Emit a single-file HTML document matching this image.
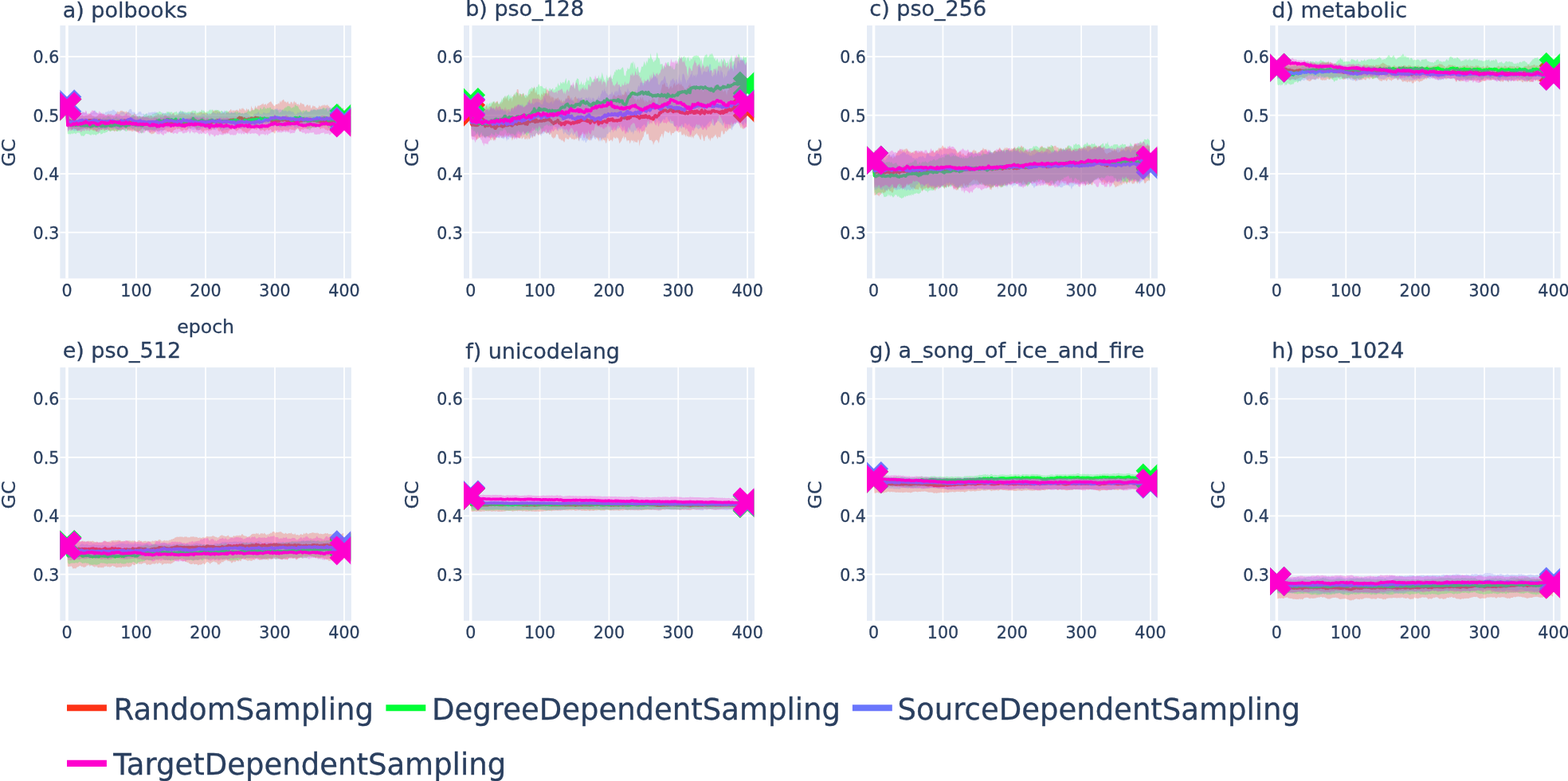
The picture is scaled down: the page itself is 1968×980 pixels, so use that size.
<!DOCTYPE html><html><head><meta charset="utf-8"><title>GC per epoch</title><style>html,body{margin:0;padding:0;background:#fff;overflow:hidden;width:1968px;height:980px}svg{display:block}text{font-family:"DejaVu Sans","Liberation Sans",sans-serif;fill:#2a3f5f;stroke:#2a3f5f;stroke-width:0.3px}</style></head><body>
<svg width="1968" height="980" viewBox="0 0 1968 980">
<rect width="1968" height="980" fill="#fff"/>
<defs>
<clipPath id="c00"><rect x="75.40" y="31.90" width="364.80" height="317.50"/></clipPath>
<clipPath id="c01"><rect x="582.00" y="31.90" width="364.30" height="317.50"/></clipPath>
<clipPath id="c02"><rect x="1088.00" y="31.90" width="364.30" height="317.50"/></clipPath>
<clipPath id="c03"><rect x="1594.00" y="31.90" width="363.90" height="317.50"/></clipPath>
<clipPath id="c10"><rect x="75.40" y="461.10" width="364.80" height="317.80"/></clipPath>
<clipPath id="c11"><rect x="582.00" y="461.10" width="364.30" height="317.80"/></clipPath>
<clipPath id="c12"><rect x="1088.00" y="461.10" width="364.30" height="317.80"/></clipPath>
<clipPath id="c13"><rect x="1594.00" y="461.10" width="363.90" height="317.80"/></clipPath>
</defs>
<rect x="75.40" y="31.90" width="365.50" height="317.50" fill="#E5ECF6"/>
<path d="M171.00 31.90V349.40M258.00 31.90V349.40M345.00 31.90V349.40M432.00 31.90V349.40M75.40 291.60H440.90M75.40 218.10H440.90M75.40 144.60H440.90M75.40 71.10H440.90" stroke="#fff" stroke-width="1.72" fill="none"/>
<path d="M84.00 31.90V349.40" stroke="#fff" stroke-width="3.44" fill="none"/>
<rect x="582.00" y="31.90" width="365.00" height="317.50" fill="#E5ECF6"/>
<path d="M677.55 31.90V349.40M764.40 31.90V349.40M851.25 31.90V349.40M938.10 31.90V349.40M582.00 291.60H947.00M582.00 218.10H947.00M582.00 144.60H947.00M582.00 71.10H947.00" stroke="#fff" stroke-width="1.72" fill="none"/>
<path d="M590.70 31.90V349.40" stroke="#fff" stroke-width="3.44" fill="none"/>
<rect x="1088.00" y="31.90" width="365.00" height="317.50" fill="#E5ECF6"/>
<path d="M1183.45 31.90V349.40M1270.30 31.90V349.40M1357.15 31.90V349.40M1444.00 31.90V349.40M1088.00 291.60H1453.00M1088.00 218.10H1453.00M1088.00 144.60H1453.00M1088.00 71.10H1453.00" stroke="#fff" stroke-width="1.72" fill="none"/>
<path d="M1096.60 31.90V349.40" stroke="#fff" stroke-width="3.44" fill="none"/>
<rect x="1594.00" y="31.90" width="364.60" height="317.50" fill="#E5ECF6"/>
<path d="M1689.30 31.90V349.40M1776.20 31.90V349.40M1863.10 31.90V349.40M1950.00 31.90V349.40M1594.00 291.60H1958.60M1594.00 218.10H1958.60M1594.00 144.60H1958.60M1594.00 71.10H1958.60" stroke="#fff" stroke-width="1.72" fill="none"/>
<path d="M1602.40 31.90V349.40" stroke="#fff" stroke-width="3.44" fill="none"/>
<rect x="75.40" y="461.10" width="365.50" height="317.80" fill="#E5ECF6"/>
<path d="M171.00 461.10V778.90M258.00 461.10V778.90M345.00 461.10V778.90M432.00 461.10V778.90M75.40 720.70H440.90M75.40 647.30H440.90M75.40 573.90H440.90M75.40 500.50H440.90" stroke="#fff" stroke-width="1.72" fill="none"/>
<path d="M84.00 461.10V778.90" stroke="#fff" stroke-width="3.44" fill="none"/>
<rect x="582.00" y="461.10" width="365.00" height="317.80" fill="#E5ECF6"/>
<path d="M677.55 461.10V778.90M764.40 461.10V778.90M851.25 461.10V778.90M938.10 461.10V778.90M582.00 720.70H947.00M582.00 647.30H947.00M582.00 573.90H947.00M582.00 500.50H947.00" stroke="#fff" stroke-width="1.72" fill="none"/>
<path d="M590.70 461.10V778.90" stroke="#fff" stroke-width="3.44" fill="none"/>
<rect x="1088.00" y="461.10" width="365.00" height="317.80" fill="#E5ECF6"/>
<path d="M1183.45 461.10V778.90M1270.30 461.10V778.90M1357.15 461.10V778.90M1444.00 461.10V778.90M1088.00 720.70H1453.00M1088.00 647.30H1453.00M1088.00 573.90H1453.00M1088.00 500.50H1453.00" stroke="#fff" stroke-width="1.72" fill="none"/>
<path d="M1096.60 461.10V778.90" stroke="#fff" stroke-width="3.44" fill="none"/>
<rect x="1594.00" y="461.10" width="364.60" height="317.80" fill="#E5ECF6"/>
<path d="M1689.30 461.10V778.90M1776.20 461.10V778.90M1863.10 461.10V778.90M1950.00 461.10V778.90M1594.00 720.70H1958.60M1594.00 647.30H1958.60M1594.00 573.90H1958.60M1594.00 500.50H1958.60" stroke="#fff" stroke-width="1.72" fill="none"/>
<path d="M1602.40 461.10V778.90" stroke="#fff" stroke-width="3.44" fill="none"/>
<g clip-path="url(#c00)">
<g transform="translate(84.00 0) scale(0.8700 1)">
<path d="M0 133.6l1 10.6 1-.8 1 .7 1-.2 1 .7 1 .7 1 .2 1-1.2 1-.6 1-.1 1 0 1 1.1 1 .6 1-1.1 1-.4 1 2 1 .8 1-1.5 1 .3 1 .1 1-.9 1-.7 1 1.6 1-.2 1 .7 1-1.3 1 .3 1-.4 1 .3 1-.7 1-.2 1-2.1 1 .7 1 .5 1 .5 1 .9 1 1.1 1 .1 1-.1 1 1.3 1-.7 1 .5 1-1 1-.2 1-1.4 1 .1 1-1.5 1 .5 1 .1 1-1.2 1 1.5 1-.2 1 .5 1-1 1 2.3 1-1 1 .6 1-1.3 1-.6 1-.3 1 .8 1-.1 1 .4 1-1.1 1 1.7 1 .5 1 1.2 1-1.1 1 1.4 1-2.5 1-1.3 1-.9 1-2.2 1 .9 1 .7 1-1.1 1-.4 1-1.1 1 .9 1-.8 1 1.8 1-.7 1 .7 1 .7 1-1 1-.6 1 1.7 1-.2 1-.1 1 .8 1 1.3 1-1.2 1 2.2 1 .7 1-.9 1 .3 1-1.8 1 .8 1 .3 1 2 1 .5 1 0 1 .3 1-.6 1 .8 1-.5 1 .6 1 .2 1 0 1-1 1 .9 1 .5 1 .2 1-1.8 1 1.5 1-1.2 1-.4 1-.4 1 1.7 1-.7 1-1.5 1 .5 1 1.4 1 .9 1-.1 1-1.3 1-.4 1-1.2 1 .8 1-.5 1-1.4 1 .3 1 .1 1 1.2 1-1.8 1 1.2 1-.9 1-.7 1 1.8 1 .8 1-1.7 1 .5 1 0 1 0 1 2 1-2.7 1 1.7 1-.3 1-3.5 1 4 1-1.9 1 .5 1-1.6 1-1.1 1 3.2 1 .5 1-.2 1-1.6 1 1.3 1-1.1 1 1.1 1-.9 1-1 1 .5 1 1 1-3 1 3.2 1-2 1 .6 1 .4 1 .9 1-.6 1 .6 1-.3 1-.3 1 .1 1 .8 1-.9 1-2.4 1-.1 1 .1 1 1.9 1-.9 1 .2 1-1.7 1 3.2 1-.2 1-1.7 1 1.3 1-1.3 1-.2 1 0 1-1.2 1 .5 1 .3 1 1.4 1-.8 1-1 1 .8 1 .4 1-.8 1 1.2 1 .2 1 1.6 1 .5 1-2 1 .5 1-.6 1-.6 1-2 1-2.5 1 2 1 .1 1-1.1 1 .6 1 .1 1-1.3 1 2.4 1-.6 1 .5 1-.3 1 3.5 1-1.5 1 .7 1-.5 1 .1 1-1 1 2.8 1-1.7 1-1.3 1-.3 1 .7 1-1.3 1-.8 1-.5 1-1.5 1 .1 1 2.7 1-1.5 1-.3 1 .7 1-.4 1 .6 1-1.3 1 .5 1-.8 1 1.7 1-.2 1-3.1 1 .7 1 1.7 1-2.9 1 1.6 1-1.9 1 1.9 1 .2 1 1.6 1 .4 1-3.6 1 2.3 1-.4 1-1.1 1 3.6 1 .1 1-1.4 1-6.1 1 3.2 1 .3 1 2.4 1-1 1-2.4 1-2.8 1 2.9 1 .3 1-2.2 1-1.4 1 1.6 1-1.3 1-.1 1-.4 1-1.3 1 .6 1-2 1 2.8 1-.7 1-.4 1-.5 1 2.5 1-2.5 1-.5 1-.2 1-1.5 1 .2 1-1.1 1 1 1 1.8 1 .8 1 1.6 1 .4 1 .5 1-2.1 1 0 1-.1 1-.2 1-1.5 1 1.6 1-2.6 1-2 1 2.6 1-2.7 1-.1 1-1.4 1 .5 1 2.9 1-.9 1 .5 1 1.9 1-1.9 1-.5 1 2.9 1 .2 1 .2 1-3.1 1 .5 1 .8 1 2.4 1-3.1 1-1.5 1 2.9 1-1.6 1 1.6 1 1.7 1 0 1-1.1 1 2.5 1-1.3 1-2.5 1 .3 1 1.9 1-.9 1 .8 1-.1 1 2.7 1 1.1 1-2 1-.5 1-1.1 1 1.2 1 1.3 1-1.6 1 0 1 4.1 1-.4 1-1.5 1-1.9 1 1.3 1-.1 1-.1 1 2.2 1-.7 1 1.7 1-1.1 1-.9 1-2.5 1 1.6 1 .4 1-1.6 1 .9 1-1.5 1-.1 1 1.4 1-2.3 1 2.1 1-.3 1-.9 1-.2 1 1.5 1 .1 1 2.1 1-.2 1 2.4 1 1.6 1-4.2 1 .6 1-.2 1-.8 1-2.1 1 1.3 1-2.6 1 3.3 1 .6 1 2.2 1-1.9 1-1 1-.4 1 1.1 1 2.9 1-2.3 1-.2 0 28.8 -1-.3 -1 1.5 -1 .5 -1-.2 -1 1.7 -1-.5 -1 .7 -1 1 -1-2.8 -1 0 -1-.6 -1-1.4 -1 1 -1 .8 -1-.3 -1-1 -1 1.9 -1-.2 -1-3.3 -1 1.8 -1-1.4 -1 .7 -1 .6 -1-1 -1-.6 -1 .6 -1-1.8 -1 .2 -1-1.8 -1 1.5 -1-.2 -1-.5 -1 1.6 -1-.3 -1-2.6 -1-1.1 -1-.2 -1 1.3 -1-1.2 -1 .8 -1-.8 -1 1.6 -1 .5 -1-1.4 -1 1.3 -1 .2 -1 1.2 -1-1.5 -1 .3 -1 .5 -1 .5 -1-.3 -1 .9 -1-.1 -1-.5 -1 .8 -1-1.2 -1 2.7 -1-1.9 -1 1.2 -1-.9 -1 2.2 -1 1.6 -1-3.7 -1-.4 -1-.6 -1 1.6 -1-1.5 -1 1.5 -1 1.3 -1-.7 -1 .2 -1-1.1 -1 .6 -1 .1 -1-1.8 -1 1.2 -1-.4 -1 1.7 -1 1.1 -1-1.4 -1-.2 -1 1 -1-1.1 -1 .1 -1-.5 -1 1.4 -1 .3 -1-.6 -1-.2 -1-.5 -1 .4 -1 1.3 -1-.8 -1-1.3 -1 1.1 -1 .2 -1 1.3 -1 2.7 -1-1.3 -1-.6 -1-.8 -1 .6 -1-1.9 -1-2.2 -1 .5 -1 1.2 -1 .2 -1-.2 -1-2 -1 1.6 -1-.2 -1 2 -1-.6 -1-.1 -1-1.7 -1 .2 -1 1.2 -1-.8 -1 1.6 -1-3 -1-.2 -1-2.4 -1 1.5 -1 2 -1 .4 -1-1.6 -1 1.2 -1-.7 -1-.4 -1-.9 -1 1.2 -1-.1 -1 1.4 -1 .4 -1 1.6 -1-.9 -1 2.7 -1-.8 -1 1 -1-1.3 -1-.1 -1-1 -1 .9 -1-1.7 -1 .9 -1-2.5 -1-.6 -1 .2 -1-.8 -1 1 -1 1.4 -1-.1 -1 1 -1-.3 -1-.9 -1-.8 -1-.8 -1-.9 -1 0 -1 2.3 -1-.2 -1-.6 -1 .9 -1 .7 -1 1.2 -1 2.2 -1-1.2 -1 .4 -1-.1 -1 1.3 -1-1.2 -1 1 -1-.1 -1 .1 -1-2.9 -1 .9 -1-2.1 -1 2.1 -1-1.1 -1-.4 -1-2.8 -1 .6 -1-.7 -1-1.2 -1 2.2 -1 .4 -1-.3 -1-.2 -1 1 -1 .5 -1 .6 -1-1.5 -1 2.2 -1-1 -1-.9 -1 .5 -1-.1 -1 2 -1-2.3 -1 .9 -1 1.6 -1 .9 -1-3 -1 1.9 -1-3 -1 .5 -1 .4 -1-.2 -1-.1 -1-.5 -1 1.3 -1-.9 -1-3.1 -1 .9 -1-1.3 -1 0 -1 .6 -1-.5 -1 1.4 -1 .6 -1 0 -1-1.6 -1 2.2 -1 1 -1 0 -1 1 -1-.5 -1-.9 -1-.3 -1 .7 -1 1.4 -1-.9 -1 1 -1-1.4 -1-1.2 -1-.3 -1-.2 -1 .6 -1 .4 -1-1.9 -1 2 -1 .6 -1-.1 -1 .6 -1 1.3 -1 1.4 -1 .5 -1 .2 -1-2.3 -1 .4 -1 .4 -1-.3 -1-.3 -1-.1 -1-2.1 -1 1.4 -1-1 -1 .2 -1 1 -1-1.1 -1 .2 -1-.1 -1-.5 -1 1.5 -1-.4 -1 .4 -1 .4 -1 .2 -1-1.4 -1 1.1 -1 1.7 -1 .9 -1 .2 -1 .9 -1-.8 -1 1.2 -1-1.1 -1-.5 -1 .1 -1-3.9 -1 .2 -1-.7 -1 .9 -1 .8 -1-1 -1-2.2 -1 1.6 -1-2.5 -1 .2 -1 1 -1 1.4 -1 .6 -1 .4 -1-.4 -1 2.9 -1-.8 -1-.1 -1 .3 -1-3.1 -1 1.1 -1-.5 -1 1.1 -1 .3 -1 .6 -1-1.2 -1-.1 -1 .3 -1-.1 -1-1.1 -1 1.7 -1-3.2 -1 .3 -1-.8 -1 1 -1-1.9 -1 .4 -1 2 -1-1.3 -1 2.1 -1-1.7 -1 1.5 -1 .6 -1-.9 -1 .3 -1 .8 -1 .7 -1-.2 -1-.9 -1 2 -1-1.2 -1-.5 -1-.9 -1 1.3 -1-.8 -1 .9 -1 0 -1-1.1 -1-1 -1-1.4 -1 1.7 -1 .4 -1-1.5 -1 2.7 -1-.6 -1 0 -1-1.5 -1 1.3 -1-.4 -1 .1 -1-1.1 -1 .2 -1 .5 -1-.5 -1 1.9 -1 1.4 -1-.6 -1-1.2 -1 .7 -1-.1 -1-.3 -1 0 -1-1.6 -1 .8 -1-.5 -1-.3 -1-1.3 -1 .1 -1 .3 -1 .6 -1-.2 -1-.1 -1-.7 -1-.4 -1 .3 -1 1.5 -1-1.4 -1 .9 -1 .8 -1-1.2 -1 2 -1-.8 -1 1.7 -1-1.1 -1 .3 -1-1.3 -1-.8 -1 .8 -1-1.9 -1 1.6 -1-.2 -1 1.2 -1-1 -1-1.4 -1-.9 -1 .9 -1 .8 -1-2.3 -1-25.7z" fill="rgba(253,50,22,0.25)"/>
<path d="M0 133.6l1 18.2 1-.2 1-.2 1-.1 1 .5 1 .4 1 .7 1-.2 1-.7 1-.7 1 1.3 1-.4 1 1.4 1 0 1 .1 1 .9 1-.5 1-.1 1 0 1-.5 1-.7 1-.2 1 .8 1 .6 1-.3 1-.7 1 .2 1 0 1-.3 1-.3 1-1 1-.8 1 .7 1-.7 1 .5 1-.1 1 .7 1 .5 1-.4 1 1.5 1-.6 1 .5 1-.1 1-.7 1-1 1-.2 1-.1 1 .2 1 .6 1-.2 1 .5 1 .5 1 1.2 1-1 1 1.1 1-2 1 .8 1-.7 1 .4 1-.4 1 .1 1 .1 1 1.5 1-.5 1 .2 1-.3 1 .8 1-.4 1 1.1 1-1.3 1-.2 1-.9 1 .1 1 .2 1-.3 1 .5 1-.8 1-.6 1 .8 1-.6 1 1.2 1-1.1 1-.7 1 .9 1-.9 1-.2 1 .2 1 .8 1 .6 1 .5 1 .9 1-.6 1 .8 1 .7 1-.7 1-.5 1-.8 1 .8 1 0 1 1.3 1 0 1-.6 1 .5 1-.8 1 .4 1-.9 1 .7 1-.2 1-.8 1-.3 1 .4 1-.4 1 .8 1-.2 1 1 1-.5 1-.1 1-1 1 2.3 1-.5 1-.3 1 .6 1 .3 1 .2 1-.5 1-.5 1 .1 1 .1 1 .1 1-.7 1-.6 1 0 1-.1 1 .7 1-.5 1 .2 1 0 1-.5 1 .6 1 .2 1-1.1 1 .1 1 .2 1 .1 1 1.1 1-1.1 1 .1 1 0 1-.6 1 1.8 1-1 1 .1 1-.8 1-.7 1 .8 1 1.1 1-.5 1-.2 1 .7 1 .1 1 .3 1-.2 1-.1 1 0 1 1.1 1-1.3 1 1.5 1-1.4 1 0 1-.7 1 .8 1 .3 1-.3 1 .1 1-.5 1-.8 1 1.3 1-.6 1-.5 1-.2 1 .1 1 1 1-1.8 1 1.3 1-1.8 1 2.2 1 .3 1-.7 1 .1 1 .7 1-1.2 1 .6 1 0 1 1.1 1-.3 1 .9 1-1.8 1 .4 1 .1 1-.2 1-.2 1 .5 1-.2 1 .7 1 .3 1-1.5 1 .3 1 .1 1-.8 1-.4 1-.5 1-.2 1-.4 1 .4 1 1 1-.3 1-2 1 1.7 1 .1 1 .3 1-.8 1 1.5 1-1 1 1 1-.7 1-.5 1-.4 1 1 1-.2 1-.2 1-.9 1 .6 1-1.1 1-.1 1-.5 1-.2 1-.3 1 .8 1-.6 1-.4 1 .3 1 .1 1 .2 1 .4 1 .3 1-1.6 1-1.2 1 .3 1-1.5 1 .3 1 .4 1-.2 1 2.5 1-.8 1 1.2 1-1.8 1 .7 1 .7 1-.3 1 .2 1-.1 1-1 1 .6 1-.4 1-.7 1-.5 1 .3 1 0 1 1.1 1-.8 1 0 1-1.4 1 1 1-.4 1-.1 1 .2 1 1.2 1-.1 1 .8 1-.4 1-.1 1-.9 1 .4 1 .4 1 .2 1 .4 1 0 1 0 1-.6 1-.2 1 .6 1 .6 1-.3 1 .1 1 1 1 1.9 1-.4 1 .8 1-.6 1 .3 1-.6 1-1.2 1 .8 1-.5 1-.1 1 .4 1-.5 1-1.1 1 .1 1 0 1 .5 1-.2 1-1.1 1 .3 1 0 1 .7 1 .8 1-.4 1 .4 1 .7 1-1.1 1 1.4 1-1.1 1-.7 1 .1 1 .7 1 .2 1 0 1 .7 1-.6 1-1.8 1 1.4 1 .2 1-.3 1-.1 1 .8 1-1.1 1 .9 1-.1 1-.4 1-.4 1-1.4 1 1.4 1-.8 1 .4 1 .1 1-1 1 .7 1-.5 1 0 1 .1 1 .8 1 .4 1-1 1-.5 1 1.5 1-.1 1 0 1 .5 1 .3 1 .3 1-.5 1 .2 1 .7 1 .3 1 0 1-1.1 1 .7 1 0 1-1.1 1 1.2 1-.7 1 .8 1-.2 1 .3 1-.3 1 .4 1-.5 1 .9 1-.7 1 1.2 1 .1 1-1.3 1 .8 1-.7 1 .3 1 .3 1-.3 1-.6 1-.1 1 1 1 .9 1-1.5 1 1.4 1-.8 1 .3 1 .1 1-1.1 1 .2 1 0" fill="none" stroke="#FD3216" stroke-width="3.6" vector-effect="non-scaling-stroke" stroke-linejoin="round"/>
</g>
<path d="M84.0 124.4 93.2 115.2 102.4 124.4 93.2 133.6 102.4 142.8 93.2 152.0 84.0 142.8 74.8 152.0 65.6 142.8 74.8 133.6 65.6 124.4 74.8 115.2Z M432.0 143.5 441.2 134.3 450.4 143.5 441.2 152.7 450.4 161.9 441.2 171.1 432.0 161.9 422.8 171.1 413.6 161.9 422.8 152.7 413.6 143.5 422.8 134.3Z" fill="#FD3216"/>
<g transform="translate(84.00 0) scale(0.8700 1)">
<path d="M0 133.6l1 13.6 1 1.3 1-1.2 1-.1 1 2.8 1-.4 1 .1 1-.5 1-.6 1-1.4 1-.1 1 .5 1 2.7 1 .2 1 0 1 .8 1-1 1-1.2 1 .3 1 .2 1-.8 1-.2 1 1.1 1-1.6 1-.7 1 1 1-1 1 2.2 1-.3 1-.3 1 .4 1-.7 1 .8 1 2.1 1-1.7 1-2.3 1 1.4 1-1.8 1 .2 1 .1 1-.3 1 .4 1-.9 1 1.4 1-1 1 1.7 1-.5 1-1.2 1 1.8 1 .8 1-1.8 1-.2 1-.2 1-.5 1 1.4 1-1 1 .1 1-.3 1-1.8 1 .6 1-.2 1 1.8 1-.1 1 1.1 1 .3 1 .9 1-2.9 1 1.5 1-.3 1-.9 1-.5 1-.5 1 1.6 1 1.1 1-2.3 1 2.6 1-.9 1 .9 1-1.3 1-.4 1 1.8 1-1.3 1 1.5 1-.1 1 1.4 1-1.3 1-2.1 1 .6 1 .1 1 .3 1-1.7 1-.3 1-.8 1-1.6 1 .3 1-.2 1 .5 1 1 1 1.2 1 2.1 1-3.4 1 .6 1 1.1 1-2.1 1-.1 1 1.9 1 .3 1-.4 1 .5 1-.8 1-3.3 1 1 1-1 1 .4 1-1.8 1 2.4 1 1.2 1-1.8 1 .5 1 .2 1-.1 1 .8 1-1.7 1-.5 1 .2 1-.6 1-.3 1-.1 1 .1 1-1.4 1 0 1 .9 1-2.3 1 .6 1 .4 1 .6 1 .4 1 1.8 1-.3 1-.8 1 .4 1-.2 1 .3 1-2.8 1 1.1 1-.8 1 .4 1 .3 1-.3 1 .5 1-.8 1 .8 1 1.8 1-.7 1-1.3 1-.3 1 .4 1-1.2 1 1.4 1 1.7 1-1.2 1-.9 1-.1 1-2.4 1 1.9 1-1.2 1 1.5 1-.4 1 1.7 1-2 1 1.7 1-.7 1 1.4 1-1.5 1-.5 1 .2 1 .6 1-.7 1 .6 1-1.7 1 .2 1-1.3 1 2.1 1-1.6 1 .9 1-.3 1 2.5 1 0 1-.9 1 .6 1-2 1 1 1 .1 1-2.6 1 .1 1 1.7 1-1.3 1 .8 1 1 1 .9 1 .4 1-2.2 1 1.3 1-.6 1-1.3 1-1.2 1 1.4 1-1.6 1 1.6 1-1.6 1 2.6 1 .2 1-2.1 1 .8 1-1 1 .7 1-.3 1 .3 1-.2 1 .8 1 1.9 1-1.5 1-.5 1 .1 1 1.7 1 .9 1-.7 1-.8 1-.9 1-.4 1 .3 1 .4 1 1.1 1 .5 1 1.6 1-.2 1-1.5 1 1 1-.3 1 .5 1-.5 1 0 1-2.3 1 2 1-1.7 1-.2 1 1.8 1 .3 1-.3 1-.3 1 1.4 1 .8 1-1.3 1 .1 1 1 1-1 1-1.3 1 1.4 1-.7 1-1.3 1-.2 1-3 1 2.2 1 .5 1 .7 1-1.3 1-.7 1-.3 1 .8 1-.4 1-.5 1-2.2 1 .8 1 .3 1 .7 1-1 1 2.7 1-1.4 1-2.6 1 .7 1 1.8 1-.6 1-.7 1-2.6 1 .5 1 3 1-1.6 1 1.3 1-1.3 1-.9 1 1.8 1-1.2 1-.9 1 .3 1 2.6 1-.4 1-.4 1 1.8 1-1.2 1 1 1-1.1 1 .8 1-.1 1 .8 1-.1 1 4.3 1-2.7 1 1.1 1-.5 1-2.3 1-.9 1 .2 1-.4 1-2.1 1 .8 1-2.3 1 1.6 1-2.6 1 .9 1-.7 1 .7 1 .1 1 1.7 1 1 1-1.9 1 .9 1-1.6 1 1.3 1-3.9 1 .6 1 1.3 1 .1 1 .2 1 1.3 1 2.5 1 .3 1 .5 1 1.4 1 1.8 1-2.6 1 .6 1-1.1 1 2.1 1-1.6 1-.5 1 0 1 1.9 1 .1 1 .1 1 0 1-.2 1-2.5 1 1.9 1-.7 1-.3 1-1.4 1 .9 1-.2 1 .5 1 .9 1-2.2 1 1.5 1-1.1 1 .4 1 .5 1-1.4 1-.1 1 .8 1-1.9 1-.7 1 .6 1 .1 1 1.1 1-.9 1 .9 1 3.9 1-1.2 1-1.2 1-2.2 1 2 1 .9 1-1.1 1 0 1 .2 1-2.3 1 .1 1 1.2 1-1.8 1-1.4 1-1.4 1-2.5 1 .6 1 1.7 1 1.9 1-.4 1 2.9 1-.8 1-.3 1 .6 0 22.3 -1-.1 -1-.4 -1 1.8 -1-1.5 -1-.8 -1-.3 -1-2.2 -1 .7 -1 .2 -1-1 -1 1.7 -1 .1 -1 .1 -1 1.3 -1 .7 -1-1.5 -1-.1 -1 2.2 -1-.4 -1 1.1 -1 .5 -1 .9 -1-3 -1-.3 -1-.8 -1 .6 -1 .5 -1-.5 -1-.8 -1 1.3 -1 .5 -1-.6 -1-1.5 -1 2 -1 1.3 -1-.8 -1 1.9 -1-2.6 -1 2.6 -1-1 -1-.2 -1 1.1 -1-.8 -1 .3 -1 .1 -1-.5 -1 1.1 -1 2.5 -1-.4 -1-1.1 -1 .1 -1 .3 -1-2.1 -1-1.3 -1-.3 -1 .5 -1-1.8 -1 1.8 -1-1.8 -1-.4 -1-1.3 -1-.5 -1-2.2 -1 4.1 -1-.4 -1 .7 -1-1.6 -1-.2 -1-2 -1 .9 -1 1.8 -1-.9 -1 1.4 -1-.8 -1 2.2 -1-1.4 -1-1.6 -1 .6 -1-.7 -1 0 -1 .2 -1 1.5 -1-1 -1 .9 -1 0 -1 .1 -1-.3 -1 .6 -1 1.2 -1 0 -1 .3 -1 .3 -1 .1 -1-1.5 -1 .5 -1 .2 -1 0 -1-1.1 -1-.8 -1 .7 -1-.4 -1-2.6 -1 1.4 -1 .4 -1 .2 -1-.5 -1 1 -1-1.3 -1-.7 -1-.6 -1 .6 -1 .2 -1-.1 -1-1.7 -1 1.1 -1 .6 -1 .8 -1 .3 -1-1.3 -1-.1 -1 3.6 -1-1.4 -1 .4 -1 .2 -1-.8 -1 .6 -1 .2 -1 .7 -1 .4 -1-.7 -1-1.2 -1 1.8 -1-2.3 -1 .2 -1-.6 -1 .6 -1-.3 -1 1.1 -1-.3 -1 1.4 -1-.9 -1 0 -1 2 -1-.8 -1 1.4 -1-.2 -1-.4 -1 1.6 -1-1.4 -1 .8 -1 .2 -1-1.1 -1-2.4 -1-.5 -1 .3 -1-1.7 -1 1.6 -1-.5 -1 .5 -1 .2 -1 1.1 -1-.6 -1 1.1 -1-.7 -1 .4 -1 1.1 -1 .4 -1-.4 -1 2 -1-1.3 -1 1.4 -1-.7 -1 .2 -1-.9 -1 .4 -1 .7 -1 1 -1 .7 -1-3.3 -1-.2 -1-.6 -1 .5 -1 1.7 -1-1.6 -1-.9 -1 .3 -1 2.2 -1 0 -1-2.1 -1-.1 -1 .5 -1 0 -1-.7 -1 .4 -1 1.3 -1 .1 -1-1.4 -1 2.3 -1 .1 -1-1.4 -1 .3 -1-1.1 -1 .9 -1-1.4 -1-.2 -1 1.4 -1 .5 -1-.1 -1 0 -1 .3 -1 1.3 -1-.1 -1-2.5 -1 .8 -1-1.4 -1-.6 -1-1.7 -1 1.1 -1 .5 -1 .2 -1 .7 -1 .1 -1-.4 -1-.3 -1-.2 -1 .3 -1 .7 -1-.6 -1 1.5 -1 .7 -1-.4 -1-.2 -1 .7 -1 .1 -1-3.2 -1 2.4 -1-.3 -1 .8 -1 .4 -1-1.4 -1-1.1 -1-1 -1 .4 -1-1 -1 1.3 -1 .4 -1-1.1 -1 0 -1 .1 -1-1 -1 .7 -1-.5 -1 .6 -1 2.2 -1-1.4 -1 .2 -1 .7 -1-.9 -1-1.1 -1 .4 -1 1.5 -1 .4 -1-.1 -1 .9 -1-1.3 -1 .5 -1 3.1 -1-1.3 -1-.6 -1 2.8 -1-1.4 -1 1.5 -1-.9 -1 .1 -1 .5 -1-.3 -1 1.2 -1-1 -1-.5 -1 .2 -1 .3 -1 1 -1-.3 -1-1.2 -1 1.8 -1-.5 -1 0 -1-.1 -1 2.4 -1 1.6 -1-.8 -1 .7 -1-1.8 -1-1.2 -1 .3 -1 .6 -1-1.1 -1-.3 -1 .9 -1-.3 -1 0 -1-1.6 -1-.9 -1 .4 -1-.7 -1-.3 -1-.9 -1 1.9 -1 1.1 -1-1.5 -1 .4 -1 1.3 -1 1.1 -1 .3 -1-1.5 -1 .1 -1-1.3 -1 .7 -1-.7 -1 1 -1 .6 -1 .3 -1 .9 -1-2.3 -1 2 -1 .1 -1 .2 -1-1.7 -1-.4 -1 .6 -1 .6 -1-.9 -1 .9 -1-1.1 -1 1.4 -1 .6 -1-.4 -1-.6 -1-.9 -1 1.4 -1 1 -1 .3 -1-.3 -1 1.5 -1-.9 -1 0 -1 .5 -1 1.2 -1 0 -1 .9 -1-2.6 -1 .7 -1 .1 -1 1.1 -1 0 -1 .1 -1 1.8 -1-1.2 -1 .1 -1-.9 -1 1.5 -1-1.2 -1-.2 -1 1.8 -1-.6 -1-.3 -1-.8 -1-.2 -1 0 -1-.1 -1-.4 -1 .3 -1 1.2 -1 1.2 -1 .4 -1 0 -1-.8 -1 1 -1-1.3 -1-1.9 -1-1.3 -1 0 -1 .3 -1-.4 -1 .6 -1 1.4 -1-.6 -1-.9 -1 .7 -1-.3 -1 1.3 -1-1.4 -1 .6 -1 1.3 -1-1.4 -1 1 -1-.9 -1 .8 -1-35z" fill="rgba(0,254,53,0.25)"/>
<path d="M0 133.6l1 23.1 1 .1 1-1.3 1-.2 1 1.7 1-.3 1 .2 1 .4 1-.8 1 .4 1-.7 1 .9 1 .3 1-.7 1-.6 1 .8 1-1 1 .1 1 .9 1 .9 1-.2 1 .1 1 .1 1-.3 1 0 1 .4 1-1.4 1 1.2 1 0 1 .2 1-.1 1-.2 1 .4 1 .9 1-.5 1-1.2 1 1.2 1-.7 1-.5 1 .3 1-.3 1 .9 1-.8 1 .7 1-1 1 0 1 .2 1-.8 1 2 1-.4 1 .5 1-1.1 1 .4 1 .4 1 .4 1-.9 1 .5 1-.5 1-.5 1-.4 1 .2 1 1 1-.4 1 .7 1-.5 1 .2 1-1.1 1-.2 1 .7 1-.7 1-.1 1 .2 1 .5 1-.3 1-.9 1 2 1-.3 1 .3 1-1.3 1-.3 1 .5 1-.9 1 1 1 .7 1 .7 1-.6 1-1.2 1 0 1-.3 1 .6 1-1 1-1 1 .1 1-.5 1 1.2 1-.9 1 1.1 1 .7 1 .3 1-.1 1-.4 1 0 1 .4 1-.4 1-.1 1 .1 1 1 1-.1 1 .2 1-1 1-2 1 1.2 1-.2 1-.3 1-1.3 1 1.9 1 .1 1 0 1 .1 1-.9 1 .1 1 .6 1-1.2 1-.1 1-.5 1 .2 1-.7 1-.5 1 .5 1-2.2 1 .4 1 .6 1-1.9 1 .5 1 .7 1 .6 1-.2 1 .6 1-.9 1-1 1 .8 1 .7 1-1.1 1-1.2 1 1.3 1-1.6 1 .4 1 .1 1 .3 1 .6 1-1.1 1 .7 1 .8 1 0 1-1 1 .2 1-1.4 1 1.3 1 .7 1 .9 1-.4 1-.2 1-.1 1-1.3 1 1.7 1 0 1-.2 1 .6 1 .7 1-.4 1-.5 1 0 1 .4 1-.1 1-.8 1 .6 1-.1 1-.6 1-.5 1-.4 1 0 1-2.1 1 1.3 1 .7 1 .5 1 .4 1 1.4 1 .1 1-.6 1 .3 1-.9 1 .2 1 .1 1-1.3 1-.4 1 2 1-.6 1 .5 1 .3 1 .5 1-.1 1-.8 1 .7 1-.7 1-.6 1-.3 1 0 1-.3 1-.3 1 0 1 1.6 1 .6 1-.8 1-.5 1 .6 1 .4 1-.9 1 .2 1-.4 1 .3 1 1.9 1-.2 1-1.3 1-.3 1 .6 1-.1 1-.3 1 0 1-.2 1 .8 1-.5 1 .1 1-.1 1-.3 1 .7 1 .6 1-1.6 1 1.3 1-1.2 1 .3 1-.5 1 .2 1-1.3 1 1.5 1-.5 1-.5 1 1.4 1 1.4 1-1.1 1-.2 1 .7 1-.2 1-.1 1-.3 1-.6 1-.6 1-.7 1 1.2 1 .8 1-.9 1-.4 1-.6 1 0 1-.4 1 .8 1-.4 1 .3 1-1.1 1 .2 1 1 1-1.1 1 .1 1-.2 1-.7 1 .7 1-.2 1 .1 1 .4 1-2 1 1.1 1 .7 1-.1 1-.4 1-.4 1-.8 1 1.5 1-.7 1 .1 1 .3 1-.2 1 0 1 .2 1-.2 1-.2 1 .5 1-.2 1-1.7 1 2.1 1-.6 1-.3 1 .1 1 .1 1-.6 1 .5 1-.9 1 .9 1 .4 1 0 1 .5 1-.2 1-1.1 1 .7 1 0 1-.4 1 0 1-.3 1 .4 1-.4 1 .1 1 .4 1 0 1 0 1 1.3 1 1 1-1 1 .4 1-1.2 1-.2 1-1.7 1 0 1 .8 1-.6 1 1 1 .1 1 .8 1-2.6 1 1.4 1 .5 1 .2 1-.3 1 2 1-1.7 1 1.9 1-1.6 1 .1 1 .8 1 1.6 1 0 1-.5 1 .2 1 .1 1-.9 1-.5 1-.6 1 .5 1-.8 1 1.2 1-.3 1 .3 1 .8 1-1.8 1 1.3 1-1 1 .4 1-.6 1-.8 1 .2 1 .6 1-.7 1-.6 1-.5 1 .4 1 .1 1-.5 1 .7 1 .9 1 1.5 1-.7 1-.8 1 .5 1 .5 1-1.2 1-.4 1 1 1-.9 1-1 1 .2 1-.9 1 .1 1 .5 1-.7 1-.4 1 1.3 1 .7 1-.2 1 1.2 1-.9 1 .4 1-1.1 1 0" fill="none" stroke="#00FE35" stroke-width="3.6" vector-effect="non-scaling-stroke" stroke-linejoin="round"/>
</g>
<path d="M84.0 124.4 93.2 115.2 102.4 124.4 93.2 133.6 102.4 142.8 93.2 152.0 84.0 142.8 74.8 152.0 65.6 142.8 74.8 133.6 65.6 124.4 74.8 115.2Z M432.0 139.1 441.2 129.9 450.4 139.1 441.2 148.3 450.4 157.5 441.2 166.7 432.0 157.5 422.8 166.7 413.6 157.5 422.8 148.3 413.6 139.1 422.8 129.9Z" fill="#00FE35"/>
<g transform="translate(84.00 0) scale(0.8700 1)">
<path d="M0 130.6l1 13.1 1-.7 1-1.5 1 .8 1-1.9 1 1.4 1-.6 1 .3 1 1.8 1-1.2 1 1.3 1 1.1 1-2.8 1 1 1-.2 1 0 1 .5 1 .7 1 .5 1 .1 1-.9 1-4.3 1 1.6 1-.3 1 1.8 1-.5 1-.3 1-1.6 1 3 1 .4 1 1.2 1-.1 1-.8 1-1.1 1-1.4 1 .4 1 .1 1-1.6 1-.6 1-.8 1 .2 1 .8 1 2.4 1 .4 1 .2 1 .5 1-1.3 1 1.4 1-1.5 1 3 1-2.2 1-2 1 2 1 .7 1-1.8 1-1.1 1 .7 1-1.4 1 1.6 1-3.1 1 2.4 1-1.2 1 0 1-.5 1 .7 1-2.2 1 .8 1-.5 1 1.6 1 .9 1-.2 1 .9 1 1.7 1 1.1 1-.6 1-.3 1-.5 1-2.1 1 .9 1-.9 1 .5 1 .1 1 .4 1 2.6 1-.8 1-1.1 1-.4 1-1.3 1-1.1 1-1.5 1-.6 1 .4 1-.1 1 2.9 1 1.2 1-.9 1 .7 1-.4 1 2.3 1 .3 1-.7 1 .3 1-1.5 1-1.3 1 .4 1-.6 1 .7 1 2.6 1 .2 1-1 1 .6 1 .9 1-.3 1-1.1 1 .6 1-.7 1 .8 1-2.8 1 1.4 1-.6 1 .3 1-.3 1-.9 1 1.1 1-.7 1 .3 1-1.1 1 1.2 1-.7 1 1.7 1 .6 1-.3 1 1.1 1 0 1 0 1 1 1-.7 1-2.9 1 .9 1 .4 1 .6 1-1.8 1 1.5 1 .4 1-.9 1-.7 1 .2 1 1.3 1 .2 1 .3 1 1 1-1.4 1 .7 1 .2 1 .4 1 .4 1-.3 1 0 1 .2 1-.9 1-1.6 1-1.6 1-.8 1 .4 1 1.5 1-.9 1-.6 1-.5 1 1.8 1 .8 1-.3 1 .5 1-1 1 .6 1 0 1 .4 1-.1 1-.7 1 .5 1 .3 1-.7 1-.5 1 1.5 1-.6 1 2.5 1-1.1 1 1.7 1-.2 1 0 1-.5 1 .1 1 .9 1-1.1 1-.6 1-.1 1-.8 1 .6 1-.2 1 .2 1 1.1 1 .4 1-2.9 1 .4 1 .6 1-1.4 1 1.6 1 1 1-.4 1-2.3 1 .1 1-.8 1 .9 1 .4 1-.2 1 1 1 .1 1-1.8 1 .2 1 1.8 1-2 1 1 1-.6 1 .5 1-2.2 1 .3 1 .3 1-1.8 1 .5 1 2.1 1-1.1 1 1.8 1-.3 1 .2 1 .6 1-.8 1-.4 1-1.2 1 .9 1 .2 1 .8 1-1.1 1 .1 1 .6 1 .7 1 1.6 1-.8 1-1.4 1 .2 1-.7 1 2 1-.3 1-1.2 1 1.1 1-1 1 1.8 1-1.3 1-.2 1 .1 1-1.3 1 2 1 .5 1-.7 1 2.5 1-.7 1 1.2 1 .2 1-.6 1 1.3 1-1.7 1-2.3 1 .8 1-.5 1-.6 1 .8 1-1.5 1-1 1 0 1 3.5 1-.4 1-.8 1 .3 1 .8 1-2.9 1 .3 1 .5 1-.6 1 1.7 1-.5 1-.7 1 .7 1-1.4 1 1.3 1-2.4 1-2.9 1 .8 1-.4 1 .9 1-.4 1 1.5 1-3.9 1 1.4 1-.1 1-.9 1 .7 1 1.7 1-.4 1-1.4 1 1.4 1-.9 1 1.7 1-1 1 1.3 1 .5 1-.5 1-.4 1 .4 1 .4 1 1.1 1-.7 1-1 1-.3 1 1.3 1-.9 1 1.9 1-.2 1-.6 1 1.2 1 1.2 1 1.2 1 .5 1-1.4 1 .5 1-2.4 1 .6 1 .5 1-2.2 1 .7 1-.1 1 .7 1 2.1 1-1.5 1-.8 1-1.1 1 .2 1-1 1-.1 1 2.5 1-.3 1-.7 1 .9 1-1.6 1-1.9 1 .1 1-.9 1 1.1 1-.5 1 .3 1-.7 1 1.4 1-.4 1-1.2 1 .6 1-.3 1-.7 1 .1 1 0 1 .8 1-.1 1-1.6 1 .4 1 1.3 1 .6 1-.7 1-1 1-1.9 1 0 1 2.4 1-2 1 1.1 1-1 1 .7 1-.7 1-.8 1 2.4 1 .8 1 0 1 .1 1-.1 1 1.7 1-1.7 1-.6 1 3.1 1 1 1-.6 1-.2 1-.2 1-.7 1 1.1 1-.9 0 16.9 -1 1 -1 .5 -1-.7 -1 2.2 -1-.1 -1-.5 -1-.8 -1 .5 -1-1 -1 .5 -1 .5 -1-.3 -1-1.6 -1 1.5 -1 1.1 -1-2.3 -1-1.5 -1 1.7 -1-1 -1 .6 -1-.7 -1 1 -1-1.6 -1-.4 -1 .3 -1 .7 -1 1.4 -1-.4 -1-.6 -1-.3 -1 .1 -1 .6 -1-.5 -1-2.1 -1-.7 -1 1 -1 .6 -1 .4 -1 1.3 -1-.1 -1 .2 -1 0 -1-.6 -1-.3 -1-.5 -1 .7 -1-.9 -1-.3 -1 1.6 -1 .5 -1-.7 -1 1.1 -1-.8 -1-1.1 -1 0 -1 .4 -1 .7 -1 2.6 -1-.5 -1 .4 -1-1.6 -1 .2 -1 .2 -1 2.3 -1-.4 -1 .9 -1-.5 -1-1.1 -1 .7 -1 2.2 -1-2.5 -1-2.2 -1 .2 -1 1.2 -1 .3 -1 .2 -1-.6 -1 .1 -1 .4 -1 .8 -1 0 -1-.3 -1-.1 -1-1.2 -1 .4 -1 1.1 -1-1.4 -1 .2 -1 1.1 -1 .5 -1 .1 -1-1 -1-1.2 -1 .1 -1-.8 -1 1 -1 .4 -1-.9 -1-.5 -1 2 -1 .2 -1-.4 -1-1.1 -1 .2 -1-.7 -1 2 -1 .6 -1-1.1 -1 1.4 -1-1.1 -1 .4 -1-.1 -1-1.1 -1 2.4 -1 .3 -1-.5 -1 2 -1-.7 -1-2.1 -1 3.3 -1-.2 -1-2.9 -1 .7 -1 .3 -1-.5 -1 .3 -1-.7 -1 1.2 -1-2.1 -1 .3 -1-.1 -1-.2 -1 .7 -1 1.6 -1 0 -1 .5 -1-1.4 -1-.3 -1 1 -1-1.3 -1 0 -1 1.5 -1-.3 -1-.5 -1 1.3 -1-1.3 -1 .1 -1 .8 -1 .1 -1-.9 -1-.4 -1-.9 -1 .2 -1 .6 -1 1.3 -1 .9 -1-.2 -1-1.9 -1 0 -1 .7 -1 0 -1 0 -1 1.3 -1-1 -1 .2 -1 1.1 -1-.3 -1 .4 -1 .1 -1 .8 -1-1.7 -1 .7 -1 1 -1-.2 -1 1.3 -1-.3 -1-3.2 -1 1.3 -1-1.9 -1-.1 -1-.5 -1-.1 -1 .5 -1 3.4 -1-1.6 -1 .5 -1-.2 -1-1.7 -1-.1 -1 1.2 -1 .1 -1 .4 -1-.5 -1 .7 -1-.3 -1-.8 -1-.9 -1 1.5 -1 .9 -1-2.9 -1 .1 -1-1.1 -1 2 -1-.1 -1-.4 -1 1.3 -1 1.2 -1-.2 -1 .9 -1-.1 -1 .2 -1-1.4 -1-1.4 -1 .9 -1 .1 -1 .8 -1-.6 -1 .6 -1-1.1 -1 .6 -1-1.6 -1 .7 -1-1.6 -1 1.7 -1-.1 -1-2.5 -1-1 -1 1.1 -1-.8 -1 .5 -1-2.5 -1 2 -1 .1 -1 2.5 -1-.6 -1-1.8 -1 .5 -1-.5 -1-.4 -1 1.2 -1 .4 -1-1.2 -1 .1 -1-.6 -1 .1 -1 .9 -1 .3 -1 0 -1-.1 -1 .4 -1 .7 -1-.3 -1 .2 -1-.2 -1 .3 -1-.2 -1 .4 -1 2 -1 .3 -1 .8 -1 .7 -1 1 -1 .5 -1-1.8 -1 .4 -1 1.3 -1-.2 -1-1.2 -1-.9 -1-.3 -1 .5 -1 .6 -1 .3 -1-.5 -1-.2 -1-.7 -1-1.5 -1 .3 -1 .9 -1 1.4 -1-1.8 -1 2 -1-2.1 -1 1.2 -1-.7 -1 .9 -1-1.8 -1 .1 -1-.5 -1-.2 -1 1 -1-.9 -1-.5 -1-.9 -1-.6 -1 1.1 -1 .5 -1-.9 -1-.2 -1 0 -1-.2 -1 1.4 -1-1.4 -1 1.4 -1-.9 -1-.4 -1-.5 -1-1 -1 1.2 -1 .3 -1-1.3 -1 1.3 -1-.5 -1-.1 -1 .6 -1-.2 -1 .8 -1-1.2 -1 2 -1-.7 -1-.9 -1 2.6 -1 .2 -1-.6 -1 1.3 -1-1.9 -1 .8 -1-1.2 -1 .5 -1-.2 -1-1.8 -1 1.4 -1-1.7 -1 1 -1-.6 -1 .5 -1-2.9 -1 2.2 -1-.3 -1 2.1 -1-.4 -1 1.9 -1 .4 -1-2.3 -1 .9 -1 .4 -1-1.1 -1 .5 -1 1.6 -1-1.8 -1-.2 -1 1.7 -1-.6 -1-.2 -1-1.3 -1-.6 -1-1.4 -1 1.3 -1 .6 -1 0 -1-.7 -1 .6 -1-.3 -1-.9 -1 1.7 -1-.9 -1 0 -1 1.2 -1-.8 -1 1.2 -1-2.5 -1 2 -1-.7 -1 1.9 -1-1.5 -1 1.9 -1-.6 -1-.1 -1 .8 -1-.8 -1 1.9 -1-1.6 -1 1.1 -1 1.1 -1-.3 -1-.5 -1 0 -1 1.5 -1-1.2 -1-.1 -1-1.2 -1 .4 -1-1.9 -1 .2 -1 1 -1-.4 -1 2.1 -1-1.5 -1-32.1z" fill="rgba(106,118,252,0.25)"/>
<path d="M0 130.6l1 22.9 1 1.2 1-1.3 1-.4 1-.5 1 0 1 .6 1-.3 1 .5 1-1 1 1.2 1-.1 1-1.1 1 .4 1 .9 1-1.3 1-.6 1 .8 1-1.6 1 .3 1 .2 1-.9 1 1.1 1-.2 1 1.1 1-1 1 .8 1-1.7 1 1.3 1 .1 1 .6 1 .1 1-.1 1 .1 1-.8 1 0 1 0 1-.8 1-.6 1 1.3 1-.5 1-.5 1 1.2 1-.2 1 1.5 1 .5 1-.4 1-.6 1-1.3 1 1.7 1-1.5 1 .2 1 1 1-.4 1-.7 1 .8 1 .4 1-.6 1-.1 1-.7 1 .6 1-.7 1 .9 1-.3 1 .8 1-1.5 1 .6 1 .1 1 .4 1 .2 1 .1 1 .3 1-.2 1 1.2 1-1.3 1 .4 1 0 1-2.1 1 .8 1 .2 1-.6 1 1 1-.3 1 .2 1-.9 1-.4 1 .5 1-1.2 1-.7 1 0 1-.5 1-.1 1 .3 1 1.2 1 .5 1 .2 1 .6 1-.1 1 .9 1 0 1-.5 1 .9 1-.3 1-1.1 1 .5 1-1.1 1 1 1 .8 1 .1 1-.6 1 .1 1 .3 1 1.4 1-.7 1 .4 1-.8 1 1 1-1.5 1 1.7 1-1 1-.6 1 .4 1 .2 1-.7 1 .6 1 .6 1-1.2 1 .5 1-.5 1 .2 1 1 1 0 1 .5 1-.5 1 0 1 .6 1-.4 1-1.1 1 .1 1-.4 1-.4 1-1 1 .4 1-.7 1 .5 1 .2 1 .4 1-.1 1-.4 1-.5 1 .5 1 .1 1 .1 1 .8 1 0 1 0 1 .8 1 .5 1 0 1-1.9 1-.1 1 .3 1 .2 1 .2 1 1 1-1.4 1-1 1-1.4 1 1.2 1 .3 1-.1 1 .4 1-.6 1 .8 1 .5 1-.6 1 .7 1-1 1 1.2 1 .1 1-.2 1 .6 1 1.1 1-1.1 1 .6 1-.8 1 .4 1 1.1 1 .1 1-.5 1 .1 1-.7 1-.3 1-.5 1 1 1-.3 1-.4 1 .4 1 0 1 1.6 1-.3 1-1.6 1 .4 1-.4 1-.2 1 .4 1-.6 1-.4 1-.4 1 .3 1-.8 1 1 1 .4 1 .1 1 .8 1-1.4 1-.3 1-.1 1 .2 1-1.2 1 1.4 1-.1 1 1.2 1 .4 1-.6 1-.1 1-.4 1-.4 1 1.1 1-.8 1 .7 1-.7 1 .3 1 .2 1 .4 1 .3 1-.8 1 1.1 1 .1 1-1 1 .1 1 1.3 1 1 1-.9 1-.3 1-.1 1-1 1 .2 1-.2 1 .4 1-.7 1-.3 1-.2 1 .4 1 .5 1 0 1 .4 1-.3 1-.8 1 .9 1-.2 1 .1 1 1.2 1-.6 1 .6 1-.1 1-.8 1 0 1-.3 1 0 1 1.5 1-1.4 1-.7 1 .6 1-.7 1-.4 1-1.2 1 2.8 1-.7 1-.4 1 .3 1-.3 1-.9 1-.3 1 0 1-1.5 1 .8 1 0 1-.4 1 .9 1-.7 1-.8 1 .2 1-2.2 1 .1 1-.2 1 .4 1 .1 1 0 1-1.3 1 .8 1-.3 1 .1 1-.3 1 1 1-.5 1 .2 1 1.3 1-.7 1 0 1-.6 1-.3 1 1 1-.9 1 .2 1 .6 1 .1 1 .8 1-.3 1-.6 1 .6 1 1.1 1-1.7 1 1.1 1 .3 1-1.2 1 .1 1 .2 1 1.4 1 .1 1-.5 1 .3 1-.3 1 .1 1 .6 1-1.4 1-.2 1-.6 1 1.5 1 .2 1 .4 1-.9 1 0 1-.1 1 0 1-.6 1 1.3 1-.8 1 .1 1 .7 1-.1 1-.5 1 .6 1-.7 1 0 1-.1 1 0 1-.7 1 .1 1 .3 1-1.5 1 1.2 1-.4 1-.7 1 .3 1 1.4 1-.4 1 .7 1-.8 1 .2 1 .3 1 .6 1-.7 1-.5 1-.9 1 .8 1 .5 1-.6 1 .4 1-.8 1 .3 1-.8 1 .5 1 .9 1-.8 1-.7 1 .5 1 0 1-.4 1 .2 1 .1 1 .8 1 0 1 .1 1-.1 1-.3 1-.1 1 .8 1 2.7 1 0" fill="none" stroke="#6A76FC" stroke-width="3.6" vector-effect="non-scaling-stroke" stroke-linejoin="round"/>
</g>
<path d="M84.0 121.4 93.2 112.2 102.4 121.4 93.2 130.6 102.4 139.8 93.2 149.0 84.0 139.8 74.8 149.0 65.6 139.8 74.8 130.6 65.6 121.4 74.8 112.2Z M432.0 142.8 441.2 133.5 450.4 142.8 441.2 151.9 450.4 161.1 441.2 170.3 432.0 161.1 422.8 170.3 413.6 161.1 422.8 151.9 413.6 142.8 422.8 133.5Z" fill="#6A76FC"/>
<g transform="translate(84.00 0) scale(0.8700 1)">
<path d="M0 133.6l1 9.1 1 0 1 .3 1-1.4 1 .8 1-1 1-.6 1 .1 1-.9 1-1.4 1 3.2 1 1.4 1-1.1 1-1.5 1 1.5 1 0 1-1.3 1-.8 1 .3 1 2.3 1-1 1-.7 1 .7 1-1.3 1 .7 1-.1 1-2.5 1 .6 1 3.9 1-.4 1-.2 1 .9 1 0 1-2.7 1 0 1-2.1 1 .3 1-.2 1 .7 1-.4 1 2.4 1-.3 1 0 1 .6 1 1.3 1-2 1-1.8 1 2.4 1-.7 1 1.6 1 .9 1-.9 1 1.1 1-.4 1 1.9 1-1.1 1 1.2 1-.7 1 .4 1-.9 1 1.1 1-.8 1-.5 1 2.1 1-1.8 1 .7 1-.5 1 0 1 .1 1-1.6 1 .5 1 .2 1 .3 1 .2 1-.3 1 0 1 .8 1 1.5 1-1.1 1 1.2 1-.9 1 .4 1-1.1 1 .4 1-2.8 1 .9 1 .7 1 2.2 1-1.8 1 .9 1 1.9 1-.3 1 .2 1 1 1-1.5 1-.9 1 1.5 1-.4 1-.7 1-.4 1 2.4 1-1 1 1.5 1 1.2 1-2.1 1 .3 1 .8 1-.9 1-1.2 1 0 1 1.6 1-1.1 1-.3 1 1.4 1-1.4 1 1.2 1-.3 1 .9 1 .3 1 .5 1-.1 1-.4 1-.9 1 2.4 1-2.7 1-.5 1 .6 1 .5 1-1.2 1 2.4 1-1.9 1 2 1 .2 1-.7 1-2.5 1 1.3 1 .4 1-.7 1 1 1-2.2 1-.9 1 .1 1 .6 1 .1 1 .1 1 .9 1-.3 1 .1 1 .4 1 2.3 1-1.5 1 1.2 1 .2 1 1.1 1-1.2 1-.5 1 .4 1 0 1-.2 1-.3 1-.2 1-.2 1 1.3 1 .8 1 0 1-.9 1 1.1 1-.5 1-.2 1 .5 1-.8 1 .1 1-1.6 1 .7 1-.7 1 .2 1 .4 1-1 1-.3 1-1.2 1 .3 1 1.2 1 .4 1-.9 1-1.2 1 1.5 1 0 1-.1 1-.4 1 2.1 1-1.2 1-.5 1 0 1 .6 1-.9 1 .1 1-.5 1 .6 1 1.6 1 .6 1-.6 1-1.5 1 .8 1 .6 1 .2 1 2.4 1-3 1-1.4 1 1.5 1 1.1 1-.2 1 1.7 1-.6 1 0 1-2 1-.3 1 1.6 1-1.3 1 .3 1-1.6 1 1.6 1-2 1 2 1-.2 1-.1 1-1 1 1.4 1-.8 1 .8 1-1.6 1 .2 1 .6 1 .5 1 .6 1 .6 1 1.9 1 .4 1-.4 1 .3 1-1.6 1 1.2 1 .2 1-.7 1 .3 1-1.2 1 0 1 .6 1 .1 1 .7 1-2.3 1 1.4 1-.2 1-.2 1 .9 1 .1 1 1.8 1-1.9 1-.4 1-1 1 1.1 1 .9 1-1.8 1-1.1 1 2.1 1 .4 1 .6 1 .2 1-.2 1-.2 1-.3 1-1.1 1 .8 1-.3 1-.1 1 .7 1-.4 1 1.5 1-.7 1-.1 1-1 1 1 1-.3 1 .6 1-.1 1-2.1 1 .6 1-.7 1-.9 1 1.3 1-1.2 1-1.2 1 1.8 1-.4 1-2.3 1-1.5 1 1.6 1-.7 1 .3 1-2.5 1-.8 1 1.6 1 .8 1 1.3 1 .4 1 .1 1-1.1 1 .2 1 .1 1-.7 1 .6 1-1.6 1 .5 1 .9 1-.6 1-1 1-.1 1 0 1 .4 1 1.4 1 .2 1 .5 1 1.5 1-1.4 1 1.5 1-.9 1-.3 1 .6 1 .2 1-.4 1-.6 1-.2 1-.7 1-1.5 1 3 1 .1 1 .1 1-1.6 1 1 1-.7 1 1.1 1-.2 1-1.3 1 .1 1 1.8 1-1.2 1-.1 1 .4 1-.1 1-.2 1-1 1 1 1-.6 1 1.7 1 .4 1 1.1 1-.8 1-.3 1-.3 1 .5 1-1.9 1 0 1 .9 1 1 1-.2 1-.3 1-2.3 1-.8 1 .1 1-.5 1 .6 1-.5 1 .2 1 .5 1 .4 1 0 1 .4 1-.6 1 .1 1 .1 1 .3 1-.9 1-.7 1 1 1-.6 1-.4 1 1.6 1-.5 1 .9 1-.3 1 .4 1-1.9 1 .7 1 1 1 .2 1-.2 1 0 1-.5 1-.4 1-.4 0 20.4 -1-1.6 -1 3.2 -1 .8 -1 .5 -1-1.2 -1-.8 -1-1.1 -1 0 -1 .1 -1-1.4 -1 .7 -1 1.2 -1-1 -1-2.5 -1 1.8 -1 1.4 -1 2 -1 0 -1 1.1 -1 .5 -1-.6 -1-2 -1 1.1 -1 0 -1-.4 -1 .6 -1 .6 -1-2.1 -1-.3 -1 .8 -1-.3 -1 .1 -1 .6 -1 .5 -1 .9 -1-.8 -1 .6 -1-.3 -1 .4 -1 .3 -1-.8 -1 .5 -1-2.7 -1 .2 -1 .2 -1 .3 -1-.3 -1 .1 -1-.2 -1 1.3 -1-.2 -1-1.1 -1 1.4 -1-.3 -1 1 -1-1.5 -1-.9 -1 .6 -1 0 -1-.6 -1-.8 -1-.3 -1-.1 -1-.9 -1-.9 -1-3.4 -1 1.8 -1 .9 -1 1.4 -1 2.1 -1 1.1 -1 0 -1-.8 -1 1.4 -1-.6 -1-.1 -1 1.3 -1-2.8 -1 .4 -1 .6 -1-1.4 -1 .4 -1 0 -1 1 -1-1.6 -1 .3 -1 .7 -1-.2 -1 .6 -1 .5 -1-1.4 -1 1.4 -1-1 -1 .2 -1 .7 -1-1.1 -1-2 -1 0 -1-.2 -1 1.1 -1 .9 -1-.4 -1 1.3 -1 .1 -1 0 -1 1.7 -1-.4 -1 .2 -1 1.4 -1 .7 -1-2.3 -1 1.3 -1 1.1 -1-1.6 -1 .2 -1 0 -1-.8 -1 1.3 -1-1.3 -1 1.5 -1 1.5 -1-.1 -1-1.5 -1-.9 -1-.2 -1-.7 -1-.4 -1 .5 -1-.1 -1 .1 -1-.1 -1-.4 -1 .7 -1 .2 -1 .4 -1-1.8 -1 .6 -1 1.4 -1 .1 -1-1.5 -1-.1 -1 0 -1 1.4 -1-.1 -1-.5 -1-1.3 -1 2.4 -1-.6 -1-2 -1 1.4 -1 .3 -1-1.3 -1-.8 -1 2.1 -1 .9 -1 .8 -1-.4 -1 .2 -1-.1 -1 0 -1-.9 -1 .9 -1 .1 -1-.4 -1-1.7 -1 0 -1 .2 -1 .9 -1-1.5 -1 1.8 -1-.5 -1 0 -1 .6 -1 .9 -1-.7 -1 .3 -1-.7 -1-.3 -1-.2 -1 1.5 -1 .1 -1 .1 -1-1 -1 .6 -1 1.2 -1 1.1 -1-1.1 -1-2 -1 .8 -1-.6 -1-1.3 -1 1.5 -1 2.3 -1-1.8 -1-1.4 -1-2 -1 .4 -1 1.1 -1 .9 -1-.6 -1-1.1 -1 .7 -1-1.8 -1 2.1 -1 0 -1-.4 -1-.5 -1 1.7 -1-.8 -1-1.1 -1-.4 -1-.6 -1 .7 -1-.9 -1 2.7 -1-2.3 -1 .3 -1-.4 -1-2.1 -1 1.5 -1 1.8 -1 .6 -1-2.6 -1-.9 -1 1.2 -1 .9 -1 .8 -1-1.4 -1 1.7 -1-.6 -1 .9 -1-.4 -1-1.5 -1-.5 -1 .3 -1-.1 -1-.3 -1 .6 -1 1.6 -1 .6 -1-.3 -1-1.2 -1 .4 -1-.2 -1 1.5 -1-.5 -1-1.5 -1-.2 -1 .6 -1-.4 -1-.7 -1-.5 -1 2.3 -1-2.2 -1 1.4 -1 1.3 -1 .3 -1-1.4 -1 2.7 -1 .5 -1-1 -1-.4 -1-.6 -1-1.3 -1 1.3 -1 .9 -1-.4 -1-.7 -1 1.1 -1-2.3 -1-.5 -1-.2 -1-1.4 -1 .2 -1 2.5 -1-2.8 -1 1.1 -1 .4 -1 .7 -1-.7 -1-.1 -1-.2 -1-.4 -1-1.9 -1 .6 -1 1.6 -1 .5 -1 1.5 -1-1.3 -1-.6 -1 2.3 -1-1.5 -1 .9 -1-.8 -1 1.6 -1-1.4 -1-1.2 -1-.3 -1 0 -1-1.5 -1 1.8 -1-1.5 -1-1.5 -1 .3 -1 1 -1-.6 -1-.4 -1 .4 -1-1.9 -1 .4 -1 2.1 -1-.8 -1-1.5 -1 .2 -1 3.4 -1-2.1 -1 .9 -1-1.6 -1 .4 -1 .2 -1 1.6 -1-2 -1-.4 -1 .4 -1 1.4 -1-1 -1-.9 -1-.5 -1-.6 -1-.2 -1 0 -1 1.4 -1 .8 -1-2.4 -1 2.1 -1-2.4 -1 1.6 -1 2.1 -1 0 -1-.3 -1-1.4 -1 1.1 -1-.9 -1 1.8 -1-2.3 -1-.9 -1 1.1 -1-1.1 -1 2.1 -1-.9 -1 2.5 -1-.1 -1 1.2 -1 1.1 -1-1.8 -1-.3 -1 .8 -1-2.5 -1-.6 -1 .5 -1-.1 -1-.5 -1-.5 -1 .2 -1 .3 -1 2.7 -1-1.1 -1-.3 -1-.3 -1 .8 -1 .1 -1-2.3 -1 1.8 -1 1.3 -1-1.6 -1 .5 -1 .3 -1 1.6 -1-.4 -1-1 -1-.6 -1 .1 -1 .5 -1-.2 -1-2.5 -1 0 -1 0 -1 1.1 -1-2 -1 1 -1 .4 -1 1.4 -1 .9 -1-.8 -1-1.2 -1 1.2 -1 .5 -1 2.3 -1-32.9z" fill="rgba(254,0,206,0.25)"/>
<path d="M0 133.6l1 23.8 1-.6 1-.6 1 .2 1 .5 1 .3 1-.2 1-1.2 1-.6 1-.1 1 1.4 1-1.3 1 .1 1-.9 1 1.7 1 .3 1-.5 1-.7 1-.5 1 1 1-.1 1-.5 1-.1 1-1.3 1 .9 1-1.1 1-1.3 1 1.7 1 .3 1-.2 1 .3 1 1.1 1 1.2 1-2.4 1 .6 1-1 1 .3 1 .2 1-.2 1 .2 1 .4 1 1.1 1-.4 1 .9 1 .3 1-1 1-.6 1 .4 1-1.8 1 .2 1-.5 1 .7 1-.1 1-.3 1 1.7 1-1.2 1 .8 1-.5 1 .5 1 .1 1-1 1-.9 1-1 1 1.2 1-.4 1 1.1 1-1.1 1-.2 1 0 1 .2 1 .6 1 .2 1 0 1 .6 1-.9 1-.6 1 .9 1 1.8 1 0 1-.8 1-.6 1 1.5 1-.3 1 .1 1-2.4 1 1.4 1-.1 1 1.1 1-1.3 1-.1 1 1.3 1-.3 1 .1 1 .8 1-1.2 1-.2 1 1.5 1-.1 1-1.1 1 0 1 1.7 1-.5 1 .7 1 .1 1-1.3 1 0 1 .4 1 .5 1-.7 1-.4 1 1.3 1-.7 1 .1 1 .2 1-.8 1 .6 1 .2 1 .7 1 .6 1 .2 1 .1 1-.5 1-1.3 1 1.6 1-1.3 1-.3 1 1.2 1 .3 1-.8 1 2.1 1-1.2 1 .8 1 .3 1-1 1-1 1 .6 1 .3 1-.5 1 1 1-.8 1-1.3 1 .7 1-.3 1 .2 1-.7 1 .8 1-1.1 1 .7 1 .3 1 1.5 1-1.3 1 0 1 .4 1 .4 1-1.4 1 0 1-.2 1 .9 1-.1 1 .4 1-.8 1-.6 1 1.1 1 .4 1 .2 1-.4 1 1 1-.7 1 .8 1 .2 1-1.6 1 .4 1-.2 1-.2 1-.6 1-.7 1 1.1 1-.2 1-.3 1-.8 1 .9 1 .5 1-.5 1 .5 1-1.6 1 1.4 1-.4 1-.3 1-.4 1 .6 1 .2 1-.6 1 .3 1 1.2 1-.9 1 .3 1 .5 1-.2 1 1.2 1 .3 1-.5 1-.9 1 .8 1 .3 1 .5 1 1.5 1-2 1-1.4 1 .7 1 .8 1-.4 1 .7 1 .2 1-1 1-.7 1-.6 1 2 1-.6 1 0 1-1.1 1 1.2 1-1.5 1 2.1 1-.7 1 .5 1 .7 1-.8 1-.4 1 .4 1-1.3 1 .7 1 .4 1 .1 1 .3 1 .6 1 .8 1-.1 1-1.1 1 .8 1-.1 1 .8 1-.4 1-.6 1 .4 1-1.5 1-.3 1-.2 1 1.2 1-.4 1-1.2 1 .8 1-.4 1-.6 1 .6 1 .3 1 .4 1-.6 1-.2 1-.2 1 1.3 1 .6 1-1.5 1-.8 1 1.6 1 .7 1-.1 1 .3 1 0 1-.1 1 .3 1-.7 1-.1 1-.5 1 0 1 .4 1 .4 1 0 1 .5 1-.4 1-1 1 1 1-1.5 1 .5 1 .1 1-.2 1 .7 1-.1 1-.6 1 .8 1-.2 1-1.4 1-.1 1 0 1-.9 1-.9 1 1 1-.5 1 .2 1-1.7 1 .2 1 .3 1 .9 1 .7 1 .1 1-.4 1-.4 1 .2 1-.1 1 0 1 .4 1 .3 1-.1 1-.4 1-.7 1 1.3 1-1.3 1 .5 1-.9 1 .9 1-1 1 .5 1 .6 1-.8 1 .1 1-.2 1 .4 1 .2 1 0 1-.1 1-.3 1-1 1 .8 1-1.4 1 2.4 1 .4 1 .1 1 .1 1 .7 1-.6 1 .9 1 .4 1-.7 1 .1 1 .5 1-.3 1-.9 1-.4 1 .4 1 .2 1-.9 1-.5 1 .3 1 .5 1 0 1 .8 1-.8 1 .2 1 .4 1 1.1 1-1.1 1 .4 1 0 1 .1 1 .3 1-.6 1-.4 1-1 1 0 1-.5 1 .5 1-.2 1 .2 1-.5 1-.6 1 .5 1 .9 1-.2 1 .3 1 0 1 .4 1-.8 1 .2 1-.4 1 .2 1-1 1 1.8 1 .2 1-.2 1 .5 1 .2 1-1.1 1 0 1 .3 1 .6 1 .4 1 0 1-1.2 1-1.4 1-.5 1 0" fill="none" stroke="#FE00CE" stroke-width="3.6" vector-effect="non-scaling-stroke" stroke-linejoin="round"/>
</g>
<path d="M84.0 124.4 93.2 115.2 102.4 124.4 93.2 133.6 102.4 142.8 93.2 152.0 84.0 142.8 74.8 152.0 65.6 142.8 74.8 133.6 65.6 124.4 74.8 115.2Z M432.0 145.0 441.2 135.8 450.4 145.0 441.2 154.2 450.4 163.4 441.2 172.6 432.0 163.4 422.8 172.6 413.6 163.4 422.8 154.2 413.6 145.0 422.8 135.8Z" fill="#FE00CE"/>
</g>
<g clip-path="url(#c01)">
<g transform="translate(590.70 0) scale(0.8685 1)">
<path d="M0 140.9l1 1.6 1 3.2 1-1.6 1 .4 1-1.5 1-2 1-.8 1 1.5 1-1.1 1-2.2 1-1.2 1-1.1 1-1 1-1.3 1 .1 1-3.3 1 3.8 1-1.8 1 1.5 1 1.4 1 3.8 1-7.3 1 .4 1 1.7 1 2.3 1-1.9 1-.6 1-.7 1 .4 1-1.4 1-2.3 1-.4 1-2.2 1 .5 1 3.2 1-3.2 1-.1 1-.8 1-.5 1 4.2 1 .3 1-.6 1-2 1 3 1-4.8 1 2.7 1-3.6 1-4.2 1 4.2 1-5.9 1 4.9 1-1.7 1-3.3 1 5.8 1 1.9 1-3.8 1 1.1 1-1.9 1 .3 1 5.2 1-6.9 1-2.7 1 1.7 1-4.3 1 6.4 1-4 1-6.5 1 0 1 .6 1 8.7 1-4.3 1 1.2 1 .5 1-.7 1 .7 1-1.3 1-.1 1 4.6 1 .6 1 1.4 1-4.9 1 3.8 1-2.5 1-1.7 1-.6 1-.4 1-4.2 1 1.7 1-.2 1-2.9 1-.9 1-3 1 8.7 1-.5 1-3.2 1 5.5 1 .3 1-.4 1-.5 1 2.2 1 2.8 1-5.9 1 1.4 1 .9 1-5.5 1 3.6 1-.4 1 .6 1-7.4 1 3.6 1-2.4 1 1.8 1 1.3 1 7.1 1-2.4 1 4.9 1-3.9 1 2.6 1-1.3 1 1.5 1 4.1 1-4.3 1 1.8 1-1.3 1 .7 1-1.9 1 .9 1 4.2 1-2.8 1 2.9 1-2.8 1 2.5 1 1.7 1-2.3 1-.3 1 1.5 1-2.7 1-2.3 1 2.3 1-4.9 1-.1 1-.4 1 1.5 1 2.4 1 1.7 1 .7 1 .8 1-2.7 1 4.3 1-6.3 1 .2 1-1.6 1 3.3 1-.1 1 .1 1 1 1 2.8 1-4.4 1 4.1 1-.6 1 2.1 1 .1 1 .1 1 3.3 1 .6 1-.9 1 .2 1-.4 1 1.3 1 1.8 1-1 1 2 1-1.1 1-3.1 1 .7 1-1.8 1-3.3 1 .2 1 2.1 1-2.4 1 1.3 1-.4 1 3.3 1-1.4 1 3 1-1.8 1 .3 1 .7 1 .7 1 2.3 1-1.7 1 .9 1-1.3 1-.4 1 0 1-1.8 1 2.5 1-5.6 1-2.7 1 2.7 1-1.2 1-3.2 1 .8 1 2.2 1-4.4 1-1.5 1-1.7 1 .7 1 2 1-.6 1 1.3 1-1.8 1-1.4 1 0 1 1.7 1-2 1 1.9 1-.2 1-1.6 1-.3 1 .8 1-.2 1-5.4 1 2.7 1-1 1 4.1 1 0 1 .2 1 1 1 3 1-.8 1-5.8 1 3 1 1 1-.4 1 2.8 1 1.2 1-1.4 1 5.2 1-3.5 1-.1 1-2 1 2.3 1 .3 1-3.6 1 .2 1 3.1 1-2.6 1-.5 1 4.7 1-1.7 1 4.7 1-5.1 1 2.3 1 .6 1 1.2 1-2.7 1-1.6 1 1.8 1 1.4 1-2.5 1 .7 1-5.4 1 4.2 1-.4 1 .3 1 3.2 1 2.6 1 1 1-.9 1-6.4 1-3.1 1-2.5 1 1.3 1-6.5 1-2.7 1-4.5 1 .2 1-.6 1-2.6 1 2.9 1 2.9 1-.1 1 .3 1-.2 1 3 1-.6 1-1.7 1-1.4 1-.5 1 3.4 1-1.2 1-3.6 1-1 1-1.7 1 4.9 1-1.7 1-1.1 1 .6 1-.8 1-1.6 1 2.4 1 .6 1-2.5 1 2.4 1 1.3 1-.2 1 2.2 1 1.2 1 1.7 1-.3 1-2 1-.5 1 .1 1-4 1 2 1-4.9 1 4.3 1 .2 1 4.6 1-.7 1-.9 1 3.4 1-7.2 1 5 1-1.3 1-3.4 1 3.7 1 .9 1-4.2 1 3.4 1 2.2 1-1.2 1-.6 1 .3 1 4.1 1-5 1 1.9 1-3 1 2.6 1-1 1 .2 1-2.8 1 3.5 1 .9 1-1.3 1 3.1 1-5.3 1 1 1 .9 1-1.2 1-3.8 1 1.6 1 1.2 1 .7 1 1.6 1 .2 1-.1 1-2.5 1 .3 1 1.8 1-2.5 1 3 1-.4 1 4 1-.7 1-1.8 1 .5 1 1.6 1 4.5 1-4.4 1-2.2 1-.1 1-6.5 1-3.7 1 5.2 1-1.7 1 .7 1-.2 1-6.8 1-1.5 1 3.9 1 3 1 2.1 1-3.4 1-4.4 1 5 1-2.5 1 2.5 1-2.3 1 .7 1 2 1-2.5 1-1.3 1 .3 1 4.6 1 1.2 1 .3 1-.7 0 52.9 -1-1.2 -1 1.2 -1-.1 -1 1.3 -1 1.3 -1-1.9 -1 .9 -1-2.9 -1 2.7 -1-5.2 -1-5 -1 3.8 -1-3.1 -1 3.1 -1-2.7 -1 2.6 -1-1.6 -1 .7 -1 2 -1 4.2 -1-2.9 -1 2.4 -1 2.5 -1-1.1 -1 .6 -1 .1 -1 2.4 -1-1 -1 2.7 -1-.9 -1-1 -1 3.9 -1 .6 -1 .4 -1-4 -1-1.2 -1 3.1 -1 6.4 -1-1.6 -1 1.2 -1-1.8 -1 3.9 -1-2.5 -1-.8 -1-3.1 -1 1.8 -1 1.2 -1 .2 -1 2.5 -1-1.4 -1 .4 -1 1.8 -1 2.7 -1-5 -1 2.5 -1-2.8 -1-3 -1 1 -1 2.1 -1-1.2 -1 6 -1 0 -1-3.5 -1-3.4 -1-2.5 -1 7.3 -1 .6 -1-2.1 -1-2.1 -1-1.5 -1-.4 -1-2.9 -1 2.7 -1-1.5 -1 2.1 -1 .6 -1 3.8 -1-3.7 -1 2.9 -1-3.6 -1 2.6 -1-.4 -1-1.2 -1 1.5 -1-1.9 -1 1.1 -1-3.4 -1 3.7 -1-2.1 -1-.5 -1-2 -1 2.8 -1-1.2 -1 .8 -1-5.4 -1 1.8 -1-.9 -1 .6 -1 1 -1-2.3 -1 .3 -1-1.7 -1 2.1 -1-.6 -1 1.8 -1 .7 -1-.1 -1-.2 -1 3.8 -1-2.4 -1-4.8 -1 3.1 -1-.3 -1 .7 -1-1.6 -1 .2 -1-.8 -1-1 -1 1.7 -1 3.9 -1 4.4 -1-6 -1 .3 -1 3.3 -1 .3 -1 3.1 -1 5.2 -1-2 -1-1.6 -1-.6 -1-.4 -1 1 -1 1.5 -1 1.7 -1 2.4 -1-4.6 -1-.1 -1-2 -1 .8 -1-.1 -1-1.1 -1-6.1 -1-1.5 -1 1.9 -1-.6 -1-5.2 -1 2.6 -1-.5 -1 6.2 -1 .5 -1 2.5 -1 1.3 -1 0 -1 2.2 -1 5.6 -1-7.4 -1-1.5 -1 4.1 -1-.4 -1-.2 -1 .3 -1-2.3 -1 3.6 -1-4.6 -1 2 -1-.7 -1-1.4 -1 3.3 -1 2 -1-4.6 -1 .3 -1-.5 -1 2 -1-2.9 -1-2.8 -1-.2 -1 3.6 -1-5.2 -1 2.8 -1 .8 -1 2.6 -1 1.4 -1 1.1 -1 1.3 -1-4.4 -1-2.7 -1 .6 -1-2.3 -1 2.3 -1 0 -1-.5 -1-1.8 -1 2.9 -1 3.5 -1-1.5 -1-1.2 -1 1 -1 .7 -1 .7 -1-2.5 -1-2.2 -1 3.8 -1 3.5 -1-1.2 -1-3.3 -1 .6 -1-.6 -1-1.7 -1 3.9 -1-2.6 -1-2 -1-.9 -1 .9 -1 4.5 -1-2.4 -1-1.6 -1-.8 -1-.8 -1-.7 -1 2.1 -1-3.9 -1 .2 -1 1.5 -1 3.5 -1-2 -1 3.4 -1 .4 -1-2.2 -1 1.5 -1-2.4 -1 .1 -1 1 -1-5.2 -1-2.1 -1 1.4 -1-1.5 -1-2.1 -1 1.4 -1 3.1 -1 3.8 -1-2.1 -1 3.7 -1 2.6 -1-4.2 -1-.6 -1 2.4 -1-2 -1 2.3 -1-1.2 -1 1.6 -1-1.8 -1 .3 -1 .3 -1-1.9 -1-.4 -1-.7 -1 2.8 -1 .7 -1-1.2 -1 1 -1-2.5 -1 .5 -1 4.4 -1 1.6 -1-2.5 -1 .6 -1-2.4 -1 2.2 -1-2.6 -1 .5 -1-.5 -1-1.6 -1-4.3 -1 .4 -1-.8 -1 2.9 -1 2.3 -1-1.3 -1 2.6 -1-1.8 -1-.1 -1-1 -1-4.9 -1 2.5 -1-.2 -1-1.4 -1-1.3 -1 .5 -1 1.5 -1-1.4 -1-.7 -1-.3 -1-1.2 -1 .3 -1 .8 -1 2 -1-.1 -1 1.3 -1-1.2 -1 1.6 -1 .3 -1-.7 -1-1.6 -1-.9 -1 2.9 -1 2.3 -1-.6 -1-3.2 -1 4.9 -1 .8 -1-3.4 -1-1 -1 4.8 -1 .4 -1 .4 -1-3.2 -1 4.4 -1-2.5 -1 .3 -1 1.5 -1-.5 -1-3.5 -1 1.5 -1 .8 -1 1.4 -1-4 -1 2.8 -1-.3 -1-.2 -1-.8 -1 .1 -1 .2 -1-1 -1 1.1 -1-1.6 -1 2 -1-1.2 -1 2.7 -1 1.6 -1-3.6 -1-3.6 -1 1.1 -1-2.1 -1 3.7 -1 .1 -1-2.5 -1 .7 -1-.3 -1-2.8 -1 2.7 -1 1 -1 2.2 -1-.2 -1-2.3 -1-.8 -1 1.2 -1-1.2 -1-.9 -1 1.2 -1 .3 -1 1.9 -1 .8 -1 2.7 -1-.6 -1 0 -1 1.6 -1-1.5 -1-3.3 -1 4.1 -1-.1 -1-2.4 -1-1.3 -1-.6 -1 1.9 -1-2.3 -1-.3 -1 .8 -1 1.5 -1-2.1 -1 1.6 -1-3.3 -1 4.7 -1-3.3 -1 1.7 -1-.5 -1 .7 -1 .6 -1 .6 -1 .2 -1 1.7 -1-.8 -1-3.9 -1 1.9 -1-1.7 -1 .2 -1 .2 -1-.7 -1-1.1 -1-29z" fill="rgba(253,50,22,0.25)"/>
<path d="M0 140.9l1 14.1 1 2 1-1.5 1 1.1 1 .4 1 .1 1-.3 1 .6 1-.2 1-.1 1-1.1 1-.5 1-.1 1-.1 1-.2 1-1.5 1 2.5 1-2 1 1.6 1 .3 1 2.7 1-1.9 1-2.3 1 1.1 1 2.3 1-1.7 1-.2 1-.2 1 1.9 1 1.1 1-1.9 1 2.1 1-.2 1-.4 1 2.6 1 .2 1-2 1-.2 1-1.9 1 .9 1-.7 1-.2 1 .7 1 .4 1-.1 1 1 1-1.2 1 .5 1-.4 1-2.1 1 .7 1 .9 1-2 1 1.9 1-.5 1-1.5 1-.3 1-.2 1 2.7 1 .3 1-1 1-1.2 1 0 1-2.5 1 1.7 1-.4 1 1.7 1-1.8 1-.3 1 1.2 1 0 1-.3 1-1.4 1 1.3 1-.4 1-1.5 1 1 1 .9 1 .7 1-1.7 1-.1 1 2.3 1-3.5 1-.1 1-.1 1 .4 1-1 1 .1 1 .2 1 0 1-2.3 1 1.8 1 1.7 1-.3 1-2.8 1 2.6 1 0 1-.6 1-.5 1-.2 1 .5 1-.4 1 .4 1-.4 1-.8 1 0 1 .9 1-.7 1-1.8 1 1.4 1-1.6 1 .2 1-.7 1 2.4 1 0 1 .4 1 1.7 1 .7 1 .2 1 1.3 1-1.3 1-1 1 1 1-1.5 1-.3 1-1.4 1 2.1 1 1.9 1-1 1 .2 1 2.7 1-1.1 1-.5 1-.6 1 .8 1 1.2 1-3.2 1-.4 1 1 1-.5 1-.2 1 .9 1 0 1 .3 1 1.2 1-1.3 1 .2 1-1 1 1.5 1-.7 1-.1 1-1.9 1 .9 1 .8 1-2.3 1 1.4 1 .2 1-3.1 1 1.7 1-1.3 1 .6 1-.9 1 .3 1 .6 1-.2 1-.2 1 1 1-1.6 1 2.2 1-.9 1-.2 1 2.1 1 1.3 1-3.1 1 .5 1-.6 1-.1 1-.2 1 2.6 1-1.4 1-.8 1-.7 1 1.7 1 .2 1 3.1 1-2.9 1 .5 1 .5 1-.4 1 .8 1-1.8 1 .3 1-.8 1-.1 1 .3 1 1.1 1 .3 1-3.6 1-.6 1 1.5 1 .3 1-1.3 1-.4 1 1 1-1.4 1 2.5 1-.7 1 .8 1-.4 1 .1 1-.5 1 1 1-.7 1-.7 1 .7 1-1 1 .7 1-2.8 1-.1 1-2.3 1 .9 1 1.6 1-2 1 .9 1 .5 1 1.5 1-1.8 1-.2 1 1.6 1-1.6 1 .3 1-1.9 1-.7 1 .3 1 .3 1-.1 1 .2 1-.3 1 .1 1 1.1 1-.6 1 .7 1 1.1 1 1 1-.7 1-2.4 1 1.3 1 .5 1-1.7 1 1.6 1-1.9 1 1.8 1-2.3 1 1.2 1 1.1 1 .5 1-1.4 1-.4 1 2 1 .6 1 .1 1 .3 1-1.2 1 2.1 1-1.5 1-2.8 1-.7 1 1.4 1 .7 1-1.3 1-.6 1-.3 1-3 1 .4 1-.5 1-3.8 1 1.1 1 1 1-1.1 1-.4 1 .1 1-.2 1 1 1 .7 1 .1 1-.7 1-.1 1-1.5 1-.1 1-.4 1 2 1 .7 1 .5 1-1.9 1-.4 1 1.5 1-.6 1 .3 1 .4 1-.7 1-.3 1 2.2 1 .4 1-.5 1 .9 1-1.4 1 1.4 1 .2 1 .3 1 .5 1-1.3 1-.9 1 1.3 1 .8 1-1.8 1 .2 1-1.9 1 2.2 1-2.1 1 1.2 1-.6 1 2.1 1 .3 1-2.7 1 2.4 1-1.3 1-1.5 1 .7 1 1.4 1-.6 1-.1 1 2.3 1-2.9 1-1.9 1 2.5 1 .9 1-.3 1 1.5 1-3.7 1 1.1 1 .4 1-.1 1 1 1-1 1 0 1 0 1 1.4 1-1.2 1-1.7 1 .7 1-1 1 .5 1 1.2 1-.5 1 .1 1 .2 1 .2 1 0 1 1.1 1-.7 1 1.7 1-2.2 1-.1 1-.7 1 2.8 1-1.6 1 .5 1-3 1 1 1 1.4 1-3.1 1 1.3 1-.1 1-1.7 1 1.1 1 .6 1-1.4 1 .2 1 .2 1-3.8 1 .6 1-.5 1 2.2 1-.9 1-.2 1-2.1 1 1.8 1-1.2 1 1.8 1 1.1 1-2.6 1 1.7 1-.5 1-1.4 1 2.2 1-.1 1 .6 1 .1 1-.5 1 0" fill="none" stroke="#FD3216" stroke-width="3.6" vector-effect="non-scaling-stroke" stroke-linejoin="round"/>
</g>
<path d="M590.7 131.7 599.9 122.5 609.1 131.7 599.9 140.9 609.1 150.1 599.9 159.3 590.7 150.1 581.5 159.3 572.3 150.1 581.5 140.9 572.3 131.7 581.5 122.5Z M938.1 126.6 947.3 117.4 956.5 126.6 947.3 135.8 956.5 145.0 947.3 154.2 938.1 145.0 928.9 154.2 919.7 145.0 928.9 135.8 919.7 126.6 928.9 117.4Z" fill="#FD3216"/>
<g transform="translate(590.70 0) scale(0.8685 1)">
<path d="M0 128.4l1-4.5 1 3.3 1-3.2 1 1.5 1 2.5 1 1.7 1 3.7 1 1.1 1-3.6 1-.9 1 .4 1 4.5 1-.2 1-.8 1-2.7 1 .6 1 5.2 1-1 1-1.5 1-1.2 1 0 1 .4 1-2.9 1-1.9 1 4.3 1-3.2 1-.1 1-1.3 1 2.2 1-3.3 1 2.3 1-2.6 1 1.1 1-1.9 1 2.5 1 .9 1-1.3 1 .3 1-1.2 1 1.9 1 1.9 1-2.5 1-1.3 1 .2 1-4.5 1 2.7 1-3.5 1 .4 1-2.2 1-.6 1 2.9 1-2.3 1-.4 1-.8 1-1.2 1 1.9 1 2.9 1-4.9 1 5.5 1-2.8 1 0 1 .7 1-4.7 1 2.8 1-2.6 1-2.4 1 1.6 1 .5 1 .2 1 3.7 1-3.7 1 .5 1 1.9 1 2.9 1-4.7 1-1.4 1 4.2 1-.4 1-1.1 1-.6 1 2.3 1-.3 1-4.1 1-3.1 1-1 1-1 1 1 1-3.4 1 2.2 1-1 1 1.3 1-1.9 1 .9 1 2.8 1-4.5 1 1 1-.7 1-2.8 1-.6 1 3.4 1-1 1 .7 1-.9 1 1.6 1 1.2 1 .7 1-.2 1 .7 1-3.2 1 8.3 1 .3 1 1.3 1-5 1-2.9 1 .4 1 1.7 1-.1 1-1.5 1-.5 1 3.9 1-2.3 1 .6 1-3.5 1-.4 1 2.2 1-6.8 1 2.2 1 1.3 1 0 1-5.1 1 1.6 1 1.5 1-2.5 1-.4 1 2.6 1-2.4 1-2.9 1-2.3 1 8.2 1-2.5 1-2.7 1-.2 1 1 1 4.7 1 1.5 1-1 1 2.7 1-2.4 1-1.5 1 5.8 1-4.5 1-5.4 1-1.2 1-2.2 1 1 1 .1 1 7.1 1 .3 1-1.7 1-3.3 1 4.7 1 .6 1-3.2 1 3.4 1 .3 1-4.5 1-.1 1-5.9 1 4.9 1-1.1 1 1.7 1-6.5 1 .7 1 .6 1 2.3 1 3.1 1-2.1 1-2.2 1 1.8 1-1.2 1 4.4 1-5.7 1 .9 1-.5 1-4 1 5 1-2.6 1 3.5 1-4.6 1-4.8 1 4.2 1 3 1 3.4 1-1.7 1 6.2 1-7.8 1-4.2 1 4.6 1 .4 1-2.2 1 1.2 1-4.5 1 4 1 1.8 1 .5 1-4.6 1-1 1-4.4 1 1.9 1-4.5 1 1.4 1 .5 1-2.2 1 .4 1 1 1-.9 1 .9 1-2.5 1 .2 1-1.7 1 3.7 1 7.2 1-.2 1 1.4 1-6.4 1-.7 1-4.1 1 2.4 1-.4 1-1.1 1-4.1 1-3.5 1 2 1-1.3 1-2.1 1 10.7 1-10 1 7.6 1 2.1 1-1 1-2.2 1 .1 1 5.9 1 1.6 1-.6 1-3.3 1-3.9 1-.1 1 .6 1-3.8 1-3.6 1 3.2 1 2.5 1-6.9 1 4.1 1-3.1 1-4.4 1 1.5 1 .5 1-7.5 1 4.2 1 3.6 1-.4 1 3.7 1 .1 1-2.2 1 .4 1-2.5 1-7.6 1 .9 1 5.7 1 .8 1 .2 1 7.4 1-.3 1-.4 1 0 1 5.4 1-3.9 1 .9 1 1.4 1 .9 1-4.3 1-1.4 1-1.5 1 .3 1 4.1 1 1.6 1-1.1 1-.1 1 4.2 1-5.5 1 6.1 1-.8 1 1.1 1-6.5 1-2.1 1 1.3 1-1 1-5.6 1-.6 1-4 1 4.2 1 .3 1-2.8 1 2.4 1-1.6 1-.5 1-1.2 1 3.7 1-2.5 1 6.1 1-6.2 1 2.4 1-3.5 1 6.2 1 .8 1-4.2 1 1.5 1 .4 1-3.3 1-.6 1-.8 1 .1 1 0 1-.5 1 .3 1 .5 1-.5 1 1.4 1 1.5 1 1.6 1 3.3 1-5.1 1 12.6 1-6.6 1-5.7 1-2 1-1.8 1 .6 1-2.2 1 2.4 1 2.7 1-2 1-.5 1-2.9 1 2.4 1-1.7 1-1 1 2.6 1 .9 1 4.3 1-2.9 1 4.8 1-.4 1-2.6 1 .3 1 4.6 1 0 1-2.7 1 6.2 1-8.1 1 .6 1 4.1 1-2.4 1-3.6 1 2.2 1 1.3 1 3.3 1-.5 1 .5 1-3.7 1 8.9 1-9.5 1-.9 1-1.3 1-4 1 6.7 1 2.7 1-1.4 1 0 1-7 1 3.2 1-.3 1 .1 1-1.6 1-3.9 1 1.2 1 1.9 1 6.7 1-2.8 1 .5 1 0 1-3.9 1-.5 1 2.7 1-1.7 1 1.2 1-2.4 0 62.3 -1-1.8 -1 3.5 -1-.7 -1-2.1 -1 1.4 -1-5.3 -1 .3 -1-1.3 -1 3.4 -1 .8 -1-3.2 -1 0 -1-1 -1 .7 -1-1.1 -1 .6 -1-.3 -1-3 -1 1.2 -1 2.7 -1 3.7 -1-.7 -1 .3 -1-1.2 -1-1.2 -1 2.5 -1-4.3 -1 3.1 -1-.7 -1-.3 -1-.7 -1 1.1 -1 2.6 -1-5.2 -1 3.9 -1-3 -1 5.5 -1-.5 -1-1 -1-.6 -1-3.6 -1-.6 -1-.1 -1 2.1 -1 4 -1-1.4 -1 1.4 -1 4.6 -1-2.4 -1-2.2 -1-1.8 -1 1.1 -1-2.7 -1 4.4 -1-3.7 -1 .3 -1 2.4 -1 .2 -1-.1 -1-.6 -1-.8 -1 2.6 -1 2.4 -1 0 -1-.7 -1-2.4 -1 .5 -1 3.8 -1 .2 -1 .1 -1-3.6 -1 .8 -1-1.7 -1 2.2 -1-.5 -1-.1 -1 1.1 -1-3.8 -1 1.2 -1 .4 -1-.6 -1 6.3 -1-.6 -1-6.4 -1 5.7 -1-1.6 -1 3.8 -1-2.9 -1-2 -1 .2 -1 .6 -1 .1 -1-2.6 -1 .1 -1-1.3 -1 2 -1 1.6 -1 3.9 -1-.5 -1 3.1 -1-3.7 -1-.6 -1 2.9 -1-3.3 -1 1 -1-2 -1-.9 -1 3.6 -1 1.5 -1-1.4 -1-.4 -1-.8 -1-1.8 -1 .8 -1 4.2 -1-1 -1-4.6 -1 3.1 -1-3.8 -1 4.6 -1-1.9 -1-.6 -1-1.4 -1 1.3 -1-.6 -1-2.6 -1 1.1 -1-2.8 -1-.7 -1 2.8 -1 2.7 -1-.3 -1-1.4 -1-.8 -1 .3 -1 1 -1 .8 -1 1.7 -1-2 -1 1.3 -1 .7 -1-2.1 -1 1.2 -1 2.4 -1 .1 -1-4 -1 .2 -1 1.8 -1 1.1 -1-.1 -1-2.4 -1-1.1 -1 2.8 -1 2.5 -1-.2 -1-.3 -1 1.4 -1-2.1 -1-.6 -1-2.3 -1 2.6 -1-5.3 -1-.6 -1-2.5 -1 1 -1 3.8 -1-3.6 -1 5.1 -1 2.7 -1-.9 -1-.1 -1 2.2 -1 1.1 -1 4 -1 3 -1 1.1 -1 .8 -1-1 -1-1.1 -1-2.5 -1 .3 -1-1.5 -1 1.4 -1-1.1 -1-1.3 -1 .2 -1 2.1 -1 1.6 -1-3.8 -1 2.8 -1-1.5 -1-3.8 -1 .6 -1 2.9 -1 .6 -1 .1 -1-.6 -1 1.4 -1 .3 -1-.5 -1-.2 -1-.8 -1 3.3 -1 3 -1-.9 -1-2.2 -1 .8 -1-.9 -1 1.2 -1 .9 -1-1.2 -1-.5 -1 .6 -1 2.3 -1-.1 -1-5.9 -1 4.4 -1 0 -1 2.5 -1-3.4 -1 0 -1-.6 -1 1.9 -1 2.9 -1 0 -1-3.3 -1 3 -1-1.2 -1-2.2 -1-1.8 -1 .5 -1 2.8 -1 .3 -1-4.9 -1 .5 -1-3.3 -1-.8 -1 .3 -1 1.8 -1 2.1 -1-.5 -1-1.1 -1-.1 -1 .8 -1-.9 -1 1.5 -1 .4 -1 2 -1-2.7 -1 .3 -1 .7 -1-1 -1-.9 -1-.5 -1 3.7 -1-1.4 -1 1.8 -1-2.8 -1-1 -1-.4 -1 3.6 -1 2.5 -1-1 -1-1 -1 1.4 -1 .2 -1 .7 -1 .4 -1-.2 -1 2.8 -1 2.8 -1-2.8 -1-.8 -1 1.1 -1-1.1 -1-.5 -1 .4 -1 2.4 -1 1.5 -1-.2 -1-.5 -1 .6 -1 0 -1 1.2 -1-2.8 -1 2.3 -1-.8 -1-1.3 -1-.4 -1 1.1 -1 .4 -1 .7 -1-.4 -1 4 -1-1.3 -1 1.2 -1-.2 -1-.4 -1 3.1 -1-2 -1 2 -1 2.4 -1-3.2 -1-.3 -1 1.4 -1-2.6 -1-1.5 -1 1.9 -1-2.3 -1 .2 -1 3.5 -1 0 -1 1.8 -1-.3 -1 3 -1-2 -1 3.6 -1 .7 -1-1.9 -1-1.2 -1 0 -1-2.7 -1-.1 -1 .7 -1 2.4 -1-2.6 -1 2 -1-2.2 -1 .7 -1-2.6 -1 3.5 -1-2.4 -1 4.2 -1 .1 -1 1.9 -1-1.1 -1-1.2 -1 .1 -1-.9 -1 1.1 -1-1 -1 1.3 -1-1.5 -1-1.5 -1 1.7 -1 .4 -1-2.6 -1-1.4 -1-1.6 -1 .5 -1-1.9 -1 2.4 -1 1.7 -1-1.3 -1 1.8 -1-2.1 -1 1.9 -1 3.4 -1 .5 -1-1.2 -1 .8 -1-1.9 -1-1.3 -1 4.1 -1 .6 -1-1.8 -1 .9 -1-1.8 -1-1 -1 3.1 -1-.4 -1 1.5 -1-.5 -1 1 -1-.4 -1 .7 -1-.5 -1 2 -1-1.8 -1-.1 -1-2.2 -1 1.8 -1-4.8 -1 1 -1 2.3 -1 1.5 -1 .3 -1-4 -1-2.3 -1 3.6 -1-.1 -1-2.3 -1-1.6 -1 .1 -1 .3 -1-4.6 -1 3.3 -1-1.9 -1-33.1z" fill="rgba(0,254,53,0.25)"/>
<path d="M0 128.4l1 20 1 2.4 1-.7 1 1.3 1 1.6 1 1.1 1 .4 1-.2 1 .1 1-1.7 1 1 1 1.8 1-.6 1-1.9 1-.2 1 1.1 1 2.4 1-2.2 1 .7 1-1.1 1 .4 1-.2 1 1.2 1-.6 1 1.2 1-2.7 1 .5 1-.8 1-.2 1-1.3 1 .4 1-.1 1 .1 1-.7 1-.6 1-.8 1-.1 1 1.9 1-.5 1-1 1 2 1-1.1 1-.6 1 1.2 1-1.8 1 .2 1-1.4 1-.5 1-2.1 1-.2 1 2.2 1 .9 1-.3 1 .1 1-1 1-.7 1 1.9 1-1.3 1 1.6 1-2.1 1 2 1-.7 1 1.3 1 .3 1-1.3 1-1.3 1-1 1 2.3 1-2.4 1 2.3 1-1.8 1 .3 1-1.1 1 1 1-2 1 0 1 0 1 .1 1-.3 1 1.6 1 1.5 1 .1 1-2.9 1 1.9 1-2.7 1 .1 1-.5 1-1.3 1-1.3 1-1.2 1 .4 1-3.9 1 2.4 1 1.4 1-.9 1 .5 1 1.5 1-3.7 1-1.8 1 2.4 1-1.3 1 1.2 1-.3 1-.4 1 1.1 1-1.5 1 1 1-.7 1 1.1 1-.4 1 .8 1 1.2 1-.9 1-.5 1 2.4 1 .4 1-.8 1-2.2 1 1.4 1 1.1 1-1.8 1 .3 1-.3 1 .4 1 .6 1-1.3 1-.1 1 2.1 1-2.3 1-2.4 1-1 1 .1 1-1 1 .6 1-.5 1 .5 1-2.4 1-.9 1-.4 1-.5 1 1.9 1 .6 1 .4 1 2.3 1-1.6 1-1.6 1 1.3 1-.4 1-.5 1 1.2 1-.6 1-2.4 1-.1 1 .4 1-.6 1 .3 1-.7 1 1.7 1-1.9 1-2.5 1-.4 1 .8 1-1.3 1 2.2 1 .3 1 .7 1-.2 1-2.1 1 1.9 1 0 1 2.2 1 .3 1-1 1 1.8 1 0 1-2.3 1-1.2 1-.3 1 .9 1 1.1 1-.9 1-1.3 1-1.8 1 1.7 1-.4 1 .3 1 .4 1 .4 1-.2 1-.7 1 .1 1 .1 1-2.4 1 1.1 1 .4 1-1.2 1-2.5 1 1.9 1 0 1 .4 1 2 1-1 1-1.2 1 .9 1-.8 1-.4 1-.3 1 .4 1 0 1 0 1 .9 1-.5 1-1.6 1 .3 1 2.6 1-.6 1-1 1 .1 1-.1 1 3.6 1 0 1 1.2 1 0 1 .3 1-1.5 1-2.3 1-2.9 1-2 1-1.6 1 .6 1-2.5 1-1.4 1 .3 1-1.5 1 .5 1 .7 1-.5 1 1.1 1-.2 1 .1 1 .7 1-.7 1-1 1 .7 1-.1 1-2 1 .1 1-.7 1 .7 1 2.1 1-1.2 1-.1 1-1 1 2.1 1 .2 1 .1 1-2.4 1 1.7 1 1.6 1-.6 1 .3 1 1 1 1.1 1-.7 1-.6 1 .8 1-.8 1 1.2 1-.4 1-1.5 1 0 1 1.3 1-.2 1 .9 1-.7 1-1.7 1 1.6 1 .7 1-.3 1-1.3 1 .7 1-.3 1 2.7 1-.4 1-3.7 1 .7 1 1.8 1 .3 1-.3 1-.2 1 .6 1-1.6 1 .6 1 .6 1-.5 1-.5 1-.4 1-1.1 1 1.6 1-3.5 1 1.6 1-1.6 1-.7 1 .7 1-.4 1-1 1 .7 1-.1 1-.4 1-.7 1 2.2 1 .5 1-2 1-.9 1-1.5 1 3.4 1 .3 1-5.8 1 .7 1-1.1 1-.6 1 .6 1-.9 1 .9 1 .8 1-1.9 1 .8 1 .4 1-.3 1 .5 1 .4 1-1.6 1 .1 1 .3 1 0 1 1.6 1-.9 1-.3 1-1 1 1.4 1 .2 1 .3 1 .4 1 0 1 1.3 1-1.1 1 2 1-2.4 1 1.8 1 .5 1 1.2 1-1.9 1-1.3 1 .3 1-2.9 1-.8 1 .1 1 2.6 1-.6 1 .9 1 .9 1-1.5 1-.5 1 0 1-1.4 1 1.5 1-1.1 1 .5 1 .1 1-.1 1-.3 1-2.2 1 2.1 1-1.5 1 .5 1 .2 1-1.5 1-.2 1 0 1-1.1 1-.7 1 .6 1-.9 1 .4 1 .9 1 .3 1-.3 1-2 1 .9 1-.3 1-.5 1 1.1 1-.2 1 3.1 1-1.6 1 2.4 1-.7 1 .2 1-.3 1 0" fill="none" stroke="#00FE35" stroke-width="3.6" vector-effect="non-scaling-stroke" stroke-linejoin="round"/>
</g>
<path d="M590.7 119.2 599.9 110.0 609.1 119.2 599.9 128.4 609.1 137.6 599.9 146.8 590.7 137.6 581.5 146.8 572.3 137.6 581.5 128.4 572.3 119.2 581.5 110.0Z M938.1 98.6 947.3 89.4 956.5 98.6 947.3 107.8 956.5 117.0 947.3 126.2 938.1 117.0 928.9 126.2 919.7 117.0 928.9 107.8 919.7 98.6 928.9 89.4Z" fill="#00FE35"/>
<g transform="translate(590.70 0) scale(0.8685 1)">
<path d="M0 133.6l1 6.4 1-1.7 1 .5 1 1.2 1 .3 1 .5 1-2.4 1 3.3 1-2.9 1-.2 1 1 1-.4 1 1.5 1-4.1 1 1.5 1-.4 1 .7 1 2.8 1-.4 1-.5 1 .6 1-3.4 1 .7 1 0 1-1.2 1 .5 1 .3 1-.1 1-3.4 1 .4 1 .6 1 2.3 1-2.4 1 .8 1 .8 1 2 1 1 1-4 1 3 1-1.3 1 2 1-1.8 1-1.2 1 1.4 1-1.2 1 0 1 2.9 1 0 1-.5 1 .7 1-1.2 1 5.3 1-.9 1-1.2 1-2.3 1 .3 1 1.4 1-4.8 1 1.1 1-1.8 1 4 1-1.9 1-3.9 1 .8 1 2.4 1-2.6 1-.3 1-3.1 1 .5 1 .3 1-.4 1 .6 1-1.4 1 2.9 1-3.3 1 1.9 1 3.3 1-3.1 1 2.1 1-2.8 1 .3 1-4.3 1 .2 1 1 1 .3 1 1.4 1-1.1 1-.1 1-1 1 2 1 .5 1-.7 1-2.3 1 1.7 1-2.2 1 .1 1 1.7 1-1.6 1 1.5 1-1 1 1.9 1 1.6 1-.8 1 .5 1-3.7 1-.8 1-5.1 1 2.2 1 3.7 1 .7 1 .8 1-.6 1 1.6 1-.3 1-2 1 1.2 1-2.6 1 2.2 1 3.1 1-6.4 1 3.3 1-2.6 1-.3 1-1.1 1 1.3 1 .9 1-1.3 1-1.2 1 1.6 1 2.9 1 0 1 .6 1 .3 1-.6 1 .6 1-1 1-4.3 1-.3 1 1.1 1-2.2 1-.3 1 1.1 1 1.7 1 .1 1-2.6 1-.9 1 3.3 1 .6 1 .4 1 2.9 1 1.4 1-2.6 1 .5 1-.8 1-4.7 1-.5 1 .4 1 1.5 1-1.4 1-.9 1 .1 1 3.5 1 3.9 1-5 1 1.5 1-3 1-1.2 1 .9 1 1.7 1-2.2 1-1.4 1 6.1 1-5.3 1 2.7 1 1.7 1-3.5 1-.2 1 .7 1 2.3 1 2.3 1-3.1 1 .4 1-1.8 1-.1 1-3.8 1 4 1-1.1 1-4.5 1-.3 1-3.9 1-.4 1 3.4 1-6 1 4.1 1-1.3 1 4.4 1-.9 1 1.8 1 1.8 1-1.5 1-.7 1-.6 1 1 1-4 1 1.4 1 3.2 1-.8 1-2.7 1-2 1 3.2 1-3.3 1 .6 1 2.7 1-5.3 1-4.5 1 5.5 1 .8 1 3.9 1 1.2 1 2.7 1-1.5 1-2.7 1 3.3 1-5.1 1-1.1 1 1.9 1-6.1 1 2.7 1 3.6 1-2.2 1 1.6 1 3.9 1-2 1-3.2 1 3.1 1-1 1 1.4 1-5.3 1 4 1-.8 1-3.2 1-3.9 1-2 1 2.8 1-4.9 1-1.5 1 .9 1-.5 1 1 1-.6 1-.2 1 2.1 1-3.7 1-.3 1 .6 1-4.5 1 2.8 1 2 1-.2 1-1.7 1-1.5 1 .2 1-1.8 1-.8 1-3.7 1 .3 1 2.9 1-.4 1 3.1 1-2.3 1 9.3 1-.3 1 1.2 1-2.9 1-1.9 1-1.1 1 0 1-.8 1-1.9 1-3.1 1 .5 1 3.5 1 4.7 1 0 1 2.9 1 3.8 1-4.1 1-1.4 1-5.1 1 1.6 1-2.5 1 .2 1-1.6 1 3.5 1-1 1 4.1 1-5.4 1 .7 1 4.4 1-.3 1-11.4 1 6.6 1 4.4 1-4 1 5.4 1-11 1-1.6 1 .8 1 1.9 1 4.4 1 1.3 1 4.3 1-4.9 1 .7 1-2.5 1-.9 1-1.5 1-3.4 1 1.9 1-6.5 1 9.6 1-3.9 1 1.5 1 .6 1-2.8 1 5 1-4.8 1 .8 1-9.4 1-.9 1-2.6 1 6.2 1 1.9 1 5.2 1-1.3 1-2.7 1-.4 1-1.2 1 2.1 1-1.3 1 .9 1 .3 1-2.8 1-1.1 1-5.8 1-.6 1 1 1 14.1 1-.5 1 2.2 1-3.2 1 .4 1-3 1-5.7 1 10.4 1-3.5 1-5 1 1.7 1-1 1 7.6 1-7 1-1.5 1 3.8 1-1.4 1 6.6 1 2.4 1-6.6 1 5.1 1-2.3 1 .3 1-4.5 1-2 1-.4 1-3.1 1 2.9 1-6.2 1 4.8 1-2 1-2.6 1 .4 1-3.6 1 1.9 1 4.5 1 .9 1-5.3 1-4.3 1-.4 1 2.4 1 1.5 1-8.9 1 .5 1 1.9 1 3.6 1-4.5 1 2.2 1 .4 1 4.8 1 2.1 1-6.5 0 76.9 -1 3.7 -1-2.2 -1-1.3 -1 4.5 -1-1.3 -1 .2 -1-.1 -1-2.2 -1-.7 -1 2.1 -1-.2 -1-1 -1-.4 -1-.3 -1 1.2 -1 1.5 -1-.4 -1 2.1 -1 .8 -1 1 -1 3.2 -1 .7 -1-6.4 -1-.2 -1-1.4 -1 1.1 -1-.9 -1 .3 -1-.8 -1 .8 -1-.6 -1-3.7 -1 2.5 -1 4.5 -1-2 -1 .1 -1-2.6 -1 .4 -1-.7 -1-1.9 -1 .3 -1-.8 -1 1.6 -1 .8 -1-.2 -1 2.4 -1 2.2 -1-.7 -1-.7 -1-1.6 -1-2 -1-2.1 -1 1.7 -1-.4 -1 1.7 -1 .9 -1 1 -1 1.1 -1 .5 -1 2 -1-.8 -1 1.1 -1-1.2 -1-2.8 -1 3.8 -1-1.2 -1 2.7 -1-1.1 -1 1.9 -1 .1 -1-1.3 -1-.7 -1-1.4 -1 2.7 -1-1.4 -1 1.3 -1-3.8 -1 3.4 -1-1.4 -1-1.2 -1-.2 -1-.5 -1-3.3 -1 1.9 -1 0 -1 1.9 -1-2.2 -1-1.1 -1-.3 -1-.1 -1 5.3 -1-.7 -1-.5 -1 3 -1-.6 -1-1.8 -1-.9 -1 1.5 -1 .2 -1-1.7 -1-1.3 -1 .6 -1 2.1 -1-1.8 -1 .6 -1-2.2 -1-1.9 -1 .9 -1-.7 -1 .5 -1-1.6 -1-1.1 -1-2 -1-1 -1-3.4 -1 .9 -1-.2 -1 4 -1-.7 -1-.7 -1 .3 -1 2.1 -1 1.3 -1 2.3 -1-.7 -1-3.8 -1 1.9 -1-2.6 -1 0 -1-.6 -1 .7 -1 2.6 -1 .7 -1-5.5 -1 2.1 -1 3 -1-2.3 -1-1.9 -1 1.1 -1 .8 -1 4.1 -1 .6 -1 1.6 -1 1.1 -1 1.7 -1 0 -1-2.6 -1-1.3 -1 .6 -1 1.5 -1-.2 -1 2.1 -1 1.4 -1-.5 -1 1 -1-2.7 -1 .7 -1 .4 -1 .7 -1 3.2 -1-.1 -1-1 -1 2.5 -1 3.3 -1-3.6 -1-.1 -1 1.3 -1-2.6 -1-1.7 -1 2.3 -1 2.6 -1-1.6 -1-.1 -1-1.2 -1 .2 -1-2.7 -1-4 -1 2.2 -1 3.1 -1-3.9 -1 .1 -1-4.1 -1 2.5 -1 2.7 -1 .8 -1 .7 -1-1.5 -1 3.4 -1 1.2 -1-4.9 -1-1.4 -1 4 -1-3.6 -1 4.1 -1-.3 -1 .4 -1 3.6 -1-1.5 -1 .7 -1 1.5 -1 .7 -1-.7 -1 4.4 -1 1.6 -1-1.9 -1 1.6 -1 .3 -1-1 -1 1.2 -1 1.8 -1 .4 -1 1.9 -1-2.3 -1-2.4 -1-.4 -1-.5 -1 .1 -1 2.4 -1 .3 -1-1.1 -1-3.6 -1 3.2 -1-.3 -1 3.2 -1-.6 -1-.8 -1-1.9 -1-2.9 -1 3.5 -1 2.3 -1 .6 -1 2.3 -1 0 -1-2.9 -1-.3 -1 2.4 -1-2.9 -1 1.7 -1-3.9 -1 .3 -1 1.1 -1 3.3 -1-4.2 -1-1.7 -1-1.4 -1 2.9 -1-2.3 -1-3.2 -1-.3 -1 3 -1-1 -1-1.5 -1-2.6 -1 2.3 -1 .7 -1 1.3 -1 .9 -1-1.5 -1-.7 -1 .4 -1-1.8 -1-.8 -1-1 -1 3.4 -1-1 -1-3.9 -1-2.1 -1-.2 -1 1.6 -1-.2 -1-1.9 -1 3.3 -1 .6 -1-2.7 -1-2.3 -1-.4 -1 .2 -1-.8 -1-2.9 -1 5.1 -1 2 -1-1.5 -1 1.5 -1 3 -1 3.4 -1-2 -1-1.1 -1 .8 -1-.9 -1 .7 -1-2.1 -1 1.8 -1 1.4 -1-1.2 -1 2.3 -1-2.5 -1 4.6 -1-1.8 -1-2.7 -1 2.3 -1-.7 -1 .4 -1-2.1 -1 .9 -1 .7 -1 2.2 -1 .7 -1-.1 -1 .8 -1-1.1 -1 1.2 -1 1 -1-.2 -1-3.1 -1-2.6 -1-.1 -1 .5 -1-.9 -1-.9 -1 2.4 -1 1.1 -1-.2 -1 1.4 -1-3.1 -1 3.2 -1 .5 -1-2.8 -1 1.3 -1-1.9 -1 .3 -1-.2 -1 3.8 -1 1.3 -1-.2 -1-1.3 -1-1.1 -1-.1 -1 3.2 -1 .1 -1-.9 -1-.5 -1 .6 -1-.8 -1 3.8 -1-1 -1 .8 -1 2.2 -1-6.8 -1 1.5 -1 .7 -1 2 -1-1.4 -1 .8 -1-1.6 -1 .7 -1-3.4 -1 2.6 -1 1.2 -1-1.4 -1 .3 -1 .4 -1-.3 -1 0 -1-.6 -1-2.8 -1 4.1 -1 .4 -1-3 -1 .5 -1-1.6 -1 2.9 -1 .4 -1-1 -1-1.5 -1-.7 -1 3.2 -1 .7 -1-.3 -1-1.7 -1 .9 -1-2.1 -1 .4 -1-.8 -1-2.4 -1 1.2 -1 3 -1 .9 -1-3.9 -1-.6 -1-1.9 -1 3.8 -1-1.3 -1 1.5 -1 0 -1 1.6 -1-1.5 -1 .4 -1 .8 -1-38.2z" fill="rgba(106,118,252,0.25)"/>
<path d="M0 133.6l1 20.4 1-.9 1-.2 1 .5 1 .1 1 .4 1-.8 1 1.5 1-1.8 1 .5 1-.5 1 .7 1-.6 1-3.7 1 1.5 1 1.1 1 1.6 1 .2 1 .3 1-.5 1 1.5 1-1.7 1-1 1 .3 1 .5 1 .3 1 1.2 1-.6 1-1.5 1 .8 1 .8 1 2.2 1-1.5 1-1 1 1.9 1-1.5 1 .9 1-2.5 1 2.2 1-.7 1 2.2 1-1.9 1-.9 1 .8 1-.8 1 1.1 1 .8 1-1.1 1-.3 1-.1 1-.6 1 3.2 1-.6 1-.6 1 .4 1-1.4 1 .9 1-1.7 1 1.6 1-.6 1 1.3 1-2.4 1-1.5 1 .9 1-.2 1 .4 1-2.1 1-1.6 1 .9 1 .7 1 .1 1-1.2 1 .9 1 1.7 1-2.9 1 .9 1 1 1-.8 1 .1 1-1.1 1-1.1 1-1.2 1 .6 1-1.3 1 3.1 1 .6 1-.6 1-.8 1-1.7 1 1.3 1-.7 1 0 1-1 1-1.2 1 .2 1-1.2 1 1.4 1-.7 1-.4 1-.2 1 1.4 1 2.4 1-1.5 1 0 1-2.3 1 .6 1-1.6 1 1.7 1 1.8 1-.1 1 .2 1-.8 1-.9 1 .6 1-1.7 1-.4 1 .3 1 .6 1 .7 1-3.3 1 1.6 1-1.1 1 1.6 1 0 1-1.1 1 1.1 1-1.2 1-1.4 1 1.4 1 2.2 1-.5 1 1.1 1 1 1 2.1 1-.5 1-.3 1-1.6 1 .9 1-.3 1-1.3 1-1.9 1 1.5 1 1.5 1 0 1-1.3 1-.5 1 3.3 1-.4 1 .3 1 .6 1 .8 1-1.5 1 .5 1-1.4 1-1 1 .3 1 1.5 1-1.3 1-.6 1-.2 1 1.2 1-.6 1 2.1 1 .8 1-1 1-.6 1-1.5 1-.7 1 .1 1-.3 1-2.2 1 2.6 1 .4 1 1.6 1 .1 1-.9 1 1.3 1-.3 1 2.5 1-.7 1-.1 1-1.3 1-.1 1-.2 1-.7 1 .1 1 2.2 1 .3 1-1.7 1-1.5 1-.7 1 .6 1-2.1 1-.7 1 1 1 1.2 1-2 1 .8 1-2.3 1 .7 1 .8 1-.3 1 .4 1-2 1 1.6 1-.1 1 .3 1-1.8 1 .3 1 1.5 1-.4 1-.9 1 2.1 1-2.8 1-.4 1 1.4 1-2.3 1 2.9 1 .6 1 .8 1-.6 1-2.2 1 1.4 1 .3 1-3 1-1.1 1-.5 1 3.1 1 .1 1-1.6 1-.2 1 2.4 1-1.5 1 1.4 1-.1 1-.7 1-1.3 1-.5 1 2.6 1-1.7 1-.9 1-.5 1 .2 1 2.1 1-.6 1-1.4 1-.6 1-1.8 1-.3 1 .4 1-1.7 1 2.6 1-.3 1 1 1-1.4 1-2.1 1 1.2 1 .4 1 .9 1-1 1-2 1-1.3 1 .6 1-.3 1 .7 1-1.3 1-.4 1-2.2 1 .6 1 .4 1 2.4 1 1.3 1 .3 1 .8 1-.1 1-2.3 1 .7 1-2.4 1-.5 1 .1 1-.5 1 0 1-.9 1-.2 1 3.3 1-1.1 1 .6 1 .2 1-.5 1 0 1 .5 1 .6 1 .6 1-.5 1-.1 1 1.7 1-.3 1-1.6 1 1 1 .4 1-1.2 1 .7 1 1 1-1 1 2 1-.7 1 .6 1 .3 1 .9 1-2.5 1-.3 1-.4 1 .2 1 .3 1-1 1 .1 1 .8 1-1.5 1 .9 1-.4 1 .5 1-2.6 1 1.7 1 .1 1-1.7 1 .6 1-.1 1-1.1 1 .3 1 .2 1-1.7 1 1.3 1 .8 1 0 1-.9 1-.2 1 1.9 1 .8 1-2.7 1 .8 1 1.5 1-2.1 1-.3 1 1.2 1-.5 1 .3 1-1.8 1 1.8 1 .9 1-1.4 1 .7 1 .7 1-.7 1-1.6 1 .7 1 .8 1-1.4 1 1.9 1 .2 1-.3 1-.8 1 1.1 1 1 1-1.4 1 1.2 1-1.9 1-1.6 1 2.9 1 .7 1 0 1-2.2 1-.7 1 1.7 1-.8 1-.2 1-1.2 1 2.1 1-1.9 1-1 1 .3 1-.6 1-.4 1 1.5 1-.7 1-.6 1-1.6 1 .9 1-.7 1-1.9 1-2.4 1 1.1 1 .9 1-.8 1 1.2 1 0 1-.5 1 2.2 1 .7 1 .8 1 0" fill="none" stroke="#6A76FC" stroke-width="3.6" vector-effect="non-scaling-stroke" stroke-linejoin="round"/>
</g>
<path d="M590.7 124.4 599.9 115.2 609.1 124.4 599.9 133.6 609.1 142.8 599.9 152.0 590.7 142.8 581.5 152.0 572.3 142.8 581.5 133.6 572.3 124.4 581.5 115.2Z M938.1 120.7 947.3 111.5 956.5 120.7 947.3 129.9 956.5 139.1 947.3 148.3 938.1 139.1 928.9 148.3 919.7 139.1 928.9 129.9 919.7 120.7 928.9 111.5Z" fill="#6A76FC"/>
<g transform="translate(590.70 0) scale(0.8685 1)">
<path d="M0 135l1 1.2 1 2.2 1 1.1 1-.3 1-3 1 2.9 1 2.7 1-1.9 1 .4 1-2.4 1 2.7 1-1.4 1-.5 1-.8 1 1.3 1-1.7 1 2.7 1-1.3 1-1.7 1-.4 1-.7 1 1.3 1 .1 1-.2 1 .1 1 2.8 1-2.4 1-.4 1-4 1 1.1 1 2.6 1-1.4 1-.9 1 3.3 1-1.1 1-1.9 1-1.4 1-1 1 3.3 1-1.2 1-1.6 1 .4 1 .2 1 2.5 1 2 1-2 1 .8 1 1 1-1.3 1-3.1 1 5.7 1-3.5 1 2.7 1-1 1-.6 1-.1 1 3.8 1-2.5 1-3.4 1 .7 1-.2 1 1.2 1-2.1 1-1.9 1 1.6 1-2.3 1 1.5 1-1.8 1-.3 1-.7 1 3 1-1.3 1-.3 1 2.6 1-2.1 1 2.8 1-1.2 1 .3 1-1.9 1 .2 1-1.9 1 2 1-3.5 1-2.4 1-2.4 1 2 1 4.1 1 .5 1-6.6 1-.8 1 .2 1 .8 1-1.3 1 .2 1 1.3 1-1.1 1-.9 1 2.3 1-1.1 1 1.1 1 .9 1 0 1-2.4 1 1.8 1-5.6 1 1.3 1-1.4 1-3.7 1 1.9 1-1.1 1 3.9 1-1.8 1-5 1 .1 1 .9 1-1.8 1-1 1 3.3 1-.6 1 1.9 1-.9 1 .6 1-.9 1-1.2 1 3.8 1-4.9 1 .8 1-.3 1-1.4 1 .7 1-1.5 1-.2 1 2.4 1 2.3 1 1.8 1-3.8 1 4.8 1-4.1 1-1.6 1-1.6 1 2.6 1 1.4 1-4.7 1-1.8 1-2.3 1-.7 1 1 1-4.4 1 2.8 1 5.6 1 .5 1-6.8 1-1.6 1 1.9 1 2.2 1 7.6 1-2.8 1 3.4 1-5 1 2.8 1-3.6 1 1.9 1-3.6 1 5 1-1.1 1-2.6 1 4.4 1-2.3 1 2.6 1-7.3 1-1.1 1 1.5 1 1.9 1-3.2 1-3.8 1 1.5 1-.4 1 .3 1-3.4 1-5.6 1 3.1 1 2.3 1-1.7 1 .6 1 5 1-2.8 1 2.3 1-2.8 1-1.9 1 8.7 1-4 1-1.7 1 1.3 1 0 1 1.5 1 6.1 1-6.8 1-3.3 1 1.3 1-4.6 1-.4 1 2.9 1-4.9 1 7.7 1 .7 1 4.8 1-1.5 1 2.6 1-2.6 1-.7 1-1.5 1-2.8 1 6.1 1-1.2 1-.3 1 2.8 1 .1 1 .4 1-4.7 1 2.9 1 0 1-1.1 1-4.5 1 5.5 1-1.3 1-2.3 1 1.8 1 .2 1-1.6 1-3 1-8.5 1 2.5 1-1 1-3.2 1 5.4 1-2.5 1 1.2 1-6.3 1 2.5 1 3.2 1-.4 1-6.2 1 8.5 1-1.5 1 4.2 1-3 1 6.4 1-2.1 1 8 1-2.4 1-7.1 1 3.6 1-1.3 1 .9 1-2.1 1 .3 1-.7 1 5.3 1-11.4 1 5.7 1-6.6 1 6.3 1-2.5 1-6.7 1 3.8 1 3.3 1-1.7 1-3.4 1 2 1-2.9 1 4.5 1-1.5 1-1.9 1-.3 1-4 1-.3 1-7.4 1 7.2 1-1 1-2.6 1-3.8 1-1.2 1 .6 1 4 1-3.1 1 3.1 1 .2 1-.3 1-5 1-4.2 1 4.9 1-1.1 1 1.7 1-2.6 1 3.5 1-3.4 1-1.1 1 3.4 1-2.7 1 5.4 1-5 1-2.8 1-2.4 1 2.9 1-3.8 1 7.9 1-2 1 2.5 1-4.5 1 6.4 1 2.1 1 1.2 1 7.6 1 4.2 1-8.7 1-4.9 1 4.3 1-1.1 1 3.8 1-.6 1-5.9 1-1.7 1-3 1-3.5 1 4.9 1-1.2 1 5.2 1-1 1-1.8 1 .5 1-3.8 1 8.7 1-3.6 1 4.1 1-7.5 1 3.3 1 .2 1 4.1 1-2.1 1-1.7 1 1.3 1-2.9 1 2.9 1-1.6 1 9.1 1-4 1 1.3 1-1.2 1 .7 1 4 1-5.7 1-.2 1 0 1 1.9 1-4.5 1 9.5 1-8.4 1-2.7 1-.1 1 1.5 1-1.3 1 1.4 1 1.8 1-6.6 1-4.2 1 6.6 1 2 1-6 1 7.2 1-.2 1-2.8 1 2 1-6.8 1 14.1 1-11.9 1-1.6 1-1.9 1 10.5 1 .2 1 3.8 1-13.1 1-3.2 1-1.8 1-3.4 1 3.2 1-1.3 1 2.5 1-2.6 1 5.7 1-1.3 1 .7 1 .9 1-.9 1 .1 1 3.1 1 1.4 1 2.1 1-3.7 1 0 0 81.7 -1-1.8 -1 2.4 -1 .4 -1 .5 -1-2.5 -1-.8 -1-1.2 -1-3.6 -1 1.6 -1 3.6 -1-3.4 -1-.5 -1-2.5 -1-.1 -1 2.2 -1 .1 -1 1.5 -1-1.9 -1 2.3 -1-1.6 -1 1.3 -1-3.6 -1 2.7 -1 2.3 -1 3.5 -1-6.8 -1 6.8 -1 1.4 -1-4.5 -1 3.1 -1 0 -1-1.1 -1-5.7 -1 .7 -1-3.2 -1-1.8 -1-2.4 -1-.8 -1-2.4 -1 0 -1 5.9 -1-1.8 -1 4.7 -1 0 -1 2.1 -1 2.5 -1-1.2 -1-5.2 -1-2.8 -1 1.7 -1 5.2 -1-.8 -1 3.5 -1 .2 -1 2.2 -1-3.2 -1 3.7 -1 2.7 -1-1.3 -1-1.5 -1-1 -1 2.3 -1 .8 -1 0 -1-2.4 -1-.3 -1-3.3 -1 1.3 -1-3.1 -1 1.7 -1 .4 -1-2.1 -1 1.1 -1 1.5 -1 1.9 -1 3.3 -1 1.5 -1-1.7 -1 .4 -1 4.2 -1 1.9 -1 .9 -1-5 -1-.2 -1-.7 -1-2.7 -1-.9 -1 2.8 -1-2.3 -1-2.1 -1 .6 -1 .8 -1-4.3 -1-.2 -1 2.2 -1 .2 -1-.9 -1 4.8 -1 1.2 -1 .4 -1 .9 -1-5.4 -1-.8 -1-.3 -1-.6 -1-5.5 -1-.9 -1 1 -1-.5 -1-3.5 -1 3.4 -1 2.6 -1-2.8 -1 1.3 -1 .8 -1 2 -1-1.9 -1 .6 -1-.6 -1 1 -1-1.4 -1-2.7 -1 3.2 -1-1 -1 2.3 -1-.6 -1 3.8 -1 .2 -1-5.9 -1 2.3 -1 2.7 -1-1.1 -1-1.5 -1-2.2 -1-1.5 -1-.5 -1 5.4 -1-2.2 -1-.5 -1 3.2 -1-3 -1-2.6 -1 .8 -1 1.7 -1 6.6 -1-2.4 -1 4 -1 2.6 -1-.9 -1 1.1 -1 .2 -1 .4 -1-2.4 -1-.6 -1 5.8 -1-3.9 -1-1.6 -1 4.2 -1-6.3 -1 .6 -1-3 -1-3.4 -1 .3 -1-1.2 -1 1.1 -1 1.2 -1 .3 -1 1.5 -1 5.1 -1-3.3 -1-.1 -1 2.9 -1 5.3 -1-2.6 -1 3.2 -1-.8 -1-4.1 -1-.3 -1 2.3 -1-.8 -1-1.5 -1-1.6 -1-1.5 -1-.5 -1-2 -1-.1 -1 1.3 -1 2.3 -1 2 -1-.4 -1 2.3 -1-3.3 -1 5 -1-3.5 -1-.2 -1-5.7 -1 3.3 -1-4.2 -1 3.5 -1-3.7 -1-1.4 -1 5 -1-1.4 -1 2.7 -1-2 -1 3.1 -1-.6 -1-.3 -1-1.7 -1-.5 -1 1.6 -1-2.3 -1 .1 -1 .9 -1-1.7 -1 1.3 -1-1.5 -1-2.1 -1 1.4 -1 3.2 -1 3.5 -1 .7 -1-1.5 -1 1.4 -1 3.9 -1 1 -1-2.1 -1-.2 -1-3.5 -1 5.3 -1 .3 -1-3.2 -1 4 -1 2.9 -1 1.2 -1-1.1 -1-4.7 -1 0 -1 1.8 -1 .2 -1-.7 -1 4.1 -1-1.6 -1-3.9 -1-3.5 -1-.7 -1 2.3 -1-.8 -1 2.9 -1-3.1 -1-2.2 -1-1.4 -1-.6 -1-1.2 -1 3.2 -1-1.1 -1 4.4 -1-1.1 -1-1.6 -1-.9 -1-1.2 -1 3.1 -1-2.5 -1 1.5 -1-3.4 -1 2.7 -1-3.8 -1 .9 -1 1 -1-2.5 -1 3.9 -1-3.1 -1 2.7 -1 2.9 -1-1.8 -1-1 -1 .6 -1 1.2 -1 1.4 -1 0 -1-1.8 -1 1.9 -1 2.7 -1-3.4 -1-1.9 -1 3.1 -1 .5 -1 .3 -1-2.6 -1-2 -1 2.3 -1 1.2 -1-2 -1 2.9 -1-2.5 -1 4.2 -1-5.1 -1-2.8 -1-.1 -1-2.3 -1 2.4 -1 1.4 -1 1.3 -1-3.3 -1 1.3 -1 2.9 -1-1 -1 1.3 -1 .3 -1-.4 -1 4.3 -1-2.3 -1 1.4 -1-.5 -1-1.3 -1-.9 -1 .5 -1 .7 -1 1.3 -1 .8 -1 .2 -1-1.2 -1-.9 -1-1.4 -1 4.1 -1 1.1 -1 1.3 -1 2 -1 .8 -1-.9 -1-.8 -1 3.2 -1-1.1 -1-1.1 -1 1.2 -1 1 -1-3.1 -1-3.2 -1 5.2 -1-4.8 -1 2.2 -1 2.4 -1-3.8 -1 .1 -1-.1 -1 1.3 -1 3.1 -1-2 -1-1.8 -1 1.2 -1 .7 -1-2.2 -1-1.3 -1 4 -1-.7 -1-3.2 -1 4.2 -1-1.2 -1 .3 -1-1.9 -1 1.6 -1-1 -1 .5 -1 5.6 -1-1.9 -1-3.8 -1-.5 -1 1.5 -1 .7 -1-1.2 -1 4 -1 1.1 -1 .3 -1 3.8 -1-.9 -1-.3 -1 .5 -1-1.2 -1 .4 -1 3.8 -1-4.5 -1 .5 -1-3.7 -1-.5 -1-1.8 -1-1.6 -1-.3 -1-1.6 -1 3.4 -1 1.4 -1 .8 -1 3.5 -1-2.4 -1-2 -1-.1 -1 1.2 -1-.9 -1-2.2 -1-37.9z" fill="rgba(254,0,206,0.25)"/>
<path d="M0 135l1 16.7 1 .9 1 .3 1-1.4 1-1.6 1 2.2 1 1.5 1-1 1 1.2 1-.3 1-.4 1-.6 1 .4 1 .7 1 .2 1-1.3 1 2.8 1-1.8 1 .1 1-.9 1-1.1 1 .4 1 1 1-.2 1 1.1 1 .5 1-.6 1 .1 1-2 1 1.1 1 .1 1-1 1-.8 1 1.6 1 .6 1-1.1 1-1 1-.7 1 1.1 1 .7 1-.5 1 .8 1-2.6 1 1.2 1-.2 1-.8 1 0 1 2.4 1-2.2 1-1.2 1 1.3 1-.5 1 1.6 1-.6 1-.5 1 .8 1 1.3 1-1.6 1-2.1 1 2.4 1-3.5 1 1.1 1-1.1 1 .2 1-.1 1 1.1 1-1.4 1-.7 1 1.3 1-1.7 1 2.1 1-1.2 1-1.3 1 .6 1-1.2 1 .3 1-2 1 2.8 1 .7 1 .3 1 .2 1-.2 1-1.3 1-1.5 1 .4 1 .2 1 2.1 1-.2 1-2.9 1-.2 1-.1 1 .1 1-.6 1 .7 1-1 1-.7 1-.7 1 .4 1 .1 1 .8 1 1.3 1-.6 1 .8 1-1.1 1-2.3 1 1.7 1 .4 1-.5 1-.2 1-.1 1 2.5 1-.5 1 .3 1-1.2 1-1.2 1 1.7 1 .1 1-1.2 1-.6 1 2.5 1-1.4 1 .3 1-1 1-.4 1 2 1-2.9 1-.3 1 1 1-.7 1-.3 1 .1 1-1.9 1 2.5 1-1.4 1 2.3 1-.8 1 .9 1-2.9 1 .8 1-.3 1-.7 1 1.2 1-3.3 1 .6 1-2.4 1 2.2 1 .8 1-1 1 1 1-.2 1-.1 1 .6 1-1.1 1-.6 1-.5 1 2.9 1 .1 1-2.7 1 .5 1 1.7 1-.7 1 .9 1 .6 1 .7 1-.3 1-2 1-1.7 1 1.9 1 .5 1-1.9 1 .5 1 .7 1 .4 1-.4 1-2.8 1-.9 1 .1 1 .6 1-1.1 1-.5 1-1.2 1 2.4 1-1.1 1-.2 1-1.5 1-.3 1 .6 1 1 1-.3 1 .2 1-2.4 1 1.1 1 .5 1-.6 1-.4 1 .7 1 .1 1-4.3 1 1.3 1 1 1-.9 1 .3 1-2.4 1 4.7 1 1 1 .5 1-1.3 1 2.3 1-1.3 1 1.1 1-.8 1-.1 1 1.2 1-.1 1 .4 1 .7 1-1.1 1-.5 1 2 1-.7 1 .9 1-1.6 1 1.2 1-.1 1-1.9 1 .6 1-.2 1 0 1 .6 1 .3 1-2 1 .2 1-.2 1-1.2 1 .2 1 0 1 .9 1-1.8 1 1.7 1 .8 1 .7 1-.1 1 .5 1 1.2 1 .8 1-1.1 1 .6 1 1.2 1 .2 1-.8 1-.6 1-1.6 1 .7 1 .4 1-2.2 1-.2 1 .7 1-.8 1-1.4 1 .4 1-.6 1 2 1-1.4 1-2.7 1 .5 1 1.8 1 3.1 1-.7 1-2.2 1 .3 1 1.8 1-1.1 1-.1 1 .3 1-.4 1-.2 1-1.8 1 1.2 1-1.1 1-1.3 1 .5 1-.5 1 .7 1 0 1-2.4 1 .2 1 .7 1-2.2 1-2.6 1 .6 1 0 1 .4 1 .1 1 1.2 1-.4 1 .6 1 .2 1 1.8 1-.6 1 .8 1-.3 1-.3 1 0 1-.4 1 1.9 1 .8 1 .4 1-1.2 1 1.1 1 2 1-.6 1 1.2 1 2.1 1-.1 1-2.1 1 1.5 1 1.5 1-1.4 1 .4 1-1.8 1-3.3 1 1.3 1 .3 1-1.5 1 .6 1-.6 1-.1 1-1.4 1-.2 1 1.6 1 .6 1-.8 1-.1 1 1.7 1 .6 1-1.4 1 1.3 1-.4 1 .2 1 .1 1 1.4 1-1.2 1-1.4 1 .6 1-.3 1 .7 1-2.5 1-.1 1-.9 1-.8 1-.2 1 2.8 1-1.6 1-1.2 1-1 1-1.2 1 0 1 1.3 1 .4 1-.6 1 .2 1-.1 1 1.6 1 .3 1 1.9 1-1.5 1 2.4 1 .5 1 .4 1-1.3 1-.1 1 1.5 1-3.6 1 .6 1-.1 1-1.9 1 .2 1 1.5 1-1.2 1 1.4 1-1 1 1.5 1-1.4 1 0 1-2.4 1-1.4 1 2.1 1-.5 1 2.3 1-2.2 1 0 1 1.5 1-1.8 1-1.5 1-.1 1 1 1-.1 1-.4 1 5.4 1 0" fill="none" stroke="#FE00CE" stroke-width="3.6" vector-effect="non-scaling-stroke" stroke-linejoin="round"/>
</g>
<path d="M590.7 125.8 599.9 116.6 609.1 125.8 599.9 135.0 609.1 144.2 599.9 153.4 590.7 144.2 581.5 153.4 572.3 144.2 581.5 135.0 572.3 125.8 581.5 116.6Z M938.1 121.4 947.3 112.2 956.5 121.4 947.3 130.6 956.5 139.8 947.3 149.0 938.1 139.8 928.9 149.0 919.7 139.8 928.9 130.6 919.7 121.4 928.9 112.2Z" fill="#FE00CE"/>
</g>
<g clip-path="url(#c02)">
<g transform="translate(1096.60 0) scale(0.8685 1)">
<path d="M0 201.2l1-8.1 1-3.7 1 1.2 1-1.5 1 .1 1 1.2 1 1.7 1 2.4 1 .2 1-2.6 1-.7 1 .8 1 2 1-1.4 1 .4 1 3.4 1-2.2 1 1.3 1-1.2 1 .6 1-.6 1-.9 1 1.1 1 2.6 1-.2 1-1.3 1 1.9 1 1.8 1-3.2 1 .2 1 1.2 1-3.5 1-2.2 1 0 1-1.7 1-2 1 1.9 1-4.2 1 3.6 1 .8 1-3.1 1 1.2 1-.4 1-1.1 1 .9 1-1.1 1-.3 1 .1 1 .9 1 1.6 1 1.3 1-.7 1 1.1 1-.2 1 1.8 1-2 1 1.6 1-2.7 1 .6 1-.3 1-.6 1 1 1 1.8 1-.2 1 .5 1-1.6 1 .1 1 .8 1-2.1 1 2.2 1-.4 1 1.8 1-1.8 1 1.7 1-.1 1 .1 1-1.2 1-.2 1 .5 1 .2 1-.9 1 1.3 1-2.1 1-1.2 1 .8 1-2.6 1 4.1 1-.9 1 1.4 1-4 1 1 1-.7 1-.9 1-2.5 1 1.8 1-1.4 1 .7 1-1.1 1-2.2 1-.2 1 2.1 1-.1 1 1.4 1-1.8 1 3.7 1-2.1 1 1.1 1 .3 1-1.5 1 .2 1 .3 1 .4 1 .4 1 .6 1-.8 1 1 1-.6 1-.6 1 2.8 1-.3 1 2.4 1 .2 1-.2 1-.3 1-1 1 .2 1 4.3 1-1.1 1-1.5 1 1.2 1 1.5 1 .4 1-.6 1 1.4 1-2.8 1-1.1 1-1.3 1 .1 1 2.4 1-2.1 1 .9 1-.8 1-2.8 1 .7 1-1.9 1 2.4 1-.8 1 .5 1 2.5 1 .5 1-1.8 1 .4 1-.3 1 1.1 1-3 1-.2 1-.6 1-2.6 1 1.1 1 1.4 1-1.1 1 1 1-1.3 1 3.8 1 .9 1-.7 1 .3 1 1 1-.3 1 1.2 1 1.1 1-1.3 1-2 1-.7 1-1.1 1 2 1-.9 1 .7 1-3 1 1.5 1-3 1-.9 1 1 1 1.7 1 .2 1 2.5 1-1.2 1-3 1 .8 1-2.5 1 2.4 1-2 1 .3 1 1.7 1-1.2 1 2.2 1 1.5 1-1.8 1-1.8 1 1.3 1-1.2 1 2 1-2.7 1-1.4 1 2.4 1 1.3 1-1.9 1-.8 1 1.5 1-.1 1 .1 1-1.4 1-2.4 1 .5 1 1.5 1-.2 1 3.4 1 1.7 1 0 1-1.9 1 2 1-1.2 1 2.8 1-.5 1-.7 1 .9 1 1.2 1-3 1-.2 1 1.5 1-2.5 1-2.2 1 1.2 1 .5 1 .9 1-1.3 1 1.6 1-.4 1 .2 1-2.9 1-1.7 1 0 1-.9 1 1 1 1.6 1 .8 1-1.2 1 1.7 1-1.2 1 1 1 .7 1-4.6 1 2.7 1-1.8 1 .7 1 1.3 1-.5 1-2.5 1 .9 1 1 1-1.6 1 .4 1-.6 1 1.8 1 1.2 1-.9 1 .7 1 2 1-.5 1-1.6 1 1.3 1-.3 1 1.1 1-.2 1 .7 1-.4 1-1.9 1-.5 1 1.7 1-3.6 1-.3 1 2.7 1 .9 1 .2 1-.7 1 3.4 1 0 1-2.6 1 1.3 1-2.4 1 1.4 1-.4 1-.2 1 .2 1 0 1 .7 1-2.4 1 1.4 1 .3 1 .6 1-2.8 1 3 1-2.7 1 .1 1-1.6 1 1.6 1 1.5 1-.7 1-2.1 1-1 1 .4 1-.5 1 .6 1 4.3 1-1.5 1 1.2 1-3.4 1 1.1 1-1.3 1 .5 1-1 1 .3 1 2.4 1-1.8 1-1.4 1 2 1-.3 1-2.9 1 4.4 1 .4 1-1.1 1 .7 1 2.3 1 3.2 1 1.1 1 .2 1 1.6 1-1.9 1-.3 1-.2 1-.6 1-.1 1 .6 1-2.5 1-.3 1 1.7 1-2.6 1-1.7 1 2.5 1-.2 1 .1 1 2.3 1 .5 1 0 1-1.2 1 1.1 1-4.1 1 .2 1 .6 1-.2 1-1.3 1 3.2 1-2.9 1-2.6 1 .4 1-1.2 1 1.6 1-.8 1 .4 1-.1 1 .9 1-.4 1 2.4 1-2 1 .3 1-2 1-4.2 1 1 1-.3 1 2.6 1 .7 1-.9 1 .2 1-.4 1-.4 1 .1 1-.7 1 1.7 1-.2 1-.1 1 .6 1-.5 1 1.2 1-.7 1-.3 1-.8 1 1 1 .8 1-1.2 0 42.5 -1 2 -1-1.7 -1 1.6 -1-.6 -1 1.7 -1 1 -1 1.2 -1-1.4 -1-3.5 -1-1.4 -1 2 -1-1.7 -1-1.1 -1-1 -1 4.3 -1 2 -1-.4 -1 2.7 -1-2.2 -1-1.4 -1 .2 -1 2.1 -1 .8 -1-.4 -1 .9 -1-1 -1-2.9 -1 .7 -1 2 -1-1.2 -1-.1 -1 .2 -1 2.7 -1-.9 -1-1.9 -1-.3 -1 2.6 -1-1.2 -1-.4 -1 2.3 -1 .7 -1-2 -1 3.7 -1-3.3 -1 2.2 -1 .9 -1-.9 -1 1.5 -1 0 -1 1.1 -1-3.9 -1 .8 -1-5.4 -1 2.9 -1 .5 -1-1.8 -1 .6 -1 .4 -1-2.3 -1 1.2 -1 .5 -1 1.8 -1-1.6 -1-.4 -1 2.6 -1-1.1 -1-3.2 -1 1.4 -1 1.1 -1-2.4 -1-1 -1-.1 -1-.7 -1-2.8 -1 .7 -1 1 -1-1.2 -1 1.8 -1-.9 -1 2.4 -1 .3 -1 2.9 -1 2.3 -1 .5 -1-1.2 -1-2.3 -1 .9 -1 2.1 -1 .3 -1-1.2 -1-.5 -1 1.3 -1 1 -1-2.3 -1 .4 -1-2.9 -1 1.6 -1-.4 -1 0 -1 2.5 -1-1.7 -1 .9 -1-.9 -1-.9 -1-.6 -1 1.5 -1-.5 -1-.7 -1-1.5 -1 1.8 -1 .3 -1 1.2 -1-1.9 -1-.2 -1-.1 -1 1 -1-.7 -1 2 -1-.6 -1-.1 -1-3.3 -1 .8 -1-.5 -1 .5 -1-.2 -1 .1 -1-.7 -1-.7 -1 .5 -1 2.3 -1 1 -1-2.8 -1-.9 -1 1.4 -1 0 -1-.6 -1 .7 -1 1.3 -1 2.5 -1-1.7 -1-.8 -1 2.3 -1 1.6 -1 .8 -1-2 -1 3.4 -1-5.6 -1 2.6 -1 .2 -1-2.6 -1 .2 -1-2.5 -1-.1 -1 2.5 -1-.7 -1-3.1 -1-.4 -1 0 -1 2.7 -1-.7 -1 .9 -1-1.9 -1-1 -1 .2 -1 1.4 -1 1.8 -1-.6 -1-.6 -1-.6 -1-.4 -1 2.9 -1-.5 -1 .1 -1 1.5 -1 .5 -1 1.6 -1-.9 -1-1.1 -1 1.9 -1-3.2 -1-.5 -1-.7 -1-2.4 -1 2.8 -1 1 -1 1.6 -1-2.3 -1 .7 -1 0 -1-1.3 -1 1.4 -1 1 -1-1.4 -1 .5 -1-1.2 -1 1.2 -1-.2 -1-1.3 -1 1.7 -1 .9 -1-.5 -1-.2 -1 1.2 -1-1.9 -1 2.5 -1-.8 -1-1.8 -1 2.8 -1-.9 -1-.5 -1 .6 -1 .9 -1 2.3 -1 0 -1-1.7 -1 2.5 -1-1.6 -1-2.1 -1 1.9 -1 .1 -1 .9 -1-1.5 -1 1.9 -1-3.3 -1 1 -1 2.8 -1-1 -1 .8 -1 3.2 -1-1.5 -1 .7 -1-3.6 -1-.7 -1 .3 -1 1.4 -1-2.7 -1 .2 -1 .9 -1 0 -1-2.4 -1 1 -1-1.8 -1-1.4 -1-.1 -1 2.4 -1-.2 -1-2.2 -1-.5 -1-2.7 -1 1.8 -1-3 -1 3.9 -1-2.9 -1-.4 -1 .3 -1 .8 -1 .8 -1 .9 -1 .4 -1 1.3 -1-.4 -1 2.7 -1 1.2 -1-1.4 -1-.8 -1 2.5 -1-.8 -1-2.2 -1-.7 -1 2.7 -1 2.5 -1-1.8 -1-.3 -1 1.1 -1 1.5 -1-.4 -1 3.6 -1-.8 -1 .8 -1-.1 -1-.9 -1-2.1 -1 1.4 -1-1.8 -1-2.6 -1-.3 -1-1.1 -1 1.6 -1-.9 -1 2.8 -1 .4 -1-3.1 -1 .2 -1 2.5 -1 0 -1 .7 -1 1.6 -1-2.3 -1-1.5 -1-.8 -1 .4 -1 .8 -1 2.6 -1-1.3 -1-.9 -1 .8 -1-.1 -1 .2 -1-.4 -1 5.6 -1-1.6 -1-1 -1 .5 -1-1.6 -1 .8 -1-1.1 -1-1.1 -1 .5 -1 .8 -1 .2 -1 .7 -1-1.8 -1 0 -1 1.2 -1-.2 -1 .3 -1-.3 -1 2.9 -1 1.4 -1-3.6 -1-.5 -1-1 -1-1.8 -1 4.1 -1-.2 -1-.1 -1 0 -1-.4 -1 .8 -1-1.7 -1 .3 -1-1.8 -1 .3 -1 2.2 -1-3 -1 1.2 -1-3.1 -1-.6 -1 1.5 -1-2.5 -1-.8 -1 1.9 -1 1.9 -1 1.6 -1 .3 -1-.7 -1 .1 -1 1.6 -1-1.5 -1 1.3 -1-2.8 -1 1.8 -1-3.3 -1 .6 -1 1.9 -1 2.2 -1-1.1 -1 .1 -1-1.1 -1 2.3 -1 4.6 -1-.5 -1 .9 -1-2.5 -1 .3 -1 .1 -1-2.6 -1-.5 -1 3.5 -1-2.6 -1 1 -1 2.7 -1-.5 -1 1.5 -1-.4 -1-.6 -1-.9 -1 2.5 -1 1.5 -1-.6 -1 2.5 -1-.9 -1-.6 -1-.3 -1-2.4 -1 3 -1-.8 -1 1 -1-44.3z" fill="rgba(253,50,22,0.25)"/>
<path d="M0 201.2l1 16.2 1-1 1-.4 1 .1 1-.6 1 .2 1 .4 1-.2 1 .5 1-.3 1-.4 1 0 1 1 1-.5 1 .8 1-.3 1-.1 1-.7 1-.1 1 .2 1-.4 1 .8 1-.2 1 1.4 1-1 1 .5 1 .1 1 0 1-1 1-1.1 1 .5 1 0 1 .7 1-.7 1-.6 1-.1 1 1.9 1-1.4 1-.4 1 .1 1-.8 1 .3 1 .6 1-.5 1 .4 1-.1 1-.3 1 .3 1-.7 1 1.3 1-1.6 1 .6 1 .4 1-.4 1 .9 1-.1 1-1.2 1 .3 1 .6 1 .6 1-1.4 1 .2 1 0 1 .5 1-.5 1-.8 1 .7 1-.1 1 .4 1 .7 1-.8 1 1.1 1-.7 1 .4 1-.7 1-.7 1-1.3 1 .4 1-.3 1 .1 1-.8 1 .4 1-.3 1-.3 1 .4 1 .1 1 1.4 1-.1 1 .5 1-2.1 1-.3 1 .3 1 .1 1-.8 1 2.1 1-.3 1-.3 1 .2 1-.8 1-.4 1 .9 1-.7 1 .7 1 .3 1 .1 1-.6 1 .6 1 .5 1-.3 1-.4 1 .6 1-1.7 1 1.3 1-.3 1-.2 1 .7 1-.9 1 1.2 1 .5 1-.6 1 .1 1-.1 1-1.1 1 .3 1-.5 1 .4 1 .8 1 .1 1-.7 1-.4 1 .2 1 .3 1 .1 1-.2 1-.4 1 .1 1-.1 1 .3 1-.6 1 .1 1 .1 1-.6 1 .3 1-.9 1-.1 1 .4 1 .3 1-1.3 1 1 1-.7 1 .1 1 .8 1-.1 1 .8 1-.2 1-1.5 1 .2 1-.1 1 .6 1 .6 1-.3 1-.2 1 .3 1 1.1 1-.5 1-.5 1-.4 1 .3 1-1.3 1 1.2 1 1 1-.8 1-.1 1-.2 1-.1 1 .5 1-1.6 1-.3 1 1.5 1-.3 1-.5 1 .2 1-.3 1 .3 1-.1 1 1.2 1-.4 1-1.2 1-.8 1 .4 1 1 1-1.5 1 0 1 .9 1-.8 1 1.3 1-.4 1-.8 1-.1 1 .3 1 0 1 1.5 1-.4 1-1.2 1 1.1 1 .5 1 0 1-.6 1-.1 1 .2 1-.9 1-.6 1-.3 1 .1 1-.6 1-.3 1 1.8 1-.1 1 .4 1-.1 1-.8 1 .4 1 .6 1-.6 1-.5 1 .3 1-.4 1 0 1-1.2 1 .6 1-.8 1-.6 1 2 1-1.3 1 .1 1-.3 1-1.2 1-.3 1 .2 1 .3 1-.5 1-1 1-.2 1 1.6 1 1 1-.5 1 .1 1 .6 1 .5 1 1.1 1-.2 1-1.3 1 1.3 1-.6 1 .2 1-.5 1-.1 1-1 1 .4 1 .3 1-.6 1-.1 1-1.3 1 1.8 1-.4 1-.8 1 .2 1 .4 1-.2 1-1.2 1 1.4 1 0 1-.3 1 0 1-.6 1 .2 1 .1 1-1.5 1 1.7 1 .3 1-1.2 1-.2 1-.6 1 .6 1-.2 1 .6 1 .4 1-1 1-.3 1-.4 1 1.2 1-.1 1 0 1 .2 1 .4 1-.4 1-.8 1 .3 1 .8 1-.9 1-.4 1 .5 1-.4 1 .4 1-1.4 1 1.4 1 .1 1-.2 1-.1 1 .5 1 .6 1-1 1 .6 1-.6 1 .7 1 .3 1-1.2 1-.6 1 .1 1-.9 1 .4 1-1.8 1 .8 1-.5 1 .4 1 1.4 1 .1 1-.6 1 2 1 .2 1-.6 1-.6 1 .8 1 1.2 1-.1 1 .4 1 .7 1-1 1-2.1 1 .5 1 .1 1-.3 1-.3 1-.6 1-.6 1 .4 1 1.4 1 .2 1 .9 1-.5 1 0 1-.2 1 .3 1 .3 1-1.1 1 .3 1-.7 1-.3 1 0 1-.2 1-.4 1 1.6 1-2.1 1 .6 1 .3 1 .5 1-.2 1-.2 1-.4 1 .7 1 .1 1-.7 1 .4 1-.7 1 .3 1-1.1 1-.2 1 .5 1 .5 1 .9 1 .1 1-.6 1 .2 1 .1 1-.4 1 .1 1-1.2 1 .6 1 .1 1-.8 1 .4 1 0 1 .4 1-1.3 1 .1 1-.2 1-.1 1 .2 1 .6 1 0" fill="none" stroke="#FD3216" stroke-width="3.6" vector-effect="non-scaling-stroke" stroke-linejoin="round"/>
</g>
<path d="M1096.6 192.0 1105.8 182.8 1115.0 192.0 1105.8 201.2 1115.0 210.4 1105.8 219.6 1096.6 210.4 1087.4 219.6 1078.2 210.4 1087.4 201.2 1078.2 192.0 1087.4 182.8Z M1444.0 194.2 1453.2 185.0 1462.4 194.2 1453.2 203.4 1462.4 212.6 1453.2 221.8 1444.0 212.6 1434.8 221.8 1425.6 212.6 1434.8 203.4 1425.6 194.2 1434.8 185.0Z" fill="#FD3216"/>
<g transform="translate(1096.60 0) scale(0.8685 1)">
<path d="M0 201.2l1 5.9 1-1.4 1 1.7 1-1.2 1 .2 1-.6 1-1.5 1 .6 1 .7 1 .6 1-1.8 1 1.2 1-.3 1-2.5 1 .9 1 .3 1 .4 1-.4 1-.7 1 .2 1-.1 1-.3 1-.4 1 2.1 1-1.6 1 .1 1 1.7 1 .9 1-.3 1-.3 1-.7 1-.5 1 .1 1 2.5 1 .3 1 1.7 1 .6 1-.4 1-.4 1 .6 1-.1 1-1.5 1-.5 1 1.3 1-.5 1 1.6 1-1.9 1-1.9 1-.4 1 .3 1-1.5 1 1.8 1-2.1 1 .4 1 .6 1-2 1 1.1 1-1.7 1-.9 1-1.2 1 1.6 1-.4 1 4.8 1 .3 1-.9 1-2.7 1 1.3 1 2.7 1-3.1 1 .2 1-1.3 1 1.1 1 .2 1-1.3 1-.6 1 1.8 1-.2 1 1.8 1-2.1 1-.2 1-.6 1-1.7 1 1.3 1-.3 1-.7 1-.7 1-1.1 1 1.4 1 .3 1 1.2 1-2 1 .4 1-.7 1-1 1-.7 1 .6 1-1.2 1 1.2 1-1.5 1-.1 1 .2 1 .9 1-2.9 1-.7 1 .9 1-1.7 1-.3 1-.3 1 .5 1 1.9 1 .9 1 1 1-2.4 1 1.4 1-2.8 1 2 1 .3 1-.7 1 0 1 1 1 .2 1 .2 1 .6 1 .3 1 .9 1-.2 1-.3 1 .2 1 1.2 1-3.5 1 3.2 1-.5 1-.7 1 1 1-.9 1 .7 1-1 1-1.2 1-.4 1 .6 1-1.8 1-.9 1 3.3 1 .9 1-1 1-1.2 1-.1 1 1 1-1 1-1.1 1 .4 1 1.4 1-1.4 1 1 1-1.3 1-1.2 1-.7 1-3.5 1 3.4 1-.2 1 .2 1 .4 1 .6 1-.9 1 1.4 1-1.1 1-2.4 1-1.4 1-.4 1 1.9 1-.1 1 1.9 1-2.5 1 0 1-1.1 1-.3 1 .8 1 .8 1 1.1 1-3.5 1 .9 1 .9 1 .8 1-3 1 1.9 1-1.5 1 .2 1 .5 1 1.4 1 .3 1-2.4 1-.6 1 .4 1 .3 1-.2 1 1.6 1-1 1 .6 1-.5 1 .9 1-2.5 1-1.2 1 .1 1-.4 1 1.4 1-1.3 1 .4 1-1.1 1-2 1 1.6 1-.8 1 1.8 1-2 1 3 1-1.2 1-1.2 1 .4 1 2.5 1-1.3 1 1 1 2.4 1 1.8 1-1.5 1-1 1-2.3 1-.2 1 .2 1 0 1 0 1-1.8 1-1.1 1 .3 1 .9 1-1.7 1 .5 1 .5 1 .2 1 1.7 1-.7 1 2.2 1-2.1 1-.1 1-1 1 .4 1 1.1 1-.7 1 .5 1 1.8 1-2.2 1 2.5 1-4.1 1 2.3 1-1.7 1 .4 1 .4 1-3 1 .3 1 .9 1 .2 1 3.5 1 1.8 1 .7 1 2.1 1-2.1 1 1.3 1-.6 1-2.3 1-2.4 1 2.8 1-2.6 1 1.5 1 .4 1 .6 1-1.9 1 2.1 1 .3 1-1.5 1-1.8 1 1 1-1.5 1-2.2 1 .2 1-.1 1 .8 1 .7 1-.5 1 2.5 1 .4 1-5.6 1 1.2 1-.7 1-1.2 1 .4 1 1.8 1-.8 1-.3 1 .2 1 .9 1 2.1 1 .1 1 .8 1 .5 1-3.5 1-.5 1-1.1 1 .2 1 .6 1-2.9 1 .7 1 1.8 1 1.6 1-1.5 1 1.2 1-.9 1-1.3 1 .4 1 .6 1-.1 1-1.7 1 2 1 1.8 1-1.1 1 2.2 1 .9 1-.8 1-1.2 1-.4 1-.2 1-1.2 1-.3 1-1.4 1 .4 1 3.8 1-.8 1-3.2 1 .6 1 .2 1-3.4 1 4.8 1-.5 1 2.9 1-.4 1-1 1-.5 1 1.8 1-3.1 1 .7 1-1.2 1 .5 1 .1 1-.1 1-.4 1 1.1 1 1.8 1-.5 1-1 1-.7 1 .5 1-1.7 1 .2 1 1.4 1-1 1 .2 1 .1 1 3.3 1-1.1 1 1.3 1-.3 1-.9 1-1.1 1-3.7 1 2.2 1 .6 1 1.9 1 .3 1 .2 1-2.7 1 .8 1 .3 1-1.8 1 1 1-1.7 1 .1 1-1 1-1.3 1-.1 1 .5 1 2.5 1-2.9 1-.3 1-2.9 1 .6 1 0 1 .2 1 .5 1-2.2 1 1.4 1 .7 1 1.1 0 46.6 -1 3.4 -1-2.6 -1-.4 -1-1.8 -1 .8 -1 1.3 -1-.4 -1-.6 -1 .6 -1 .4 -1 .4 -1-.4 -1 .8 -1-1.1 -1 3.6 -1-.9 -1 1.8 -1-.3 -1-2.3 -1-.7 -1 .2 -1 .5 -1 .7 -1-.1 -1 .1 -1 1 -1-1.3 -1-1.7 -1 2.4 -1-.5 -1-.3 -1 3.2 -1-.2 -1-.4 -1-1 -1-.4 -1 1 -1 .3 -1-.5 -1-1.8 -1 1.5 -1-3.7 -1 1.9 -1-.3 -1-1.6 -1 2.5 -1 1.1 -1-1.5 -1-1.9 -1-1 -1 .9 -1-.5 -1-2.8 -1 .1 -1 .7 -1-1.6 -1 1 -1 .6 -1-.7 -1 0 -1-1.6 -1 2.9 -1-2 -1 1.9 -1 1.3 -1 0 -1 .7 -1-1.1 -1-.1 -1-.6 -1 1.4 -1 .5 -1-.1 -1-1.4 -1 .1 -1 1 -1 1.6 -1-.2 -1 1.3 -1-.7 -1 .1 -1 1.1 -1 2.2 -1-.6 -1 .9 -1 1.8 -1 0 -1-1.5 -1-1.7 -1-.4 -1-.9 -1 1.8 -1-2.3 -1 2.2 -1 .2 -1-.5 -1-.9 -1 1.2 -1 .7 -1-1.4 -1 1.2 -1-3.2 -1-.4 -1 1.2 -1-1.1 -1-1.2 -1-.5 -1-.7 -1 1.5 -1 2.5 -1 .4 -1-.6 -1-3.9 -1-.1 -1 1.9 -1-.9 -1-2.5 -1-1 -1 .8 -1 1.1 -1-.9 -1 1.5 -1 .2 -1-.7 -1 2.8 -1-.1 -1-.7 -1 2.2 -1-.2 -1 2.2 -1-3 -1 .8 -1-1 -1 1.6 -1 .8 -1 1.7 -1 .8 -1 2.1 -1-2.5 -1-1.9 -1-1.6 -1 .4 -1-.3 -1 .9 -1 1.2 -1 1.2 -1-.1 -1-1.3 -1 1.1 -1-.5 -1-.5 -1-1.9 -1-.5 -1 .3 -1-1.6 -1 1.7 -1-.3 -1-1.4 -1 1.9 -1-1.5 -1-.7 -1 2.5 -1 2.7 -1-1.9 -1 .5 -1-.7 -1 1 -1 .2 -1-.7 -1-.5 -1 .7 -1 1.5 -1 .4 -1 1.7 -1-.9 -1 2.9 -1 .7 -1-2.1 -1 .7 -1-2.4 -1 .9 -1-.2 -1-.8 -1 2.4 -1-1.2 -1-3.3 -1 1.1 -1-.9 -1 1.6 -1-1.6 -1-2.5 -1 2.2 -1-1 -1 1.3 -1 1.2 -1 .4 -1-1.6 -1-1.9 -1 2.3 -1-1.6 -1 .2 -1 3.3 -1-1.6 -1 .4 -1 0 -1 2.1 -1 .5 -1-.8 -1 1.9 -1-.3 -1-.2 -1 1.9 -1-.8 -1 1.2 -1 .4 -1-2.1 -1 .4 -1-1.3 -1-.7 -1 .9 -1-1.4 -1-1.5 -1 2.2 -1 .2 -1 .1 -1 2.6 -1-1.1 -1 .5 -1 1.5 -1 0 -1-1.3 -1-1.2 -1-1 -1 1.2 -1-2.1 -1 1.4 -1 .6 -1-1 -1-.7 -1-1 -1-1.3 -1 2.8 -1-1.3 -1 .8 -1-.8 -1-1.6 -1 2.4 -1-.4 -1 1.4 -1-2.4 -1 .2 -1 .1 -1-.2 -1 1 -1-.3 -1 1.1 -1-1.3 -1 2.2 -1 .9 -1-1.6 -1 1.9 -1 1.5 -1-1.3 -1 .6 -1-1.3 -1 1.9 -1-3.5 -1 .5 -1 3.2 -1-.9 -1 .2 -1 .9 -1-1.3 -1 .5 -1-.3 -1 .5 -1 1.6 -1 .1 -1-2.4 -1 .2 -1-.6 -1 0 -1-1.3 -1-.9 -1 .2 -1 0 -1 1.8 -1-.2 -1-.5 -1-.7 -1 1.7 -1-.4 -1 .3 -1 1.3 -1-.5 -1-1.8 -1 3.8 -1-2.7 -1 .4 -1-.6 -1 .8 -1-2.5 -1 3.1 -1-1 -1-.8 -1-.6 -1 3.1 -1-.2 -1 1.8 -1-2.4 -1 .1 -1 2.7 -1 .6 -1 .1 -1-1 -1 1.4 -1-1.9 -1 1.7 -1-.6 -1 .9 -1 2.2 -1-3.1 -1 1 -1-.7 -1-.4 -1-.8 -1 .2 -1 .3 -1 .8 -1-.9 -1 3.4 -1 .2 -1 .8 -1 1 -1-1.2 -1 .3 -1-1.1 -1 1.1 -1-.4 -1 1.2 -1-1 -1 2.5 -1-.7 -1-1.5 -1 3.3 -1-2.5 -1 2.3 -1-1.5 -1 .6 -1 1 -1-.7 -1 .3 -1 2 -1-2.3 -1 1.8 -1 .4 -1 1.1 -1-.6 -1 1.2 -1-1.5 -1 0 -1-.3 -1-2.4 -1 2 -1-.7 -1-2.3 -1 .5 -1-.6 -1 1.9 -1 .9 -1 1 -1-1.6 -1 0 -1-2.1 -1 3.1 -1-3.5 -1 2.7 -1-3.4 -1 2.4 -1 1 -1-.1 -1 .8 -1-.2 -1 .4 -1-2.4 -1-2.1 -1-.5 -1 .3 -1-.8 -1-.3 -1 .1 -1-.3 -1 1.1 -1 .3 -1 1.9 -1-.2 -1-3.7 -1 2.7 -1-42.3z" fill="rgba(0,254,53,0.25)"/>
<path d="M0 201.2l1 19.5 1-.9 1 1.8 1-.8 1-.1 1-.3 1-.8 1-.1 1 0 1 .7 1 .3 1 .8 1-1.2 1-.4 1 1.5 1-.2 1 .4 1-.3 1-.1 1-.4 1 0 1 .3 1-.3 1 .9 1-2.2 1 .1 1 .5 1 .6 1-.1 1 0 1 0 1-.9 1 .4 1 1.6 1 .3 1-.2 1 .6 1-1.1 1-.1 1 .1 1-.1 1-.5 1-.4 1 .2 1-.3 1 1.2 1-.9 1-1.5 1-.2 1 .3 1-1 1 .6 1-1 1 .5 1 .4 1-1.2 1 .9 1-.7 1 .8 1-.4 1 .6 1-1.3 1 2.2 1 .4 1 .8 1-2.5 1 .2 1 1.3 1-2.6 1 1.5 1-.6 1-.9 1 .7 1 .1 1-.9 1 .9 1-.9 1 1.1 1-1.5 1-.5 1-.5 1-.5 1 1 1-.4 1 .3 1 .9 1-.6 1-1 1 .3 1 1 1-.9 1 .8 1-1.3 1-.3 1-.2 1 .1 1-.2 1 .7 1-.1 1 .9 1-.6 1 1.6 1-1.2 1-.1 1-.1 1-.7 1 .7 1 0 1-.6 1 .5 1 0 1-.5 1-.8 1 0 1-.9 1 .5 1-.4 1 .7 1 .6 1-.7 1-.1 1 .6 1 .4 1 .7 1-.9 1-.4 1 .7 1-.7 1-.5 1-.7 1 .1 1-.6 1 .6 1-.9 1 .4 1-1.1 1 .5 1-.2 1 .1 1 1.2 1-1.2 1-1.1 1 2.1 1-.7 1-.2 1-.8 1-.3 1 .2 1 .2 1 0 1-.2 1 1.4 1-1.4 1 .7 1 .2 1-.4 1-.7 1-.7 1 .8 1 .6 1 .4 1 .8 1-.1 1 1.1 1-.7 1-1.5 1 .4 1-1.1 1 0 1 .6 1 .5 1 .4 1-.9 1-1.1 1-.4 1 .6 1 .2 1 .6 1 .2 1-1.2 1 .7 1-.1 1 .4 1-.4 1-.7 1-1.5 1 .8 1 0 1 .6 1-.3 1-.8 1 1 1 .1 1-1.4 1-.3 1 .9 1 .5 1-1.1 1-.9 1 1 1-1.1 1 0 1 .9 1-1.2 1 1.4 1-1.5 1 .8 1-1.3 1 1.5 1 .1 1-.8 1-.1 1-.2 1 1 1 .5 1-.4 1 .2 1 .1 1-.4 1 1.5 1-.6 1 .2 1 .5 1-1.2 1 .2 1-.2 1 0 1-.8 1 .5 1 .6 1-.7 1-.1 1-.1 1-.5 1-.3 1-.1 1 .2 1-.1 1-1 1 1.5 1-1.1 1 .6 1-.3 1-.6 1 .1 1-.1 1 .4 1 .5 1 0 1 .2 1-1 1 1.1 1-.2 1-.2 1-.7 1-1.4 1-.1 1 0 1 .6 1 .7 1 1.2 1-.7 1 1 1-.8 1 .2 1-.5 1-.1 1-2.2 1 2.2 1-1.4 1 .3 1 .1 1 .1 1-.3 1-.1 1 .5 1-1.1 1-.7 1 .6 1-.2 1-.2 1-.8 1 .5 1 .5 1-.1 1 .2 1 1.5 1 .3 1-1.1 1 .9 1-1.6 1-1 1 2 1 0 1 .1 1-.9 1 .5 1 .6 1-.5 1 1.1 1-.1 1-.3 1-.5 1-.8 1 .1 1-.9 1 1 1-1.3 1 .9 1 .7 1 .2 1-.3 1 .4 1-.6 1-.3 1-.1 1 .7 1-.7 1-1 1 1.2 1-1 1 .3 1-.4 1 .8 1-.8 1 .4 1-.7 1-.4 1-.4 1 0 1-.1 1 1.3 1 .1 1 .1 1 .1 1-.7 1-.3 1-.8 1 1.1 1 .5 1 .6 1-1.5 1 .7 1 1.1 1-.3 1-.5 1 .1 1-.1 1 .3 1-.3 1 .5 1 .5 1-.5 1 0 1-.3 1 .1 1-1.1 1 1.3 1-.9 1-.3 1 .8 1-.9 1-.6 1 0 1 .8 1-.4 1 .6 1-1.1 1-.9 1-.2 1-.1 1 1.3 1 .9 1-.7 1 .2 1 .5 1 0 1-1.3 1 .9 1 .1 1 .8 1-.6 1-.4 1-.7 1-.3 1 1.2 1 .6 1-.5 1-.2 1-.8 1-.4 1-.2 1 0 1-.1 1-.5 1-.2 1 1 1 .4 1 .4 1 0" fill="none" stroke="#00FE35" stroke-width="3.6" vector-effect="non-scaling-stroke" stroke-linejoin="round"/>
</g>
<path d="M1096.6 192.0 1105.8 182.8 1115.0 192.0 1105.8 201.2 1115.0 210.4 1105.8 219.6 1096.6 210.4 1087.4 219.6 1078.2 210.4 1087.4 201.2 1078.2 192.0 1087.4 182.8Z M1444.0 193.5 1453.2 184.3 1462.4 193.5 1453.2 202.7 1462.4 211.9 1453.2 221.1 1444.0 211.9 1434.8 221.1 1425.6 211.9 1434.8 202.7 1425.6 193.5 1434.8 184.3Z" fill="#00FE35"/>
<g transform="translate(1096.60 0) scale(0.8685 1)">
<path d="M0 201.2l1-5.1 1-.6 1 1.4 1-2.6 1-.5 1-.1 1 1.2 1 1.5 1 1.5 1-1.8 1 1.5 1 1.4 1-.7 1 .2 1 2.1 1 1 1-.8 1-1.1 1-1.6 1 .7 1-3.3 1-1 1-1.5 1 2.2 1-.6 1 1.2 1-2.3 1 0 1-.8 1 2.4 1 .8 1-.9 1 .7 1-.9 1-.2 1 .6 1-.2 1-1.6 1-.1 1-.1 1-1.7 1 0 1 0 1-.2 1 .6 1-.1 1 2.8 1-1.2 1-.1 1 1 1-.1 1 .9 1 1 1-1.4 1 1.2 1 2.1 1 .5 1-.6 1 .3 1 2.2 1-2.7 1 .8 1 .7 1-1.3 1-1.3 1 .2 1 0 1-1.1 1 2.1 1-2.4 1 .7 1 .1 1 1.7 1 .3 1 .3 1-3.6 1-2.4 1 1.2 1-1.4 1 1.7 1 1.9 1-.7 1 .2 1 1.2 1-.6 1 .8 1-.3 1-.4 1-.7 1-2.4 1-.1 1-.9 1 .8 1 .4 1-.1 1 3.5 1-1.5 1-1.7 1 .8 1 .5 1-2.2 1 .9 1-.5 1 .7 1-1.4 1 1.6 1 1.2 1-.3 1-.2 1-3.9 1 3.5 1-2.9 1 .4 1 .1 1 .6 1 1.4 1-2.3 1 2.3 1 1 1 2.4 1-2.7 1 3.2 1-1.4 1-2.6 1 .7 1-.3 1 1.6 1 1.2 1-1.4 1 2.3 1-.5 1-2.1 1 1 1-.4 1 .2 1-3.3 1-1.5 1 2.5 1-.3 1-2.7 1-1 1 2.9 1-.2 1 1 1 .9 1-2.8 1-1.4 1 3 1 .2 1-1.4 1-.5 1 1.5 1 .2 1-.3 1 .5 1 2.5 1-.8 1-.2 1-1.6 1 .8 1-.1 1-.6 1-.1 1-1.8 1 .3 1-3.5 1 2.1 1 .8 1-.6 1 1.2 1-.2 1 .1 1 .3 1 1.5 1-.6 1-1.9 1 .3 1-.4 1-.6 1 .2 1-1.1 1 2 1-2 1-.4 1 0 1 2 1-.1 1-2.5 1-.8 1 1.6 1-.6 1 .2 1-.9 1 .3 1 1.2 1 1.5 1 .1 1-1.1 1 .9 1 .2 1 0 1-2.5 1 1.3 1-1 1 1.8 1-1.3 1-.4 1 1.5 1-.7 1 2.1 1 .9 1-.8 1 1.5 1-3.3 1 .5 1 1.6 1-.6 1 .2 1 .8 1 0 1-.5 1 3.2 1-3.2 1 2 1 1.6 1 0 1-.2 1 .3 1 .1 1-3.2 1 2.3 1-.3 1-1.5 1 0 1-1.2 1 .2 1-.9 1-.5 1 .7 1 .2 1-.5 1 1.7 1-.8 1-.1 1 1 1-1.4 1-.8 1 0 1 .8 1-.6 1-.8 1 4.4 1-2.8 1 1 1 .6 1-1.4 1-1.6 1-1.8 1 .9 1 1.5 1-2 1-.9 1 .8 1 2.4 1 .2 1 .8 1-1.4 1-1.6 1 .1 1 1.3 1-2.6 1 1 1-.7 1-2.3 1 .3 1 1.7 1-.3 1 0 1 0 1 .1 1 2.2 1-.7 1 .1 1-.4 1 .7 1 1.9 1-1.8 1 1.1 1-3 1 1.1 1-.7 1-1.9 1 1.2 1 2.1 1-2 1-.6 1 1.7 1-.1 1-.1 1 .4 1 0 1-2.3 1 .5 1 1.6 1-2 1 2.9 1-1.8 1 .5 1 2.1 1 0 1-1.2 1-1 1-.3 1-.2 1-.4 1-.4 1 .5 1-.2 1-1.3 1 1.9 1 .5 1-2.8 1 .7 1-1 1 .8 1-2 1 .4 1 1.1 1 .2 1 .6 1 .4 1 1.7 1-.3 1-.9 1 0 1 .1 1-1 1 .3 1-.5 1-.1 1-.3 1 2.4 1 .2 1-.4 1 .4 1 1.6 1-1.6 1 1 1 .5 1 .1 1-3.2 1 1.7 1-.6 1-.5 1 1.4 1 1.9 1-1.2 1 .4 1-.9 1 .1 1-2.1 1 1.6 1 .7 1 1.1 1-.9 1-.8 1-.8 1-.5 1 0 1 2.9 1 1 1-.5 1-1.8 1-.9 1 .3 1 .3 1-.6 1 .1 1 .7 1 1.6 1-1 1-.4 1-1.1 1-1.9 1 1.6 1-1 1-.5 1 1.6 1-1.2 1 .7 1 .9 1-.3 1-1 1-.7 1-.1 1 1.3 1-.6 1 0 1 .6 0 36.3 -1-.4 -1-.5 -1 .3 -1-1.5 -1 1.5 -1-.8 -1-.5 -1 2.3 -1-.2 -1 3.2 -1 .5 -1 .7 -1 .5 -1 1 -1 1.6 -1-1.7 -1-2.1 -1 1.5 -1-1 -1-1.6 -1-2.3 -1 2.1 -1-1.5 -1-.4 -1-.1 -1 2.6 -1-.5 -1 .9 -1-.5 -1-3.2 -1-1 -1 2.1 -1-1.6 -1 1.1 -1 2.9 -1 .9 -1-1 -1-2.2 -1-.5 -1 3.7 -1 1.1 -1 1 -1 .1 -1-3.4 -1 2.6 -1-1.5 -1 1.1 -1-2 -1 1.7 -1-1.3 -1-.6 -1 .7 -1 2.9 -1-2 -1 0 -1 .9 -1 .6 -1-2.8 -1-1.2 -1 1.7 -1 1.4 -1 0 -1-1.3 -1-.4 -1-.9 -1-1.4 -1 .9 -1 .2 -1 .7 -1 1.2 -1-1.7 -1-1.4 -1-.9 -1 1.3 -1 .6 -1-1.3 -1 1.4 -1-.1 -1-.6 -1 .7 -1 1.3 -1 .4 -1 1.2 -1 .7 -1 .7 -1 .9 -1 .1 -1-.9 -1-.6 -1 1.4 -1 .3 -1 .9 -1-1.3 -1-.6 -1-.6 -1 1.2 -1 0 -1-1.8 -1 1.4 -1-.5 -1 .6 -1 1.2 -1-.4 -1-.5 -1 .7 -1 0 -1-1.8 -1 3.5 -1-2.4 -1 2.6 -1 .1 -1 1 -1 3.1 -1-1.7 -1-4 -1 2.7 -1-1.7 -1-.4 -1-1.4 -1 0 -1 .8 -1 .3 -1 .8 -1-.5 -1 .7 -1 1.1 -1 1.1 -1-.6 -1 .3 -1-.8 -1-1.3 -1 1.7 -1-2.1 -1-.7 -1-.8 -1-1.3 -1 .7 -1-.5 -1 3 -1-3 -1 .7 -1 .9 -1-.7 -1-1.3 -1-.7 -1-1 -1 1.2 -1 1 -1-2.3 -1 .7 -1 1 -1 .4 -1 .5 -1 .9 -1-2 -1 .3 -1-.2 -1 1.2 -1-.4 -1 .9 -1-2 -1-.3 -1 4.1 -1-.4 -1 1.4 -1-.1 -1 2.5 -1-1.4 -1-2.6 -1 .5 -1-1.2 -1-3.1 -1 1.4 -1 1.7 -1 .2 -1-2.2 -1 2.2 -1-1.2 -1-.2 -1-.5 -1 2.4 -1-.2 -1 .8 -1-1.6 -1 2.3 -1 1.2 -1-1.3 -1 .8 -1-1.9 -1-2.3 -1 .8 -1 .1 -1-1 -1 2.8 -1-1.1 -1 1.1 -1-.8 -1 1.8 -1 2 -1-3.6 -1-.3 -1-1.7 -1 2 -1-2.8 -1 1.8 -1 3.4 -1-.5 -1-2.9 -1-1 -1-1.7 -1 3.9 -1 0 -1 .5 -1-3.5 -1 2 -1 1.3 -1-1.2 -1-.6 -1 1.5 -1 .9 -1 .9 -1-.6 -1-2.3 -1 1.1 -1 1 -1-3.5 -1 3.5 -1-1.7 -1 .5 -1-1.7 -1 .4 -1 0 -1-.1 -1 2.4 -1-2.9 -1 1.1 -1 1.6 -1-1.6 -1-.3 -1 .9 -1 .2 -1-3.6 -1 3.2 -1-2 -1 .8 -1 .6 -1 1.8 -1-2.3 -1 .8 -1 1.1 -1 .2 -1-.2 -1-1.2 -1 1 -1-.5 -1 1.3 -1 .2 -1-1.9 -1 .3 -1 .5 -1-.4 -1 .3 -1 .6 -1 2.7 -1 0 -1-.7 -1 1.8 -1 0 -1-.7 -1-.4 -1-3.8 -1-.9 -1 .8 -1 2.3 -1-1.2 -1 1.7 -1 .9 -1-1.6 -1 1.2 -1-2.9 -1 2.2 -1-1.4 -1-2.8 -1 1.5 -1-1.8 -1-1 -1 2.4 -1 1.9 -1-5.3 -1 1.1 -1 1 -1 .6 -1-1.2 -1-.8 -1 4.5 -1-2.6 -1 .5 -1 1.5 -1 1 -1 .2 -1-.9 -1 2 -1 1.3 -1-3.9 -1 .2 -1 .7 -1-1 -1 .9 -1 3.5 -1-2.5 -1-.5 -1-.6 -1 .6 -1-1 -1 .5 -1 0 -1 .8 -1-1.7 -1 .5 -1-3.1 -1 .8 -1 .5 -1 .2 -1 .2 -1 .8 -1 1.4 -1 .4 -1 .3 -1 1.8 -1-.3 -1-1.9 -1-3.5 -1-.3 -1-1.6 -1 2.7 -1 .8 -1-.3 -1 1.2 -1 3 -1 1.5 -1-1.3 -1 4.1 -1-2.2 -1-1.4 -1 2 -1 .2 -1 .3 -1-.6 -1-.7 -1 0 -1 1.3 -1 .6 -1-2.8 -1 2 -1-1.2 -1-.7 -1-.3 -1 2.4 -1-3.3 -1 1.1 -1 1 -1 0 -1-.5 -1 .5 -1 .7 -1 0 -1 .1 -1-.8 -1-.2 -1-1.1 -1-1.6 -1-.9 -1 1.6 -1 .3 -1 1.4 -1 .9 -1-.7 -1-1.7 -1 3.1 -1 .2 -1 .8 -1-2 -1 2.9 -1-3.4 -1-1.8 -1 2.2 -1 .7 -1-.4 -1-.7 -1 .3 -1-1.6 -1-1 -1 2.6 -1-2.8 -1 4.1 -1-1.5 -1 .1 -1 2 -1-38.3z" fill="rgba(106,118,252,0.25)"/>
<path d="M0 201.2l1 13.5 1-1.7 1 1.1 1 .2 1-1.3 1 1 1-.8 1 .5 1 1.1 1-.5 1-.5 1 .5 1-1 1-1 1 .6 1 1.5 1-1.9 1 .9 1-.6 1 0 1-1 1 .5 1-.7 1 1 1 1.2 1 .1 1-1.7 1 .6 1-.6 1 .7 1 .4 1-.5 1 .3 1-.9 1 .2 1 .6 1 .3 1-.4 1 .5 1-1 1 .3 1-.6 1-.1 1 .8 1 .1 1 .1 1 1.3 1-.8 1-.3 1 1.5 1-1.2 1 1.2 1 .3 1-1.8 1-.3 1 .6 1 .7 1-.9 1 .8 1-.2 1-.4 1 0 1-.4 1 .9 1-.8 1-.2 1 .2 1-.4 1 1.5 1-.6 1-.1 1-1 1 .4 1 .5 1-.8 1-.7 1 .1 1 0 1-.9 1 1.5 1 0 1-.4 1-.2 1 .1 1 0 1 .6 1-.7 1-.4 1 1 1-.2 1-.7 1-.3 1 1.5 1-.7 1-.2 1 1.1 1 0 1-1.1 1 0 1 0 1-1.2 1-.2 1-.3 1 .9 1-1.2 1 0 1 1.2 1 .5 1 .2 1-1.2 1 2 1-1.6 1 .1 1-.2 1 .5 1-.1 1-.5 1 .5 1 .1 1 .7 1-.5 1 1.6 1-1.1 1-.9 1 .4 1-.9 1 .9 1-.5 1-.2 1 1.2 1 .2 1 0 1-.2 1 .6 1-.3 1-2.1 1-.7 1 .6 1 .5 1-.2 1 1.1 1 .9 1-1 1 .8 1 .3 1-1 1-.3 1 .4 1 .3 1-1 1-.5 1 .3 1-.1 1 .4 1-.4 1 1.3 1-1.2 1 .7 1-.9 1 .1 1 .9 1 0 1-.5 1-.1 1 .5 1-2.4 1 1.2 1-.1 1-.2 1 1.2 1-.6 1-.2 1-.5 1 1.2 1-1 1 .6 1 .1 1-.1 1-1.1 1 .1 1-.5 1-.1 1-.2 1-.3 1 .6 1 .8 1-.9 1 .7 1-1.1 1 .6 1 .4 1 .8 1-1 1-.8 1 0 1 .8 1-1 1 .7 1 .2 1 .8 1-.1 1-.8 1-.2 1-.6 1 .9 1 0 1-.9 1 .9 1-.8 1 .9 1 .7 1-1.3 1 .8 1-.5 1-.1 1 .9 1-1.1 1-.5 1-.3 1 0 1 0 1 1 1-1.5 1 2.6 1 .1 1-.7 1-.5 1 1 1-.3 1-1.6 1 .2 1 .8 1-.3 1 .1 1 0 1-.1 1-1.2 1-.6 1 .4 1 .4 1-.5 1 .4 1 .5 1 .6 1-.3 1-.4 1 .6 1-.6 1-.3 1 0 1-.4 1 1.3 1-.5 1-.3 1 1.3 1-.3 1-.1 1-1.6 1-.3 1 1.3 1-1.6 1-.6 1 1.3 1 .8 1-.7 1 1.2 1 .3 1-.7 1-.2 1 .2 1-1.1 1 .9 1-.2 1-1.1 1 .1 1-.2 1 .6 1 .4 1-.6 1-.2 1 .6 1 .7 1-.3 1-1.2 1 .7 1 1 1-1.2 1-.6 1-.6 1 1.2 1 .6 1-1.5 1 .9 1 .6 1-.1 1-.1 1 1.1 1-.9 1 .3 1-.7 1 .8 1-1 1-.1 1 .7 1-.4 1 .3 1-.1 1-.6 1 .7 1 .1 1-.9 1-.8 1 .6 1 .8 1-.5 1-.9 1 .3 1 .5 1-1.9 1 .7 1-.1 1-1 1 .3 1-.5 1-.1 1 .7 1 .1 1 .2 1 .7 1-.1 1 0 1 .1 1-.1 1 0 1 .5 1-.4 1 .1 1-.2 1 .1 1-1 1 1.2 1 1.1 1-.1 1-.6 1 .4 1 .4 1-.6 1 0 1 1.2 1 .1 1-2.3 1 .8 1-.3 1 .3 1-.5 1 .9 1 .2 1 .7 1-.9 1-.5 1-.9 1 .9 1-.1 1 .4 1-.4 1-.7 1 .1 1-.6 1-.1 1 2.3 1-.8 1-.5 1-.3 1-.2 1-.7 1-.6 1 1.1 1 0 1 .6 1 .9 1-.5 1-.9 1 .8 1 0 1 .9 1-.6 1-.4 1 0 1-1 1 .6 1 0 1-1 1 .9 1-.7 1 .2 1-.3 1 .7 1-.3 1 1.6 1 0" fill="none" stroke="#6A76FC" stroke-width="3.6" vector-effect="non-scaling-stroke" stroke-linejoin="round"/>
</g>
<path d="M1096.6 192.0 1105.8 182.8 1115.0 192.0 1105.8 201.2 1115.0 210.4 1105.8 219.6 1096.6 210.4 1087.4 219.6 1078.2 210.4 1087.4 201.2 1078.2 192.0 1087.4 182.8Z M1444.0 197.9 1453.2 188.7 1462.4 197.9 1453.2 207.1 1462.4 216.3 1453.2 225.5 1444.0 216.3 1434.8 225.5 1425.6 216.3 1434.8 207.1 1425.6 197.9 1434.8 188.7Z" fill="#6A76FC"/>
<g transform="translate(1096.60 0) scale(0.8685 1)">
<path d="M0 201.2l1-12.9 1 .3 1-.5 1 1.3 1-.4 1 1.3 1-.1 1-3.1 1 .7 1 1.5 1 .7 1 .5 1-1.9 1-.2 1 .1 1 3.2 1 1.1 1-2.3 1-.6 1 1.9 1 .2 1-1.5 1 .4 1-.7 1-1 1 0 1-.6 1 1.7 1 .8 1 .7 1-1.1 1 .4 1 1.5 1-1.5 1-2.4 1 1.1 1-1.7 1-.6 1-.4 1 .3 1-1.1 1 4.1 1-.4 1-.8 1 1 1 1.6 1-2.1 1-1.4 1 1 1 .5 1 1 1 1.8 1 .2 1-.9 1 .2 1-1.2 1 0 1 2.3 1-.7 1-3.6 1 .4 1-.7 1 1.5 1-1.4 1 1.3 1-1.1 1 1.4 1-1.9 1 1.1 1-.2 1 0 1 2 1-.7 1-2.5 1 .6 1-.6 1 1.5 1 2.6 1 .5 1-.2 1-2.2 1-2.6 1-1.7 1 2.5 1 .7 1-.1 1 2.3 1 .4 1-2.1 1 0 1-.7 1-.3 1 2.1 1-1.4 1-1.9 1-1.2 1 1.5 1-.7 1 1.9 1-3.7 1 1 1-.3 1 .7 1-1 1 1.1 1 .2 1-3.5 1 .9 1-1 1-.9 1 1.8 1 .8 1-1.3 1 .1 1 .2 1 1 1 .6 1 2.4 1 .2 1 3.5 1 1.3 1-1.7 1-1.2 1-1.1 1 .4 1-2.3 1 1.8 1-2.2 1-.5 1 1 1 1.8 1-1 1 2.1 1-1.6 1 .3 1-1.9 1 1.6 1 2.2 1-.3 1 .7 1 .1 1-.1 1-.7 1 2.2 1-.1 1-.2 1 0 1-.3 1 .4 1 .8 1 .4 1-2.2 1-.6 1-2.2 1 .8 1-.2 1-1.5 1 1.2 1 1.2 1-.4 1-2.5 1 1.6 1-.5 1 1.3 1-.3 1-2.2 1 2.1 1-1.8 1 3.3 1 .7 1-.5 1 .5 1-.2 1-1.5 1-.5 1-1 1 .2 1-2.3 1 2.4 1-.5 1-.9 1-.8 1 .9 1 .6 1 .8 1-.3 1 .8 1 .4 1-1.1 1 4.2 1-3.1 1-2.1 1 2.2 1-3 1-.6 1 0 1-.6 1 2.8 1-.2 1 .3 1-1.7 1-.5 1-1.2 1 1.8 1 1.2 1 1.7 1-1.7 1-.5 1-1.8 1 4 1 .9 1-2.9 1 .6 1 1.3 1-.4 1 2.1 1-1 1-.9 1-2.2 1 1 1-.7 1-.1 1 .2 1 .2 1-.9 1 .4 1 1.7 1 .7 1-1 1 .3 1-1.2 1-.4 1 1.2 1-.4 1 .7 1 1.3 1-1.8 1 2.3 1 .3 1-.6 1-.5 1-.4 1-.9 1 .8 1 .8 1 .6 1-1.4 1 .2 1-1 1-2.1 1 .7 1-.4 1 1.1 1 .1 1 1.2 1 .1 1 2.4 1 .1 1-1.3 1 .7 1-2.4 1 .2 1 .6 1-1.5 1 1.1 1 .6 1-.1 1-.5 1-2.8 1 1 1-.5 1 1 1 2.9 1-2.5 1 .2 1 .1 1 1.5 1-1.5 1-.6 1-.9 1 .2 1-1.1 1 .5 1-3 1 5.8 1-1.1 1 .7 1-1.2 1 .2 1 1 1 .8 1 .3 1-.9 1 0 1 .1 1-3.3 1 0 1 0 1 0 1 .5 1-.6 1 1.1 1-2.1 1-.9 1 2.7 1-.5 1-3 1-.5 1 1.3 1-.9 1 1.9 1-1.3 1 0 1 1.1 1-1.5 1 2.9 1-.4 1-1.6 1 .3 1-.5 1 .4 1 .6 1 .2 1-1.7 1 1.1 1-1.4 1-.2 1 1.1 1 1.2 1 .3 1-.8 1-.3 1-1.3 1 2.2 1 .6 1 .4 1 .2 1 .7 1-1.4 1-.1 1 .8 1-.9 1 .3 1 .3 1-.6 1 .3 1 2.5 1-2.4 1 1.1 1-.3 1-1 1-2.1 1 1.6 1 .4 1-.8 1 1.2 1-.5 1-1.9 1 .6 1 1.2 1 .8 1-1.4 1 .2 1-1.2 1 .3 1-.9 1 .6 1-1.9 1 1.7 1-.9 1-.2 1 .7 1-.6 1 .4 1 .4 1-1.5 1-1.6 1 1 1-1.3 1-.5 1-.4 1-.1 1 .5 1 .2 1-.8 1-.4 1 1.8 1-1.7 1-1.2 1 .1 1 .1 1 2 1 2.1 1 .6 1-2.1 1-.5 1 2.3 1-.2 1 .9 0 39.7 -1-2.3 -1 1.8 -1-.6 -1-2.1 -1 2.7 -1-.7 -1 5.5 -1-1.1 -1-.1 -1-1.5 -1 .7 -1 0 -1 1.9 -1 .3 -1 1.7 -1-2.2 -1-.1 -1-.1 -1-.1 -1 .2 -1 .1 -1 1 -1 .3 -1-.5 -1-3.2 -1 .3 -1 .8 -1 1.4 -1 .8 -1 1.2 -1-3.6 -1-.4 -1-.6 -1-3 -1 1.2 -1 .4 -1 1.4 -1 .1 -1-2.7 -1 1.3 -1 3.3 -1-.3 -1 1.4 -1-.3 -1 .4 -1 1.4 -1-1.5 -1 1 -1-4.7 -1 2.5 -1 1.1 -1 3.8 -1-3.2 -1 2.7 -1 2.5 -1 .6 -1 .5 -1 1.5 -1-4.4 -1-.4 -1 .5 -1 3.3 -1-.2 -1-.5 -1 1.4 -1-2.8 -1 .1 -1-.9 -1 .4 -1-.6 -1-2.1 -1-.6 -1 .8 -1 4.6 -1 .2 -1 .5 -1-1 -1-1.1 -1-2.6 -1 .7 -1-1.4 -1-1.6 -1 .9 -1-.5 -1 3.3 -1-1.7 -1 .9 -1 1 -1-4.8 -1 3.6 -1-4 -1 3.5 -1 3.5 -1-.7 -1-2.9 -1 3.8 -1-2.3 -1-.6 -1 .9 -1 .9 -1 2.5 -1-1.4 -1 .4 -1-2.5 -1-1.4 -1 1.7 -1-1.8 -1 1.3 -1-2 -1 1.3 -1-2.4 -1 .8 -1-.6 -1 2.1 -1-1.1 -1 .3 -1 2.8 -1-1.1 -1 .6 -1 .7 -1-2 -1-1.9 -1 2.1 -1-1.2 -1-.3 -1-.5 -1-1.1 -1 4 -1-3.7 -1 3.6 -1 1.4 -1-1.1 -1 1.9 -1 1.2 -1-2.3 -1 1.3 -1 1.4 -1-1.6 -1-1.5 -1 .2 -1-.1 -1 .8 -1-1.3 -1 1.5 -1-1.2 -1 .3 -1-.9 -1-1.4 -1-.7 -1 1.4 -1 1.6 -1-2.5 -1 1.6 -1 .8 -1-.2 -1-1 -1 1.8 -1-.7 -1 1 -1-3.1 -1 3.2 -1-2 -1 2.4 -1-.8 -1-3.1 -1-.6 -1 .8 -1-.6 -1 1 -1-.3 -1 0 -1-1 -1-.9 -1-.2 -1-.4 -1-.3 -1 2.8 -1 1.4 -1 .9 -1 1.8 -1-.8 -1 .4 -1 2 -1-1.5 -1-1.1 -1 .9 -1-1.4 -1-1 -1 2.8 -1-2.3 -1-2.6 -1 .9 -1 0 -1-1 -1-.6 -1 .5 -1 1.1 -1-.8 -1 1.1 -1 .3 -1 1.1 -1 .1 -1-1.4 -1-1.2 -1 2.2 -1 .7 -1-.7 -1 1.1 -1 .2 -1-2.1 -1 1.9 -1-1 -1-.2 -1 2.2 -1-.3 -1-2.2 -1 .5 -1 1.1 -1 .1 -1 3.9 -1-5.2 -1 2.5 -1 0 -1-1.4 -1-1.6 -1 1.7 -1 .2 -1-.2 -1 2.5 -1-1.9 -1 .5 -1 1.1 -1-1 -1 .7 -1 .6 -1 .3 -1 .5 -1-1.3 -1 1 -1 1.1 -1-.9 -1 1.2 -1 1.4 -1-1.3 -1-.8 -1-1.3 -1-.6 -1 2 -1-1.8 -1-.9 -1 1.1 -1 .6 -1 .3 -1 1.3 -1 .2 -1 3.1 -1 .7 -1-2.3 -1 .6 -1 1.8 -1 .8 -1-1.9 -1-.3 -1-.9 -1-.7 -1 .3 -1-.1 -1 3.5 -1-2.5 -1-3.1 -1 3.2 -1-1.1 -1-3.5 -1-.5 -1-3.1 -1 3.8 -1-.8 -1 2.1 -1-1.4 -1 .1 -1 .7 -1 .2 -1 1.6 -1-1.9 -1-2.2 -1-.9 -1-.2 -1-2.4 -1 1.3 -1 1.2 -1 1.3 -1-1.9 -1-1.5 -1 4.3 -1-1.5 -1 .5 -1 0 -1-2.3 -1 .2 -1 1.1 -1 .3 -1 1.4 -1-.4 -1 1.9 -1-.2 -1 1 -1-3.4 -1 .8 -1 1.5 -1-1.3 -1 1.5 -1-.6 -1-2.3 -1 1.2 -1-.6 -1 1.9 -1-3.2 -1 1.3 -1 .9 -1 0 -1 .6 -1-1.6 -1-3.4 -1 1.6 -1 2.2 -1-1.7 -1-.8 -1-.3 -1-.9 -1-.5 -1 1.9 -1-1.1 -1-2.8 -1 .2 -1-.7 -1-1.1 -1 .6 -1-1.2 -1 1.9 -1-.1 -1-.5 -1-.9 -1 2.4 -1 1.3 -1 .2 -1-.6 -1 1.4 -1-1 -1 1.5 -1 1.4 -1-2.3 -1 2.7 -1 2.6 -1-3.8 -1 3 -1 1.9 -1-.6 -1-.7 -1-4.4 -1 1.1 -1-2.4 -1 .5 -1 .3 -1 .2 -1 1.9 -1 2.6 -1 .4 -1-2 -1 1.5 -1 .3 -1-3.5 -1-1.8 -1 1.1 -1 1 -1 1.1 -1 .9 -1-.1 -1-.7 -1-.8 -1-.9 -1 .2 -1-.2 -1 0 -1 1.5 -1 0 -1-.2 -1 1 -1 .7 -1 .9 -1-1.9 -1-2.2 -1 .5 -1 .4 -1 1.4 -1 .9 -1-4.1 -1 4.3 -1-.3 -1-34z" fill="rgba(254,0,206,0.25)"/>
<path d="M0 201.2l1 10.9 1-.6 1-.4 1 .9 1-1 1 .2 1 1.1 1-1.7 1 1 1 .3 1 .7 1-.2 1-.5 1 .7 1-.4 1 .3 1-.3 1 0 1-.3 1 .4 1-.5 1 .5 1 .2 1 0 1-.5 1 0 1-.2 1-.3 1 1.2 1 .8 1-1 1 .5 1-.1 1-1.1 1-.9 1 1 1-1.7 1 1 1-.2 1 1.2 1-.4 1 1.4 1-.5 1-1.3 1-.7 1 .5 1-1.3 1-1.5 1 .3 1 .7 1 1.5 1 .6 1-.3 1-1.2 1 0 1-.7 1 .6 1 .5 1-.1 1 .1 1-.1 1 0 1 0 1-.3 1 .1 1 0 1-.2 1-.1 1-.3 1 .9 1-.3 1 .9 1-.9 1-.1 1 .4 1-.5 1 .8 1 .6 1-.5 1-.3 1-.4 1-.6 1 .7 1-.1 1 .6 1-.3 1 .4 1 .5 1-.2 1 .7 1-1.7 1-.5 1 1.8 1-.7 1 .6 1-1 1-.6 1-.2 1 1.3 1-1.1 1 .3 1 .3 1-.4 1-.6 1 .2 1-.3 1 0 1 .3 1-.3 1-.1 1 .2 1 .3 1 .3 1 0 1 .7 1 .2 1-.7 1 1.3 1-1.1 1 1.2 1-.7 1 .5 1-1 1 0 1 1 1 0 1-.1 1 .3 1-1.1 1 .4 1 .5 1-.8 1-.6 1 .5 1 .5 1-.1 1 .1 1 1.4 1 .5 1-1.5 1 .3 1 .3 1 .5 1-.2 1-.1 1 .7 1-.8 1-.6 1 0 1 .1 1 .2 1-.7 1-1 1 .4 1 .5 1 .3 1-1.2 1 .3 1 1 1-.8 1-.2 1 .6 1-.6 1-.1 1-.9 1-1.1 1 2.4 1-.8 1 .3 1 .4 1-.6 1 1 1-.9 1-.5 1 .3 1 .4 1-.6 1-.4 1 1.8 1-.9 1-.2 1-.6 1 .2 1 .1 1 .2 1 .4 1-.2 1-.9 1-.3 1 1.4 1-.6 1-1.6 1 1 1-1.1 1 0 1-.3 1 .1 1 .6 1-.4 1-.4 1-.4 1-.3 1-.6 1 1 1 .6 1-.1 1-.4 1-.1 1-.2 1 1.8 1-.2 1-.5 1-.1 1 .1 1-.6 1 1.8 1-2.1 1 .2 1-.6 1-.6 1 .4 1 .4 1-.6 1 0 1-.2 1-.8 1 .6 1-.1 1-.1 1 .2 1 .2 1-1.7 1 .2 1 .7 1 .7 1-.2 1 0 1 .4 1-.4 1-.3 1 .4 1 0 1-1.4 1 1.6 1-.2 1-.7 1 .6 1 1.1 1-1.6 1-.6 1 .7 1-.9 1 .8 1 0 1 .3 1-.1 1 .8 1-.9 1 .4 1-.3 1-.8 1 0 1-.2 1-.1 1 .8 1 .3 1 .2 1 .2 1-.3 1-.6 1-.3 1 0 1 .7 1-.7 1 1.2 1-1.1 1 .5 1-.4 1-.5 1 .5 1-.7 1-.3 1 .3 1-1.2 1 1.1 1-.4 1 0 1 .2 1-.8 1 .7 1 1.4 1-.5 1-.4 1 .1 1 .2 1-.4 1 .1 1-.4 1-1.3 1 .3 1-.2 1 .6 1 .2 1 .3 1-.3 1 .1 1-1.2 1-.7 1 .6 1-1.5 1 1.5 1-.6 1-.4 1 1.4 1-.7 1 .7 1-.7 1-.4 1 .2 1-.6 1 .1 1 1.7 1 .2 1-1.2 1 .3 1-.8 1 0 1 .3 1 .8 1-.7 1 .6 1 .5 1-1.8 1 1.8 1-.3 1 .1 1-.4 1 .7 1-.9 1-.4 1 1.7 1-1 1-.2 1 .1 1-.6 1 .1 1 .5 1-.8 1 .6 1-.1 1-1 1-.3 1 .1 1-.2 1 .1 1 0 1-.2 1-.6 1-1 1 .7 1 .2 1-1.2 1 .7 1-.2 1 .2 1 .5 1 .2 1 .3 1 0 1 .6 1-1.1 1 0 1-.6 1 1.3 1 .8 1-.2 1-2.4 1 1.1 1-.8 1-.2 1-1.1 1 .5 1 .2 1 .3 1-1.2 1 0 1 .1 1-.1 1-.2 1-.5 1 .1 1 .1 1 .7 1-.3 1-.8 1-.1 1 1.7 1-1.1 1 3.9 1 0" fill="none" stroke="#FE00CE" stroke-width="3.6" vector-effect="non-scaling-stroke" stroke-linejoin="round"/>
</g>
<path d="M1096.6 192.0 1105.8 182.8 1115.0 192.0 1105.8 201.2 1115.0 210.4 1105.8 219.6 1096.6 210.4 1087.4 219.6 1078.2 210.4 1087.4 201.2 1078.2 192.0 1087.4 182.8Z M1444.0 192.0 1453.2 182.8 1462.4 192.0 1453.2 201.2 1462.4 210.4 1453.2 219.6 1444.0 210.4 1434.8 219.6 1425.6 210.4 1434.8 201.2 1425.6 192.0 1434.8 182.8Z" fill="#FE00CE"/>
</g>
<g clip-path="url(#c03)">
<g transform="translate(1602.40 0) scale(0.8690 1)">
<path d="M0 85.1l1-8.4 1 0 1-.6 1 1.4 1-.6 1-2.1 1-.1 1 1.6 1-.1 1 .5 1 0 1 1.3 1-1.1 1 1.1 1-.2 1 1.4 1 .9 1-.7 1-.1 1 2 1-1.2 1-1.1 1 .2 1 .1 1 .9 1 .9 1-1.1 1 .3 1-1.3 1 .1 1-.1 1 1.5 1-.2 1-1 1 1.3 1-.7 1 1.6 1-1.1 1 .8 1-1.6 1-.1 1-1.1 1 0 1 1.9 1-1.1 1 1.4 1-.3 1-1 1 .3 1-.3 1 .2 1-.1 1 0 1 .3 1-.7 1 1.1 1 .4 1-.1 1 1.5 1-.7 1-.4 1-.5 1-1.3 1 1.1 1-1.8 1-1 1 1.5 1-1 1 .7 1-.1 1 .8 1-1.9 1 1.1 1-1.2 1 .9 1 2.3 1-3.1 1 1.2 1 .2 1 .4 1 1.3 1-.2 1-.4 1-.4 1 1.4 1 0 1-.4 1 1.7 1-1.1 1 1 1-.6 1 1.2 1 0 1 1.9 1-.4 1 1.2 1 .9 1-1.1 1 .7 1-.2 1 .3 1 .1 1-.4 1-.9 1-.8 1 .2 1-1.6 1-.5 1-.4 1 .7 1-.2 1-.4 1 .8 1 1.8 1-.3 1 .1 1-1 1 1 1-.6 1-.2 1 .8 1 0 1-.6 1-.7 1-.4 1-2.1 1 1 1 .5 1-.1 1-1.3 1 1.1 1-.3 1 1.2 1-.4 1 .1 1 0 1-.3 1 1.1 1-1.3 1 .2 1 1.5 1-.2 1-1.8 1 .1 1 .1 1 .4 1-.3 1 0 1 .3 1-1.3 1-.5 1-.4 1-1.1 1 .4 1 .4 1 .7 1 .1 1 1.4 1-.4 1 1.3 1-.7 1 .5 1-.1 1 .2 1 1.3 1 1.9 1-2.2 1-.5 1-.5 1-.9 1 1.7 1 .1 1 .4 1 1.1 1 .2 1 0 1-1.1 1-.2 1-.8 1-.6 1 1.1 1-.4 1-.6 1-.9 1 1 1-.6 1 1.7 1 0 1-.5 1-.8 1-.7 1 .8 1-.5 1 .7 1 1.1 1-.4 1-.2 1 .5 1-1 1 .6 1-.6 1 .3 1-.4 1-.1 1-.2 1 1.4 1-.3 1 1 1 1 1 .6 1-1 1-.8 1-.3 1 .3 1-.2 1-1.4 1 .2 1-1.2 1 .8 1 1.8 1-.9 1 .2 1 .4 1-.7 1 .6 1-1.3 1 .5 1-.6 1-.5 1 .9 1-1.3 1 .7 1-1.2 1 0 1-1.5 1 1.1 1-.1 1 .3 1-.3 1 1.4 1 .4 1 .7 1 .1 1 2.5 1-2 1-.8 1 1.1 1-2.5 1 0 1 .2 1-.2 1 .4 1 .1 1-.3 1 .2 1 1.6 1-1.5 1 1 1 .3 1 1.6 1-2 1 1.1 1-.1 1 .1 1-1 1 1 1 .1 1-1.1 1 0 1-.5 1-.3 1 .8 1 .5 1-1.3 1-1.2 1 1.8 1 .2 1 1.3 1-.7 1-1.4 1 1.5 1-.7 1 0 1 .5 1 .7 1-.9 1 .5 1-2.1 1 1.5 1-.8 1 .1 1 .7 1 .8 1 .4 1-.3 1 .5 1-.2 1-.9 1-.1 1 1.2 1 .4 1-1 1-.8 1-1.2 1 .7 1 1.2 1 .5 1 .3 1 .7 1 .1 1 0 1-.3 1 .4 1-1.6 1 .4 1 .6 1-.1 1-1.3 1 .4 1-1.5 1 .9 1 0 1 1.8 1-1.9 1 .4 1 0 1 1.2 1-.8 1-1.6 1 .5 1-.2 1 1.4 1 .6 1-1.1 1 1 1-1.8 1-.3 1 .7 1 .6 1-1 1 .5 1 .8 1-1.2 1 1 1 1.1 1-1.9 1-.4 1 1.2 1-1.3 1 1.3 1 0 1 2.3 1-1.1 1 1.4 1-1.1 1-.1 1-1.7 1-.5 1 .2 1-.7 1 1.1 1-.1 1-2.7 1 1 1 1 1-.1 1 0 1-.5 1-.3 1 .3 1-1.3 1 .4 1 0 1 1.9 1-1.4 1 .8 1-.2 1 0 1 1.2 1-2.1 1 1.2 1-.9 1 2.1 1-2.8 1 .1 1 .2 1 1.9 1-.8 1 .4 1-.5 1-.4 1-.6 1-.3 1-.4 1-.7 1-.3 1 .6 1 .3 1-1 0 19.9 -1 2 -1 .1 -1-.1 -1 1.5 -1-.9 -1 1.4 -1-.5 -1 .7 -1-1.9 -1 1.2 -1-1.4 -1 .4 -1-1.3 -1 1.3 -1-.4 -1 1.3 -1-2.2 -1 1.1 -1 1.1 -1-1 -1 .5 -1-.5 -1-1.5 -1 0 -1 1.5 -1-2 -1 0 -1 .4 -1 2.6 -1-.4 -1 .1 -1 .4 -1-.2 -1 .4 -1-2.2 -1 1.2 -1-.2 -1 1.7 -1-2.4 -1 1.4 -1 .1 -1-1.7 -1 2.4 -1-.2 -1-.6 -1-1.5 -1 .2 -1 .1 -1-.7 -1 1.1 -1 .3 -1-.7 -1-2.7 -1 1.5 -1 .8 -1-.4 -1 1.5 -1-1.2 -1-.4 -1 .9 -1-1.8 -1-.5 -1 1.6 -1 2.8 -1-1 -1-.3 -1-1.9 -1-.7 -1 1.5 -1-2 -1 1.8 -1 2 -1-.2 -1-1.7 -1 1.6 -1-.1 -1-1.4 -1-.1 -1-.1 -1-1.2 -1-1 -1 1.4 -1 .1 -1-.1 -1-.4 -1 .5 -1-.7 -1 .8 -1 .4 -1-.4 -1 .5 -1-1.6 -1 .2 -1 .4 -1-.9 -1 1.1 -1 .2 -1 1.8 -1-.4 -1 .3 -1-.9 -1 .8 -1 .7 -1 .5 -1-.1 -1 .3 -1-2.1 -1-1.2 -1 1.6 -1-.8 -1 .9 -1-.6 -1-1.3 -1 1.6 -1-.4 -1-.9 -1 .3 -1 1.1 -1-.6 -1 .2 -1 .3 -1-1.2 -1-.7 -1 .4 -1-.5 -1 1.6 -1-1.3 -1-.9 -1 1.3 -1 1.6 -1-.5 -1 0 -1 1.3 -1-.8 -1 .2 -1 .1 -1-1.5 -1-.5 -1 2.7 -1 .2 -1-2 -1-1.9 -1-.2 -1-1 -1-.1 -1 1.5 -1-.5 -1-.3 -1 .3 -1-.8 -1-.4 -1 2.1 -1-1.6 -1 2.1 -1-.6 -1-1 -1-.2 -1-1.2 -1 2.1 -1-.6 -1 .6 -1 1 -1-1.4 -1 .3 -1-1.5 -1 .7 -1 1 -1-2.4 -1 1.3 -1-1.5 -1 1 -1-.1 -1-.5 -1-.3 -1-1.3 -1-1.1 -1 2.2 -1 .4 -1-1.2 -1-.4 -1 2.1 -1 1.7 -1 .6 -1-1.7 -1 1.3 -1 .3 -1 .1 -1 1.5 -1-.1 -1 .9 -1-.2 -1 .1 -1 1.6 -1-1.6 -1-.2 -1-.9 -1 0 -1 1 -1 1.2 -1-1.6 -1 2.4 -1 .6 -1 .3 -1-1.4 -1-2 -1 1.2 -1 .7 -1-1.4 -1 .3 -1 1.2 -1-.2 -1-1.6 -1 1 -1-.3 -1-1.1 -1 1.5 -1 0 -1-.7 -1-1.8 -1-.7 -1-.4 -1-1 -1 1.9 -1 .9 -1-.8 -1-1.8 -1-.6 -1 1.3 -1-.7 -1 1.3 -1 .3 -1 0 -1 2.1 -1-1.2 -1-.6 -1 .3 -1-1.3 -1-.1 -1 1.2 -1 1.6 -1-.4 -1-2 -1 1.2 -1 0 -1-.4 -1 0 -1 2 -1-.5 -1-.8 -1 .9 -1-2.1 -1 .8 -1-2.3 -1-1.6 -1 .7 -1 .3 -1-.6 -1 1.4 -1-.3 -1 .2 -1 1.1 -1-2.2 -1 .8 -1 .3 -1 1.8 -1-1.9 -1 .4 -1-.5 -1 .1 -1 2.1 -1 .2 -1-.6 -1-1 -1 .6 -1-.3 -1 1.5 -1-.8 -1 .3 -1-.1 -1 .8 -1-1.9 -1-1.1 -1 2.3 -1 .2 -1 2.1 -1-1.8 -1-.9 -1-.7 -1 0 -1-.4 -1-.6 -1-.3 -1 1.6 -1-1.5 -1-1.2 -1 .6 -1 1.2 -1-.7 -1 .4 -1 1.5 -1-.5 -1 .4 -1 .3 -1-1.5 -1-1.4 -1-1.3 -1 1 -1 .2 -1 .7 -1-.6 -1-.5 -1-1.1 -1 1.3 -1 0 -1 .6 -1-1.4 -1 1.8 -1 .9 -1-.4 -1-.9 -1 1.5 -1 .6 -1 .5 -1-.6 -1-.3 -1-.6 -1 1.5 -1 1.1 -1-1 -1 1.2 -1-1.5 -1 1.1 -1-.2 -1-.4 -1 .2 -1-1.1 -1-2.8 -1 2.5 -1 .5 -1-1.4 -1-.2 -1 .9 -1 1.1 -1-.2 -1-.4 -1-.1 -1-.1 -1 0 -1 1.8 -1 .6 -1 .4 -1 .1 -1-.7 -1-.3 -1 .2 -1-2.6 -1-.5 -1-.5 -1 .4 -1 0 -1-.7 -1 0 -1-.9 -1 .8 -1-.9 -1 1 -1 1.1 -1-.4 -1 1.4 -1-1.4 -1 2.1 -1-.1 -1 0 -1-1.2 -1 .1 -1 0 -1-.2 -1 .9 -1 1.5 -1-.7 -1-.2 -1-1.1 -1 .5 -1-.4 -1-.3 -1-.7 -1-.1 -1-.1 -1-.9 -1 1 -1-.2 -1-1.1 -1-.3 -1 .5 -1-.3 -1 .7 -1 .8 -1-.3 -1-12.9z" fill="rgba(253,50,22,0.25)"/>
<path d="M0 85.1l1 2.2 1 .5 1 .5 1-.6 1-.6 1-.8 1-.2 1 1.1 1-.5 1-.1 1 .2 1 0 1-.4 1 .7 1 .8 1 .3 1-.4 1 .5 1-.4 1 1.7 1-1.1 1 .3 1-.2 1 1.1 1-.3 1 .1 1-.5 1 0 1-.6 1 .4 1-.4 1-.3 1 .1 1-.3 1 .7 1 0 1 .8 1-.8 1 .7 1-.7 1 .3 1-.5 1 .4 1 .6 1-.6 1 0 1 .6 1-.6 1-.5 1-.2 1-.4 1 .2 1-.4 1-.1 1 .2 1 .7 1-.6 1-.8 1 1.3 1 .4 1-.7 1 .1 1 .1 1 .7 1 0 1-.5 1 .8 1-.6 1 .2 1 .4 1 .1 1-.6 1-.7 1 .4 1 0 1 1.2 1-1.6 1 .7 1 .3 1 .3 1 .4 1-.1 1-.3 1 .2 1 .1 1 .2 1-.8 1 .4 1-.4 1 .9 1-.7 1 .3 1-.4 1 .7 1-.2 1 1 1 .4 1-.6 1-.4 1-.3 1 1 1 .6 1-.9 1-.1 1 .7 1 .3 1-1.3 1 .8 1-.3 1 .9 1-.2 1 0 1-.4 1 1 1-.3 1-.5 1-1.2 1 .5 1 .6 1-.6 1 1.1 1-.1 1 .5 1-1.2 1 .1 1-.9 1 .5 1 .2 1-.7 1-1.1 1 .6 1-.2 1 .2 1-.4 1 0 1-.2 1-.3 1 .8 1-.9 1 .7 1 .8 1-.4 1 .5 1 .5 1 .2 1-.2 1 .4 1 .4 1 .4 1-1 1 .4 1 0 1-.6 1-.2 1 1 1-.2 1-.2 1 .3 1-.8 1-.3 1-.9 1-.1 1 1.4 1-.1 1 .5 1 .6 1-1.1 1-.1 1 .6 1-.5 1 0 1-.8 1 .8 1 .4 1 .3 1-.5 1-.4 1 .6 1-.1 1-.1 1 .7 1 0 1-.4 1-.2 1 .4 1 .5 1 .5 1 .8 1-.4 1-.2 1-.4 1 1.1 1-.5 1 .3 1 .9 1-.5 1-.5 1 0 1-.6 1-.2 1-.5 1-.2 1-.3 1 0 1 .1 1 1 1-.9 1 .2 1 .7 1-.2 1 0 1-.7 1 .7 1-.8 1-.3 1 .2 1 .5 1-1.5 1 0 1 1.4 1-.3 1 .7 1-.1 1 .1 1-.1 1-.8 1 .8 1-.4 1-.9 1 .8 1-.9 1 1.5 1-.7 1 .7 1-.5 1-.5 1 1 1-.4 1 .1 1 1.1 1-.8 1-.6 1-.3 1 1.1 1-.8 1-.7 1 1.6 1-1.6 1-.1 1 .5 1 .2 1-.1 1 .3 1-1.3 1 .1 1 .9 1-.9 1 .8 1 .4 1 .7 1-1.4 1 .5 1 .2 1 .3 1-.5 1 .9 1-.4 1-.5 1 .2 1-.3 1-.2 1 .2 1 .7 1-1.2 1-.2 1 .7 1 .9 1 .5 1-.3 1-1 1 .9 1 0 1-1.2 1 .8 1 .1 1-.9 1 .3 1-.7 1 .9 1-.3 1-.3 1 .9 1 .3 1-.1 1 .1 1-.3 1 .1 1-.8 1 0 1 0 1 1.5 1-.9 1-.3 1-.4 1 1 1-.3 1-.1 1 .2 1 .4 1 1.5 1-.9 1-.8 1 1 1-.7 1 .7 1 .3 1-.7 1-.5 1 0 1-.8 1 .5 1 .1 1 .4 1-.5 1 .1 1 .1 1 .1 1-.1 1-.3 1 .4 1-.4 1 .2 1 .5 1 .6 1 .4 1-1.4 1-.3 1 .2 1 .8 1-.5 1-.4 1 .4 1-.6 1 .6 1-.4 1-.8 1 .5 1 .7 1 .1 1 0 1 .8 1 .1 1-.4 1 1 1-.7 1-.2 1-1.3 1 .3 1 .8 1-.3 1 .4 1-.1 1-1.1 1-.2 1 1.4 1-.9 1 1.2 1-.3 1-.1 1-.5 1-1 1 .5 1 .3 1 .9 1-1.9 1 .7 1 .3 1 .1 1 .4 1-.1 1 .1 1 .2 1 .3 1-1.5 1 .5 1 0 1 .8 1-.4 1 .8 1-.5 1-.1 1-.3 1 .3 1-1 1 .2 1-.1 1 .4 1-.6 1 .7 1 0" fill="none" stroke="#FD3216" stroke-width="3.6" vector-effect="non-scaling-stroke" stroke-linejoin="round"/>
</g>
<path d="M1602.4 75.9 1611.6 66.7 1620.8 75.9 1611.6 85.1 1620.8 94.3 1611.6 103.5 1602.4 94.3 1593.2 103.5 1584.0 94.3 1593.2 85.1 1584.0 75.9 1593.2 66.7Z M1950.0 82.5 1959.2 73.3 1968.4 82.5 1959.2 91.7 1968.4 100.9 1959.2 110.1 1950.0 100.9 1940.8 110.1 1931.6 100.9 1940.8 91.7 1931.6 82.5 1940.8 73.3Z" fill="#FD3216"/>
<g transform="translate(1602.40 0) scale(0.8690 1)">
<path d="M0 85.1l1-3.6 1 .3 1 1.8 1 1.3 1-.8 1-.3 1 1.6 1-1.4 1-2.1 1 2.3 1-.7 1 .5 1-.8 1-.3 1 .5 1-3.1 1 2.5 1 .6 1 .2 1 .4 1-.8 1 .4 1-.3 1 .1 1-1.1 1-.3 1 .9 1-1 1 1.2 1 .4 1-.1 1-.3 1 .7 1-1 1 1.2 1-2.5 1 0 1 .9 1-1.8 1-1.1 1 1.1 1-3.9 1 .7 1 .5 1-.5 1 1.4 1 .1 1-2.1 1 .7 1-1 1 1.3 1-1.3 1 .7 1 .8 1 .4 1-1.7 1 0 1 .8 1-.1 1 .3 1-.4 1-.1 1-2 1 .1 1 .8 1 1 1-1.2 1 1 1 .8 1-.2 1 .2 1 1.5 1-2.2 1 1.9 1-3.4 1 4.6 1-.4 1 1 1 1 1-.9 1-.6 1 1.2 1-1.1 1-.6 1-.1 1-1.2 1-1.4 1-.1 1-3 1 2.6 1-2.2 1-2 1 2.1 1 .3 1-.4 1 2.9 1 .7 1-1 1 .5 1-.1 1-.3 1 .3 1 .1 1-.4 1 .1 1 1.1 1-2.7 1-1.5 1 0 1 1.1 1-.5 1 .8 1 .4 1 .9 1-.6 1-1.8 1 .3 1 3.2 1-.6 1 0 1 .7 1-3 1 1.1 1 .6 1-.5 1 0 1-2.7 1 2.8 1 .6 1-1.9 1-.2 1 .2 1-1.2 1 .6 1 .4 1-.7 1-.5 1 .6 1 1.2 1-1.7 1 1.3 1 0 1-.8 1 .5 1-1.3 1-.3 1 0 1-1.4 1 .2 1 1.1 1 .3 1 2.6 1-1.6 1 .7 1-.9 1-.1 1 .5 1-1.8 1 .1 1-1.6 1-1.3 1-.9 1 1.1 1 1.3 1 .6 1 .5 1-1.4 1-1.1 1-.8 1 2 1 1.9 1 1.3 1 .2 1-1.1 1-1.1 1-.1 1-.8 1-.1 1 0 1-2.1 1 .8 1-2.5 1 .3 1 3.2 1-1.3 1 1.9 1-1.5 1 2.6 1-1 1 .4 1 .1 1 3.6 1-2.7 1-.4 1 0 1 1.4 1 1.7 1-.4 1-.7 1 .4 1 .6 1-.8 1-.5 1 .1 1 .2 1 .9 1 1.2 1 1 1-3.3 1 .6 1-.6 1 .3 1-.3 1 .1 1-.7 1-.1 1 1.1 1 2 1-.1 1 .2 1 .9 1-.3 1 1 1-.6 1-.3 1 1.4 1-.4 1-1.8 1 1.1 1-2.2 1-.8 1 .3 1-1.1 1 .7 1 2.6 1-1.3 1 1 1-.4 1 1.7 1-1.7 1 .6 1-.3 1 .5 1-1.3 1-1.9 1-.5 1 2.1 1 .2 1-3.3 1-1.5 1-.3 1-.4 1 1.5 1-.2 1 1.2 1 1 1-1.1 1-.4 1 1.6 1-2.2 1-.4 1 1.3 1 .3 1 1.2 1 .1 1 2.5 1-.4 1-.4 1-.5 1 .9 1-2.9 1 1.9 1-1.7 1 .1 1 1.8 1-.5 1-.9 1 .9 1-2.5 1 2.5 1 .6 1-.3 1-.1 1-1.2 1-.5 1-.3 1 1.1 1-.5 1 .4 1-1.1 1 2.5 1-.4 1 .2 1-.2 1 .6 1-.8 1 1.2 1 .7 1-1.4 1 1.3 1-1.8 1 .7 1-1.4 1 1 1-.3 1-.3 1-.8 1 3.2 1-.7 1-1.6 1 .9 1-.1 1-.9 1 .7 1 .7 1-2.4 1 .4 1 1 1 2.8 1 1.3 1-.8 1-.8 1 .5 1-.7 1-.7 1 2 1 .4 1-.1 1-.1 1-1.3 1-1.2 1 .2 1 .2 1 .7 1-.7 1-.5 1 1.1 1-.4 1 .6 1-.4 1 1 1 .8 1 .9 1-.6 1-.2 1 1 1-1.6 1-.3 1 1.7 1-2.1 1-.5 1-.1 1 .3 1 .9 1-2.4 1 .5 1-.4 1-.3 1 1 1 1 1-.1 1 1.6 1 1 1-.7 1 .2 1-1.9 1-.8 1-1 1-1.1 1-1.6 1 .6 1-1.2 1-.8 1 .6 1-.3 1 0 1-1.2 1 3.6 1-.8 1-.2 1-.4 1 .1 1-.2 1-.1 1 1 1-1 1-.3 1 2.8 1 0 1 1 1 .2 1-.9 1 1.2 1 .8 1 .1 1 .3 1 .2 1-1.4 1 .6 0 17.9 -1 0 -1 .4 -1 .4 -1-.8 -1-.5 -1-.4 -1 1.1 -1 .9 -1-.4 -1-.9 -1 1.3 -1-.2 -1-.5 -1 .1 -1-.6 -1 1.2 -1 .1 -1-.8 -1-1.8 -1 .2 -1 .8 -1-.8 -1 .2 -1 .2 -1 .9 -1-.2 -1 .5 -1 .4 -1-.8 -1 2.2 -1 1.5 -1-.6 -1 1.5 -1 .5 -1 .4 -1-.2 -1-2.2 -1 .6 -1-.9 -1-1.1 -1-.6 -1 .3 -1 .5 -1 0 -1 .9 -1-.9 -1-.2 -1-1.4 -1 .6 -1 1.2 -1-.5 -1-.1 -1 .7 -1-3.2 -1 1 -1 1.4 -1-.3 -1-.7 -1 .7 -1 2.5 -1-4 -1 1.4 -1-1.4 -1 .5 -1 .6 -1 .2 -1 .4 -1 .8 -1-.6 -1 .1 -1-.8 -1 .6 -1-.5 -1 .2 -1 0 -1 1.7 -1-.4 -1 1.3 -1-.3 -1 .1 -1-2.7 -1-.2 -1 0 -1-.1 -1 .2 -1 1.1 -1 .3 -1-.3 -1 .7 -1-.1 -1 .3 -1-.8 -1-1 -1 1.5 -1-.9 -1 0 -1-.4 -1-.3 -1 .5 -1 1.2 -1 .7 -1 1.1 -1-.2 -1-1 -1-1.6 -1 .3 -1-.3 -1-.8 -1-.5 -1 1.1 -1 .3 -1-1.3 -1 .3 -1 .9 -1 .2 -1-.1 -1 .2 -1 1.7 -1-1.2 -1-1.3 -1 2 -1-1.1 -1 .5 -1 1.6 -1-2.3 -1 0 -1 .5 -1-1.1 -1 .8 -1-.6 -1-.3 -1-.3 -1 1.6 -1-1.4 -1 0 -1 .5 -1-.8 -1 .3 -1-1.1 -1 0 -1-2 -1 .1 -1 .5 -1-1 -1-.6 -1 0 -1-.6 -1-1.5 -1 2.6 -1-.6 -1 1.9 -1-2.6 -1 1.7 -1 .6 -1 2 -1 .6 -1 .3 -1-1.1 -1-.1 -1 .1 -1 .5 -1 .2 -1-1.3 -1 1.6 -1-1.9 -1-2.7 -1 1.1 -1 2.3 -1-.9 -1 .5 -1-.9 -1 .5 -1 .9 -1 .8 -1-1.2 -1 .4 -1 0 -1 0 -1 .8 -1 .2 -1 .4 -1-1.9 -1-.8 -1-.7 -1 1.7 -1-1.1 -1 .7 -1-1.5 -1 1.6 -1-1 -1 1.2 -1-.4 -1 3 -1-.2 -1-1.2 -1 0 -1-.4 -1 1.4 -1-2.4 -1 2.5 -1-1.3 -1 1.3 -1-1.3 -1 .4 -1-.7 -1-1.4 -1 2.3 -1-.8 -1 1.1 -1-.7 -1-.7 -1-1.6 -1 1.4 -1 .1 -1-.9 -1-.8 -1 .2 -1 1.4 -1-.4 -1 .5 -1 .1 -1-.7 -1 2.2 -1 .2 -1-1.1 -1 1.4 -1-1.6 -1 .3 -1 .8 -1-2.8 -1-.1 -1 1.6 -1-.1 -1 1 -1-1.3 -1 0 -1 .2 -1 .5 -1 .1 -1-1.7 -1 0 -1 0 -1 .8 -1-1.5 -1-1.5 -1 .8 -1 .2 -1-.1 -1 .5 -1-.7 -1 1.5 -1 .9 -1 2.7 -1-.6 -1-.9 -1 .9 -1 .4 -1-.4 -1 .9 -1 .3 -1-.8 -1-1 -1-.6 -1-.2 -1 .4 -1 1.1 -1-.8 -1 0 -1-1.2 -1 1.7 -1-1.2 -1 .1 -1 1.1 -1 .2 -1 .2 -1 .2 -1 .2 -1 .5 -1-1.6 -1 .7 -1 1.3 -1-1.2 -1-.5 -1 .7 -1 1.1 -1-.8 -1 .2 -1-.3 -1-.2 -1-1.7 -1 .3 -1-.5 -1 1.2 -1-.4 -1 .7 -1-.1 -1 .1 -1 .3 -1-1 -1 .4 -1 .9 -1-1.1 -1 1.7 -1-.1 -1-.1 -1 .2 -1 .2 -1 .2 -1-.4 -1-1.6 -1 2.2 -1 1.7 -1-.6 -1-.2 -1 1.3 -1 .9 -1-2 -1-1.1 -1 .1 -1-1.3 -1-.9 -1 .1 -1 1.7 -1-2.1 -1-.3 -1-1.7 -1 2.6 -1-2.3 -1 1.3 -1 0 -1-.3 -1-1 -1 .4 -1 .6 -1-1.5 -1-.8 -1 .1 -1 2 -1 .1 -1-1.7 -1 2 -1-2.4 -1 .8 -1-.1 -1 .6 -1-.5 -1-1.9 -1 1.6 -1-.9 -1 .4 -1-.1 -1 .3 -1-.5 -1 .4 -1 1.7 -1-.3 -1 0 -1 1 -1 1.6 -1-1.6 -1 1.4 -1 1.3 -1 0 -1 1.7 -1 .1 -1 .4 -1-.6 -1 2.2 -1 .4 -1-2.1 -1 .7 -1 .6 -1-.8 -1 1.9 -1 1.7 -1-.9 -1 1.1 -1-.7 -1 1.4 -1-1.5 -1 .2 -1-.4 -1-1.5 -1 1.9 -1 1.4 -1-1.5 -1 2.4 -1-4.7 -1 2.1 -1-.2 -1 2 -1-1 -1 2 -1-2.5 -1 1.4 -1-.5 -1 .4 -1-1.1 -1-20.7z" fill="rgba(0,254,53,0.25)"/>
<path d="M0 85.1l1 6.7 1-.4 1 1 1 .5 1 .5 1-.3 1-.7 1 .1 1-2.1 1 1.6 1-.7 1 1 1-.6 1 .6 1 .3 1-1.8 1 1.7 1 0 1 .8 1 .4 1-.1 1-.2 1-.4 1 1.1 1-1.9 1-.6 1 0 1 .2 1 .3 1 0 1 .3 1-.9 1 .6 1-1 1 .1 1-1.5 1 .3 1 .2 1-.9 1-.2 1 1.2 1-1 1-.8 1 1.2 1-1 1-.6 1-.1 1 .4 1-.1 1-.4 1 .7 1-1.2 1 .5 1 0 1 .2 1 0 1-.6 1 .7 1 .1 1 .7 1 .1 1-.6 1-1 1-.8 1 1.3 1-.4 1-.3 1 .8 1 .5 1-.4 1-.2 1 .3 1-1.2 1 .3 1-.3 1 .8 1-1.4 1 .5 1 1.1 1 .4 1 .1 1-.2 1 .7 1-1.1 1 .4 1-.5 1-.2 1-.7 1-.1 1 .7 1 .1 1-.6 1 .1 1 .7 1-.9 1 1.4 1-.5 1 .6 1 0 1-.5 1 .5 1-.5 1 .1 1-.4 1-.1 1 .8 1-1 1-.7 1 0 1 .7 1 .1 1 .2 1 .4 1 .6 1-.9 1-.1 1-.7 1 1.5 1-1 1-.1 1 .7 1-1.2 1 .3 1 .9 1-.2 1 .2 1-1.5 1 1.1 1-.3 1-.3 1 .5 1-1.3 1 .4 1 0 1-.1 1 .6 1-.1 1 .3 1 .6 1-1.5 1-.3 1 1.1 1 .3 1-.8 1 1.1 1 .1 1-.5 1-1 1-.8 1 .4 1 .3 1 .3 1 0 1-.1 1 .2 1 .7 1-.5 1-.7 1 .5 1 .6 1-.6 1-.9 1 .4 1-.1 1 .4 1 0 1 .1 1-.8 1 0 1 1.3 1-.4 1 .3 1 .2 1-.1 1 .4 1-.8 1-1.4 1 .4 1 1 1-.5 1 0 1-.8 1-.3 1 1.3 1-.1 1 .6 1-1.1 1 .5 1-.2 1 .4 1-.6 1 .3 1-.8 1 .6 1 .1 1 .1 1 .6 1-.7 1 0 1-.8 1 .9 1-.3 1-.1 1 .4 1 .5 1-.2 1-.5 1 .3 1-1 1-.2 1 .9 1 .5 1 0 1 .6 1-.9 1 .2 1-.8 1 1.5 1 0 1-.5 1 .6 1-.5 1 .2 1-.4 1-.2 1-.3 1-.2 1 .2 1 .2 1-.5 1 .6 1-1 1-.3 1 .8 1 .8 1-.4 1 .9 1 .3 1-.3 1-.1 1 .4 1 .9 1 .3 1 0 1-1.6 1 .3 1-.2 1 .7 1-1 1 .1 1-1.2 1-.1 1 .1 1-.4 1-.1 1 1.3 1-.6 1 .2 1 .6 1-.9 1 0 1 1.4 1 .4 1 .1 1-.7 1 .4 1-.4 1-.1 1-.3 1 .9 1-1.5 1 1.1 1-.5 1 0 1 .8 1-.6 1 .2 1 .5 1-.8 1 .6 1 1 1-.6 1-.1 1-.7 1-.2 1-.1 1 .4 1 0 1 .2 1-1 1 1.3 1-.7 1 .1 1 .1 1 .6 1 .9 1-.1 1-.4 1-.5 1 .3 1-.4 1 .7 1-1 1 1.2 1-.7 1-.4 1-.8 1 .2 1 0 1 .4 1 0 1 .4 1-.6 1-.3 1 .9 1-1 1 .6 1 .2 1 1.1 1 .4 1 .5 1-1.3 1 0 1-.9 1-.4 1 .5 1 1 1-.8 1 .9 1-.3 1-.7 1 .3 1 .2 1-.2 1-.9 1 .5 1 .5 1-.2 1 1.6 1-1.1 1-.5 1 .9 1 .4 1-.9 1-.8 1 2 1-1.1 1-.1 1 .1 1-.8 1-.7 1 1.1 1-.2 1 .3 1-.7 1 .2 1 .2 1-.7 1 .4 1 .5 1 1.4 1-.5 1 .6 1 .4 1-.3 1-.8 1 .1 1 .3 1-.4 1-1.7 1 .8 1-.8 1 .3 1 .2 1-.8 1 .6 1 .3 1 .5 1-.4 1 .1 1 .2 1 .8 1-.5 1-.6 1 .2 1-.5 1 .2 1 .2 1-.1 1 .4 1 .2 1-1.5 1 0 1 .6 1-.4 1 .7 1 .2 1-.5 1-3 1 0" fill="none" stroke="#00FE35" stroke-width="3.6" vector-effect="non-scaling-stroke" stroke-linejoin="round"/>
</g>
<path d="M1602.4 75.9 1611.6 66.7 1620.8 75.9 1611.6 85.1 1620.8 94.3 1611.6 103.5 1602.4 94.3 1593.2 103.5 1584.0 94.3 1593.2 85.1 1584.0 75.9 1593.2 66.7Z M1950.0 74.9 1959.2 65.7 1968.4 74.9 1959.2 84.1 1968.4 93.3 1959.2 102.5 1950.0 93.3 1940.8 102.5 1931.6 93.3 1940.8 84.1 1931.6 74.9 1940.8 65.7Z" fill="#00FE35"/>
<g transform="translate(1602.40 0) scale(0.8690 1)">
<path d="M0 85.1l1-1.2 1 .3 1 .6 1 .4 1 1 1 .6 1-.8 1 .3 1-.7 1-.9 1 2.2 1-2 1 .1 1-.1 1 0 1 .7 1 .6 1-1.2 1-.3 1 .1 1 .6 1 1.3 1-.2 1 .9 1 0 1-.2 1-.1 1 .4 1-.8 1 .4 1 1.2 1-1.6 1 .2 1-1.5 1 .9 1-1.2 1-1.6 1 .7 1 .3 1 .5 1 0 1-.3 1 .8 1-1.3 1 .2 1-.6 1-.1 1-.2 1 .4 1 1.3 1-.7 1 .6 1-.6 1 1.2 1-.6 1 1.6 1-1 1-.9 1-.4 1-.1 1-.4 1-.5 1 .1 1-1.2 1 .6 1-.8 1 1 1 .4 1-.6 1-1.1 1 .4 1 .1 1 .1 1 .1 1 1.1 1-.5 1 .5 1-.3 1 .1 1-.2 1 .2 1-.8 1 1.9 1-1 1-.6 1-.6 1-.4 1 .4 1-1 1 .2 1 1.2 1-1 1-.1 1 1 1 .8 1-.7 1 1.7 1 1.8 1-.2 1-.5 1-.3 1 1.5 1-.3 1-.5 1 .6 1-.8 1 .8 1 0 1 .6 1 .3 1 .4 1-.2 1-.4 1-1 1 .7 1 .5 1-1.1 1 .6 1-.6 1 0 1 .3 1-.8 1-1.7 1-.3 1-.1 1-.8 1 0 1 1 1 .2 1-.7 1 .5 1-.6 1 .5 1-1.5 1 .9 1 .5 1-.6 1 0 1 1 1 .4 1-.5 1 .7 1-.1 1 1.3 1-.7 1 .3 1-.8 1 .9 1-1.2 1 1 1 .5 1-.1 1-.8 1 .3 1-1.6 1 1.3 1 .3 1-.2 1 1.2 1-2.3 1-.9 1-.3 1-.2 1 1.5 1 1.1 1 .9 1 .3 1-1.1 1 1.6 1-.8 1 1.2 1-.7 1-.7 1 1 1 .1 1-.5 1-.5 1-.6 1 .2 1-1.1 1 .7 1-.6 1-.3 1 1.5 1-.9 1 1 1-.6 1 .6 1-.5 1 .3 1 .3 1-.9 1 .1 1 .3 1-.5 1-1 1-.8 1 .2 1 .2 1 1.3 1 .6 1-1.1 1 .5 1-1 1 .4 1 1 1 .4 1-1.5 1 .9 1-.2 1 .1 1 1 1-.7 1 .9 1-.8 1 1.6 1-.8 1 .8 1 .2 1-.1 1-1 1 1.4 1-.5 1-1 1-.1 1 .6 1 1.2 1-1.2 1 .9 1 .8 1-1 1 2 1 .3 1 .1 1-.9 1 0 1-.5 1-.4 1 .6 1-.5 1-.5 1 .2 1-1.8 1 .5 1 .3 1-.4 1 .6 1 0 1-.2 1-.5 1 .6 1-.7 1-.2 1 1.6 1-.7 1 0 1-1 1 .4 1 1.1 1 .4 1-1 1 .8 1-.6 1 1.4 1-1.2 1-.7 1 1.2 1 0 1 0 1 1.5 1-.5 1-.1 1-.4 1-.1 1-.6 1 .4 1-.1 1 .3 1 .8 1-.5 1-1.2 1-.9 1 .6 1-.9 1 1.4 1 0 1-.1 1-1.8 1 2.6 1-.1 1-.8 1 .7 1 .2 1 .5 1-.4 1-.5 1 .7 1 .3 1 .2 1-.3 1-1.3 1-.6 1 .6 1 1 1-1 1 .6 1 .2 1 .6 1 0 1-.7 1-.6 1 1 1 .1 1 .2 1 1.1 1 .6 1-.4 1 .4 1-1 1 .3 1 .6 1 .4 1-1.3 1-1.3 1 0 1-1 1 1.2 1-.9 1 1.1 1-.6 1 .7 1 0 1-.9 1 1.3 1-.9 1-.3 1 .1 1-.3 1-.6 1 .8 1-.9 1 .5 1-.5 1 0 1 .6 1 .1 1-.4 1-1.7 1 .8 1 1.3 1-.9 1 .7 1-2.2 1 .9 1 .8 1-.5 1 .3 1 0 1 .4 1-.9 1 .9 1-.3 1 .3 1 .6 1-1 1 1 1-1.6 1 .2 1-.8 1 1.6 1-.5 1 0 1 1.6 1 .2 1-1.5 1 .4 1-.1 1 .4 1 .3 1-1.7 1 .3 1 1.7 1-1 1 .6 1 .4 1-.8 1 1.2 1-.5 1 1.6 1-1.4 1-1.4 1 .4 1 .9 1 .6 1 .4 1-.5 1-.2 1 .5 1-1.4 0 13.3 -1-.1 -1 .2 -1-.1 -1 1.8 -1-.3 -1-.3 -1-.2 -1-1.1 -1 .9 -1 1.7 -1-1.4 -1-.1 -1-.2 -1 1.3 -1-.4 -1-.9 -1-1 -1-.2 -1-1.1 -1 1 -1-1.1 -1 .7 -1-.5 -1 .4 -1 1.4 -1-1 -1-1.2 -1 .9 -1 .7 -1-2.6 -1 1.5 -1-.4 -1 .4 -1-.3 -1 1.8 -1-.5 -1-.1 -1 .2 -1 1.5 -1 .3 -1-.8 -1-.2 -1-.6 -1-.4 -1-.2 -1-.6 -1 1 -1 0 -1 .3 -1-2.2 -1 .1 -1 1.1 -1-.3 -1 1.1 -1-1.3 -1 .5 -1 .2 -1 .6 -1 .7 -1-.3 -1 .5 -1-.6 -1 0 -1 .8 -1 .4 -1-.8 -1 .5 -1-.3 -1-.7 -1 .1 -1-2.1 -1 1.1 -1-1.1 -1 .5 -1 .3 -1 2.2 -1 .2 -1-.5 -1-.8 -1-.6 -1 1.7 -1-.9 -1 .2 -1-1.6 -1-.7 -1 .5 -1-.6 -1-1.4 -1 1 -1 1.4 -1 .3 -1-2.1 -1 .1 -1 1.5 -1-.9 -1-.4 -1 .5 -1-1 -1 1.6 -1-.4 -1 .2 -1 0 -1 1 -1 .3 -1 .5 -1-.5 -1 .3 -1-.9 -1 .9 -1-.6 -1-2.5 -1 1.1 -1 1.6 -1-1.1 -1 .6 -1 .8 -1 .7 -1-1.3 -1 1.5 -1-1.3 -1-.4 -1-.2 -1 1.2 -1-.4 -1 .6 -1 .2 -1-.4 -1-1.2 -1 .9 -1-1.6 -1 .2 -1 .9 -1 .1 -1 .7 -1 1.4 -1-1.1 -1-.3 -1-.9 -1 .2 -1-.9 -1-1 -1 .1 -1 .4 -1 .1 -1 .7 -1-1 -1-.5 -1 1.4 -1-2.1 -1 .9 -1 .2 -1 .2 -1-.7 -1 .8 -1-.8 -1 .2 -1 .9 -1 1.5 -1-1.5 -1 .9 -1-.1 -1 .6 -1 .1 -1-.2 -1 .8 -1-1.1 -1-.6 -1-2 -1 1.8 -1-.6 -1 0 -1-.9 -1 0 -1-.3 -1 .4 -1 .3 -1 .9 -1 .2 -1-.4 -1-.6 -1-.2 -1-1 -1 1.3 -1-1.5 -1 1.2 -1 1.1 -1-.1 -1-.1 -1-.4 -1 .8 -1-.5 -1 1.6 -1-1.2 -1-1 -1 .5 -1 .8 -1 .7 -1 .5 -1 .1 -1-.8 -1 .6 -1 .1 -1 .1 -1 .2 -1-.4 -1-.4 -1 .8 -1-.2 -1-1.7 -1 .4 -1 1.2 -1-1.1 -1 .9 -1-.1 -1 .8 -1-1.3 -1-1.1 -1 2 -1-1.8 -1 .9 -1-1 -1 .8 -1-.3 -1 .1 -1 .3 -1-1.5 -1 .4 -1 .1 -1-.4 -1 .4 -1-1 -1 .5 -1 .2 -1-.8 -1-1 -1-.2 -1 .7 -1-.4 -1-.4 -1 1.3 -1 .6 -1 0 -1 .9 -1-.1 -1 1.1 -1-1.8 -1 .9 -1-.2 -1-.1 -1-.7 -1 1.1 -1-1.4 -1 .8 -1-.6 -1-.9 -1 0 -1-.8 -1-.6 -1-.2 -1 1.4 -1-1 -1-.6 -1 .7 -1-.9 -1 .2 -1 .7 -1 .4 -1-.5 -1-.5 -1 1.8 -1-.9 -1-1 -1 .8 -1 1.2 -1 .3 -1 0 -1 2.2 -1 .4 -1-.6 -1 .1 -1 .7 -1-.2 -1 1.6 -1-.5 -1-2.6 -1 .8 -1 1.2 -1 .3 -1-.4 -1 .4 -1-1.4 -1 .7 -1-.7 -1-1.3 -1 .3 -1 1.5 -1-.3 -1-1.2 -1 .6 -1-.6 -1 0 -1-.4 -1-.7 -1 .4 -1-.6 -1-2 -1 .7 -1 .4 -1 1.2 -1-1.3 -1 .6 -1 .6 -1-.1 -1 .1 -1-.4 -1 .8 -1-.6 -1 .5 -1-1.8 -1 .8 -1-.8 -1 1.1 -1-.1 -1-1 -1 .3 -1-.4 -1 .1 -1 1.3 -1 .3 -1 0 -1 .3 -1 .7 -1-2.2 -1 2.4 -1-1.4 -1 .5 -1-1 -1 0 -1 0 -1 1.8 -1 .4 -1 .2 -1 1.7 -1-1.7 -1 1.2 -1-1.4 -1 .5 -1-.6 -1 .9 -1 .3 -1-1.5 -1-.4 -1 1.2 -1 0 -1 0 -1 .8 -1-.5 -1-.3 -1 1.8 -1-.7 -1 .3 -1-1 -1-.1 -1 2.8 -1-1.7 -1 .5 -1-.3 -1 .7 -1-1.2 -1-.6 -1-.1 -1 1 -1-.3 -1-.2 -1-.2 -1-.6 -1 .8 -1-.9 -1-.5 -1 1.2 -1-.5 -1 0 -1-.3 -1-1.4 -1 .1 -1 .2 -1-.6 -1 1 -1-1.7 -1 2.3 -1 .4 -1-.2 -1 .4 -1 .2 -1-1.3 -1 .1 -1-.2 -1 .3 -1-14.1z" fill="rgba(106,118,252,0.25)"/>
<path d="M0 85.1l1 5.5 1 .1 1-.1 1-.1 1 .4 1 .3 1-.6 1 .1 1-.4 1-.8 1 2.3 1-1.4 1-.2 1 .1 1 0 1 .8 1 .5 1-.3 1-.5 1-.2 1 .1 1 1.4 1-.4 1 .8 1 .1 1-.4 1-.4 1-.2 1-.4 1 .3 1 1.2 1-1.2 1 .3 1-1 1 1.2 1-1.3 1-1.1 1 .8 1 .3 1 .4 1-.9 1 .4 1 .4 1-1.3 1 .2 1 .2 1-.1 1 0 1 .9 1-.9 1-.2 1 .6 1-.7 1 1.3 1-.5 1 1.5 1-1 1-.4 1 .1 1-1 1-.2 1 .3 1 0 1-.2 1 1.1 1-1 1 .9 1-.5 1 0 1-.2 1 .1 1 0 1-.4 1-.3 1 .8 1-.7 1 .2 1-.7 1 .4 1-.4 1 .7 1-.4 1 1 1-.6 1 .5 1-.7 1 .8 1-.8 1-.3 1 .4 1 .4 1-.7 1-.6 1 .7 1 .4 1-.7 1 1.2 1 .4 1 .1 1 .3 1-.4 1 .8 1 .1 1-.2 1 .2 1 .7 1 .4 1-1 1 1 1 .3 1-.1 1-.4 1-.6 1-.4 1 1.4 1 .5 1-1.1 1 .5 1-.5 1-.2 1 .2 1-.2 1-1.2 1 .6 1-.4 1-.4 1-.3 1 .8 1 .1 1-.5 1 1.3 1-.8 1-.1 1-.7 1 .8 1 .5 1-1 1 .7 1 .5 1-.1 1-.5 1 .7 1 .2 1 .3 1-.1 1-.1 1-.3 1 .6 1-.5 1-.4 1 .7 1 0 1-.8 1 .6 1-.5 1 .5 1-.2 1-.1 1 .2 1-1.6 1-.3 1 .3 1-.6 1 1.1 1 .7 1 .9 1 0 1-1 1 1.4 1-.6 1 1 1-.5 1-.5 1 .9 1-.2 1-.7 1-.4 1 .2 1 .5 1-.6 1 .9 1-1.3 1 .7 1 .8 1-.1 1-.2 1-.2 1 .6 1-.2 1-.4 1 1 1-1 1-.1 1-.1 1-.2 1 .4 1-.6 1-.1 1-.7 1 .8 1 1 1-.3 1 .1 1-.8 1-.1 1 .9 1 .5 1-1.8 1 .9 1-.6 1-.3 1 .3 1 0 1 0 1-.7 1 1.9 1 0 1 .1 1-.2 1 .2 1 .1 1 .7 1-1.1 1-.4 1 .3 1 .9 1-.5 1 0 1 .3 1 .2 1-1 1 1.7 1 0 1 .4 1-.5 1-.3 1-.2 1-.3 1 .5 1-1.1 1 .8 1-.6 1-1.2 1 .2 1 .6 1-.8 1 1.2 1-.2 1-.4 1 .2 1 .9 1-1.6 1 .6 1 .7 1-.2 1-.5 1-.5 1-.2 1 1.2 1 .8 1-.7 1 .7 1-.5 1 .9 1-.3 1-.6 1-.1 1-.1 1-.3 1 1.5 1-.7 1 .2 1-.5 1 .1 1-.2 1-.3 1 0 1 0 1 .2 1 0 1-.6 1 .2 1 .2 1-1.1 1 .7 1 .4 1-.2 1-1.5 1 2.1 1-.3 1 0 1 .6 1 .2 1-.1 1-.2 1 .1 1 0 1-.3 1 .5 1-.3 1-1.1 1 .1 1-.5 1 .8 1-.2 1-.4 1 .4 1 1.3 1 .1 1-1.3 1-.3 1 .6 1 .3 1-.7 1 .7 1 .5 1-.2 1 .5 1-.7 1 .6 1 .6 1 .3 1-.3 1-1.8 1 1.2 1-1 1 .4 1-.5 1 1.2 1 0 1 0 1 .3 1-.6 1 .4 1-.4 1 0 1-.9 1 .6 1-.4 1 .3 1-.2 1 .1 1 .2 1-.2 1 .6 1-.3 1-.2 1-1.4 1 .1 1 1.3 1-.9 1 .5 1-1.3 1 .9 1 .1 1 .4 1 .1 1 .2 1 .5 1-.6 1-.1 1-.3 1 .4 1 .6 1-1.4 1 .8 1-.6 1 .1 1-.2 1 1.2 1-.6 1-.8 1 1.2 1 .7 1-.7 1-.4 1 0 1 .3 1 .6 1-1 1 .3 1 1.1 1-.8 1 .8 1 .2 1-1.3 1 1 1-.1 1 1 1-1.5 1-1 1 1.1 1 .1 1 1.1 1 .3 1-1.2 1 0 1-.2 1 1.3 1 0" fill="none" stroke="#6A76FC" stroke-width="3.6" vector-effect="non-scaling-stroke" stroke-linejoin="round"/>
</g>
<path d="M1602.4 75.9 1611.6 66.7 1620.8 75.9 1611.6 85.1 1620.8 94.3 1611.6 103.5 1602.4 94.3 1593.2 103.5 1584.0 94.3 1593.2 85.1 1584.0 75.9 1593.2 66.7Z M1950.0 86.2 1959.2 77.0 1968.4 86.2 1959.2 95.4 1968.4 104.6 1959.2 113.8 1950.0 104.6 1940.8 113.8 1931.6 104.6 1940.8 95.4 1931.6 86.2 1940.8 77.0Z" fill="#6A76FC"/>
<g transform="translate(1602.40 0) scale(0.8690 1)">
<path d="M0 85.1l1-11.6 1 1.7 1-.1 1 .6 1-.3 1-.1 1 .4 1 .3 1-1.6 1 .4 1-.5 1 .9 1 .9 1-1.5 1 .6 1-.7 1 .4 1-1.1 1-.3 1 .9 1-.9 1-.2 1-.7 1 1.5 1 .2 1 .7 1-.6 1 .1 1 .6 1 1.1 1-.4 1-.5 1 .7 1-.5 1 .3 1-.2 1 1 1-.4 1-.6 1-.7 1 2.2 1-.8 1 1.8 1-1.8 1-.1 1 .4 1 1.8 1-1 1-.3 1 .9 1 0 1 .4 1 .2 1-.4 1 .3 1 .5 1 .9 1-.8 1 .1 1 .1 1 .9 1-1.7 1-.1 1 .5 1-.3 1 .4 1-.8 1 1 1 0 1-.5 1 .3 1-.3 1 .4 1-.4 1-.6 1 .7 1-.3 1-.5 1 .8 1 .1 1-.2 1 1.4 1-.4 1 .3 1 .1 1 .1 1 .9 1 .6 1-1.6 1-.4 1-.3 1 1.2 1 .7 1-.8 1 .9 1 .5 1-.2 1-.1 1-.1 1-.2 1 .3 1 .1 1-.9 1-.1 1-.6 1 .9 1-.7 1 .4 1 .1 1-.9 1 .3 1 .4 1 .9 1-.2 1-1.4 1 1.5 1-2 1 1.1 1-.2 1 1.3 1-.3 1 .7 1 .4 1 .3 1-1.6 1 2 1-.3 1 .4 1 .7 1-.8 1 1.3 1-1.2 1 .4 1 .8 1 .3 1-1 1 .3 1 .2 1-1.1 1-.2 1 .7 1-.5 1 .4 1 .9 1-.3 1 .4 1-.4 1 .4 1-1.3 1-.3 1 1 1 1 1-.3 1-.8 1-.5 1-.2 1 1 1 .5 1-.3 1-.8 1 1.5 1-.3 1-.4 1 .6 1-.1 1 .6 1-.4 1 1.1 1-.4 1-.6 1-.3 1 1.5 1-2 1-.5 1-.8 1-.1 1-.3 1 2.2 1-1.1 1-.4 1 .7 1 .3 1-1.9 1 .7 1 .9 1-.4 1-.2 1 1.1 1 .1 1-.8 1 .5 1-.4 1 1.1 1-.6 1 .9 1-.1 1 .6 1-.8 1 .9 1-.8 1 0 1-1.1 1 1 1 0 1 .5 1-1 1 .3 1-.4 1-.4 1-.7 1 .8 1 .2 1 1.2 1-.1 1 1.6 1-1.9 1 1.4 1 .1 1 .4 1-1.5 1-.5 1 1.1 1-.9 1 .5 1-.2 1-.5 1-.4 1 .2 1 1.3 1-.2 1 1.3 1 0 1 .3 1 .1 1 .5 1-.8 1 1.5 1-.6 1 .2 1 .3 1 0 1-.9 1-.2 1 .1 1-.6 1 .5 1-1.4 1 .8 1 1.2 1-.5 1-.3 1-.6 1-.3 1-.8 1 .8 1-.4 1-.1 1-.2 1 .8 1-.2 1-1.8 1 1 1-.2 1 .6 1 .3 1 .5 1 .3 1 .3 1-.3 1 .8 1-.8 1 .5 1-.1 1 .6 1-1 1 1.1 1-1.5 1 0 1-.8 1 .1 1-.6 1 .6 1 .4 1 .5 1-.3 1 .4 1-.8 1 .3 1-.5 1 1.2 1 .1 1 1.2 1 0 1-1.4 1 .3 1-.3 1 .8 1-.3 1 .9 1 0 1-1.4 1 1.5 1-1.3 1-.1 1 .2 1-.6 1 .3 1 .4 1-.1 1 .7 1-.1 1-.2 1 .3 1 .9 1 .6 1-.9 1 .5 1 .6 1-.5 1-1.4 1 .7 1 0 1-.6 1-.9 1 1.6 1-1.6 1 1.7 1 0 1 0 1 .8 1-.7 1-.4 1 .7 1 0 1-.9 1 .9 1 .7 1-1 1 .9 1-.5 1-.5 1 1 1-.1 1-.1 1-.9 1 .3 1 .7 1-.5 1-.4 1-.1 1 .7 1-1.4 1-.1 1 .3 1 .7 1-1 1 1.2 1 .1 1-1.7 1 1.5 1-.1 1 0 1-.4 1 .1 1 1.2 1-.4 1 1.3 1-.3 1 .1 1-.3 1-.1 1-.6 1-.2 1-.4 1-1.3 1-.2 1-1 1 1.9 1-1 1 1.6 1 0 1 .3 1 1.3 1 .1 1 0 1-1.2 1 0 1 .8 1-.2 1 .6 1 1.4 1-.2 1 0 1 .6 1-1 1-.6 1 .9 1-.8 1 .8 0 7.5 -1 1.3 -1 .3 -1 .4 -1 1 -1 .4 -1 .5 -1-2.5 -1 1.1 -1-.2 -1-.1 -1 1.7 -1-1.1 -1 .1 -1 1.6 -1-1.6 -1 1 -1-.4 -1-.1 -1-.2 -1-1.6 -1 .5 -1-1.4 -1 .1 -1-.2 -1 1.7 -1-1.1 -1 .9 -1 1.8 -1 0 -1-.7 -1-.2 -1 .1 -1-1.9 -1 1.2 -1-1.1 -1 .9 -1 1.1 -1-.7 -1-1.4 -1-.6 -1 1.7 -1-.6 -1-1.1 -1 .7 -1-1.2 -1 .4 -1-.1 -1 1 -1-.3 -1-.2 -1 .5 -1 .8 -1 0 -1-.1 -1 .7 -1-.1 -1 .1 -1-1.8 -1 .8 -1 1.2 -1 0 -1-1 -1-1.1 -1-.4 -1 1.1 -1 0 -1-.4 -1-.1 -1 1.8 -1-2.4 -1 1.5 -1 .5 -1-1.6 -1 1.4 -1-1.4 -1 1.1 -1-.4 -1 1.1 -1-1.4 -1 1.9 -1 .2 -1-.4 -1-1.6 -1 .9 -1-.8 -1-.5 -1-.2 -1-.3 -1 1.1 -1-1.3 -1 1.6 -1-.2 -1-.7 -1 1.1 -1-1.7 -1 1.7 -1 .6 -1-1.6 -1 1.2 -1-.6 -1-.2 -1 .1 -1-.2 -1 1 -1 1.3 -1 1.1 -1 .1 -1-.2 -1-.3 -1-.6 -1 1 -1-2 -1-.5 -1 .6 -1 1.3 -1-.2 -1-2.6 -1 .3 -1-1 -1-.6 -1 1.5 -1 1.8 -1 .6 -1-1.3 -1 1.6 -1-.6 -1-.9 -1-.4 -1 .3 -1-.5 -1 .2 -1-.5 -1-.9 -1 .3 -1 .5 -1-1 -1 .4 -1-.7 -1 1.7 -1 0 -1-1 -1-2.2 -1 0 -1-.4 -1-.1 -1 .8 -1-.1 -1 .4 -1 .2 -1-.3 -1-.6 -1-.2 -1 0 -1-1.3 -1 1.8 -1-.7 -1 .4 -1 1.5 -1-.1 -1-.9 -1-.9 -1 1.2 -1-1.5 -1 2.3 -1 .6 -1 .5 -1-.5 -1-.2 -1-.5 -1 .4 -1-.9 -1-1.2 -1 1 -1-.7 -1 .2 -1-1.2 -1-.1 -1-1.3 -1 1.7 -1 .9 -1-1.4 -1 .4 -1-1.5 -1 2.5 -1-1.2 -1 .3 -1-.9 -1-.1 -1-.1 -1 .9 -1 .4 -1 .5 -1 .2 -1 1.1 -1-1.5 -1 .8 -1-.7 -1 .8 -1 .2 -1 1.2 -1-2.1 -1 .7 -1-1 -1-1 -1-.4 -1 0 -1-1.9 -1 1.2 -1 .3 -1 .7 -1 0 -1-.8 -1 1.3 -1 .1 -1 .3 -1-1.1 -1 1.2 -1-.3 -1-.1 -1 .5 -1 .2 -1-1.9 -1-1.1 -1-.7 -1 1.4 -1-.3 -1 2 -1-2.4 -1 .9 -1 .5 -1-.4 -1-.8 -1-.3 -1 0 -1 .3 -1-1.5 -1 3 -1 .2 -1-2.4 -1 1.4 -1 .1 -1 0 -1-1.9 -1-.3 -1 1.1 -1-1.7 -1 1.7 -1-.5 -1-.7 -1 1.2 -1 1 -1 .3 -1-.6 -1-.6 -1 .7 -1-1.6 -1-.2 -1 1 -1-.4 -1 .9 -1 1 -1-.3 -1-.8 -1 .5 -1-1.3 -1-1 -1 .4 -1 .9 -1 0 -1 0 -1-.5 -1 .2 -1 1.1 -1-2.1 -1 .9 -1 .3 -1 .8 -1-.8 -1 .7 -1-1.2 -1 .3 -1-1.1 -1 .1 -1-1.8 -1 2.1 -1-1 -1 1.4 -1 .4 -1-.6 -1-.2 -1-.3 -1-.7 -1 1.9 -1 .1 -1 .4 -1-.3 -1 .3 -1-1.8 -1-.6 -1-.1 -1-.1 -1 .3 -1-.2 -1 .6 -1-1 -1 1.4 -1-.8 -1-.9 -1 .7 -1-.8 -1 1 -1-1.1 -1-.8 -1 .5 -1-1.5 -1 1.2 -1 .5 -1-1.3 -1-1 -1 .7 -1-1 -1 2.2 -1-.6 -1-1.3 -1-.1 -1 .4 -1 .8 -1 .6 -1 .2 -1-.5 -1-.4 -1 .2 -1 .1 -1-.8 -1-.3 -1-1.5 -1 1.3 -1 .6 -1-.9 -1 .6 -1 1.2 -1 0 -1-.2 -1-1 -1 .4 -1 .9 -1 0 -1-.4 -1 .4 -1-.5 -1 .7 -1 2.1 -1-2.7 -1-.9 -1 .6 -1-.3 -1-.9 -1 1.2 -1-1.8 -1 .1 -1-.9 -1 1 -1 .5 -1 1.7 -1-.1 -1-2 -1-.9 -1 .6 -1 .7 -1-1.3 -1 0 -1-.3 -1 .3 -1-.3 -1 1.2 -1-1 -1 1.3 -1-.8 -1 .7 -1-1 -1 .7 -1 .5 -1 .1 -1 .3 -1-1.1 -1 .8 -1-1.7 -1-.7 -1 1.3 -1-1.3 -1 2.7 -1-.5 -1 .3 -1-.2 -1-.3 -1 0 -1-.6 -1-1.7 -1-1.6z" fill="rgba(254,0,206,0.25)"/>
<path d="M0 85.1l1-6.5 1 1.4 1 .2 1 .3 1-.2 1 .1 1 0 1 .1 1-1.6 1 .7 1-.6 1 1 1 .5 1-1.3 1 .8 1-.8 1 .1 1-.4 1 0 1 .9 1-.6 1 .2 1-.8 1 1 1-.2 1 0 1-.5 1 .3 1 .2 1 1.3 1-.8 1-.4 1 .7 1 .4 1-.2 1-.3 1 .2 1-.4 1 .1 1-.6 1 1.6 1-.4 1 1.4 1-.8 1-.1 1 .6 1 1.5 1-1.1 1-.6 1 1.2 1-.2 1 .3 1 .1 1-.1 1-.3 1 .4 1 .9 1-.8 1 .1 1 .1 1 .8 1-1.1 1-.3 1 1 1-.3 1 .6 1-1 1 .2 1 .4 1-.6 1 .3 1-.2 1 .3 1-.3 1-.3 1 .5 1-.5 1-.3 1 .5 1 .2 1 .3 1 1.1 1-.3 1 0 1-.2 1-.1 1 .9 1 .1 1-.6 1 .1 1-.5 1 .4 1 1 1-.8 1 .6 1 .9 1-.5 1-.2 1 .4 1-.3 1 .6 1 .1 1-.4 1 .4 1-.8 1 .7 1-.6 1 0 1 .1 1-.3 1 .4 1-.5 1 .5 1 .1 1-1.1 1 1.3 1-.9 1 1.2 1-.9 1 1.4 1-.6 1 1 1 .2 1-.2 1-1.5 1 1.5 1 .3 1-.4 1 .4 1-.5 1 .8 1-1.1 1-.4 1 1 1 .8 1-.6 1 .5 1 .4 1-1.1 1-.4 1 .3 1-.2 1 .1 1 .7 1-.1 1 .3 1-.4 1 .5 1-1 1 0 1 .7 1 .7 1-.8 1-.2 1 .2 1-.1 1 .7 1 .4 1-.2 1-.4 1 1.4 1-.1 1-.6 1 1.1 1-.5 1 0 1 .4 1 .8 1-.3 1-.2 1-.6 1 1.3 1-1.7 1-.4 1-1 1 .6 1 0 1 1.1 1-.3 1-.4 1 .5 1 .3 1-1.6 1 .6 1 .7 1-.7 1 0 1 .7 1-.7 1-.3 1 .7 1-.2 1 .9 1-.8 1 1.1 1-.2 1 .8 1-.6 1 1 1-.8 1-.3 1-.4 1 .7 1-.2 1 1 1-1.1 1-.2 1 .3 1-.4 1-1 1 .8 1-.1 1 1.2 1-.3 1 1.3 1-1.6 1 .9 1 0 1 .7 1-1 1-.8 1 .6 1-.4 1 .6 1-.4 1-.1 1-.4 1 1 1 .5 1-.4 1 .6 1-.3 1 .3 1-.2 1 .3 1-.9 1 .7 1-.4 1 .3 1 .3 1 .1 1-.3 1-.6 1 .9 1-.5 1 .5 1-.7 1 .5 1 .9 1-.1 1-.6 1-.2 1 0 1-.7 1 .5 1 0 1 .3 1 0 1 .8 1-.5 1-.7 1 0 1-.2 1 .5 1 .4 1-.3 1 .5 1 .4 1-.1 1 .4 1-.8 1 .6 1 .1 1 .5 1-1.4 1 .6 1-.5 1-.5 1-.6 1 .1 1-.1 1 .8 1 .5 1 .6 1-.5 1-.3 1-.3 1 1.2 1-.9 1 .9 1-.1 1 1.2 1 .3 1-.9 1 .1 1-.3 1-.2 1-.4 1 1.2 1-.3 1-1.1 1 1.1 1-1.2 1-.4 1 .4 1 .1 1-.1 1 .6 1-.5 1 .5 1 0 1-.3 1 .4 1 .6 1 .4 1-.8 1 .7 1 .6 1-.7 1-.4 1 .1 1-.5 1-.6 1-.2 1 .7 1-1.2 1 .9 1 .8 1-.5 1 1.3 1-1 1-.2 1 1.4 1-.1 1-1.3 1 .4 1 .4 1-1.2 1 .9 1-.3 1-.2 1 1 1-.5 1 .1 1-.8 1 .3 1 .6 1-.4 1 0 1 .1 1 .6 1-1.3 1 .2 1 .5 1 .7 1-.7 1 1.1 1 .2 1-1.7 1 1 1-.1 1-.3 1-.3 1 0 1 1.3 1-.6 1 .5 1 0 1-.3 1 .1 1-.4 1-.3 1-.1 1-.1 1-1.4 1-.3 1-.6 1 1.5 1-.4 1 .9 1 0 1 .6 1 .6 1 .1 1 .2 1-.6 1 .2 1 .7 1-.7 1-.2 1 1.2 1 0 1 .7 1 .4 1-1 1-.5 1 .3 1-.4 1 1.2 1 0" fill="none" stroke="#FE00CE" stroke-width="3.6" vector-effect="non-scaling-stroke" stroke-linejoin="round"/>
</g>
<path d="M1602.4 75.9 1611.6 66.7 1620.8 75.9 1611.6 85.1 1620.8 94.3 1611.6 103.5 1602.4 94.3 1593.2 103.5 1584.0 94.3 1593.2 85.1 1584.0 75.9 1593.2 66.7Z M1950.0 86.2 1959.2 77.0 1968.4 86.2 1959.2 95.4 1968.4 104.6 1959.2 113.8 1950.0 104.6 1940.8 113.8 1931.6 104.6 1940.8 95.4 1931.6 86.2 1940.8 77.0Z" fill="#FE00CE"/>
</g>
<g clip-path="url(#c10)">
<g transform="translate(84.00 0) scale(0.8700 1)">
<path d="M0 684l1-3.9 1-.5 1 0 1-.5 1-.5 1-.1 1-.5 1 .6 1-.8 1 .9 1 .1 1-.1 1 .5 1 0 1 .6 1-.5 1-.4 1 .2 1-.1 1 .4 1 .2 1-1.4 1 .8 1-.4 1 .8 1-.6 1 1.6 1-1 1-.3 1 .4 1-1.1 1 .7 1 .1 1-.4 1 .6 1-.3 1-.5 1 .4 1 .4 1 .5 1 0 1 .7 1-1.4 1 1.1 1 .2 1 .4 1-.5 1 0 1-.1 1 .3 1-.4 1 .3 1-.9 1-.3 1-1.4 1 1.4 1-.1 1 .8 1-.2 1 .1 1-.9 1 .7 1-.7 1-.4 1-.5 1 .5 1-.9 1 .5 1 .6 1-1.2 1 1 1-.7 1 .2 1-.6 1 .5 1-.2 1 .3 1 .7 1 .1 1 .4 1-.8 1 .5 1-.3 1 .5 1 .3 1-1.2 1-.4 1 .5 1-.1 1 .3 1-.4 1 .8 1-.5 1 .4 1-1 1 1.1 1-.7 1 .2 1 1.3 1-.2 1 .5 1-.9 1-1.1 1 .1 1-.5 1 1.3 1 .1 1-.5 1 1.7 1-1 1-.3 1 0 1-.2 1-.1 1 .9 1 .2 1-1 1 .5 1 .3 1 .2 1-.3 1 .2 1-1.1 1-.2 1 1 1-.8 1 .1 1-.6 1 .1 1 1 1-1 1-.4 1-1.1 1 .6 1 .3 1 .4 1 2 1-1.8 1 .7 1-.9 1-.3 1 .9 1 .2 1-1 1 .9 1-.2 1-.2 1-1.1 1 .8 1-1 1-.4 1 .4 1-.9 1-.1 1-.6 1-.9 1-.2 1-.1 1-1 1 .9 1 0 1-.8 1 .6 1-.7 1 .5 1-.3 1 .3 1 .7 1-.7 1-.3 1 .1 1 .1 1-.2 1 1.1 1-.3 1 0 1 .3 1-.5 1-1.1 1 .9 1-.3 1-.3 1 0 1 1.3 1-1.2 1 .9 1-.4 1 .1 1 1.2 1-.2 1-.3 1-.1 1 .2 1 .6 1-.5 1-.5 1-.1 1 .5 1-.2 1 0 1-1.4 1 .1 1-.3 1 .5 1-.2 1 .3 1 .1 1-.7 1 .7 1-1.3 1-.1 1 .6 1 .2 1 .9 1-.3 1 .4 1 .7 1-.1 1-.4 1-.7 1-1.3 1 0 1-.4 1-.9 1 1.5 1-.2 1 .4 1 .4 1 .1 1-.1 1-.6 1-.3 1-.7 1 2.1 1 .2 1 .3 1-.4 1 1 1-.9 1-1 1-.6 1 1 1-.7 1 .2 1-1.2 1 1.2 1-.9 1 .6 1-.7 1 .6 1-.2 1-1.5 1-.6 1 1.2 1 1.1 1-.3 1 1 1-.7 1 .8 1 .4 1 .8 1-1.3 1 0 1-.3 1-.7 1-1.1 1-.6 1-.4 1 .3 1-.3 1-.1 1 .8 1-2.1 1 1.4 1-.1 1-.9 1 2.2 1-.3 1-.7 1-1.2 1 .9 1-.9 1 1.4 1-.7 1-.9 1 1.3 1 .5 1 1.4 1-2.1 1 2.1 1-2.3 1 .7 1-.7 1-1.3 1 1.2 1-1.6 1-.6 1-.3 1 0 1 1.5 1 .5 1-1.6 1 1 1-.3 1 0 1-.5 1-.1 1-.1 1-.1 1 1.1 1 .5 1 .4 1 .5 1 .3 1-1.2 1 0 1 1.2 1-.3 1 0 1-.8 1 .2 1 .3 1-.3 1-.8 1 2.3 1-.7 1 .6 1 .3 1-1.7 1 1.6 1 1 1-.9 1 .1 1 .7 1 .5 1-1 1-.7 1-.7 1 1.4 1 0 1-.7 1-1.8 1 1.8 1-1 1-.9 1 .6 1 .4 1 1 1-.8 1-.4 1-.2 1 0 1-.6 1-.1 1-.3 1 .5 1 .4 1-.5 1 .8 1-.4 1-.8 1 1.7 1-1 1 1.3 1 .4 1-1.2 1 .8 1-.2 1 .7 1-.7 1-.1 1-.4 1-.6 1 1 1-.5 1-.3 1 .7 1 .9 1-.5 1 .1 1 .1 1 .3 1-.3 1-.9 1-.3 1 .5 1 .2 1-.9 1 1.6 1 .1 1 .2 1-.9 1 .6 1 0 1 .5 1-1 1 .1 1-1 1-.1 0 32.9 -1 .6 -1-.3 -1-.1 -1 1.3 -1-1.6 -1 .5 -1-1.8 -1 .2 -1 .7 -1-.6 -1-.4 -1 1.2 -1-.3 -1-.4 -1 2.2 -1-.5 -1 1.4 -1-1.7 -1 1.7 -1-.5 -1 .4 -1-.6 -1-1.3 -1 .4 -1-.4 -1-1.4 -1 1.1 -1-.7 -1-.4 -1-.4 -1-.5 -1 .4 -1-.7 -1 1.4 -1-.6 -1 0 -1 .5 -1-1.2 -1-.1 -1 1.1 -1-.9 -1-.6 -1 .4 -1-1.5 -1 .2 -1 .5 -1-.9 -1 .1 -1 .5 -1-1.7 -1 1.2 -1-.2 -1 1.7 -1-2 -1 1.5 -1-.5 -1-1.5 -1 1.1 -1 .4 -1 1.1 -1-.3 -1 .2 -1 .4 -1 .7 -1 .2 -1 1.1 -1-.5 -1 1.8 -1-1.6 -1-1.7 -1 .8 -1-.3 -1 .9 -1-.2 -1-1.5 -1 .7 -1-.4 -1 .5 -1 .4 -1 .9 -1 1.5 -1-1 -1-.5 -1 1 -1-1.3 -1 0 -1 .5 -1 .9 -1-1.3 -1 .8 -1-.4 -1-1 -1 .2 -1 .4 -1-2 -1 .7 -1-.9 -1 .5 -1-.4 -1 .3 -1-1.2 -1 2.2 -1 1 -1 1.1 -1-2 -1 .3 -1-.2 -1 1.8 -1 .7 -1-1.2 -1 .3 -1-.5 -1 1 -1-1.7 -1 .2 -1 .2 -1-.7 -1 2.2 -1-.8 -1 .6 -1 .1 -1-.6 -1-.9 -1-1 -1 .3 -1-.4 -1 1.1 -1 1.4 -1 0 -1-.6 -1 .6 -1 1 -1-.1 -1 .1 -1-.7 -1 .3 -1-.5 -1 1.4 -1-1 -1-.6 -1 0 -1-.6 -1 .1 -1-.4 -1-.6 -1 .1 -1 .9 -1 2 -1-.2 -1-1.3 -1 1.3 -1 .4 -1-.6 -1-.9 -1 1.2 -1 .8 -1 .5 -1-1.4 -1 1.2 -1 .4 -1 .8 -1-.1 -1-2 -1 .1 -1-.3 -1-.4 -1 .7 -1-2.1 -1 1 -1-.2 -1 .5 -1 .4 -1 .5 -1 1.3 -1-1.1 -1 .6 -1 2.2 -1-.9 -1 2.1 -1-.7 -1 .8 -1-1.8 -1-1.2 -1-.4 -1-.1 -1 .2 -1-1.4 -1 1.2 -1-.2 -1 .9 -1 0 -1 1.6 -1-.1 -1-1.4 -1-.4 -1-.6 -1 0 -1 .9 -1 .8 -1 1.1 -1 .6 -1-1.7 -1 0 -1 1.5 -1-.2 -1 .8 -1-.6 -1 .3 -1 .5 -1 .4 -1-1.5 -1 0 -1-.2 -1 .3 -1 .1 -1-.2 -1-1.5 -1 1.4 -1 0 -1-.2 -1 .2 -1-.8 -1-.1 -1-1.7 -1 .6 -1-.3 -1-.5 -1 .2 -1-1.4 -1-.4 -1 .4 -1 .2 -1-.8 -1 .1 -1-1 -1-.8 -1 .6 -1 1.1 -1 .5 -1-1.1 -1 1 -1-.3 -1 .2 -1 1.5 -1 .5 -1 0 -1 1.1 -1 0 -1 .7 -1 .4 -1-1.1 -1 1 -1-.9 -1 .2 -1 .2 -1 .3 -1-.2 -1-.2 -1 .4 -1 .3 -1 .4 -1 1 -1-2.9 -1 .8 -1-.5 -1-.8 -1 1.5 -1 0 -1 .5 -1-2.2 -1 2.2 -1-.9 -1 1.4 -1-1.2 -1 .4 -1-.2 -1 .6 -1 .8 -1-.2 -1 .3 -1-.8 -1 0 -1 1 -1-.6 -1-1 -1-1.3 -1 .6 -1-.8 -1 1.2 -1-.1 -1 .6 -1 .7 -1-1 -1 .2 -1 .6 -1-1.8 -1 .2 -1 1.8 -1-.9 -1 .3 -1 1.6 -1-.3 -1 0 -1-1.5 -1 1 -1 1.7 -1 .9 -1-.5 -1 1 -1 0 -1-.3 -1-.2 -1-.9 -1 .8 -1 .5 -1-1 -1 1.4 -1-1.2 -1 .1 -1 1.1 -1 .5 -1-.9 -1 .3 -1 .2 -1-.4 -1 .6 -1-.4 -1 .9 -1-1.8 -1 0 -1-.1 -1-.3 -1-.7 -1 .2 -1 1.3 -1-.6 -1 1.8 -1-1.8 -1 .6 -1-.1 -1 0 -1-1.1 -1 .9 -1-.6 -1 1.2 -1-.2 -1 1.7 -1-1.7 -1 .9 -1 .2 -1-1.3 -1 1.3 -1-.4 -1 .2 -1-.2 -1-2.3 -1 1.9 -1-1.7 -1 2 -1-.9 -1-.4 -1-.5 -1-.8 -1 0 -1 .1 -1 1.6 -1-2 -1-.5 -1 1.6 -1-1.2 -1 1.5 -1 .7 -1 .3 -1 .6 -1-.6 -1 .3 -1-1.5 -1 1.3 -1-1.6 -1-.2 -1 .1 -1 1.2 -1 .2 -1 .2 -1 .6 -1 1.3 -1-.2 -1 0 -1-.3 -1 1 -1-1.6 -1-1.4 -1-.8 -1 1 -1-.6 -1 .8 -1-.2 -1-.6 -1-26.5z" fill="rgba(253,50,22,0.25)"/>
<path d="M0 684l1 5.3 1-.4 1 .1 1-.6 1 .1 1 .1 1 .1 1 .3 1-.4 1 .7 1-.1 1-.4 1 .2 1-.2 1 .6 1-.4 1-.6 1 .6 1 0 1 .1 1 .5 1-1 1 .8 1-.6 1 .1 1-.3 1 .8 1-.5 1 .5 1-.1 1-.5 1 0 1 .4 1-.2 1-.6 1 .4 1-.4 1-.4 1 .5 1 .6 1-.3 1 .8 1-.9 1 .5 1 .1 1-.1 1-.1 1 .2 1 .3 1 .4 1-.5 1 .2 1-.7 1-.4 1-.7 1 1.1 1-.1 1 .3 1 .1 1 .4 1-.7 1 .6 1-.8 1 .2 1-1.2 1 .8 1-.2 1 .3 1-.1 1-.5 1 1 1-.1 1 0 1-.4 1 .2 1 0 1 .2 1 .6 1 .3 1-.1 1-.1 1 .1 1-.6 1 .8 1-.2 1-.7 1 .3 1 .1 1 .2 1 .1 1-.3 1 .9 1-.8 1-.4 1-1 1 .9 1-.2 1 .1 1 .6 1-.7 1 .6 1-1 1-.5 1 .4 1-.4 1 .5 1 .2 1-.2 1 1 1-.5 1 .3 1-.4 1-.4 1 .7 1 1.3 1 .1 1-.2 1-.1 1-.2 1 0 1-.8 1 0 1-.5 1-.1 1 .1 1-.4 1 .3 1-.2 1-.1 1 1 1-.9 1-.8 1-.9 1 0 1 .2 1 0 1 1.6 1-1.2 1 .1 1 0 1-.5 1 .8 1 0 1 .1 1 .2 1 .4 1-.1 1-.2 1 .3 1-.7 1-.6 1 0 1 0 1-.2 1 .2 1-.7 1-.2 1 .1 1-.7 1 .9 1-.2 1 .3 1 .2 1-.4 1 .2 1 .1 1 0 1-.1 1 .1 1-.2 1 .6 1-.3 1-.2 1 .7 1-.8 1 .3 1 0 1 .1 1-.2 1 0 1-.3 1 .1 1 .3 1 .8 1-1.2 1 .3 1-.3 1-.3 1 .7 1-.2 1 0 1-.2 1 .4 1 .2 1 0 1-.7 1-.1 1 .7 1-.1 1-.4 1-.3 1-1 1 .1 1 .3 1 .2 1 .4 1-.2 1-.2 1 .4 1-.4 1 .1 1-.1 1 .7 1 .2 1 .2 1-.2 1 0 1 .2 1-.3 1 .3 1 0 1 0 1-.5 1-.7 1 .6 1 .1 1 .3 1-.3 1-.2 1-.5 1-.2 1-.1 1-1 1 1 1-.4 1-.2 1 .5 1 .7 1-.2 1-.7 1-.2 1 .6 1-.3 1-.2 1-.7 1 .8 1 .1 1 .1 1-1.1 1 1.1 1-.4 1-.8 1-.1 1 .5 1 .8 1 .4 1-.4 1 0 1-.2 1 .3 1 .3 1-.9 1 .2 1-.2 1 0 1-.4 1-.4 1 .1 1 .1 1 .3 1 0 1-.4 1-.9 1 1 1-.1 1-.6 1 .9 1 .4 1-.2 1 .1 1 .8 1-1.5 1 .6 1-.2 1-.7 1 1.4 1-.5 1 .4 1-.4 1 .6 1-1.2 1-.2 1 .4 1-.6 1 1.3 1-.6 1-.6 1-.3 1-.1 1 .7 1 0 1-.8 1 1.1 1-.7 1 .8 1-.6 1 .1 1 .1 1 .2 1 .2 1-.2 1 .1 1 .1 1-.4 1 .4 1-.4 1 .5 1 .5 1-1 1-.6 1 .8 1 .1 1 0 1-.1 1 .7 1-.1 1-.7 1 .5 1-1 1 .8 1 .6 1-.8 1 .2 1-.5 1 .2 1 .2 1 .2 1 .3 1 .7 1-.1 1-.7 1-.1 1 .9 1-.1 1-1.2 1 .8 1-.3 1 .9 1-1 1 .1 1 .1 1 .3 1-.4 1-.7 1-.3 1 .2 1-.1 1 .2 1 .3 1 0 1-.4 1 1.1 1-.6 1 .9 1 .1 1-.9 1 .7 1-.9 1 .4 1-.6 1-.3 1 .6 1-.6 1 .3 1 0 1-.4 1 .8 1-.2 1 0 1 .2 1 .3 1 0 1-.1 1-.1 1-.7 1 .4 1 0 1-.7 1 .1 1 .1 1-.1 1-.2 1 1.1 1-.4 1 1.3 1-1.5 1 .6 1-.6 1 1.5 1 0" fill="none" stroke="#FD3216" stroke-width="3.6" vector-effect="non-scaling-stroke" stroke-linejoin="round"/>
</g>
<path d="M84.0 674.8 93.2 665.6 102.4 674.8 93.2 684.0 102.4 693.2 93.2 702.4 84.0 693.2 74.8 702.4 65.6 693.2 74.8 684.0 65.6 674.8 74.8 665.6Z M432.0 676.3 441.2 667.1 450.4 676.3 441.2 685.5 450.4 694.7 441.2 703.9 432.0 694.7 422.8 703.9 413.6 694.7 422.8 685.5 413.6 676.3 422.8 667.1Z" fill="#FD3216"/>
<g transform="translate(84.00 0) scale(0.8700 1)">
<path d="M0 683.3l1 4.1 1 .2 1 0 1 .6 1-.7 1 0 1 1.2 1-.7 1 .3 1 0 1-.7 1-.6 1 .7 1 0 1 1.1 1-1.2 1 .4 1-.6 1 .2 1 .3 1 .5 1 1.4 1 0 1-.6 1-.4 1-.1 1-.3 1 .9 1 0 1 .3 1-.6 1 1.1 1-.4 1 .1 1-1 1 .7 1 .1 1-.6 1 .4 1-.6 1 .6 1-.9 1 .2 1 1.1 1-.5 1 .5 1 .3 1-1.2 1 .2 1 .7 1 .2 1-.2 1 .2 1-.1 1 .9 1-1.8 1-.1 1 .8 1 0 1 .1 1-.8 1-.1 1-.6 1 .4 1 .2 1 .3 1-.5 1 .1 1 1.3 1 0 1-.6 1-.3 1 .1 1 .3 1 .2 1-1.1 1 .8 1-.7 1 .3 1 0 1 .8 1 .3 1-.6 1-.7 1 .2 1-.6 1-1.8 1 .8 1-.3 1 .1 1 .6 1-.8 1 .7 1 .2 1-.3 1 0 1-.4 1 .6 1-.7 1 1 1-.2 1-1 1-1.1 1 .5 1-.4 1-.5 1-.8 1 .3 1 .4 1-.8 1 .2 1-.2 1-1.1 1 .8 1-1 1 .5 1 .3 1 .7 1 .4 1-.2 1-.3 1-.7 1 0 1 0 1-1.2 1 .1 1 .1 1-.4 1 .7 1 .9 1-.2 1 .3 1 .6 1-.2 1 0 1-.4 1-.5 1 .3 1 .6 1-.1 1-.3 1 .4 1-.8 1-.4 1 .9 1-.3 1-.6 1 .5 1 .7 1 1.1 1-1 1 .1 1-.1 1 0 1-1.2 1 .7 1 .2 1-1.3 1 .5 1 .3 1-1.3 1 .9 1-.9 1 1.2 1-.6 1-.7 1 1 1 .4 1-.3 1 .9 1 .4 1-2 1 .7 1-.8 1 .6 1-.1 1 .6 1 .5 1 .3 1-.5 1 .5 1 .5 1-1 1-.5 1-.2 1 .4 1 0 1 .6 1-.5 1 .7 1-.3 1-1.6 1-.2 1 1 1 .7 1-.3 1-1.2 1 .1 1 .4 1 .6 1-1.2 1 .2 1 .3 1 0 1-.1 1 1.4 1-1.3 1 .6 1-.1 1 0 1 .2 1-.9 1 .9 1 .2 1 .2 1-.2 1-2.3 1 1.7 1 0 1-.8 1-.3 1-.6 1 .2 1 .4 1 1.2 1-1.6 1 .1 1-.3 1-.7 1 .6 1 1.4 1 .2 1-.5 1-.1 1 1.3 1 0 1-.4 1-.2 1 .6 1-.4 1 .5 1-.1 1-.6 1 0 1 .3 1-.3 1 0 1 0 1-.3 1-.4 1-.4 1-.2 1-1 1-.1 1-.1 1-.5 1 1.3 1-1.2 1-.5 1 1.3 1 .5 1-.5 1 0 1-.1 1-.8 1 .4 1 .9 1-.8 1 1.2 1-.8 1 .3 1 .8 1-.3 1 0 1-.3 1 .4 1-.6 1 1 1 .5 1-.1 1 .1 1 .4 1-.5 1 0 1 .8 1-.5 1-1.1 1 1 1-.4 1-.4 1 .9 1-.8 1-.3 1 .2 1-.1 1-.1 1 .1 1-.2 1-1.9 1 .9 1 1.2 1-.8 1 .2 1 .1 1-1.2 1 .7 1 .5 1-.5 1-.5 1 .7 1-.6 1-.2 1 .1 1 .4 1-.3 1-1.1 1 .7 1-.8 1 1.3 1-.7 1-.7 1 .8 1-.4 1-1 1 .1 1-.3 1 .5 1-.2 1 .4 1-.4 1 .1 1 .5 1-.5 1 .9 1-.8 1 .2 1-.2 1-.4 1-.2 1 .1 1 .3 1-.9 1 1.4 1-.7 1 .1 1-.2 1-.1 1 0 1 .3 1-.1 1-1.2 1 0 1 0 1 .3 1 .4 1 0 1-.1 1 1.4 1-.6 1-.4 1-.2 1-.5 1 .2 1 .3 1 .7 1-.1 1-.5 1-.8 1 1.3 1-.4 1-.5 1-.3 1 1 1-.9 1-.1 1 0 1 .1 1-.1 1-.1 1-.1 1-.2 1 .6 1-1.2 1-.5 1 .4 1-.5 1 1.5 1-.6 1-.3 1 .2 1 .1 1 .3 1-.2 1 1.2 1-1 1-.3 1 1.3 1-.7 1 .3 0 18.4 -1-.9 -1 1 -1-.6 -1-.4 -1 .5 -1 .5 -1-.4 -1 .7 -1-.2 -1 .6 -1 .1 -1 .5 -1-.7 -1 .1 -1-.7 -1-.1 -1 .8 -1-.6 -1-.1 -1 .7 -1-.3 -1 1.3 -1-.9 -1-.1 -1 .2 -1 .7 -1-.5 -1 .8 -1-.1 -1 .7 -1-1.1 -1 .9 -1 .4 -1 .3 -1-.6 -1 .4 -1 .1 -1-1.5 -1 .6 -1 .8 -1-.3 -1-.6 -1 .2 -1 .1 -1-.2 -1-.2 -1 .3 -1-.8 -1 .7 -1 .4 -1 0 -1-.3 -1 1.1 -1 .3 -1-.7 -1 .7 -1-1 -1 1.2 -1 .1 -1-.4 -1 .2 -1-.4 -1 .4 -1-1.5 -1 1.2 -1-.3 -1 .6 -1-.4 -1-.9 -1 .9 -1-.3 -1 .9 -1-.4 -1-.8 -1 0 -1-.1 -1 .3 -1-.6 -1 1 -1-.2 -1-1.4 -1 1.8 -1-.8 -1 1.1 -1-.3 -1 .1 -1 .8 -1-.1 -1 1.1 -1-1 -1 .1 -1 .2 -1-.8 -1 .6 -1 .3 -1 .2 -1 .3 -1 .2 -1-1 -1-.4 -1-.2 -1 .4 -1 0 -1-.2 -1 .3 -1-.5 -1-.5 -1 .9 -1 .1 -1 0 -1 .8 -1-1.4 -1 .2 -1 .8 -1-.7 -1 .5 -1 .4 -1-.8 -1 .2 -1-.9 -1 .3 -1-1 -1 1.1 -1-1.1 -1 .3 -1 .5 -1 0 -1-.5 -1-.2 -1 .6 -1-.9 -1 .9 -1-.9 -1 .2 -1 .6 -1 .5 -1-.1 -1 .2 -1 .4 -1-1.3 -1 1.1 -1 .1 -1-1.6 -1 .8 -1-.3 -1 1.1 -1 .4 -1 0 -1 .5 -1 .2 -1-.4 -1 1.3 -1 .1 -1-.1 -1-.9 -1 .9 -1-.4 -1 .5 -1-.4 -1 1.2 -1-1.2 -1 .6 -1 0 -1-.5 -1-.3 -1-.8 -1 .8 -1-1 -1-.5 -1 .1 -1 .9 -1-.3 -1 0 -1 .8 -1-.4 -1-.9 -1-.5 -1 1.1 -1 .1 -1 0 -1 0 -1-1.4 -1 1.3 -1 .1 -1 .4 -1-.5 -1-.9 -1 .8 -1 0 -1-.8 -1 .7 -1-.4 -1 .7 -1-.2 -1 .3 -1 0 -1-1 -1 .4 -1 .2 -1-.3 -1 .7 -1 .3 -1 .7 -1 .6 -1-1.1 -1-1.1 -1-.1 -1 1.1 -1 .1 -1 .7 -1-.1 -1-.4 -1 0 -1 .1 -1 0 -1 .3 -1 .8 -1-.3 -1-.5 -1-.2 -1-.1 -1 0 -1-.4 -1 0 -1 0 -1 .5 -1-.8 -1 1 -1-.8 -1-1 -1 .2 -1 .1 -1-1.4 -1 1.1 -1 .2 -1-.2 -1 1.1 -1-.7 -1 .3 -1-.2 -1 .1 -1 .3 -1 .1 -1-.8 -1 1.6 -1 0 -1 .4 -1-.4 -1 1.5 -1-1.4 -1-.2 -1-.3 -1 .2 -1 .2 -1-.7 -1 0 -1 .7 -1-.6 -1-.2 -1-.4 -1-1.3 -1 .6 -1-.3 -1 .2 -1 .3 -1-.1 -1 .2 -1 .5 -1 .7 -1-.7 -1-.8 -1 1.3 -1-.3 -1-.5 -1 1.1 -1 .3 -1 .1 -1 .3 -1-.5 -1 .4 -1 0 -1-.5 -1-.5 -1-.4 -1 1 -1 .1 -1 1.2 -1-.4 -1 .7 -1 .2 -1-.3 -1 .1 -1 .3 -1 .7 -1-.6 -1 .7 -1 1.4 -1 .9 -1-.9 -1-.7 -1 0 -1-1 -1-.3 -1-.1 -1 1.4 -1 .1 -1-.4 -1 .4 -1-.5 -1 .8 -1 .1 -1-1.1 -1 .9 -1 .8 -1-.1 -1 0 -1 .7 -1-1.1 -1 .6 -1 0 -1-.9 -1 .2 -1-.3 -1 1.1 -1-.9 -1 .9 -1-1.4 -1 .3 -1 1 -1-.4 -1-.2 -1 0 -1 0 -1 .4 -1-.3 -1-.3 -1 .7 -1-1 -1 .5 -1 .7 -1 .2 -1-.4 -1-.4 -1 .3 -1-.9 -1 .4 -1-.3 -1 .2 -1-.5 -1 .4 -1-.1 -1 1.5 -1 .4 -1-.7 -1 1 -1 .2 -1-.7 -1 .7 -1-.9 -1 .4 -1 .1 -1 .5 -1-.6 -1 .3 -1-.5 -1 .4 -1-.9 -1-1.3 -1 .6 -1-.5 -1 .4 -1-1.1 -1 .9 -1-.2 -1 .1 -1 .3 -1 .1 -1-1.3 -1 0 -1-.7 -1 0 -1 .6 -1 .6 -1 .8 -1-.9 -1 .2 -1 0 -1 .4 -1 .1 -1-.3 -1 0 -1 .3 -1-.3 -1 .8 -1 .5 -1-.1 -1-.5 -1-1.4 -1-22.5z" fill="rgba(0,254,53,0.25)"/>
<path d="M0 683.3l1 13.6 1 1 1-.4 1 .2 1-.6 1-.4 1 1 1-.4 1-.1 1-.1 1-.1 1-.8 1 .3 1-.1 1 1.1 1-.4 1-.4 1-.2 1-.1 1 .3 1 .2 1 1.1 1-.1 1 .1 1-.8 1 .2 1-.4 1 .5 1-.3 1 .1 1-.5 1 .7 1 .6 1 0 1 0 1 .3 1 .3 1-.3 1-.3 1-.2 1 .6 1-.7 1 .5 1 .1 1-.5 1 .7 1-.4 1-.7 1 .2 1-.1 1 .1 1-.2 1 .4 1-.7 1 .9 1-.6 1 .4 1 .5 1 .3 1-.5 1-.3 1 0 1-.7 1 .6 1-.2 1-.1 1 .1 1 .2 1 .7 1 .1 1-1.1 1 .2 1 .4 1-.3 1 .3 1-.9 1 .2 1-.1 1 .8 1-.2 1-.2 1 .6 1-.6 1-.6 1 .2 1-.2 1-1 1 .7 1-.3 1-.2 1 .4 1-.3 1 .3 1 .5 1-.2 1-.2 1-.1 1 1 1-.2 1 .2 1 .1 1-.4 1-1.3 1-.5 1-.1 1-.3 1-.5 1 .2 1 .2 1-.6 1-.1 1 0 1-1.3 1 .2 1-1 1 .4 1 .5 1-.2 1 .3 1 .2 1 .3 1-.2 1-.3 1-.1 1-1.2 1 .4 1 .2 1-.9 1 1.1 1 .6 1-.7 1-.3 1 .4 1-.2 1-.1 1-.2 1 0 1 .1 1 .8 1-.5 1 .4 1 0 1-.1 1-.4 1 .4 1 0 1-.2 1 .5 1 .4 1 .8 1-.7 1 .4 1-.4 1 0 1-.7 1 .7 1-.1 1-.5 1 .5 1-.2 1-.7 1 .6 1-1 1 .2 1-.7 1-.3 1 1.2 1 0 1 0 1 .5 1 .6 1-1.1 1 .5 1-.4 1 .2 1-.1 1 .3 1 0 1 .3 1-.4 1 .7 1 .2 1-.4 1-.3 1 .1 1 .1 1-.3 1 .3 1-.2 1 0 1-.2 1-.9 1-.1 1 .7 1 .3 1-.2 1-1 1 .1 1-.2 1 .5 1 .2 1-.4 1 .3 1 .3 1-1 1 1 1-.8 1 .4 1-.3 1-.1 1 .6 1-.8 1 .7 1 .1 1 .3 1-.3 1-1 1 1.1 1-.3 1-.6 1-.1 1-.6 1 .4 1 .3 1 .7 1-1.3 1 .3 1 .4 1-.6 1 .2 1 .8 1 0 1-.5 1 0 1 1.2 1-.1 1 .1 1-.8 1 1 1-.9 1 .2 1 .1 1-.1 1 0 1 .3 1-.1 1 .3 1-.4 1 .2 1-.6 1-.5 1-.3 1-.2 1-.4 1 .2 1-.3 1 1.4 1-.8 1-1.2 1 1.2 1 .2 1-.3 1-.2 1-.4 1-.7 1-.1 1 1 1-.6 1 .5 1-.3 1 .3 1 .7 1 0 1-.4 1-.1 1 .3 1-.6 1 1 1-.1 1 .5 1 .2 1 .2 1-.1 1-.7 1 .8 1-.5 1-.1 1 .8 1-.8 1 0 1-.1 1-.6 1 .4 1 .3 1-.5 1 .1 1 .1 1-.1 1-.8 1 .6 1 .9 1 0 1-.3 1 .1 1-.8 1 .3 1 .4 1 0 1-.3 1 .8 1-.3 1 0 1-.4 1-.1 1 .3 1-.5 1 .5 1-.8 1 .7 1-.2 1-.8 1 .4 1-.5 1-.5 1 .1 1 .2 1 .3 1-1 1 .2 1-.4 1 .5 1 .7 1-.8 1 .8 1-.6 1 .3 1-.2 1 0 1-.1 1-.1 1 .1 1-.7 1 .9 1-.7 1 .7 1-.3 1-.2 1 .3 1-.1 1-.4 1-.8 1 .3 1 .3 1 .3 1-.1 1-.1 1-.2 1 .7 1-.5 1-.5 1 .1 1 .6 1 0 1-.1 1 .4 1 0 1-.6 1-.8 1 1.1 1-.3 1-.4 1-.2 1 .6 1-.4 1 0 1-.2 1 .9 1-.3 1-.2 1 .1 1-.4 1 .8 1-1 1 0 1 .7 1-.6 1 .4 1-.4 1 0 1 .2 1 .1 1-.7 1-.5 1 .5 1-.5 1-.1 1 1.2 1-.7 1-1.4 1 0" fill="none" stroke="#00FE35" stroke-width="3.6" vector-effect="non-scaling-stroke" stroke-linejoin="round"/>
</g>
<path d="M84.0 674.1 93.2 664.9 102.4 674.1 93.2 683.3 102.4 692.5 93.2 701.7 84.0 692.5 74.8 701.7 65.6 692.5 74.8 683.3 65.6 674.1 74.8 664.9Z M432.0 677.7 441.2 668.5 450.4 677.7 441.2 686.9 450.4 696.1 441.2 705.3 432.0 696.1 422.8 705.3 413.6 696.1 422.8 686.9 413.6 677.7 422.8 668.5Z" fill="#00FE35"/>
<g transform="translate(84.00 0) scale(0.8700 1)">
<path d="M0 684.7l1-.4 1-.2 1-.1 1-.1 1-.3 1 0 1-.1 1 0 1 .3 1 .6 1 .1 1 .3 1-.3 1 .1 1 .8 1 0 1-.6 1-.4 1-.8 1-.2 1-1.2 1 .4 1 0 1 .3 1 .4 1 .7 1-.9 1 0 1-.5 1 .5 1 1.4 1-.8 1 .6 1-.4 1 .1 1-.5 1-.1 1 .2 1-.5 1 .5 1 .1 1 .3 1-.3 1 .6 1-.6 1 0 1 .3 1 .4 1 .1 1-.1 1-.9 1-.1 1 1.2 1-.9 1 .7 1-.3 1 .5 1 .2 1-.4 1 .4 1-.3 1 1.4 1-.5 1-.8 1 0 1-.8 1 .6 1-.1 1 .1 1-.9 1-.4 1 .6 1-.9 1 .5 1-1 1 .5 1-.7 1 .1 1-.5 1-.5 1 1.3 1-1.2 1 1.2 1 .2 1-.1 1 .1 1 .3 1-1.5 1 1 1 .2 1 1.1 1-1.3 1 .7 1 0 1-.1 1 .4 1-.5 1-.8 1-.9 1 1.4 1 0 1-.5 1 1.1 1-.3 1-.1 1 .4 1-.6 1 1.2 1-.6 1 .2 1-.3 1-.7 1-.1 1 .2 1-1 1 .5 1 .4 1 .5 1 0 1 .9 1-.4 1-1 1 .4 1-.3 1 0 1 .8 1-.1 1-.1 1-1 1 .7 1-.6 1 .9 1-.7 1 .1 1-.1 1-1.3 1 0 1 .7 1 .2 1-1.1 1 .6 1 .1 1 .3 1 .3 1 .6 1-.1 1 .5 1-.2 1-.5 1 .4 1 1.1 1-1.3 1-.1 1-.4 1 0 1 1.1 1-1 1-.2 1-.1 1 0 1 .7 1 .6 1-1.5 1-.1 1 0 1 .5 1-.2 1 .6 1 0 1-.1 1 1 1-1.6 1 .5 1-.2 1 1.2 1 .1 1 0 1-.3 1 .2 1-.9 1 .7 1-.8 1-.6 1 .1 1 .4 1-1.1 1 .3 1 0 1 .4 1-.3 1 .8 1-.5 1 .5 1 .1 1 .2 1 .6 1-.5 1 .7 1-.3 1 .8 1-1 1 1.1 1-.4 1-.7 1-.2 1 .6 1-.4 1-.9 1 1.3 1-.1 1-.1 1-.6 1-.7 1-.2 1 0 1-.2 1 .9 1-.6 1 .3 1-.3 1-.3 1-.7 1-.2 1-.8 1 .1 1 .2 1 0 1-.4 1 .1 1 .5 1-.4 1 .3 1 .8 1-1.4 1 .5 1-.1 1 .1 1-.3 1 .3 1-.5 1-.3 1 .1 1 .3 1-.5 1 .7 1 .3 1-.2 1-.5 1 .8 1-1.3 1 .5 1-.3 1 1.2 1-.4 1 .4 1 .8 1 .1 1-.3 1 0 1-1.5 1 1.1 1-.1 1 .6 1-.6 1-.7 1-.5 1 .7 1 .2 1 .5 1-.7 1 .1 1 .2 1-.2 1-.5 1-.1 1-.5 1-.8 1 1.4 1 .3 1-.2 1 .9 1 .8 1-.8 1 .9 1-.9 1-.6 1 .4 1 .2 1-.3 1-.3 1 .5 1-.4 1 .5 1-.4 1-.4 1 .5 1 1.7 1-.8 1 .1 1-.4 1 .2 1-.3 1-.2 1-.5 1-.1 1 0 1 .1 1 .2 1-.5 1 .7 1-.9 1 0 1 .8 1 .2 1 .3 1-.8 1 .9 1-.7 1 0 1-.2 1-.3 1 .9 1-.9 1 .2 1-.3 1 .5 1-.3 1 0 1-.1 1 0 1 .3 1-.3 1 .1 1-1.6 1 .4 1 1.4 1-1.2 1-.3 1-.1 1-.4 1-.1 1 0 1 .8 1 .2 1-1.1 1 .5 1-.4 1 .4 1-.5 1 1 1-.7 1 .6 1 .9 1 0 1-1.2 1-.1 1 .3 1-.7 1 .8 1 .3 1 .3 1-1.1 1 1.5 1-.2 1 .4 1 .3 1-.6 1 .6 1-.1 1 .3 1 .6 1 0 1-.9 1 .1 1-1.3 1 1.8 1-.9 1 .1 1 .1 1-.5 1 .5 1-.4 1 0 1 .6 1-.7 1 .1 1-.3 1 .1 1-.4 1 0 1-.6 1 .4 1 .1 1-.8 1 .2 1 .2 1-.1 1 1 1-.9 0 15.4 -1 .4 -1-.1 -1 .1 -1-.6 -1 .1 -1 1.3 -1-.1 -1-.4 -1-.2 -1 .4 -1 .1 -1-.2 -1-.3 -1-.3 -1 .9 -1-.3 -1 0 -1 .2 -1 0 -1 0 -1-.4 -1 .2 -1 .9 -1-2 -1 .9 -1 .3 -1 .9 -1 .2 -1 0 -1 .4 -1-.4 -1-.9 -1 .1 -1 .5 -1-.4 -1-.1 -1-1.4 -1 1.3 -1-.8 -1-.4 -1-.6 -1 .6 -1 .2 -1 .4 -1 .2 -1-.1 -1-.6 -1-.1 -1 .7 -1-1.1 -1 .5 -1-.5 -1 .8 -1-.1 -1 .9 -1-.5 -1-1 -1 .6 -1 0 -1-.2 -1 .2 -1 .2 -1 .6 -1-.9 -1-.7 -1 1.2 -1-.1 -1 .8 -1-.6 -1-1 -1-.2 -1-.1 -1 .2 -1-.5 -1 .4 -1 0 -1 .4 -1-.4 -1 .1 -1-.1 -1 .3 -1 .3 -1-.5 -1 0 -1-.1 -1-.4 -1-.4 -1 .3 -1 .8 -1-.5 -1 .1 -1 .2 -1-.1 -1 .2 -1 .5 -1-.3 -1 .5 -1 .3 -1 .2 -1-.6 -1 .3 -1 1 -1-1.7 -1-.1 -1 .4 -1 .5 -1-.3 -1 .1 -1-.1 -1 .3 -1-.3 -1-.3 -1 .4 -1 .3 -1 .2 -1-.6 -1 1.1 -1 .1 -1-.4 -1-.2 -1-.1 -1-.9 -1 .5 -1 .6 -1-.6 -1 .7 -1-.6 -1 .2 -1-.4 -1 .6 -1-.4 -1-.4 -1 .5 -1 .7 -1-.2 -1 0 -1 .2 -1 .4 -1-1.1 -1 1.9 -1-.4 -1 0 -1 .4 -1-1 -1 .2 -1 .6 -1-1.4 -1 .5 -1-1.3 -1 1.9 -1-1.4 -1 1.7 -1-.3 -1-.9 -1-.4 -1 .3 -1-.5 -1 .4 -1 .2 -1-.4 -1-.7 -1 0 -1 .2 -1 .8 -1-.7 -1 1 -1-.3 -1-.6 -1 .6 -1-.4 -1-.2 -1 .7 -1-.1 -1 .2 -1-.1 -1 .5 -1 .3 -1 .1 -1 .6 -1-.5 -1-.3 -1 .2 -1-.7 -1 .4 -1-.2 -1 .4 -1 1.2 -1 .2 -1 0 -1-.1 -1-.8 -1 1.2 -1 .1 -1-1 -1-.3 -1 .5 -1 .6 -1-.4 -1 .7 -1-.5 -1-.5 -1-.4 -1 .5 -1-.5 -1 .1 -1-.2 -1-1 -1 .9 -1-.3 -1 .2 -1 .8 -1-.7 -1 .5 -1 .4 -1-.1 -1-.2 -1 .3 -1 .4 -1-.1 -1-.1 -1 .2 -1 .5 -1-.4 -1 0 -1-.3 -1-.7 -1-.6 -1 1.1 -1-1.1 -1 .2 -1 .9 -1-.5 -1 1 -1-1.3 -1-.2 -1-.6 -1 1.6 -1-.6 -1-.6 -1 .5 -1-.2 -1-.4 -1 1.2 -1-1.5 -1 .5 -1 .5 -1-.2 -1 .7 -1-.5 -1-.4 -1 0 -1 0 -1-.7 -1-.2 -1-.1 -1-.2 -1-.4 -1 .4 -1-1.2 -1 1.4 -1 .2 -1 0 -1 .2 -1 1.7 -1 .2 -1-.1 -1 .7 -1-.8 -1 1.3 -1-.5 -1 .2 -1 .3 -1-.4 -1-.6 -1 .2 -1 .3 -1-.7 -1 .4 -1 .5 -1-.8 -1-.2 -1 .1 -1 .1 -1-.2 -1 .2 -1 .1 -1 .2 -1 1.2 -1-.2 -1-.3 -1 .2 -1-1 -1 .4 -1 .3 -1 0 -1 .6 -1-.7 -1 .6 -1 .1 -1-1.1 -1 1.1 -1 .2 -1-.3 -1-1.1 -1 .8 -1 .2 -1-.9 -1 1.3 -1-.5 -1 .3 -1-.6 -1 .9 -1 .4 -1 0 -1-.2 -1 .1 -1-1.5 -1 .5 -1-1.1 -1 .5 -1 .5 -1-.8 -1 .2 -1 .2 -1 .4 -1-.7 -1 .7 -1-.9 -1 .4 -1 1 -1-.3 -1 .4 -1-1.1 -1 1.2 -1-.3 -1 .6 -1 .3 -1-.3 -1-.2 -1-.2 -1-.1 -1 .9 -1-.6 -1-.1 -1-.8 -1 1.1 -1-1.7 -1 .4 -1 .1 -1 .6 -1-.7 -1 0 -1-.1 -1 .7 -1 .8 -1-.2 -1 1 -1-1.1 -1 .1 -1-.7 -1 0 -1 0 -1-.2 -1 .4 -1 .2 -1 .6 -1 .3 -1 .1 -1-1.7 -1 .3 -1 0 -1-.2 -1 1 -1-.6 -1-.5 -1-.1 -1-.5 -1-1.5 -1 1 -1 .9 -1 .9 -1 .4 -1 0 -1 .3 -1-.7 -1 .4 -1-.3 -1 .1 -1 .1 -1-.6 -1-.2 -1-.4 -1 .1 -1 .2 -1 .3 -1 .2 -1 .7 -1-.2 -1-14.9z" fill="rgba(106,118,252,0.25)"/>
<path d="M0 684.7l1 6.6 1 .3 1-.2 1-.3 1-.2 1 .1 1 0 1 .6 1 .4 1 .4 1-.2 1 0 1 .1 1 .1 1 .6 1-.1 1-.3 1-.5 1-1 1-.1 1-1 1 .6 1 .3 1 .3 1 .4 1 .5 1-.7 1 .1 1-.3 1-.2 1 1.4 1-.5 1 0 1-.4 1 .2 1-.6 1 .2 1 .3 1-.3 1 .8 1-.4 1 .3 1-.4 1 .3 1-.5 1 0 1 .3 1-.2 1 .2 1 0 1-.6 1-.1 1 1 1-1 1 .8 1-.1 1 .3 1-.2 1-.2 1 0 1 0 1 .8 1-.4 1-.6 1 .5 1-.9 1 1 1-.6 1 .5 1-1 1-.1 1 .6 1-.3 1 .4 1-.7 1 0 1-.1 1 .1 1-.5 1-.1 1 1.2 1-.9 1 .6 1 .4 1 .3 1 .1 1-.1 1-1.1 1 .7 1 0 1 .5 1-1.3 1 1 1 .1 1-.3 1 .5 1-.2 1-.3 1-1 1 .9 1 0 1-.6 1 .6 1-.2 1-.4 1 0 1-.6 1 1.4 1-.6 1 .5 1-.1 1-.6 1-.3 1 .2 1-.6 1-.2 1 .2 1 .3 1-.1 1 .8 1 0 1-.6 1 .7 1-.1 1-.8 1 .8 1 .2 1-.2 1-.5 1 .3 1-.7 1 .8 1-.7 1 0 1-.1 1-1 1-.2 1 .5 1-.5 1-1 1 .7 1 .2 1 .4 1 .2 1-.1 1 0 1 .4 1-.4 1-.2 1 .3 1 1 1-1 1-.2 1-.3 1-.1 1 .7 1-.6 1 .1 1-.1 1-.3 1 .6 1 .5 1-1.2 1 .1 1 .1 1 1.1 1-.5 1 .6 1-.3 1-.2 1 1.2 1-1.2 1 .2 1 .3 1 .5 1 .2 1 .2 1-.3 1-.1 1-.2 1 .2 1-.1 1-.5 1 0 1 .1 1-.2 1-.4 1 0 1-.6 1-.5 1 .4 1-.3 1 .8 1 .1 1-.4 1 .4 1-.5 1 .5 1 0 1 .6 1-.2 1 .2 1-.4 1-.7 1 0 1 1.1 1-.2 1-1 1 1.1 1-.2 1 .3 1-.3 1-.7 1-.2 1-.1 1-.2 1 .8 1-.6 1 .6 1-.1 1 0 1-.5 1 0 1-.5 1 .2 1 .1 1 .1 1-.8 1 .3 1 .3 1-.4 1 .5 1 .5 1-1.4 1 .7 1-.4 1 0 1 0 1 .3 1 0 1-.6 1 .1 1 .3 1-.3 1 .6 1 .2 1 .2 1-1 1 .8 1-1.2 1 .5 1-.2 1 1 1-.7 1 .3 1 .8 1-.1 1 .2 1 .4 1-1.6 1 1.2 1-.3 1 .3 1-.1 1-.5 1-.6 1 .2 1 0 1 .3 1-.4 1 0 1 0 1 .1 1-.3 1 .3 1-.5 1-.5 1 1 1 0 1 .2 1 .4 1 .4 1-.8 1 1 1-.7 1-.5 1 .2 1 .2 1 .1 1-.3 1 .2 1-.6 1 0 1-.2 1-.6 1 .4 1 1.5 1-.8 1-.2 1 .3 1 0 1-.5 1-.3 1 .4 1-.1 1-.3 1-.3 1 .4 1-.5 1 .4 1-.5 1-.5 1 .7 1 .1 1 .5 1-.4 1 .9 1-.6 1-.1 1-.2 1-.1 1 .8 1-.8 1 0 1-.4 1 .5 1 .2 1-.3 1 .4 1 .4 1 .3 1-.2 1-.2 1-1.4 1 .6 1 .9 1-1 1-.5 1 .1 1 .4 1-.2 1-.4 1 .4 1 .6 1-1 1 .7 1-.5 1 .4 1-1 1 .8 1-.6 1 .4 1 .4 1 .3 1-.8 1-.2 1 .4 1-.7 1 .4 1 .6 1 .3 1-1.1 1 1.1 1-.5 1 .1 1-.2 1 0 1 .4 1-.2 1 .5 1 0 1-.1 1-.6 1-.1 1-1.2 1 2 1-.8 1 .1 1 .4 1-.3 1 .3 1-.3 1-.1 1 .6 1-1 1 .8 1-.4 1 .3 1 0 1-.6 1 0 1 .5 1-.1 1-.9 1 .2 1 .4 1 0 1 .6 1-3.4 1 0" fill="none" stroke="#6A76FC" stroke-width="3.6" vector-effect="non-scaling-stroke" stroke-linejoin="round"/>
</g>
<path d="M84.0 675.5 93.2 666.3 102.4 675.5 93.2 684.7 102.4 693.9 93.2 703.1 84.0 693.9 74.8 703.1 65.6 693.9 74.8 684.7 65.6 675.5 74.8 666.3Z M432.0 674.4 441.2 665.2 450.4 674.4 441.2 683.6 450.4 692.8 441.2 702.0 432.0 692.8 422.8 702.0 413.6 692.8 422.8 683.6 413.6 674.4 422.8 665.2Z" fill="#6A76FC"/>
<g transform="translate(84.00 0) scale(0.8700 1)">
<path d="M0 684.7l1-4 1 .6 1-.3 1 1 1-.3 1 .6 1-.1 1 .2 1-.5 1-.3 1-.6 1-.2 1-.1 1 .1 1-.1 1-.1 1-.3 1-.5 1 .7 1-.4 1-1.2 1 .3 1 .2 1 .5 1 .2 1-.7 1 .1 1 .4 1-1 1 .6 1 .2 1 .3 1 1.1 1-.9 1-.5 1 .6 1 1.2 1-.2 1-1.3 1 1.7 1-1.2 1 .2 1-.3 1-.7 1 1.4 1-.7 1-.1 1 .6 1 0 1-.3 1 .1 1-1.5 1-.7 1 .6 1 .2 1 .2 1 .3 1 1 1-1.3 1 .9 1 .3 1-.4 1 1 1-.4 1-1 1-.8 1 .8 1 .8 1-1.1 1 1.3 1-.9 1-.3 1 0 1-.1 1-.6 1-.3 1 .8 1 .5 1-.2 1-.6 1 .6 1-.2 1-.4 1-.9 1-.5 1 .6 1 .5 1 0 1 .6 1 .3 1 .6 1 .7 1-1 1 .8 1-.5 1 .7 1-.9 1-1.2 1 .4 1 1.3 1-.4 1-.6 1 .5 1 0 1 .4 1-1.2 1 0 1 1.3 1 .6 1-.6 1 .5 1 0 1 .6 1-1 1 .5 1-.6 1-1.6 1 1.4 1-.8 1-.2 1 2.3 1 0 1 1.2 1-.3 1 1.2 1-1.5 1-1.4 1-.9 1-1.1 1-.1 1 .3 1 .6 1-.6 1-.4 1 2.6 1 .4 1-.4 1-.8 1-.2 1 .5 1-.3 1 .8 1-.4 1 .2 1 .7 1-.6 1 0 1-.9 1 .6 1-.3 1-1 1-.1 1 .4 1-.2 1 .1 1-.3 1 0 1 .8 1-.8 1 .5 1 .5 1-.7 1-.3 1 .7 1 .1 1 .3 1 1 1-.4 1-.3 1 .6 1 .2 1 .1 1-.9 1 .1 1 .3 1-1.4 1 .5 1-1.2 1 1.6 1-1.9 1-.3 1 .7 1 1.4 1-1.6 1 .5 1-.4 1-.1 1-.2 1-.2 1-.2 1 .9 1-2.1 1-.4 1-1.3 1 1.7 1-1 1-.3 1-.5 1-.1 1 .2 1-.8 1 1.2 1-1.3 1 1.3 1 1.9 1 .6 1-.7 1-2 1 .9 1-1.1 1 1.2 1-.3 1 2.8 1-2.1 1 1.6 1 .3 1-1.5 1-.4 1 .4 1-1.6 1 .2 1-.6 1 .2 1-.7 1-.5 1 1.4 1 .6 1-1.1 1-.6 1 1.4 1-.2 1 1.5 1-1.3 1 0 1-.9 1-.1 1-.6 1-.4 1 .8 1 .1 1 .1 1-1.2 1 .3 1-.4 1 0 1-.1 1 .3 1-.4 1 1 1-.8 1 .6 1 .5 1-.4 1 1.8 1 .2 1-1.3 1 1 1-1.4 1 .1 1-.6 1-.9 1 1.3 1-1 1-.1 1 2 1-1.7 1-.4 1-.2 1 .6 1-.5 1-.7 1 1.5 1 1.2 1-.3 1-.1 1-.5 1-1.4 1 1 1 .2 1 .2 1 .1 1-1 1 1.5 1-1.3 1 .1 1 .7 1 0 1 0 1-.4 1-1.5 1 .5 1 .4 1-.2 1-.9 1 .8 1-.9 1 .6 1-.5 1-1.3 1 2 1 .8 1-.4 1 .1 1 .1 1 .4 1 2.3 1-1.6 1 .8 1-.8 1 .2 1 .5 1-2 1 1.1 1-.2 1 .3 1-.9 1-.4 1 2.2 1 .4 1-.9 1 .6 1-.1 1 0 1-.3 1-.6 1-.4 1 .2 1 0 1 .3 1 1.1 1 1 1 .2 1-.5 1-.4 1-.8 1-.5 1-1 1-.4 1 1.2 1 1.2 1-1.9 1 0 1 .5 1-2 1 1.1 1-1.7 1 1.2 1 1.1 1 .4 1 1 1-.4 1-.5 1 1.5 1-.6 1 .1 1-.6 1 .3 1-.9 1 .4 1-2.2 1-.4 1 1.7 1 .6 1 .3 1-.6 1 .8 1 0 1 .4 1 .6 1 .4 1-.6 1-1.1 1-1.5 1-.6 1-.4 1 .8 1 1.8 1-1.6 1 .4 1-.4 1-.5 1-.1 1 1.1 1-.3 1-.5 1 .6 1 .1 1-1.8 1 1 1-.1 1 2.4 1-2.2 1 1.2 1 0 1-.7 1 .1 1-.8 1 1.5 1-.5 0 25.6 -1 1.2 -1-.5 -1-1.4 -1 .5 -1 1 -1 .1 -1-.5 -1 1 -1-.9 -1-.5 -1 .5 -1 .4 -1-.6 -1 .3 -1-.5 -1 .9 -1 .1 -1-.7 -1 .8 -1 .2 -1-.5 -1 1.1 -1-.8 -1 1.1 -1-.6 -1 .6 -1 1 -1-1 -1 .8 -1-.8 -1 .1 -1-1.1 -1 .6 -1-.5 -1-.1 -1 .6 -1-.2 -1-1.5 -1 .2 -1 .3 -1-.6 -1 .1 -1 0 -1 .2 -1-.5 -1 .5 -1 .2 -1-.1 -1 1.2 -1 0 -1-.6 -1-.6 -1-.1 -1 .3 -1-.4 -1 .2 -1-.2 -1 .5 -1 .4 -1-.7 -1-.7 -1-.7 -1 1.1 -1 .6 -1-.5 -1 .6 -1 .5 -1 .2 -1-.5 -1-.1 -1-.4 -1 .3 -1-.6 -1 .1 -1 .6 -1-.3 -1 .4 -1-.6 -1 .3 -1 .9 -1 0 -1 0 -1-.3 -1 .5 -1 0 -1-.8 -1 .5 -1 .7 -1 .4 -1-.4 -1-.1 -1-.8 -1 .9 -1-1.4 -1 .9 -1-1.1 -1 1.3 -1-.3 -1-.3 -1-.3 -1 .1 -1 1.1 -1-1.2 -1 .3 -1 .6 -1 .1 -1-1 -1-.8 -1 .6 -1-.1 -1 .8 -1-.6 -1 1.5 -1-.9 -1 .7 -1 .3 -1-.1 -1-.2 -1-.8 -1 .7 -1-.3 -1-.6 -1 1 -1 .3 -1-1.3 -1 .6 -1-.7 -1-.7 -1 1.2 -1 .5 -1-1.1 -1 .1 -1-.1 -1 .1 -1-.1 -1-.7 -1 .5 -1-.7 -1 0 -1 .6 -1 .7 -1 .2 -1-.1 -1 .4 -1-.5 -1-.1 -1-.3 -1-.1 -1-1.1 -1 1.1 -1-1 -1 .2 -1-.2 -1 1.5 -1-1.3 -1 .5 -1 .1 -1 .3 -1 .3 -1 0 -1-.9 -1 .1 -1 0 -1 .8 -1 .3 -1 .3 -1 1.2 -1-1.8 -1 1.1 -1-.8 -1-.1 -1 .8 -1-.2 -1-.1 -1 .4 -1 .2 -1-.5 -1 1.3 -1-.5 -1 .6 -1-.1 -1-.7 -1-.3 -1 .2 -1-.1 -1 1.1 -1-1.1 -1-.5 -1 .7 -1 .2 -1 .4 -1 .7 -1-1.3 -1 .6 -1-.4 -1-1.5 -1 .5 -1 .7 -1-.9 -1 0 -1-1.4 -1 .6 -1 .5 -1 .8 -1-.3 -1 .3 -1 .4 -1 .1 -1-.1 -1 .2 -1-.2 -1 .1 -1-.2 -1 .2 -1-.1 -1 1.4 -1-1.4 -1 0 -1 .3 -1-.8 -1 0 -1 .9 -1-.1 -1 .2 -1 0 -1-.2 -1 1.3 -1 .3 -1-.2 -1-.2 -1 .9 -1-.5 -1 0 -1-.7 -1 .5 -1-.8 -1 1 -1 .4 -1-.2 -1-.2 -1-.1 -1 0 -1-.9 -1 .1 -1-.9 -1 .7 -1-1.3 -1-.2 -1 1.3 -1 .1 -1-.8 -1 0 -1 .5 -1 .3 -1-.6 -1 .5 -1-.3 -1-.4 -1 .6 -1-.8 -1 .6 -1 .3 -1 .5 -1 0 -1-1.5 -1 .6 -1 .9 -1-1.1 -1-.5 -1 .4 -1 .4 -1 .4 -1 .8 -1 .3 -1 .2 -1 0 -1-1.3 -1 .1 -1-.7 -1-.2 -1 .7 -1-1.1 -1 .7 -1 0 -1-.5 -1 .8 -1-.4 -1 0 -1-.5 -1 .3 -1-.4 -1-.2 -1-1 -1 .6 -1 .5 -1-.7 -1 0 -1 .5 -1-.5 -1-.4 -1-.1 -1-.5 -1 .6 -1-.4 -1 .5 -1-.2 -1 .1 -1 .6 -1 .1 -1-.2 -1 .2 -1 .4 -1-.2 -1-.2 -1 .2 -1 .4 -1-.5 -1 0 -1 0 -1-.5 -1 .3 -1-.3 -1-.7 -1 .2 -1-.4 -1 .5 -1-1.3 -1 .8 -1 .7 -1-1.1 -1 1.2 -1 0 -1-.2 -1 .1 -1 .9 -1 .2 -1-.6 -1 .7 -1 .7 -1-1.1 -1 .8 -1-1.6 -1 1 -1 .3 -1-.8 -1-.2 -1 .2 -1 .9 -1-.2 -1-.3 -1-.3 -1-.4 -1-.4 -1 .6 -1-.8 -1 1 -1-.6 -1-.5 -1 1.4 -1-1.5 -1 .3 -1 .5 -1-1.1 -1 .6 -1 .6 -1 .5 -1-1.3 -1 .3 -1 0 -1 0 -1 1 -1-.3 -1-.1 -1 .7 -1-.7 -1-.4 -1 .3 -1-.2 -1-.3 -1 1.7 -1 0 -1-.2 -1-.4 -1 .2 -1 .3 -1-.1 -1 .1 -1-.5 -1 .5 -1 0 -1 .3 -1 .1 -1 .6 -1 0 -1-.2 -1-.7 -1 .3 -1-.3 -1-17.7z" fill="rgba(254,0,206,0.25)"/>
<path d="M0 684.7l1 9.5 1-.2 1-.5 1 .6 1 .1 1 .3 1-.3 1 .1 1 .2 1-.1 1-.6 1 .4 1-.1 1-.3 1-.2 1 .2 1 .6 1 .1 1 .1 1-1.2 1 0 1 .6 1 .2 1 .1 1 .2 1-.4 1-.1 1 0 1-.9 1 .1 1-.1 1-.3 1 1 1-.2 1-.6 1-.2 1 1 1-.2 1-.3 1 1.4 1-1.4 1 .6 1 .1 1-.5 1 .6 1-.4 1 0 1 .7 1 .1 1 .2 1 .1 1-.5 1-.9 1 .4 1 .6 1-.1 1 .1 1 1.1 1-.9 1 .8 1-.5 1-.3 1 .1 1-.1 1-1.4 1 .2 1 .6 1 .3 1-1.1 1 .6 1-.5 1-.3 1 .5 1-.6 1 .2 1 .2 1 .6 1 .6 1-.3 1 .5 1 0 1-.3 1 .2 1-.4 1 .1 1-.1 1 .2 1-.2 1-.5 1 .7 1 0 1-.4 1 .1 1-.5 1 .1 1 0 1-.6 1 .2 1 .1 1 .1 1 .6 1-.7 1 .3 1 .2 1 .1 1-.4 1 .8 1 .2 1 .5 1-.2 1 .1 1 .1 1 1 1-.8 1 .6 1-.3 1-.5 1 1.1 1-.9 1 0 1 .7 1-.2 1 .8 1 .1 1-.4 1-.3 1-.4 1-.2 1-.4 1-.4 1 .5 1 .8 1-.6 1-.7 1 1.4 1 0 1-.5 1-.1 1-.2 1 .2 1-.3 1 .2 1 .4 1-.3 1 .6 1-.4 1 0 1 0 1 .2 1 .2 1-1.3 1 .3 1 .7 1-.2 1 .8 1-.7 1 .4 1 .3 1-.3 1 .4 1 .2 1-.2 1-.7 1 .4 1-.5 1 .1 1 .1 1 .5 1-.6 1 .6 1 0 1 .1 1-.8 1 .3 1 .6 1-.9 1 .2 1-.7 1 .1 1 .2 1-.1 1 0 1 1.1 1-1.8 1 .3 1-.2 1 .2 1 .3 1-.1 1 .1 1 0 1-.1 1-.2 1 .2 1 0 1-.4 1-.3 1-.5 1 1 1-.3 1 .4 1-.5 1-.5 1 .9 1 .4 1-.6 1 1 1-.3 1 0 1-.6 1-.3 1 .5 1 .8 1-1.3 1 .4 1 0 1 .2 1 .3 1 .1 1-.2 1 0 1-.7 1 .3 1-.1 1-.1 1 .1 1 .3 1-.5 1-.2 1 .7 1-1.2 1 1.2 1-1 1-.4 1-.1 1-.4 1 .7 1-.4 1 1.5 1-.1 1-.8 1-.5 1 0 1-.1 1 .8 1-1.1 1 .3 1-.2 1 .8 1-.8 1 .6 1 .1 1-.1 1 .4 1 .7 1-.2 1 0 1-.4 1-.2 1 .1 1-.6 1 .5 1-.8 1 .5 1 .3 1-.1 1-.1 1-.3 1 1 1-.4 1-.7 1 .6 1 .5 1-.6 1 .7 1-.1 1-.9 1 .4 1-.2 1-.3 1 .4 1 .3 1 .2 1-.6 1-.6 1 .3 1-.5 1 .2 1-.5 1 .2 1-.5 1 .8 1 .7 1-.1 1-.2 1-.8 1 1.4 1-.7 1-.3 1 .3 1 .4 1 .4 1-1.3 1 .8 1-.9 1 1.6 1-1 1 0 1-.1 1 .5 1-.2 1-.8 1-.1 1 .6 1-.4 1 0 1 .4 1-.2 1 .1 1-.4 1-.2 1 .1 1-.4 1 .5 1-.2 1-.1 1 .8 1-.4 1 .3 1 .2 1 .5 1-.4 1-.6 1-.2 1 .1 1-.4 1-.4 1 .2 1 .7 1 .6 1-.7 1-.2 1-.1 1 .1 1 .6 1-.4 1 .4 1 0 1 .4 1 .1 1-.6 1 .3 1-.4 1-.2 1 .2 1-.2 1 .3 1-.4 1 .8 1-.4 1-.6 1 .8 1 .3 1-.5 1 .3 1 .8 1-1 1 .5 1 .2 1 .8 1-.5 1 .5 1-1 1-.5 1 .1 1-.4 1 .7 1-.8 1 .4 1-.3 1-.2 1 .5 1 .2 1-.6 1 .2 1-.1 1 .4 1-.6 1 0 1 .1 1 .7 1-.9 1 .7 1-.1 1-.6 1-.5 1 .6 1 .3 1-2.5 1 0" fill="none" stroke="#FE00CE" stroke-width="3.6" vector-effect="non-scaling-stroke" stroke-linejoin="round"/>
</g>
<path d="M84.0 675.5 93.2 666.3 102.4 675.5 93.2 684.7 102.4 693.9 93.2 703.1 84.0 693.9 74.8 703.1 65.6 693.9 74.8 684.7 65.6 675.5 74.8 666.3Z M432.0 681.6 441.2 672.4 450.4 681.6 441.2 690.8 450.4 700.0 441.2 709.2 432.0 700.0 422.8 709.2 413.6 700.0 422.8 690.8 413.6 681.6 422.8 672.4Z" fill="#FE00CE"/>
</g>
<g clip-path="url(#c11)">
<g transform="translate(590.70 0) scale(0.8685 1)">
<path d="M0 622.1l1 8.4 1 .1 1-.1 1-.1 1 0 1-.1 1-.2 1 .3 1 .2 1-.6 1 .3 1-.2 1 .5 1 .4 1-.5 1-.2 1 0 1 .1 1 0 1 .1 1-.3 1 .3 1 .1 1-.1 1 .1 1-.2 1-.1 1 .1 1-.2 1 .2 1-.1 1 .1 1 .1 1-.2 1 .2 1-.4 1 0 1-.3 1 .5 1 0 1 .1 1 .2 1-.1 1-.1 1 .2 1 .1 1-.6 1 .3 1 0 1 .2 1-.2 1-.1 1-.2 1 0 1-.4 1 .2 1 .1 1 0 1 .2 1 .1 1 .3 1-.5 1 .2 1-.1 1-.2 1-.2 1 .4 1 .1 1-.1 1-.1 1 .1 1 .2 1 0 1 .1 1 .3 1 .1 1-.6 1 .3 1 .2 1-.1 1 .2 1 .1 1-.2 1-.1 1 .3 1-.2 1 .1 1 0 1 0 1 0 1-.4 1 .7 1-.1 1-.1 1 0 1-.3 1 .1 1-.1 1 .1 1-.1 1-.2 1 .1 1 0 1 0 1 .1 1-.2 1 0 1 .3 1-.3 1-.3 1 .3 1 .1 1 .2 1 0 1-.3 1 .2 1 .5 1-.3 1-.1 1 .3 1-.2 1-.1 1-.2 1 .1 1 .1 1-.3 1 0 1 .2 1-.2 1 .1 1-.2 1 .1 1 .2 1-.2 1 .1 1 .3 1 .1 1-.2 1 .2 1-.3 1 .2 1-.1 1 .1 1-.2 1-.1 1 .2 1-.1 1 0 1-.2 1 .3 1 .4 1-.1 1-.2 1 0 1-.1 1 .1 1-.1 1-.4 1 .5 1 .1 1 .1 1-.1 1-.4 1 .3 1 .1 1-.1 1 .1 1 0 1 0 1 0 1 .1 1 .3 1-.2 1-.5 1 .2 1-.2 1 .1 1 0 1-.3 1-.1 1 0 1 .1 1 .1 1-.2 1-.1 1 .1 1 0 1 .4 1 0 1 0 1 0 1 .1 1 .2 1-.2 1-.3 1-.5 1 .3 1 .2 1 .1 1 .2 1 .1 1 .1 1 .3 1-.5 1-.1 1 .2 1 .1 1-.2 1-.2 1 0 1 .2 1-.3 1 .3 1 .2 1-.2 1-.4 1 .1 1-.1 1 .2 1 .3 1-.5 1 0 1 .1 1-.1 1 .1 1 0 1-.1 1 .2 1-.5 1 .2 1 .1 1-.2 1 .2 1-.1 1 0 1-.1 1 .1 1 .1 1-.1 1 .1 1 .1 1 0 1 .2 1-.1 1-.4 1 .3 1 .1 1-.1 1-.3 1 .3 1 .1 1-.3 1-.1 1 0 1 0 1-.4 1 .1 1 .3 1 0 1 0 1 .1 1 .1 1 0 1 .2 1-.1 1 .3 1 .1 1 .1 1 .2 1 .1 1-.1 1-.2 1-.1 1 .3 1-.3 1 0 1-.4 1 0 1 .1 1 0 1 0 1-.3 1 0 1-.1 1 .4 1-.5 1-.1 1 0 1-.2 1 .2 1-.2 1 0 1 .3 1-.1 1 .4 1-.5 1 .1 1 .6 1-.3 1 0 1 .1 1 .2 1 .2 1-.5 1 .1 1-.1 1 .2 1 .1 1-.1 1 0 1 0 1 .1 1 .3 1 .3 1 .1 1-.1 1 .3 1 0 1-.2 1-.2 1 0 1 0 1-.2 1-.1 1 .3 1-.3 1 .2 1 0 1 .1 1-.4 1-.1 1 .3 1-.3 1 .3 1 .1 1-.3 1-.2 1-.2 1 .3 1 0 1 .4 1-.3 1-.1 1-.1 1 0 1-.1 1 0 1 0 1 .1 1 0 1 .2 1-.1 1 .2 1 .1 1-.2 1 0 1 0 1 .2 1-.2 1 .2 1 0 1-.4 1 .1 1 .3 1-.5 1 .3 1-.1 1 0 1 0 1 0 1-.5 1 .4 1-.3 1 .3 1 .3 1-.3 1 0 1 .4 1-.2 1 .2 1-.2 1 .2 1 .1 1-.1 1 .3 1-.1 1-.1 1 0 1 .3 1-.4 1-.1 1 0 1 .1 1 0 1-.5 1 .2 1 .2 1 0 1-.2 0 8.4 -1 .4 -1-.4 -1 0 -1-.4 -1 .5 -1-.2 -1 .1 -1-.1 -1 .2 -1 .5 -1-.1 -1-.4 -1 .2 -1 0 -1 0 -1-.1 -1 .2 -1-.4 -1 .2 -1-.4 -1 .4 -1-.4 -1 .1 -1 .1 -1-.2 -1-.3 -1 .3 -1-.5 -1 .5 -1-.1 -1-.1 -1 .1 -1 .4 -1-.4 -1 .1 -1-.1 -1 .2 -1 .3 -1 .1 -1-.4 -1 .4 -1-.1 -1 .3 -1-.2 -1 .4 -1-.3 -1 .1 -1-.2 -1-.4 -1 .3 -1-.2 -1-.2 -1 .1 -1 .3 -1-.2 -1 .2 -1-.1 -1 .3 -1-.4 -1 .2 -1-.5 -1-.1 -1 .5 -1 .4 -1-.3 -1-.3 -1 .4 -1-.1 -1-.1 -1 .4 -1 0 -1 .1 -1-.3 -1 .1 -1-.2 -1 0 -1 0 -1 0 -1 .2 -1 .3 -1 .3 -1 .2 -1-.3 -1 0 -1 0 -1-.2 -1-.1 -1-.4 -1 .1 -1 .1 -1 .3 -1 0 -1-.4 -1 .3 -1 .2 -1 .3 -1-.5 -1 .2 -1-.5 -1 .2 -1 .2 -1-.3 -1-.3 -1 .4 -1-.3 -1 .3 -1 0 -1-.3 -1 .2 -1-.4 -1 .2 -1-.1 -1-.1 -1 .5 -1-.5 -1 0 -1-.1 -1 .4 -1 .1 -1 .1 -1-.1 -1 .1 -1 .4 -1 .2 -1 .3 -1-.4 -1 .3 -1 0 -1-.2 -1 .1 -1-.2 -1 0 -1-.1 -1 0 -1-.2 -1-.2 -1 .5 -1-.1 -1 0 -1-.2 -1-.1 -1 .2 -1-.5 -1 .5 -1-.1 -1-.1 -1 .2 -1 .2 -1 0 -1 0 -1 .2 -1 0 -1-.1 -1-.1 -1 .4 -1-.1 -1-.1 -1 .1 -1-.1 -1-.2 -1 .4 -1-.3 -1 0 -1 0 -1-.1 -1 .1 -1-.2 -1 .4 -1-.4 -1-.1 -1 .4 -1 0 -1-.1 -1-.3 -1 0 -1 .2 -1 0 -1 .1 -1 .3 -1-.1 -1-.3 -1 .5 -1-.1 -1 .3 -1-.1 -1-.2 -1-.3 -1 .2 -1-.1 -1 .1 -1 .1 -1 0 -1 .3 -1-.5 -1 .3 -1 .2 -1-.3 -1 0 -1-.2 -1-.4 -1-.1 -1-.2 -1-.2 -1 .8 -1 .1 -1 .4 -1-.1 -1-.2 -1 .2 -1-.1 -1 0 -1-.2 -1-.2 -1 .2 -1-.2 -1 .5 -1-.2 -1-.2 -1 .2 -1 .1 -1 .4 -1 0 -1-.1 -1-.1 -1-.1 -1 .5 -1 .1 -1-.3 -1-.3 -1-.2 -1 .4 -1 .2 -1 .1 -1-.3 -1 .2 -1-.5 -1 .2 -1 .2 -1-.2 -1-.1 -1-.5 -1 .1 -1 .2 -1-.1 -1 .1 -1 .1 -1 .4 -1-.1 -1-.3 -1-.4 -1 0 -1 .2 -1 .3 -1-.4 -1 0 -1 .1 -1 0 -1 .1 -1 .1 -1-.1 -1-.2 -1 .4 -1-.3 -1-.1 -1-.2 -1 .6 -1-.1 -1-.1 -1 .4 -1-.1 -1-.1 -1 .1 -1 .1 -1-.1 -1-.1 -1-.1 -1 .3 -1 0 -1-.1 -1 0 -1 .2 -1 .5 -1-.5 -1-.2 -1 .4 -1-.1 -1-.2 -1 0 -1-.1 -1 .6 -1-.1 -1-.1 -1 .1 -1 .3 -1 0 -1 .2 -1-.1 -1 0 -1 .4 -1 .1 -1-.4 -1 .1 -1-.3 -1 .4 -1 0 -1-.1 -1 .3 -1-.5 -1 .2 -1 0 -1-.1 -1-.1 -1-.4 -1 .2 -1 .1 -1 .3 -1-.2 -1 .1 -1 0 -1-.2 -1-.2 -1-.4 -1 .7 -1 .1 -1-.5 -1-.3 -1 .1 -1 .3 -1-.4 -1 .2 -1 .3 -1-.2 -1-.4 -1 .3 -1 .3 -1-.3 -1 .4 -1 .6 -1-.7 -1-.1 -1-.5 -1 .1 -1 0 -1 .1 -1 0 -1-.3 -1 .1 -1 .4 -1 .2 -1 .2 -1 .2 -1-.2 -1 .5 -1 0 -1-.2 -1-.1 -1 .3 -1 0 -1-.2 -1 0 -1-.7 -1 .3 -1 .1 -1 .3 -1-.6 -1 .2 -1 .3 -1 0 -1 .3 -1-.9 -1 .1 -1-.1 -1 .2 -1 .1 -1-.2 -1 .2 -1-.4 -1 .2 -1 .5 -1-.1 -1-.3 -1 0 -1 .5 -1 .1 -1 .1 -1-.1 -1-.5 -1 .2 -1-.3 -1 .7 -1 0 -1-.6 -1-.1 -1 .4 -1 0 -1 .1 -1 .1 -1-.2 -1-19.7z" fill="rgba(253,50,22,0.25)"/>
<path d="M0 622.1l1 11.4 1 .1 1-.1 1-.1 1 .1 1-.1 1-.2 1 .3 1 .2 1-.5 1 .3 1-.1 1 .4 1 .3 1-.4 1-.2 1 0 1 .1 1 0 1 .1 1-.3 1 .3 1 0 1-.2 1 .1 1-.1 1-.3 1 .1 1-.1 1 .2 1-.1 1 0 1 0 1-.1 1 .3 1-.3 1-.1 1-.4 1 .5 1 .2 1 0 1 .2 1-.1 1-.1 1 .2 1 .1 1-.6 1 .3 1 0 1 .1 1-.1 1-.1 1-.2 1 .2 1-.2 1 .2 1 0 1 0 1 .2 1 0 1 .3 1-.5 1 .1 1-.1 1 0 1-.3 1 .4 1 0 1 .1 1-.1 1-.1 1 .2 1-.1 1 .1 1 .3 1 .2 1-.6 1 .3 1 .1 1 .1 1 0 1 .1 1-.2 1-.1 1 .2 1-.3 1 .2 1 0 1-.1 1 0 1-.2 1 .6 1-.2 1 0 1-.1 1-.2 1-.1 1 .1 1 .1 1-.1 1-.2 1 0 1 .1 1-.2 1 .1 1-.1 1 0 1 .3 1-.2 1-.3 1 .3 1 0 1 .2 1 0 1-.3 1 .2 1 .4 1-.3 1-.1 1 .3 1-.2 1 0 1 0 1 0 1 .1 1-.2 1 .1 1 .2 1-.3 1 .2 1-.2 1 0 1 .1 1-.1 1 0 1 .3 1 .1 1-.3 1 .1 1-.1 1 .1 1 0 1 0 1 0 1-.1 1 .2 1-.2 1 .1 1-.1 1 .2 1 .3 1 0 1-.3 1 0 1-.2 1 .2 1-.1 1-.4 1 .5 1-.1 1 .2 1-.1 1-.4 1 .3 1 0 1-.1 1 .1 1 0 1 0 1 0 1 .1 1 .2 1-.1 1-.5 1 .3 1-.2 1 .2 1-.1 1-.3 1-.1 1 .1 1 .2 1 0 1-.2 1-.1 1-.1 1 .2 1 .2 1 0 1 .1 1 0 1 .1 1 .1 1-.1 1-.2 1-.4 1 .3 1 .2 1 .1 1 .1 1 0 1 0 1 .3 1-.3 1-.2 1 .3 1 0 1-.1 1-.2 1-.1 1 .2 1-.3 1 .3 1 .2 1-.1 1-.4 1 .2 1-.2 1 .3 1 .2 1-.4 1 .1 1-.1 1 .1 1 .1 1 0 1 0 1 .3 1-.5 1 0 1 .2 1-.2 1 0 1-.2 1 .1 1-.1 1 .1 1 .1 1 0 1 .1 1 0 1 .1 1 .1 1-.1 1-.4 1 .2 1 .2 1-.1 1-.1 1 .1 1 0 1-.3 1 0 1-.1 1 .1 1-.3 1 .3 1 .2 1-.2 1 .2 1 0 1 .1 1-.3 1 .3 1-.1 1 .2 1 .1 1 .1 1 .2 1 .2 1-.1 1-.1 1-.1 1 .3 1-.2 1 0 1-.2 1-.1 1 .2 1 0 1-.1 1-.4 1 .1 1-.1 1 .4 1-.5 1 .1 1 .1 1-.3 1 .2 1-.2 1 0 1 .3 1-.2 1 .4 1-.6 1 .2 1 .5 1-.3 1 0 1 .2 1 .2 1 0 1-.4 1 0 1-.1 1 .2 1 .2 1-.1 1 0 1-.1 1 .2 1 .1 1 .3 1 .1 1-.1 1 .2 1 .1 1-.2 1-.3 1-.1 1 .1 1-.2 1-.2 1 .3 1-.3 1 .3 1 0 1 .2 1-.5 1 0 1 .3 1-.4 1 .3 1 .2 1-.4 1-.3 1-.1 1 .3 1 0 1 .3 1-.1 1 0 1-.2 1 0 1 0 1-.1 1 .2 1 .1 1-.2 1 .2 1 0 1 0 1 .1 1-.1 1-.1 1-.1 1 .2 1-.2 1 .2 1 .1 1-.5 1 .2 1 .1 1-.3 1 .3 1-.2 1 0 1 .1 1 .1 1-.4 1 .4 1-.4 1 .2 1 .4 1-.2 1 0 1 .2 1-.1 1 .2 1-.2 1 .2 1 0 1 0 1 .3 1-.1 1-.1 1 .2 1 .2 1-.3 1-.2 1 .1 1 0 1 .1 1-.4 1 .2 1 0 1 0 1-2.5 1 0" fill="none" stroke="#FD3216" stroke-width="3.6" vector-effect="non-scaling-stroke" stroke-linejoin="round"/>
</g>
<path d="M590.7 612.9 599.9 603.7 609.1 612.9 599.9 622.1 609.1 631.3 599.9 640.5 590.7 631.3 581.5 640.5 572.3 631.3 581.5 622.1 572.3 612.9 581.5 603.7Z M938.1 622.3 947.3 613.1 956.5 622.3 947.3 631.5 956.5 640.7 947.3 649.9 938.1 640.7 928.9 649.9 919.7 640.7 928.9 631.5 919.7 622.3 928.9 613.1Z" fill="#FD3216"/>
<g transform="translate(590.70 0) scale(0.8685 1)">
<path d="M0 622.1l1 7.8 1 .1 1 .4 1-.1 1 .2 1 0 1-.7 1 .3 1-.1 1-.2 1 .1 1 0 1-.2 1 .1 1-.4 1-.1 1 .2 1 .2 1-.1 1 .1 1 0 1 .1 1-.1 1-.2 1 0 1 .1 1-.1 1 .2 1 0 1 .1 1-.1 1 .2 1 .1 1-.1 1 .1 1-.2 1 .1 1-.3 1 0 1 .3 1 .1 1 0 1-.2 1-.1 1 .6 1-.4 1-.4 1 .3 1 .1 1 .1 1 0 1 .1 1 0 1 .6 1-.2 1 .1 1 .1 1-.2 1 0 1 0 1 0 1-.2 1 .1 1 0 1-.4 1 .3 1-.2 1-.1 1 0 1 0 1 .1 1-.1 1 .2 1-.4 1 .1 1 .2 1 0 1-.2 1 .1 1 .2 1-.4 1-.1 1 .3 1 .5 1-.1 1-.1 1-.2 1 .3 1-.1 1-.2 1-.1 1-.1 1 .3 1 .2 1 .1 1 .2 1-.4 1-.2 1 .1 1 .2 1 0 1-.2 1 0 1-.4 1 .2 1 0 1 0 1 0 1 .1 1 .2 1-.2 1 .1 1-.1 1 .1 1 .2 1-.3 1 0 1-.2 1-.2 1 .3 1-.2 1 0 1 .1 1 .1 1 .4 1-.3 1 0 1-.2 1 .2 1-.1 1-.2 1-.1 1 .2 1 0 1-.2 1 0 1-.1 1 .1 1 0 1 0 1 .1 1-.4 1 .1 1-.2 1 0 1 .1 1-.1 1-.1 1 .4 1 .2 1-.3 1-.1 1 .2 1-.2 1 .2 1 .1 1-.1 1 0 1-.2 1 0 1 .1 1 0 1 .4 1 0 1-.1 1 0 1-.2 1 .1 1-.1 1 0 1 .5 1-.3 1 .4 1-.5 1-.1 1 .2 1 .3 1 .1 1 0 1-.1 1-.1 1-.1 1-.4 1 .2 1 .2 1 .2 1 .1 1 .4 1-.2 1-.2 1 .3 1-.4 1 .3 1-.5 1 .1 1 .1 1 .1 1-.2 1 .2 1 .5 1-.2 1-.1 1 .1 1 0 1-.4 1 .2 1 .1 1 0 1-.1 1 .2 1-.2 1 0 1 .5 1-.1 1-.5 1 .3 1-.3 1 .3 1-.1 1-.1 1 .1 1-.4 1 .4 1 .1 1-.2 1 .1 1 .5 1-.5 1 .2 1 .3 1-.4 1-.1 1 .1 1-.3 1 0 1-.2 1 .4 1 .1 1 0 1 0 1 .1 1 .2 1-.1 1-.5 1 .4 1 .2 1 0 1-.2 1 0 1 .3 1-.3 1 .1 1 0 1 .2 1-.5 1 .1 1 0 1 .1 1-.3 1 0 1 .1 1-.2 1 0 1 .2 1-.2 1 0 1-.2 1 .1 1-.2 1 .3 1-.1 1 0 1 .3 1 0 1 0 1-.1 1 .1 1 0 1-.2 1-.1 1 .1 1 0 1 .1 1 0 1 0 1 0 1 .2 1-.1 1 .1 1 0 1-.3 1 0 1 .2 1 .1 1-.1 1 .1 1 .2 1-.2 1 0 1 .2 1 .3 1-.3 1-.4 1 .1 1-.2 1 .3 1 .1 1-.4 1 .1 1-.1 1 .5 1-.2 1-.2 1 .5 1 0 1-.4 1-.4 1 .2 1 .3 1 .1 1 .1 1-.1 1-.1 1-.3 1 .3 1-.4 1 .2 1 .1 1-.1 1 0 1 .1 1 .1 1-.1 1-.1 1-.2 1-.4 1 .4 1-.3 1 .4 1-.3 1 .2 1 .4 1 0 1-.1 1-.2 1 .5 1-.4 1 0 1 0 1 .1 1-.2 1 0 1-.1 1 .2 1-.2 1-.1 1 0 1 0 1 .1 1-.1 1-.1 1 .3 1-.1 1-.3 1 .3 1-.1 1 .2 1-.1 1 .3 1 0 1-.3 1 .4 1 .3 1-.4 1-.1 1-.2 1-.2 1 .2 1-.1 1 .1 1 .2 1-.2 1 .1 1-.2 1 .4 1 .1 1-.1 1 .2 1 .2 1-.1 1-.2 1 0 1 0 1-.2 1-.1 1 .1 1 0 1-.1 1-.1 0 7.7 -1 .1 -1 .1 -1 0 -1-.1 -1 .1 -1 .1 -1 .1 -1-.1 -1 .2 -1-.2 -1 .2 -1-.4 -1-.3 -1 .2 -1-.1 -1 .1 -1-.1 -1 .3 -1-.1 -1-.3 -1 .2 -1-.3 -1-.3 -1 .3 -1 .3 -1 .2 -1-.2 -1-.5 -1 .3 -1 .1 -1-.5 -1 .4 -1 0 -1 .1 -1-.4 -1 .2 -1 .3 -1-.2 -1 .1 -1 .1 -1-.1 -1 0 -1 .1 -1-.2 -1 .3 -1-.5 -1 .1 -1 .1 -1 .3 -1 .2 -1-.3 -1 .1 -1 0 -1-.2 -1 0 -1 .1 -1 0 -1-.1 -1-.3 -1 .1 -1-.3 -1 .4 -1-.3 -1 .3 -1 .3 -1-.3 -1 .1 -1 0 -1 .1 -1-.1 -1 .1 -1-.3 -1-.1 -1 .2 -1-.1 -1 .4 -1 0 -1-.1 -1 .1 -1 .1 -1-.3 -1 0 -1 .3 -1 .3 -1 0 -1-.5 -1 .3 -1 .3 -1-.4 -1 .3 -1-.2 -1 .5 -1 .1 -1-.2 -1 .2 -1-.1 -1 .3 -1 .3 -1-.1 -1 .2 -1-.2 -1 .2 -1-.2 -1-.1 -1 .2 -1-.3 -1-.2 -1 .3 -1 .2 -1-.1 -1-.1 -1-.3 -1 .2 -1-.4 -1 .1 -1-.1 -1-.2 -1-.1 -1 .1 -1 .2 -1 .3 -1 0 -1-.5 -1 .1 -1 0 -1 .3 -1-.2 -1-.1 -1 .1 -1-.4 -1 .2 -1 0 -1 .3 -1-.1 -1 .2 -1-.2 -1 .3 -1 .4 -1-.1 -1-.2 -1 .2 -1 0 -1-.1 -1-.1 -1 .4 -1-.2 -1 .1 -1 .1 -1 .4 -1-.2 -1 .1 -1 0 -1-.2 -1-.1 -1-.5 -1 .5 -1-.2 -1 .2 -1-.2 -1 .3 -1-.3 -1 .2 -1-.5 -1 .1 -1 0 -1-.1 -1 .2 -1 .2 -1 .1 -1-.1 -1 .3 -1 .4 -1-.5 -1-.1 -1-.1 -1-.6 -1-.3 -1 .5 -1-.2 -1 .2 -1 .2 -1-.3 -1 .5 -1-.4 -1 .9 -1 .4 -1-1.1 -1 .4 -1-.1 -1-.2 -1 .1 -1 0 -1 .3 -1-.1 -1 .3 -1 .2 -1 0 -1-.2 -1 .4 -1-.3 -1-.3 -1 .1 -1 0 -1 0 -1-.1 -1 .4 -1-.4 -1 .5 -1-.3 -1 .2 -1 .4 -1-.4 -1-.3 -1-.2 -1 0 -1-.1 -1 .2 -1-.1 -1 .1 -1 .2 -1 0 -1-.1 -1-.2 -1-.1 -1-.3 -1 .9 -1-.3 -1-.1 -1-.1 -1-.1 -1-.3 -1 0 -1 .2 -1 .2 -1 .1 -1-.1 -1-.6 -1 .2 -1 .1 -1-.3 -1 .3 -1-.1 -1 .4 -1-.4 -1-.2 -1-.1 -1 .2 -1-.1 -1 .6 -1 0 -1-.4 -1 .2 -1-.3 -1 .3 -1-.3 -1 .1 -1 .1 -1 .3 -1-.3 -1 .1 -1-.2 -1 .4 -1-.1 -1 .4 -1-.2 -1-.1 -1-.2 -1 0 -1 .1 -1 .3 -1-.4 -1 .2 -1 .4 -1 .3 -1-.4 -1 .2 -1-.4 -1 .1 -1 .5 -1-.5 -1 .5 -1 .1 -1 0 -1 .4 -1-.3 -1-.3 -1 0 -1 .3 -1 .5 -1-.5 -1 0 -1-.2 -1-.2 -1-.1 -1-.2 -1 0 -1 .1 -1 .1 -1 .2 -1-.5 -1-.3 -1 .4 -1 .5 -1-.1 -1 .2 -1-.3 -1-.2 -1 .5 -1-.4 -1 .7 -1-.1 -1 .2 -1-.3 -1 .5 -1-.1 -1-.4 -1-.3 -1 .1 -1 .3 -1-.4 -1 .1 -1 .3 -1-.1 -1 .1 -1-.1 -1 .1 -1-.2 -1 0 -1-.4 -1 .2 -1 .2 -1 .2 -1 0 -1-.1 -1 .4 -1-.1 -1-.1 -1 0 -1-.1 -1 .4 -1-.2 -1 .3 -1-.2 -1-.2 -1 .5 -1-.7 -1 .5 -1-.2 -1 .1 -1-.1 -1 0 -1-.8 -1 .5 -1 .2 -1-.4 -1-.2 -1 .2 -1 .1 -1-.2 -1-.2 -1 .2 -1 .2 -1-.3 -1 .4 -1 .3 -1-.1 -1 0 -1-.6 -1 .3 -1 .2 -1-.2 -1 .4 -1 .1 -1-.5 -1 .3 -1 .3 -1 0 -1-.5 -1-.1 -1-.1 -1 .2 -1-.2 -1-.1 -1 0 -1 .5 -1-.2 -1 .2 -1-.1 -1-.3 -1 .2 -1 0 -1-.1 -1 .6 -1 .1 -1-.1 -1-.3 -1 .2 -1-.2 -1-18.4z" fill="rgba(0,254,53,0.25)"/>
<path d="M0 622.1l1 10.7 1 .2 1 .3 1 0 1 .1 1 .1 1-.7 1 .2 1 0 1-.3 1 0 1 0 1 0 1 0 1-.3 1-.1 1 0 1 .3 1 0 1 .2 1 0 1 .1 1-.1 1-.1 1-.2 1 .2 1-.1 1 .2 1 0 1 .1 1-.1 1 .1 1 .1 1 0 1 0 1 0 1 .1 1-.4 1 0 1 .2 1 0 1 0 1-.2 1 0 1 .4 1-.2 1-.3 1 .3 1 .1 1 0 1 .1 1 0 1-.1 1 .6 1-.4 1 .2 1 .1 1-.2 1 .2 1-.2 1 .1 1-.2 1 .1 1 0 1-.4 1 .3 1-.2 1-.1 1 0 1 0 1 .2 1-.1 1 .2 1-.4 1 .3 1-.1 1 0 1-.1 1 .1 1 .1 1-.3 1-.1 1 .1 1 .5 1-.1 1-.2 1-.1 1 .2 1-.1 1-.2 1 0 1-.2 1 .2 1 .2 1 .1 1 .4 1-.5 1 0 1 0 1 .3 1 .2 1-.4 1 .1 1-.3 1 .1 1 0 1-.1 1 .2 1-.1 1 .3 1-.4 1 .2 1-.1 1 .1 1 .3 1-.4 1 .1 1-.1 1-.4 1 .3 1-.2 1 .1 1 .1 1 0 1 .4 1-.2 1-.1 1-.1 1 .2 1-.2 1-.2 1 0 1 .2 1-.1 1-.1 1-.1 1 .1 1 0 1-.2 1 .2 1 .1 1-.3 1 0 1-.1 1 0 1 .1 1 .1 1-.2 1 .3 1 .2 1-.3 1-.1 1 .2 1-.2 1 .1 1 .1 1-.1 1 0 1-.2 1 .1 1 .1 1 0 1 .3 1 .1 1-.2 1 0 1-.1 1 0 1 0 1 0 1 .4 1-.2 1 .4 1-.6 1 .1 1 .1 1 .3 1 .1 1-.1 1-.1 1-.1 1-.1 1-.3 1 .2 1 .1 1 .1 1 .3 1 .4 1-.2 1-.2 1 .4 1-.5 1 .2 1-.4 1 .1 1-.1 1 .2 1-.3 1 .1 1 .5 1-.2 1 0 1 0 1 0 1-.4 1 .3 1 0 1 0 1 0 1 .1 1-.1 1-.2 1 .6 1-.3 1-.3 1 .2 1-.3 1 .2 1-.1 1-.1 1 .2 1-.4 1 .5 1 .2 1-.2 1 .2 1 .3 1-.4 1 0 1 .3 1-.4 1-.1 1 0 1 0 1 .1 1-.3 1 .3 1 .1 1 .1 1-.2 1 .2 1 0 1 0 1-.5 1 .3 1 .2 1-.1 1-.1 1 0 1 .3 1-.3 1 .2 1-.2 1 .3 1-.4 1 .2 1-.1 1 .1 1-.3 1 .1 1 .1 1-.3 1 .1 1 .3 1-.3 1 0 1-.2 1 .1 1-.1 1 .3 1-.2 1 0 1 .2 1 0 1 .1 1-.2 1 .2 1-.1 1-.2 1-.1 1 .1 1-.1 1 .1 1 .1 1 .1 1 0 1 .2 1-.1 1 .2 1 0 1-.3 1 0 1 .1 1 .1 1 0 1-.1 1 .3 1-.2 1 .2 1 .1 1 .2 1-.1 1-.4 1 .1 1-.2 1 .1 1 .2 1-.3 1 0 1-.2 1 .4 1-.1 1-.3 1 .6 1-.1 1-.2 1-.4 1 .2 1 .3 1 0 1 .1 1 .1 1-.2 1-.1 1 0 1-.4 1 .1 1 .4 1-.2 1-.1 1 .1 1 .1 1-.1 1 0 1-.2 1-.5 1 .4 1-.2 1 .4 1-.1 1 .2 1 .4 1 0 1-.2 1 0 1 .4 1-.5 1 .1 1 0 1-.1 1-.1 1-.2 1 0 1 .2 1-.1 1 .1 1-.2 1 .1 1 0 1 0 1-.2 1 .2 1-.1 1-.2 1 .3 1-.1 1 .1 1-.2 1 .4 1-.1 1-.3 1 .3 1 .3 1-.2 1-.2 1-.2 1 0 1 .3 1-.1 1 .3 1 .1 1-.3 1 .2 1-.2 1 .2 1 0 1 0 1 .1 1 .1 1 0 1-.1 1 .1 1 0 1-.1 1-.2 1 .1 1 0 1-.1 1-1.8 1 0" fill="none" stroke="#00FE35" stroke-width="3.6" vector-effect="non-scaling-stroke" stroke-linejoin="round"/>
</g>
<path d="M590.7 612.9 599.9 603.7 609.1 612.9 599.9 622.1 609.1 631.3 599.9 640.5 590.7 631.3 581.5 640.5 572.3 631.3 581.5 622.1 572.3 612.9 581.5 603.7Z M938.1 622.3 947.3 613.1 956.5 622.3 947.3 631.5 956.5 640.7 947.3 649.9 938.1 640.7 928.9 649.9 919.7 640.7 928.9 631.5 919.7 622.3 928.9 613.1Z" fill="#00FE35"/>
<g transform="translate(590.70 0) scale(0.8685 1)">
<path d="M0 620.9l1 7 1 .1 1 .2 1-.3 1-.1 1 .1 1-.1 1 0 1 .1 1-.2 1 .1 1 0 1-.1 1 .1 1 0 1 .5 1 .1 1 .1 1-.2 1 .4 1-.2 1-.1 1-.1 1-.1 1 .2 1 0 1-.3 1 .2 1-.2 1-.2 1 0 1 .2 1-.1 1-.2 1 .4 1-.1 1 0 1 .2 1-.4 1 .2 1-.2 1 .1 1-.1 1-.1 1 .4 1-.2 1 .2 1 0 1 .3 1 .1 1-.6 1 .6 1-.4 1 .4 1-.2 1 .2 1 0 1 .1 1 .1 1-.1 1 .1 1 0 1-.5 1 .1 1 .1 1 0 1 0 1 .3 1-.3 1 0 1 .2 1-.2 1-.1 1-.4 1 .5 1-.5 1 .2 1-.1 1 0 1 0 1 .1 1-.1 1 .3 1 .1 1-.3 1-.3 1 .2 1-.1 1 .1 1 0 1 .2 1-.2 1 .2 1 .1 1 0 1-.3 1 0 1 .2 1 0 1 0 1 .1 1-.1 1 .2 1-.4 1 .4 1-.4 1 .1 1 .3 1 0 1-.1 1 .3 1-.3 1 .1 1-.3 1 .4 1-.3 1 .1 1 0 1 .4 1 0 1-.1 1 .1 1 .1 1-.1 1 0 1 0 1 .2 1-.3 1 .2 1 .2 1 .1 1 0 1-.2 1-.4 1 0 1 .3 1 0 1-.4 1 .3 1-.2 1-.1 1 0 1 0 1 .2 1-.1 1 .3 1-.3 1-.2 1-.1 1-.1 1 0 1 .2 1 .2 1-.4 1 .3 1 .2 1 .3 1-.5 1 .1 1-.4 1 .3 1-.2 1-.4 1 .1 1 .3 1 .2 1 .1 1 .2 1 .3 1-.2 1-.1 1-.4 1 .4 1-.2 1 0 1 .2 1 .1 1 0 1-.1 1 .2 1-.1 1-.3 1-.1 1 .1 1 .1 1-.1 1 .1 1-.4 1 .3 1 .1 1 .1 1 .2 1 .1 1-.2 1-.1 1 .5 1-.2 1-.1 1 0 1 0 1 .1 1 .3 1-.2 1 0 1 0 1 0 1 .1 1-.1 1-.2 1 .1 1 .2 1-.5 1 0 1 .3 1-.1 1 .1 1 .1 1 0 1-.3 1 .1 1 0 1-.2 1 .2 1-.2 1 .4 1-.5 1 .3 1 0 1 .2 1-.1 1 .1 1 .3 1 .1 1 0 1 .2 1 .1 1-.5 1 .4 1-.3 1 .1 1-.2 1 0 1-.3 1 0 1 0 1-.1 1 .3 1-.2 1 0 1-.3 1 .2 1-.2 1 .1 1 0 1-.3 1 .1 1 .2 1-.1 1 .2 1-.1 1 0 1 .1 1 .2 1 .3 1-.3 1 .2 1-.4 1 .3 1-.1 1-.1 1 .2 1 .3 1 .1 1-.1 1 0 1-.1 1-.2 1-.2 1 .1 1 .3 1 .4 1 0 1-.3 1 .1 1 .1 1-.3 1 .2 1 .2 1-.2 1 0 1 .2 1-.1 1-.2 1 0 1 .2 1 0 1-.2 1 .2 1 .2 1-.4 1 .2 1-.1 1 0 1-.1 1-.1 1 .1 1 .2 1-.1 1 .2 1-.3 1 .2 1 .3 1-.4 1 .2 1-.2 1 .1 1 0 1 0 1-.3 1 .2 1-.3 1 .1 1 .2 1 0 1 0 1 0 1 0 1 .1 1-.2 1 .2 1-.2 1 .2 1 .2 1-.1 1 .1 1 .1 1-.4 1-.1 1-.1 1 .1 1 0 1 0 1 .2 1-.3 1 0 1-.1 1-.2 1-.2 1 .6 1-.4 1 .1 1 .4 1-.2 1 .3 1 .1 1-.1 1-.1 1 .2 1-.1 1-.1 1-.2 1 .3 1 .1 1-.1 1 .2 1-.2 1 .3 1-.2 1 .1 1 .3 1-.4 1 .3 1-.5 1 .1 1 .2 1 .1 1-.3 1-.1 1-.2 1 .6 1-.3 1-.2 1 .1 1-.1 1 .5 1 0 1 .1 1-.3 1 .1 1 .3 1-.5 1-.2 1 .1 1 .1 1 .1 1-.2 1 .2 1 .1 1-.3 0 9.7 -1 .3 -1 .1 -1 0 -1 .5 -1-.3 -1-.2 -1 .1 -1 0 -1 .2 -1-.6 -1 .3 -1 .1 -1-.2 -1 .4 -1-.3 -1-.1 -1-.2 -1 .3 -1-.1 -1-.4 -1 0 -1 0 -1 .4 -1-.1 -1 0 -1 .1 -1 .4 -1-.3 -1 .7 -1-.5 -1 0 -1 .1 -1-.5 -1 .1 -1 0 -1 .1 -1-.4 -1-.1 -1 .3 -1 0 -1 .2 -1-.4 -1 .3 -1 .1 -1 .1 -1-.1 -1-.1 -1 .1 -1-.4 -1 .3 -1-.4 -1 0 -1-.2 -1 0 -1-.2 -1 .4 -1-.1 -1 .2 -1 .1 -1-.5 -1 .2 -1 .7 -1 .3 -1 .2 -1-.2 -1 .1 -1 0 -1-.2 -1-.1 -1-.3 -1-.1 -1 .1 -1 0 -1-.1 -1-.1 -1-.3 -1-.3 -1-.4 -1 .9 -1-.4 -1 .4 -1 .1 -1 .1 -1-.2 -1 .1 -1 .2 -1 .2 -1-.4 -1-.1 -1 .4 -1-.2 -1-.3 -1-.2 -1 .4 -1 .2 -1 .2 -1 .2 -1-.4 -1-.1 -1 .1 -1-.3 -1 0 -1 .3 -1-.1 -1-.2 -1 .2 -1 .3 -1-.3 -1 0 -1 .3 -1-.3 -1 0 -1-.4 -1 .1 -1-.1 -1 .2 -1 .4 -1 0 -1-.3 -1-.8 -1 0 -1 .1 -1 .6 -1 .2 -1 .2 -1 .5 -1 .2 -1-.6 -1-.2 -1-.2 -1 .5 -1-.6 -1 .3 -1 .1 -1-.2 -1-.1 -1 .2 -1-.2 -1-.2 -1 .2 -1 .1 -1-.6 -1-.1 -1-.1 -1 .4 -1 0 -1-.2 -1 0 -1 .2 -1-.1 -1 .4 -1 .6 -1-.2 -1-.1 -1-.2 -1-.1 -1 .4 -1 0 -1-.4 -1-.1 -1 .4 -1-.1 -1 .4 -1-.1 -1-.2 -1 .1 -1-.1 -1-.4 -1 .1 -1-.1 -1-.2 -1 .2 -1 0 -1 .6 -1-.3 -1-.2 -1-.3 -1 .1 -1-.4 -1-.1 -1 .8 -1-.4 -1 .1 -1-.2 -1 .2 -1-.4 -1 0 -1 .3 -1 0 -1 0 -1 .3 -1-.1 -1-.1 -1 .1 -1-.1 -1 .2 -1 .3 -1-.3 -1-.5 -1 .1 -1-.1 -1-.1 -1 .3 -1-.4 -1 .2 -1-.1 -1 .4 -1-.4 -1-.4 -1-.1 -1-.2 -1 .5 -1 .4 -1-.2 -1-.2 -1-.1 -1-.2 -1 .1 -1 0 -1-.2 -1 .5 -1 0 -1-.1 -1 0 -1 .2 -1 0 -1-.5 -1 .2 -1 .3 -1 .3 -1-.4 -1-.2 -1 .1 -1 .1 -1 0 -1 0 -1 .3 -1 .1 -1-.2 -1 .5 -1-.1 -1 .2 -1-.3 -1-.1 -1-.1 -1-.2 -1 .1 -1-.1 -1-.1 -1-.3 -1 0 -1 0 -1 .1 -1 .1 -1 0 -1 .2 -1-.1 -1 0 -1 .1 -1 .4 -1-.2 -1 .3 -1 .4 -1-.5 -1 0 -1 .6 -1 .1 -1 .1 -1 .1 -1-.5 -1 0 -1 .3 -1-.1 -1-.2 -1-.2 -1 .3 -1-.4 -1-.1 -1 .1 -1 .3 -1-.5 -1 .3 -1-.3 -1 0 -1 .2 -1 .5 -1-.3 -1 .6 -1-.3 -1-.4 -1 .1 -1-.4 -1 .1 -1 .1 -1-.2 -1 .1 -1-.2 -1-.3 -1 0 -1 .1 -1 .1 -1 .2 -1 .1 -1-.3 -1 .3 -1-.2 -1-.2 -1 .1 -1 .4 -1 .2 -1 0 -1 .1 -1-.4 -1-.1 -1 .1 -1 .3 -1-.6 -1 .2 -1-.2 -1-.2 -1-.1 -1 .1 -1-.2 -1 .6 -1-.3 -1 .6 -1-.2 -1 .2 -1-.1 -1 .2 -1-.2 -1 .2 -1-.1 -1-.2 -1-.3 -1-.2 -1 .6 -1 0 -1-.2 -1 .2 -1 .1 -1-.2 -1 .4 -1 .1 -1 .1 -1-.2 -1 .5 -1-.4 -1 0 -1-.5 -1 0 -1 .5 -1-.5 -1 .5 -1-.5 -1 .1 -1-.2 -1-.1 -1 .3 -1-.3 -1-.1 -1-.2 -1 .2 -1 .3 -1-.6 -1 .7 -1-.2 -1 .2 -1-.2 -1 .1 -1 .1 -1-.2 -1 .1 -1 0 -1-.1 -1 .4 -1-.2 -1-.4 -1 .3 -1-.4 -1 .1 -1-.2 -1 .2 -1-.5 -1 0 -1-.1 -1 .2 -1 .1 -1-.1 -1 .2 -1 0 -1-.4 -1 0 -1-.4 -1 .2 -1 .2 -1-.3 -1 .2 -1-17.4z" fill="rgba(106,118,252,0.25)"/>
<path d="M0 620.9l1 10.1 1 0 1 .1 1-.1 1-.3 1 .2 1-.1 1 .2 1 0 1-.3 1 .2 1 0 1-.1 1 .2 1-.2 1 .6 1 0 1 0 1-.1 1 .2 1-.1 1 0 1 0 1-.2 1 .2 1-.1 1-.2 1 .1 1-.2 1 0 1 0 1 .2 1-.1 1-.3 1 .4 1-.2 1 0 1 .3 1-.2 1 .2 1-.3 1 .2 1-.1 1-.1 1 .3 1-.2 1 .2 1-.1 1 .3 1 .1 1-.5 1 .5 1-.4 1 .3 1 0 1 .1 1 0 1 .1 1 0 1-.1 1 0 1 .1 1-.4 1 .1 1 .2 1-.1 1 0 1 .1 1-.1 1 0 1 0 1-.1 1 0 1-.3 1 .4 1-.3 1 0 1 0 1 .1 1 0 1 0 1-.2 1 .4 1 .1 1-.4 1 0 1 .1 1 0 1 .1 1 .1 1-.2 1 0 1 .1 1 .1 1 0 1-.2 1 0 1 0 1 0 1 .1 1-.1 1 0 1 .2 1-.3 1 .2 1-.3 1 .1 1 .3 1 0 1-.1 1 .3 1-.3 1 0 1-.1 1 .2 1-.2 1 .1 1-.1 1 .5 1 0 1-.3 1 .1 1 .1 1-.2 1 .2 1 .1 1 .1 1-.2 1-.1 1 .3 1 0 1 0 1-.1 1-.3 1 0 1 .3 1 0 1-.3 1 .1 1-.1 1-.1 1 0 1 0 1 .2 1-.2 1 .3 1-.2 1-.2 1-.1 1 0 1 .1 1 .2 1 .1 1-.3 1 .3 1 .1 1 .3 1-.5 1 .2 1-.4 1 .2 1-.3 1-.2 1 .1 1 .2 1 .1 1 0 1 .1 1 .2 1-.2 1-.1 1-.4 1 .4 1-.1 1 0 1 .1 1 .1 1 .1 1-.2 1 .3 1-.2 1-.1 1 0 1 .1 1 .2 1 0 1 0 1-.4 1 .3 1 .1 1 .1 1 .2 1 .1 1-.3 1-.1 1 .6 1-.2 1-.2 1 0 1 0 1 .1 1 .2 1-.1 1 0 1 .1 1 0 1 .1 1-.1 1-.2 1 .1 1 .3 1-.4 1-.1 1 .3 1-.1 1 0 1 0 1 .1 1-.4 1 .1 1 0 1 0 1 .3 1-.2 1 .2 1-.5 1 .2 1-.3 1 .3 1-.2 1 .1 1 .3 1 .2 1-.1 1 .2 1 .1 1-.2 1 .3 1-.2 1 0 1-.1 1 .1 1-.3 1 .1 1-.1 1 0 1 .3 1-.2 1 0 1-.2 1 .1 1-.1 1 .2 1 0 1-.3 1 .1 1 .1 1 0 1 .1 1-.2 1 .1 1 0 1 .1 1 .1 1-.1 1 0 1-.2 1 .4 1-.2 1 .1 1-.1 1 .4 1 0 1-.1 1 0 1-.2 1-.2 1-.1 1 0 1 .3 1 .3 1 0 1-.3 1 .1 1 0 1 0 1 .1 1 .2 1-.1 1 0 1 .1 1 .1 1-.4 1 .1 1 .1 1 0 1-.2 1 0 1 .1 1-.1 1 .1 1-.1 1 0 1 0 1-.1 1 0 1 .2 1-.1 1 .3 1-.2 1 .2 1 .1 1-.3 1 .2 1-.1 1 .1 1 .1 1 .1 1-.4 1 .1 1-.2 1 .2 1 0 1 .1 1 0 1 0 1-.1 1 .1 1 0 1 .1 1-.3 1 .3 1 .2 1-.1 1 .1 1 .2 1-.5 1-.1 1-.1 1 .1 1-.1 1 0 1 .2 1-.3 1 .1 1-.1 1-.2 1-.1 1 .5 1-.3 1 .1 1 .3 1-.1 1 .3 1 0 1 0 1-.1 1 .2 1 0 1-.2 1-.2 1 .2 1 .2 1-.1 1 0 1 0 1 .2 1-.2 1 .1 1 .2 1-.3 1 .2 1-.3 1 0 1 .1 1 .3 1-.3 1-.2 1-.1 1 .6 1-.2 1-.3 1 .2 1-.1 1 .4 1-.1 1 .2 1-.2 1-.1 1 .3 1-.5 1-.1 1 .1 1 .2 1 .2 1-.3 1 0 1 0 1-2.1 1 0" fill="none" stroke="#6A76FC" stroke-width="3.6" vector-effect="non-scaling-stroke" stroke-linejoin="round"/>
</g>
<path d="M590.7 611.7 599.9 602.5 609.1 611.7 599.9 620.9 609.1 630.1 599.9 639.3 590.7 630.1 581.5 639.3 572.3 630.1 581.5 620.9 572.3 611.7 581.5 602.5Z M938.1 621.6 947.3 612.4 956.5 621.6 947.3 630.8 956.5 640.0 947.3 649.2 938.1 640.0 928.9 649.2 919.7 640.0 928.9 630.8 919.7 621.6 928.9 612.4Z" fill="#6A76FC"/>
<g transform="translate(590.70 0) scale(0.8685 1)">
<path d="M0 622.1l1-1.2 1-.1 1-.1 1 .3 1 .1 1-.2 1 .1 1-.5 1 .4 1-.2 1 .1 1 .2 1-.1 1 .2 1-.2 1 .7 1-.5 1-.6 1 .4 1 0 1 .1 1 .2 1-.1 1 0 1-.2 1 0 1 0 1 0 1 .3 1 0 1 0 1-.5 1 .2 1 0 1 .2 1-.3 1 .2 1-.1 1 .1 1 .2 1 0 1-.2 1 0 1 0 1 .3 1 .4 1-.3 1 .4 1 .2 1-.1 1-.2 1-.1 1-.3 1 .1 1 .2 1 0 1 0 1-.1 1 .2 1-.2 1-.2 1 .5 1-.6 1 .4 1-.5 1 .5 1-.1 1 .1 1 .4 1-.3 1 .3 1 .3 1-.3 1-.1 1-.1 1 .1 1-.2 1-.1 1 .2 1-.1 1 0 1-.2 1-.3 1 .1 1-.1 1 .2 1 0 1 0 1 .4 1 .3 1-.3 1 .2 1-.1 1 .1 1-.1 1 0 1 .1 1 0 1 0 1 .2 1 0 1-.3 1 .2 1-.3 1-.2 1 .1 1 .4 1-.2 1-.1 1 0 1-.2 1 .3 1-.3 1-.2 1 .5 1-.2 1-.3 1 .1 1 .5 1 0 1-.2 1 .2 1-.3 1-.1 1-.3 1 .1 1 .6 1-.2 1-.3 1 .1 1 .6 1-.2 1 .9 1-.2 1 .4 1-.5 1-.2 1-.1 1 .2 1-.5 1 .2 1-.2 1-.2 1 .2 1 .3 1-.1 1 .1 1-.2 1 .2 1 .2 1-.1 1-.4 1 .4 1 .2 1-.1 1 0 1-.2 1-.1 1 .3 1 .2 1-.3 1 .1 1-.1 1 .1 1 0 1-.3 1 0 1 .3 1 .1 1 0 1-.2 1-.1 1-.1 1 .1 1 .2 1-.2 1 .2 1 .2 1-.1 1-.2 1 .3 1 .1 1-.1 1-.3 1 .1 1 0 1 .2 1-.1 1 .4 1 .1 1 .1 1-.2 1-.2 1 .1 1-.1 1 .3 1-.1 1-.1 1-.1 1-.4 1 .5 1 .1 1 0 1 .1 1 0 1 .1 1-.1 1 .1 1-.4 1 .5 1-.4 1 .5 1 0 1-.3 1 0 1 .4 1-.3 1 .3 1 .1 1 0 1-.1 1 0 1 .2 1 0 1-.4 1 .1 1 .1 1 0 1 .2 1-.4 1-.2 1-.3 1 0 1-.1 1 .5 1 .1 1-.1 1 .2 1-.3 1 .4 1-.3 1 .5 1 .1 1 .2 1 0 1 0 1-.2 1 .3 1-.2 1 .5 1-.1 1 0 1-.5 1-.2 1 .3 1-.4 1 .7 1-.1 1-.1 1 .5 1-.2 1-.3 1-.1 1 .1 1 0 1-.2 1 .2 1-.1 1 .3 1-.6 1 0 1-.1 1-.1 1 .4 1-.1 1 .3 1-.5 1 .1 1 0 1-.2 1 .1 1-.3 1 .4 1 .2 1-.5 1 .8 1-.2 1 0 1-.4 1-.2 1 .1 1 .1 1 0 1-.1 1-.2 1 .1 1 .1 1 .1 1 .1 1-.2 1 .4 1-.2 1 .2 1 0 1-.1 1 .6 1 .1 1-.3 1 .3 1-.1 1-.5 1 .4 1-.3 1 .1 1 .2 1-.5 1-.2 1 .1 1 .2 1 .1 1-.3 1 .4 1 0 1 0 1 0 1 .1 1-.1 1 0 1 0 1-.1 1 0 1 .4 1-.3 1 .5 1-.3 1 .1 1 .1 1 .1 1 0 1-.1 1 .4 1-.2 1-.2 1 .2 1-.6 1 .1 1-.2 1-.1 1 .2 1-.3 1 .3 1 .3 1 .1 1 .1 1-.2 1 .2 1 .2 1 0 1-.1 1 .1 1-.1 1 .3 1-.3 1 0 1 .3 1 0 1-.3 1 .3 1 .3 1-.2 1 .2 1-.1 1-.4 1 .3 1 .5 1 .3 1-.3 1-.7 1 .3 1 0 1 0 1-.3 1 .4 1 .2 1-.2 1 .2 1-.2 1 0 1-.1 1 .1 1-.1 1 0 1-.2 1 .4 1 .1 1 .6 1-.1 1 .4 1-.7 0 10.5 -1 .4 -1-.3 -1 .1 -1-.5 -1 .3 -1-.2 -1 .3 -1-.2 -1 .2 -1 0 -1-.1 -1-.1 -1 0 -1-.2 -1 .4 -1-.4 -1-.2 -1 0 -1 .1 -1 .1 -1-.7 -1 .4 -1 .3 -1 .2 -1-.5 -1-.3 -1 .6 -1 .1 -1-.3 -1 .3 -1 0 -1 .3 -1-.1 -1 0 -1 0 -1 .1 -1 0 -1-.1 -1 0 -1 0 -1-.1 -1-.1 -1 .1 -1-.2 -1 .2 -1 .1 -1 0 -1-.2 -1 0 -1-.1 -1-.2 -1 .1 -1 .4 -1 0 -1 .3 -1-.4 -1 .2 -1-.1 -1-.2 -1 .3 -1 .1 -1 0 -1-.1 -1-.4 -1-.1 -1 0 -1 .1 -1-.2 -1-.1 -1 .1 -1-.2 -1-.3 -1 .2 -1 .3 -1 .2 -1-.3 -1 0 -1-.1 -1 0 -1 0 -1-.2 -1 .5 -1 0 -1 .2 -1-.1 -1-.5 -1 .5 -1-.2 -1 .3 -1 .4 -1-.4 -1 .5 -1-.1 -1-.5 -1 .1 -1 0 -1 .2 -1-.4 -1-.4 -1 .6 -1-.3 -1-.2 -1-.1 -1-.3 -1 .7 -1 .1 -1-.3 -1 .2 -1-.1 -1 0 -1 .4 -1-.4 -1 .1 -1-.6 -1 0 -1 .4 -1-.4 -1 0 -1 .3 -1 0 -1-.1 -1-.2 -1 .4 -1-.2 -1-.1 -1-.2 -1 0 -1-.2 -1 0 -1 .4 -1-.3 -1 0 -1 0 -1 .2 -1 0 -1-.3 -1-.1 -1 .5 -1 0 -1 .1 -1-.1 -1 0 -1-.6 -1 .4 -1-.2 -1-.1 -1 .2 -1 .1 -1 .1 -1-.4 -1 .3 -1-.4 -1 0 -1 .1 -1-.2 -1-.1 -1 .1 -1-.2 -1 .8 -1-.5 -1 .5 -1-.4 -1 .1 -1-.6 -1-.5 -1 .5 -1 .1 -1 0 -1 .6 -1 .1 -1-.1 -1 .1 -1-.2 -1-.1 -1 .1 -1 .5 -1-.5 -1 0 -1 .4 -1 0 -1-.1 -1-.6 -1 .6 -1-.1 -1-.3 -1 .2 -1-.1 -1-.2 -1 .4 -1-.5 -1 .2 -1 .2 -1 .1 -1-.1 -1-.2 -1-.2 -1 .1 -1-.4 -1-.4 -1 .2 -1 .1 -1 .2 -1 .1 -1-.1 -1 .2 -1 0 -1 .4 -1 0 -1-.4 -1 .5 -1-.2 -1 0 -1 0 -1-.3 -1-.4 -1 .3 -1 .2 -1-.2 -1 0 -1 .1 -1 0 -1 .1 -1 .2 -1 .2 -1-.3 -1 0 -1 .4 -1-.4 -1 .1 -1 0 -1-.4 -1-.3 -1 .2 -1 .1 -1 .2 -1-.1 -1 0 -1-.1 -1 .3 -1-.1 -1-.1 -1-.1 -1 .4 -1 .2 -1 0 -1-.4 -1-.1 -1 .2 -1-.1 -1-.2 -1-.1 -1 .4 -1 .1 -1 0 -1 .1 -1-.2 -1-.1 -1-.2 -1 0 -1-.1 -1 0 -1 .2 -1-.1 -1 .4 -1-.3 -1 .4 -1-.5 -1 .2 -1-.8 -1-.2 -1 .4 -1 .4 -1-.8 -1 .1 -1 0 -1 0 -1 .3 -1-.4 -1 .7 -1 .1 -1-.4 -1-.1 -1 0 -1 .2 -1-.1 -1 .5 -1 0 -1-.2 -1 0 -1 0 -1 0 -1 .1 -1-.1 -1 .1 -1 .4 -1 .5 -1-.2 -1-.2 -1 .1 -1 0 -1-.2 -1 0 -1-.4 -1 0 -1 .3 -1-.8 -1 .4 -1 .1 -1-.1 -1 .2 -1-.3 -1 .1 -1-.2 -1 .5 -1 0 -1 .2 -1-.3 -1 .2 -1-.3 -1 .3 -1-.5 -1 .3 -1 .1 -1 0 -1-.2 -1 .1 -1 0 -1-.4 -1-.4 -1 .2 -1-.3 -1-.3 -1 .3 -1-.3 -1 .5 -1-.2 -1 .5 -1-.4 -1 0 -1 .6 -1-.6 -1 .5 -1 .2 -1-.4 -1-.2 -1-.2 -1 .3 -1-.1 -1-.1 -1 .1 -1 .2 -1 0 -1 .1 -1-.4 -1-.2 -1 0 -1 .1 -1 .1 -1 .5 -1-.2 -1-.3 -1 .4 -1-.1 -1 .2 -1 .2 -1-.1 -1 .4 -1 .3 -1-.3 -1 0 -1-.1 -1-.4 -1 .3 -1 0 -1 .1 -1 .3 -1-.1 -1-.3 -1-.5 -1-.1 -1 0 -1 .3 -1 0 -1-.9 -1 .3 -1 .3 -1 .2 -1-.4 -1 .1 -1 0 -1-.3 -1 .3 -1 .2 -1 .4 -1-.4 -1 .1 -1-.1 -1-.2 -1-11.7z" fill="rgba(254,0,206,0.25)"/>
<path d="M0 622.1l1 3.6 1 0 1 0 1 .2 1 0 1-.4 1 .4 1-.4 1 .3 1-.1 1 0 1 .3 1-.1 1 .1 1-.3 1 .6 1-.2 1-.5 1 .3 1-.1 1 .3 1 .2 1-.1 1 0 1-.1 1 .1 1-.1 1 .1 1 .3 1 0 1 0 1-.3 1 0 1 0 1 .2 1-.2 1 .2 1-.2 1 0 1 .2 1-.2 1 .1 1-.2 1-.1 1 .4 1 .4 1-.2 1 .2 1 0 1 0 1-.2 1-.2 1-.3 1 .2 1 .3 1 0 1-.2 1 0 1 .2 1-.2 1 .1 1 .2 1-.5 1 .2 1-.3 1 .4 1-.1 1 .2 1 .2 1-.2 1 .2 1 .2 1-.2 1-.1 1 .1 1 0 1 .1 1-.4 1 .4 1-.4 1 0 1-.2 1 .1 1 0 1 0 1 0 1-.1 1 .1 1 .3 1 .1 1-.1 1 .2 1-.3 1 .1 1-.1 1 .1 1 .1 1 0 1-.1 1 .2 1 0 1 .3 1 0 1-.2 1-.2 1 .1 1 .1 1-.1 1 0 1 .1 1 0 1 .2 1-.2 1-.1 1 .2 1 0 1-.2 1 .2 1 .2 1 .2 1-.5 1 .2 1-.2 1-.2 1 0 1 .1 1 .6 1 0 1-.5 1 .1 1 .4 1-.2 1 .8 1-.3 1 .4 1-.3 1-.1 1 .1 1 0 1-.2 1 .1 1-.1 1 0 1 .2 1 .1 1-.2 1-.1 1-.1 1 0 1 .2 1 .1 1-.5 1 .1 1 .3 1-.1 1 0 1-.1 1-.2 1 .2 1 .4 1-.3 1 .2 1-.1 1 .1 1 0 1-.1 1-.2 1 .2 1 .2 1 0 1-.2 1 0 1-.3 1 .2 1 .1 1-.1 1 .1 1 0 1 .1 1 0 1 .2 1 .2 1-.1 1-.2 1 .2 1 0 1 .1 1 .1 1 .2 1-.2 1 .3 1-.1 1-.1 1 .1 1-.3 1 .3 1 0 1-.2 1 0 1-.3 1 .4 1 .2 1-.1 1 0 1 .1 1 .2 1-.2 1 0 1-.4 1 .6 1-.5 1 .3 1-.2 1 .1 1 .1 1 .2 1-.3 1 .4 1 0 1-.1 1 0 1 0 1 .3 1 0 1-.3 1 0 1 .1 1 0 1 .3 1-.3 1-.2 1-.4 1 0 1-.2 1 .3 1 .4 1-.1 1 .2 1-.4 1 .4 1-.3 1 .3 1 .2 1 0 1 0 1-.1 1-.2 1 .3 1-.2 1 .2 1 0 1-.1 1-.2 1-.1 1 .1 1-.1 1 .4 1 0 1 0 1 .2 1 .1 1-.3 1-.1 1 .3 1-.1 1-.2 1 .1 1 0 1 .2 1-.3 1 .1 1 0 1-.1 1 .4 1 .1 1 .2 1-.4 1 .1 1 0 1 0 1 .1 1-.3 1 .2 1 0 1-.3 1 .6 1-.2 1 .1 1-.2 1-.2 1 .1 1 0 1 0 1 .1 1-.4 1 .2 1 0 1 .3 1 .1 1-.2 1 .3 1 0 1 0 1 0 1 0 1 .4 1 .1 1-.5 1 .4 1-.1 1-.3 1 .1 1-.2 1 .1 1 .2 1-.4 1 0 1-.1 1 .2 1 .1 1 0 1 .1 1 0 1 .3 1-.2 1 0 1-.4 1 .1 1 .1 1 0 1 0 1 .1 1 0 1 0 1 0 1 .3 1 .1 1 0 1 0 1-.2 1 .2 1 .1 1 0 1 .1 1-.4 1 .1 1-.3 1-.1 1 .1 1-.1 1 .1 1 .2 1 0 1 .1 1-.1 1 .1 1 0 1 .1 1 0 1 0 1 0 1 .1 1 .1 1 0 1 .1 1-.3 1 0 1 .1 1 .1 1-.3 1 .2 1-.1 1-.4 1 .4 1 .2 1 .2 1-.1 1-.3 1 .2 1 .2 1 .1 1-.1 1 .1 1 0 1-.1 1 .1 1-.1 1 .2 1 0 1 .2 1-.2 1 .1 1-.1 1 .3 1-.1 1 .4 1 .1 1 0 1-1.7 1 0" fill="none" stroke="#FE00CE" stroke-width="3.6" vector-effect="non-scaling-stroke" stroke-linejoin="round"/>
</g>
<path d="M590.7 612.9 599.9 603.7 609.1 612.9 599.9 622.1 609.1 631.3 599.9 640.5 590.7 631.3 581.5 640.5 572.3 631.3 581.5 622.1 572.3 612.9 581.5 603.7Z M938.1 620.7 947.3 611.5 956.5 620.7 947.3 629.9 956.5 639.1 947.3 648.3 938.1 639.1 928.9 648.3 919.7 639.1 928.9 629.9 919.7 620.7 928.9 611.5Z" fill="#FE00CE"/>
</g>
<g clip-path="url(#c12)">
<g transform="translate(1096.60 0) scale(0.8685 1)">
<path d="M0 600.9l1 1.2 1-.3 1-.5 1 .1 1-.4 1-.3 1 .4 1 .5 1-.3 1-.5 1 .2 1 .4 1-.4 1 .3 1 .1 1-.2 1 .1 1 0 1-.1 1 .1 1-.1 1 0 1-.3 1 .6 1-.3 1-.2 1 .5 1-.3 1 .1 1-.1 1 .4 1 .4 1-.4 1-.3 1-.1 1 .2 1 .2 1-.2 1 .3 1-.3 1-.1 1 .5 1-.6 1 .1 1 .1 1 .2 1-.2 1 .3 1 .2 1-.2 1 .4 1-.3 1 .5 1-.3 1-.3 1-.1 1-.3 1-.2 1 .4 1-.6 1 0 1 .3 1 .5 1 .1 1-.5 1 .1 1 .6 1 .1 1-.9 1 .7 1-.1 1-.2 1 .2 1-.6 1 .8 1-.1 1 .6 1-.3 1 .3 1-.3 1 0 1-.4 1-.2 1 .7 1-.4 1 .8 1 .5 1-.5 1 .5 1-.3 1 .5 1-.3 1-.5 1 .5 1-.2 1 .1 1 .1 1-.2 1-.1 1 .5 1-.1 1 0 1-.3 1 0 1 .2 1 .5 1-.2 1-.2 1 0 1-.2 1 .2 1-.3 1-.7 1 .1 1 .6 1 .1 1-.2 1-.3 1-.1 1-.2 1 .1 1-.3 1 .2 1-.3 1 .3 1-.1 1-.2 1 .1 1-.1 1 .1 1 .4 1-.4 1 0 1-.4 1 .1 1-.4 1-.2 1 .4 1-.3 1 .3 1 .1 1-.7 1 .2 1-.4 1 .7 1 .1 1-.1 1 .2 1-.7 1 .3 1 .1 1-.7 1 .2 1-.2 1-.2 1 .2 1-.1 1 .2 1 .7 1-.5 1 .4 1-.2 1 0 1 .1 1-.1 1-.3 1 .4 1 .6 1 0 1 .1 1 .1 1-.5 1 0 1 .5 1-.6 1 .2 1 .1 1-.3 1 0 1 .2 1-.1 1-.6 1 .4 1-.2 1 .6 1-.4 1-.1 1 .3 1-.3 1 .1 1-.3 1 .9 1-.5 1 .4 1 .6 1-.5 1-.2 1-.2 1 0 1-.1 1 .1 1 .8 1-.2 1 0 1 .1 1 .1 1-.5 1-.1 1-.2 1 .3 1-.5 1-.2 1 .5 1 .2 1-.2 1-.2 1 .2 1 .6 1-.5 1-.1 1 .2 1-.2 1-.2 1 0 1-.3 1 .4 1-.1 1-.1 1 .2 1-.6 1 .3 1 .3 1-.6 1 0 1-.4 1 .6 1 0 1 .1 1 .5 1 .4 1-.3 1-.2 1 .2 1 .3 1-.5 1 .3 1 .5 1-.4 1 0 1-.9 1 .7 1-.7 1 0 1-.2 1 .2 1 .6 1-1.2 1 .5 1 .2 1-.4 1 0 1-.1 1 .4 1-.1 1 .6 1-.1 1 .3 1 .1 1-1.3 1 .4 1-.2 1 .3 1 .3 1-.3 1 .6 1-.2 1 .4 1 .4 1-.2 1-.2 1-.1 1 .3 1-.6 1 0 1 .5 1-.4 1 .1 1 0 1-.5 1-.1 1 .5 1 .2 1-.6 1 .4 1-.6 1 0 1 .1 1-.3 1 .2 1 .8 1-.1 1-.3 1-.2 1-.1 1-.2 1 .2 1 .1 1 0 1 0 1 .2 1-.6 1-.1 1 .2 1 .3 1-.4 1 0 1-.2 1 .5 1 0 1-.3 1 .6 1-.3 1 .7 1-.2 1 .7 1 .1 1-.5 1-.3 1-.8 1-.3 1 .3 1 .3 1 .3 1-.1 1 0 1-.2 1-.3 1-.1 1-.1 1 .1 1 0 1-.4 1 1 1-1 1-.5 1 .6 1 .2 1 .3 1 .4 1 .1 1 0 1 .1 1 .2 1-.2 1-.3 1 0 1 .1 1-.4 1 .3 1-.3 1 .2 1-.4 1 0 1 .2 1-.1 1 .1 1-.4 1 0 1-.7 1 .3 1 0 1-.1 1 .3 1 .1 1 .2 1 0 1 .4 1-.1 1 .2 1-.1 1 .5 1-.1 1 .4 1 .3 1-.1 1-.6 1 .1 1-.1 1-.3 1 .1 1 .1 1-.2 1 0 1-.1 1 .3 1-.3 1-.1 1 .4 1-.3 0 13.2 -1 .2 -1-.1 -1-.3 -1 .7 -1-.5 -1 .5 -1-.2 -1 .4 -1-.1 -1 .4 -1 .2 -1 0 -1-.4 -1 .3 -1-.2 -1 .1 -1-.6 -1 .5 -1-.6 -1-.2 -1 0 -1-.2 -1-.5 -1-.2 -1-.4 -1 .4 -1-.7 -1 .5 -1 0 -1-.7 -1 1.1 -1-.2 -1 .6 -1-.1 -1-.2 -1 .3 -1 .3 -1 .3 -1-.1 -1 0 -1 0 -1 0 -1-.4 -1 .1 -1 .7 -1 .4 -1-.4 -1-.1 -1-.2 -1 .3 -1-.2 -1-.3 -1-.5 -1-.1 -1 .4 -1 .7 -1-.6 -1 .5 -1 .2 -1-.3 -1 .3 -1 .2 -1-.3 -1 .3 -1-.1 -1 .1 -1-.5 -1 .4 -1-.3 -1 .2 -1 1 -1 .3 -1 .1 -1-.4 -1-.8 -1-.1 -1-.2 -1 .1 -1-.5 -1 0 -1-.3 -1-.7 -1 .4 -1 .1 -1-.1 -1 0 -1 .1 -1 .2 -1 .3 -1-.3 -1-.1 -1 0 -1 .1 -1-.4 -1 .5 -1-.4 -1 .3 -1 .1 -1 .3 -1-.7 -1 .3 -1-.3 -1 0 -1 .1 -1 .6 -1-.9 -1 .9 -1-.5 -1-.1 -1-.1 -1 .8 -1 .1 -1-.1 -1 .4 -1-.4 -1 .2 -1 .1 -1 .1 -1 .4 -1-.2 -1 0 -1-.1 -1-.8 -1 .3 -1-.5 -1 .2 -1-.3 -1 .2 -1-.3 -1-.2 -1 .9 -1 .1 -1 .2 -1-.4 -1-.8 -1 .2 -1-.2 -1-.4 -1-.2 -1 .8 -1-.4 -1 .1 -1 .9 -1-.7 -1 .2 -1 .2 -1-.3 -1 .9 -1-.8 -1 1 -1-.1 -1 .6 -1-.5 -1-.1 -1 0 -1-.1 -1 .6 -1 0 -1 .2 -1-.4 -1-.1 -1 .2 -1 .1 -1-1 -1 .8 -1 0 -1 .5 -1-.3 -1-.1 -1 .6 -1-.6 -1 .1 -1 .2 -1-.6 -1 .2 -1-.2 -1-.2 -1 .6 -1-.2 -1-.2 -1 .5 -1-.3 -1 .3 -1 .2 -1 .1 -1 .1 -1-.6 -1 .1 -1 .1 -1-.1 -1-.2 -1 .4 -1 .4 -1-.1 -1-.1 -1 .1 -1 0 -1-.7 -1 .2 -1-.1 -1 0 -1 .1 -1-.2 -1 .7 -1-.4 -1 0 -1 0 -1-.4 -1 0 -1-.4 -1 .5 -1-.6 -1 0 -1 .2 -1-.8 -1 .7 -1-.4 -1 1.1 -1 .3 -1-.5 -1-.1 -1-.1 -1 .4 -1-.2 -1 .4 -1-.5 -1 .1 -1 .8 -1 .1 -1-.7 -1-.2 -1-.7 -1 .1 -1 .2 -1 .3 -1 .1 -1 .2 -1 .3 -1-.6 -1 .5 -1-.4 -1-.3 -1 .2 -1 0 -1 .8 -1-.2 -1-.1 -1 .3 -1-.4 -1 .3 -1 .4 -1 .1 -1 .1 -1-.1 -1-.7 -1 .6 -1 0 -1 .1 -1 0 -1-.2 -1-.2 -1-.4 -1 .4 -1 .7 -1-.1 -1 .6 -1 .3 -1 .4 -1-.9 -1 0 -1 .1 -1-.2 -1 .4 -1 .2 -1-.8 -1 .2 -1 0 -1-.1 -1 .3 -1-.2 -1 .6 -1 .2 -1-.4 -1 .3 -1-.6 -1-.1 -1 .8 -1-.2 -1-.4 -1 1 -1 0 -1 .1 -1 .1 -1-.5 -1-.3 -1 .5 -1 .2 -1 .3 -1-.5 -1 0 -1 .1 -1-.3 -1 .3 -1 .1 -1 .5 -1-.6 -1 .6 -1 .6 -1-1.1 -1 .5 -1-.2 -1 .5 -1-.6 -1-.6 -1 .3 -1-.6 -1 .2 -1 .4 -1-.5 -1 .3 -1-.7 -1 .1 -1-.6 -1 .4 -1-1.2 -1 1.1 -1-.4 -1 .1 -1 0 -1-.1 -1 .6 -1-.3 -1 0 -1 .2 -1 .1 -1 .4 -1-.6 -1 0 -1-.6 -1 .9 -1-.3 -1 .3 -1 .2 -1 .4 -1 .3 -1 .3 -1-.6 -1-.1 -1 .1 -1 .2 -1-.6 -1 .1 -1 .1 -1 .1 -1 .2 -1-.3 -1 .7 -1-.5 -1-.4 -1 .6 -1-.2 -1-.2 -1 .4 -1-.4 -1-.2 -1 .5 -1-.1 -1-.3 -1-.2 -1-.1 -1-.1 -1 .3 -1-.6 -1 .2 -1 .3 -1 .1 -1-.4 -1-.4 -1 .4 -1 .5 -1 .3 -1-.4 -1 .6 -1 .2 -1 .4 -1-.7 -1 .7 -1-.4 -1-.5 -1 .7 -1 .4 -1-.3 -1-.5 -1-.1 -1 .2 -1 .2 -1 .5 -1-.3 -1-17.7z" fill="rgba(253,50,22,0.25)"/>
<path d="M0 600.9l1 6.9 1-.2 1-.2 1-.2 1-.5 1-.1 1 .7 1 .1 1-.4 1-.4 1 .3 1 .3 1-.3 1 .4 1 .1 1-.3 1 .1 1 0 1 .1 1 0 1 0 1 0 1 0 1 .2 1 .1 1-.3 1 .3 1-.2 1-.1 1 .3 1 .2 1 .2 1 0 1-.4 1 0 1 .1 1 .1 1 .1 1-.1 1-.2 1-.1 1 .4 1-.4 1 .1 1-.2 1 .1 1-.2 1 .2 1 .1 1-.2 1 .6 1-.2 1 .3 1 0 1-.2 1-.2 1-.4 1-.1 1 .3 1-.5 1 .1 1 .2 1 .2 1 .1 1-.2 1 0 1 .3 1 .1 1-.5 1 .3 1 .1 1-.2 1 .3 1-.4 1 .7 1-.1 1 .4 1-.2 1 .6 1-.2 1-.2 1-.3 1-.2 1 .6 1-.6 1 .7 1 .8 1-.6 1 .4 1-.4 1 .7 1 0 1-.7 1 .6 1-.1 1 .1 1-.3 1 0 1-.1 1 .1 1 .1 1-.1 1-.6 1 0 1 .1 1 .5 1 0 1-.2 1 0 1-.3 1 .2 1 0 1-.6 1-.2 1 .5 1-.2 1 .3 1-.3 1-.6 1 .2 1 .1 1-.2 1 0 1-.1 1 .2 1-.1 1-.2 1 .2 1-.1 1 0 1 .6 1-.3 1-.1 1-.5 1 0 1-.5 1-.2 1 .3 1-.2 1 .1 1 .6 1-.6 1 .3 1-.5 1 .6 1 .4 1-.1 1 0 1-.4 1 .1 1-.1 1-.4 1 .1 1 0 1-.3 1 .1 1-.3 1 .1 1 .7 1-.6 1 .5 1-.4 1-.1 1-.1 1-.1 1-.3 1 .2 1 .6 1 .2 1 .4 1 .1 1-.3 1 .2 1 .3 1-.5 1 .1 1-.2 1-.2 1 0 1 .3 1-.3 1-.8 1 .2 1-.3 1 .6 1 0 1-.2 1 .4 1-.4 1 .3 1-.2 1 .5 1-.1 1 0 1 .7 1-.5 1-.1 1 0 1-.3 1 .3 1-.2 1 .7 1-.1 1-.2 1 .1 1 .1 1-.5 1-.2 1 .3 1 .3 1-.3 1-.2 1 .6 1 0 1-.1 1-.3 1 0 1 .5 1-.3 1 0 1 .1 1-.2 1-.3 1 .4 1-.4 1 .6 1-.1 1-.2 1 .3 1-.5 1 .2 1 .3 1-.6 1 .1 1-.7 1 .7 1 0 1 0 1 .2 1 .4 1-.5 1 0 1 0 1-.1 1-.2 1 .2 1 .2 1-.3 1 0 1-.6 1 .4 1-.5 1 .1 1 .1 1 0 1 .5 1-1 1 .3 1 .4 1-.6 1 .1 1 .1 1 .4 1 0 1 .5 1 0 1 0 1 .1 1-1 1 .3 1 0 1 .3 1 .2 1-.2 1 .6 1-.2 1 .5 1 .1 1-.2 1-.2 1-.1 1 0 1-.3 1-.2 1 .3 1-.1 1 .2 1 .1 1-.5 1 .1 1 .3 1 .3 1-.7 1 .5 1-.4 1-.3 1 .2 1 0 1 0 1 .6 1-.3 1-.2 1-.1 1 .3 1-.3 1 .4 1-.2 1-.1 1-.1 1 .5 1-.7 1-.2 1 .2 1 .1 1-.3 1-.1 1 0 1 .1 1 .2 1-.1 1 .5 1-.4 1 .5 1 0 1 .7 1 .1 1 0 1-.4 1-.7 1 0 1 .2 1 .1 1 .3 1-.3 1 0 1-.2 1-.1 1 0 1-.4 1 .4 1 0 1-.5 1 .5 1-.5 1-.4 1 .4 1 .3 1 .3 1 .1 1 0 1 .2 1 .2 1 .1 1-.1 1-.2 1-.1 1 .2 1-.1 1 .3 1-.4 1 .2 1-.4 1-.2 1 .1 1 0 1 0 1-.4 1 .2 1-.9 1 .5 1 .1 1-.1 1 .1 1 .2 1 .1 1 .1 1 .2 1-.2 1 0 1 .1 1 .6 1-.3 1 .5 1 .2 1-.2 1-.4 1 0 1 .1 1-.3 1-.2 1 .1 1-.1 1 0 1-.3 1 .3 1-.4 1 .1 1 .3 1 .1 1 0" fill="none" stroke="#FD3216" stroke-width="3.6" vector-effect="non-scaling-stroke" stroke-linejoin="round"/>
</g>
<path d="M1096.6 591.7 1105.8 582.5 1115.0 591.7 1105.8 600.9 1115.0 610.1 1105.8 619.3 1096.6 610.1 1087.4 619.3 1078.2 610.1 1087.4 600.9 1078.2 591.7 1087.4 582.5Z M1444.0 597.7 1453.2 588.5 1462.4 597.7 1453.2 606.9 1462.4 616.1 1453.2 625.3 1444.0 616.1 1434.8 625.3 1425.6 616.1 1434.8 606.9 1425.6 597.7 1434.8 588.5Z" fill="#FD3216"/>
<g transform="translate(1096.60 0) scale(0.8685 1)">
<path d="M0 600.9l1-1.4 1-.4 1 .4 1 .2 1-.1 1-.1 1-.4 1-.5 1 0 1 .2 1 .7 1-.8 1 .3 1-.9 1 .1 1-.5 1 .9 1-.6 1 .4 1-.3 1 .7 1 .1 1-.2 1-.1 1-.2 1 .6 1-.1 1 0 1-.9 1 .1 1 .3 1-.4 1-.4 1 .7 1-.4 1 .1 1 .5 1-.1 1 .3 1-.3 1-.1 1 .4 1-.1 1 .1 1-.1 1 .3 1 .9 1-.6 1 .4 1-.3 1 .1 1 .6 1-.3 1 0 1-.2 1 0 1-.1 1-.6 1 .5 1-.2 1 .2 1-.9 1 .3 1-.3 1-.1 1 .5 1-.5 1 0 1-.7 1 .1 1 .7 1-.3 1 .4 1-.2 1-.1 1 .1 1 .1 1 0 1 .2 1-.1 1-.4 1-.1 1-.4 1 .2 1-.1 1-.1 1 0 1 0 1 .1 1 .4 1 .1 1-.3 1 .5 1-.6 1 .1 1-.3 1 .1 1 .7 1-.3 1 .1 1 0 1-.2 1 .2 1 0 1-.4 1 0 1 .3 1 .2 1 .1 1-.1 1-.3 1 .1 1-.4 1 .3 1 .2 1 .2 1-.2 1-.5 1 .6 1-.3 1 .1 1-.4 1 .2 1 .2 1-.2 1 .3 1 .4 1-.1 1 0 1-.2 1-.8 1 0 1 .1 1 0 1-.4 1 .3 1-.1 1-.1 1-.3 1 .4 1-.2 1 .3 1 .1 1-.1 1-.1 1-.4 1 .1 1-.1 1-.3 1 .3 1-.6 1-.1 1-.7 1 .6 1-.2 1 .1 1 0 1-.5 1-.2 1 .1 1-.5 1 .3 1 .5 1 .1 1-.8 1 1.4 1-.6 1 .2 1-1 1-.3 1 .5 1 .6 1 .2 1 .3 1-.8 1 .5 1-.1 1 0 1 .7 1-.4 1-.4 1-.1 1-.3 1 .3 1-.2 1-.4 1 .5 1-.3 1 .4 1 0 1 .3 1-.2 1-.2 1 .2 1 .2 1-.7 1 .2 1-.3 1 0 1 .1 1 .4 1-.1 1-.2 1-.2 1-.2 1 .7 1-.2 1 .1 1-.6 1 0 1 .8 1 .1 1-.1 1-.2 1-.9 1 .3 1 .2 1 .1 1-.2 1 .1 1-.2 1 .2 1-.1 1 .4 1 0 1 .2 1-.4 1-.6 1 .3 1-.4 1 .3 1 .1 1 .1 1 0 1-.1 1-.2 1 .1 1 .4 1 .1 1-.3 1 .7 1 .1 1 .3 1 .3 1-.1 1 .3 1-.5 1 .8 1-.4 1 .1 1-.5 1 .3 1-.3 1-.2 1-.4 1-.5 1 .4 1-.2 1 .1 1 .7 1 .4 1-1.1 1 .1 1-.3 1-.1 1-.1 1 .5 1-.1 1-.6 1 .7 1-.4 1 .1 1 .2 1-.2 1 0 1 .1 1-.6 1 .4 1 .6 1-.2 1-.3 1-.1 1 0 1-.4 1 .8 1-.9 1 .2 1 .1 1-.5 1 .4 1 .1 1-.3 1 0 1-.7 1-.1 1 0 1 .7 1 .3 1 0 1 .3 1-.5 1-.1 1 .7 1-.7 1 .3 1 0 1 .4 1-.5 1 0 1 .2 1-.3 1 .7 1-.1 1-.3 1 .4 1 .2 1 0 1-.1 1 0 1-.3 1 .2 1-.4 1-.1 1 .2 1 .3 1-.5 1-.3 1 .5 1-.2 1-.1 1-.4 1 0 1 0 1-.2 1 .6 1-.2 1-.1 1-.2 1 .2 1 .3 1 .2 1-.6 1 .5 1-.4 1-.1 1-.1 1-.2 1 0 1 .5 1 0 1-.5 1-.2 1 .1 1-.4 1 .2 1 .8 1-.4 1 0 1 .3 1 .1 1 0 1 .3 1-.6 1 .8 1-.9 1-.1 1-.2 1 .1 1-.4 1 .6 1 .3 1 .5 1-.2 1-.1 1 .1 1 .6 1-.1 1-.2 1 .1 1-.1 1-.5 1 .9 1-.3 1 .7 1-.9 1-.3 1 .1 1-.8 1-.1 1 .2 1 .1 1-.2 1 .3 1-.3 1 .2 1-.1 1 .6 1 0 1 .1 0 12 -1 0 -1-.1 -1-.5 -1 .4 -1-.2 -1 .2 -1-.4 -1 .3 -1-.3 -1-.4 -1 .1 -1 .7 -1 .2 -1 .4 -1 .2 -1-.7 -1 .5 -1-.6 -1 .4 -1-.3 -1 .1 -1 0 -1 0 -1-.6 -1 0 -1 .4 -1-.3 -1-.4 -1-.4 -1-.6 -1 .5 -1-.2 -1 .2 -1 .5 -1 .7 -1-.5 -1 0 -1 .1 -1-.2 -1 0 -1 0 -1-.4 -1 .2 -1-.7 -1-.2 -1 .7 -1-.1 -1 .4 -1 .4 -1 .6 -1-.2 -1-.4 -1 .4 -1-.4 -1 0 -1 .3 -1-.2 -1 .6 -1 0 -1-.5 -1 .1 -1 0 -1 .2 -1-.1 -1-1.2 -1 .9 -1-.1 -1-.3 -1 .7 -1-.3 -1 .6 -1-.4 -1 .2 -1 .6 -1 0 -1-.3 -1-.2 -1 0 -1-.4 -1 .6 -1 0 -1 0 -1-.2 -1 .1 -1-.3 -1 .7 -1 .2 -1-.6 -1 .4 -1-.5 -1-.2 -1 .8 -1-.5 -1 .1 -1-.2 -1 .6 -1-.5 -1-.1 -1 .7 -1-1 -1 .2 -1 .2 -1-.7 -1 .1 -1 .1 -1 .6 -1-.2 -1 .2 -1-.2 -1-.6 -1 .2 -1-.1 -1-.2 -1 .6 -1-.6 -1 .1 -1-.1 -1 .6 -1 .1 -1 0 -1-.3 -1-.4 -1 .4 -1-.2 -1 .6 -1 .2 -1 .2 -1-.5 -1 .5 -1-.5 -1 .5 -1-.2 -1-.3 -1-.3 -1 .6 -1 .6 -1-.4 -1 1 -1-.2 -1-.2 -1-.2 -1 .2 -1-.7 -1 .4 -1 .6 -1 .1 -1 .5 -1-.5 -1 .7 -1 0 -1 .2 -1-1 -1 .9 -1-.5 -1-.1 -1-.4 -1-.4 -1-.3 -1-.5 -1 .3 -1 .1 -1-.8 -1-.2 -1 .1 -1 .3 -1-.2 -1 0 -1-.1 -1 .2 -1 .1 -1-.1 -1 .5 -1 .3 -1 .1 -1-.1 -1-.5 -1 .1 -1-.5 -1 .9 -1-.1 -1-.1 -1-.2 -1 .2 -1-.4 -1 1 -1-.1 -1 0 -1 .4 -1-.6 -1-.5 -1 .5 -1-.5 -1 .2 -1-.3 -1 .1 -1 .2 -1-.2 -1 .4 -1-.2 -1 0 -1 .3 -1 0 -1-.5 -1 .5 -1 .2 -1-.3 -1 .8 -1-.3 -1-.5 -1 .2 -1-.3 -1 .1 -1-.4 -1 .1 -1 .5 -1-.5 -1 .1 -1 .4 -1 .5 -1 .2 -1-.6 -1 .5 -1 .2 -1-.5 -1 .7 -1-.4 -1-.2 -1-.9 -1 .1 -1 .5 -1 .7 -1-.1 -1 .8 -1-1.3 -1 .5 -1 .1 -1-.8 -1 .1 -1 .5 -1-.5 -1 .2 -1 .4 -1-.3 -1-.1 -1 .3 -1-.9 -1 .7 -1 0 -1 .5 -1-.6 -1 .2 -1 .2 -1 .1 -1 0 -1 .4 -1 .2 -1-.4 -1-.1 -1 .1 -1 0 -1 .1 -1 .1 -1 .1 -1-.3 -1 .6 -1 .1 -1 0 -1 .1 -1 .3 -1 0 -1 .5 -1 0 -1-.5 -1-.8 -1 .6 -1-.2 -1-.2 -1 0 -1-.2 -1 .7 -1-.9 -1 .5 -1 .1 -1-.1 -1 0 -1-.2 -1 .5 -1 0 -1 .1 -1 .1 -1 .4 -1-.5 -1-.5 -1 .7 -1 0 -1 .1 -1-.5 -1 .8 -1 0 -1-.3 -1 .4 -1-.7 -1-.1 -1 .3 -1-.4 -1 .8 -1-.7 -1 0 -1-.3 -1-.4 -1 0 -1 .1 -1 .2 -1-.5 -1 .4 -1-.3 -1 .4 -1 .1 -1 .5 -1 .3 -1 .1 -1 0 -1 .2 -1-.1 -1 0 -1 .2 -1-.4 -1-.1 -1-.5 -1-.1 -1 .6 -1 .3 -1 .1 -1-.3 -1 .1 -1 .8 -1-.2 -1 .6 -1 0 -1 .1 -1-.5 -1 .5 -1 0 -1-.1 -1 0 -1-.3 -1 .4 -1-.1 -1-.2 -1 .4 -1-.5 -1 .7 -1-1.2 -1-.3 -1 .2 -1 .3 -1-.2 -1-.5 -1 .1 -1 0 -1-.3 -1 .1 -1-.3 -1-.4 -1 .6 -1-.9 -1 .8 -1 .1 -1 0 -1 .2 -1 .4 -1 .3 -1-.1 -1-.7 -1 .4 -1-.3 -1 .5 -1-.2 -1-.5 -1 .1 -1-.4 -1 .9 -1-.8 -1 .4 -1 0 -1 .8 -1-.3 -1 .9 -1-.5 -1-.3 -1 0 -1 .8 -1 .4 -1 .1 -1 .2 -1-.4 -1-.1 -1-.1 -1-10.7z" fill="rgba(0,254,53,0.25)"/>
<path d="M0 600.9l1 2.8 1-.2 1 .3 1 .2 1-.1 1 0 1-.4 1-.3 1-.1 1 .3 1 .5 1-.6 1 .3 1-.8 1 .2 1-.3 1 .7 1-.7 1 .6 1-.3 1 .5 1 .1 1-.2 1-.1 1-.3 1 .4 1 0 1-.2 1-.7 1 .1 1 .2 1-.2 1-.6 1 .8 1-.4 1 0 1 .4 1-.1 1 .5 1-.2 1-.2 1 .5 1-.2 1-.1 1-.1 1 .4 1 .7 1-.6 1 .5 1-.4 1 .1 1 .6 1-.4 1 .1 1-.1 1 0 1 .1 1-.5 1 .3 1-.1 1 0 1-.7 1 .2 1-.4 1-.2 1 .5 1-.3 1-.1 1-.7 1-.1 1 .7 1-.2 1 .4 1-.1 1-.1 1-.1 1 .1 1 0 1 .1 1-.2 1-.4 1-.1 1-.2 1 .2 1-.2 1 .2 1 0 1 .2 1-.1 1 .3 1 .1 1-.1 1 .7 1-.7 1 .1 1-.1 1 0 1 .7 1-.5 1 .2 1-.2 1-.3 1 .3 1-.1 1-.4 1 0 1 .3 1 .1 1 0 1 0 1 0 1 0 1-.3 1 .1 1 .1 1 .3 1-.3 1-.4 1 .7 1-.4 1 .2 1-.3 1 .1 1 .1 1-.3 1 .7 1 .1 1 0 1-.1 1-.2 1-.6 1 0 1 .1 1 .1 1-.3 1 .3 1-.1 1 0 1-.4 1 .1 1 0 1 0 1 .2 1 0 1-.1 1-.3 1 .1 1 0 1-.3 1 .5 1-.6 1 0 1-.7 1 .5 1 0 1 0 1 0 1-.5 1-.2 1 .3 1-.2 1 0 1 .6 1-.2 1-.6 1 1.2 1-.6 1 .1 1-.9 1-.2 1 .1 1 .6 1 .2 1 .4 1-.6 1 .2 1 0 1-.1 1 .4 1-.2 1-.5 1-.1 1-.2 1 .3 1-.3 1-.3 1 .5 1-.3 1 .4 1 0 1 .3 1-.2 1-.2 1 .1 1 .2 1-.5 1 .2 1-.3 1-.2 1 0 1 .4 1-.3 1-.1 1-.2 1-.2 1 .6 1-.1 1 .2 1-.4 1-.1 1 .7 1 .1 1-.1 1-.1 1-1 1 .4 1 .2 1 .1 1-.2 1 .2 1-.5 1 .3 1-.2 1 .4 1 0 1 .2 1-.4 1-.4 1 .1 1 0 1 .2 1-.2 1 .2 1 0 1 .1 1-.2 1-.1 1 .5 1-.2 1-.2 1 .6 1 .4 1 .2 1 .5 1 0 1 .2 1-.6 1 .8 1-.4 1 .1 1-.9 1 .5 1-.2 1-.2 1-.3 1-.2 1 .4 1-.2 1-.1 1 .5 1 .3 1-1.1 1 .2 1-.4 1-.4 1 .1 1 .3 1 0 1-.5 1 .5 1-.3 1 .3 1 .3 1-.1 1-.3 1 .3 1-.6 1 .4 1 .4 1-.2 1-.3 1-.2 1 .2 1-.4 1 .6 1-.5 1 .3 1 0 1-.3 1 .4 1-.1 1-.1 1 0 1-.4 1-.1 1 0 1 .7 1 0 1 0 1 .5 1-.7 1-.1 1 .8 1-.6 1 .2 1-.1 1 .4 1-.6 1 0 1 .4 1-.3 1 .8 1-.2 1-.3 1 .3 1 0 1 .1 1-.2 1 0 1-.5 1 .2 1-.2 1-.2 1 .3 1 .2 1-.4 1-.3 1 .4 1-.2 1 0 1-.6 1 .2 1 .2 1-.4 1 .7 1-.2 1-.1 1-.1 1 .1 1 .5 1-.1 1-.3 1 .3 1-.3 1-.1 1 .2 1-.1 1 .1 1 .4 1-.1 1-.4 1-.3 1 .1 1-.4 1 .2 1 .6 1-.2 1-.1 1 .2 1 0 1 .1 1 .2 1-.5 1 .8 1-.8 1-.4 1-.2 1 .3 1-.6 1 .6 1 .5 1 .2 1-.1 1 0 1-.1 1 .7 1-.3 1-.2 1-.1 1 0 1-.5 1 .7 1-.2 1 .7 1-.5 1-.3 1 .1 1-.9 1 0 1 .1 1 .1 1-.1 1 .4 1-.2 1 .2 1 0 1 .4 1 .1 1 .6 1 0" fill="none" stroke="#00FE35" stroke-width="3.6" vector-effect="non-scaling-stroke" stroke-linejoin="round"/>
</g>
<path d="M1096.6 591.7 1105.8 582.5 1115.0 591.7 1105.8 600.9 1115.0 610.1 1105.8 619.3 1096.6 610.1 1087.4 619.3 1078.2 610.1 1087.4 600.9 1078.2 591.7 1087.4 582.5Z M1444.0 590.8 1453.2 581.6 1462.4 590.8 1453.2 600.0 1462.4 609.2 1453.2 618.4 1444.0 609.2 1434.8 618.4 1425.6 609.2 1434.8 600.0 1425.6 590.8 1434.8 581.6Z" fill="#00FE35"/>
<g transform="translate(1096.60 0) scale(0.8685 1)">
<path d="M0 597.4l1 2.4 1-.1 1 .6 1-.3 1 .2 1-.5 1-.1 1 .2 1-.2 1 .1 1 .6 1-.2 1-.4 1-.2 1 .6 1-.2 1 .1 1-.1 1-.3 1 .1 1-.2 1-.1 1-.2 1-.1 1-.2 1-.1 1 .4 1-.1 1 .9 1 .2 1-.4 1-.1 1 .2 1-.2 1-.1 1 .6 1-.3 1-.2 1-.9 1-.3 1 .1 1 .4 1 0 1-.1 1-.2 1 .2 1 0 1 .2 1 .4 1 0 1 .1 1-.5 1 .2 1 .4 1-.5 1 .4 1-.1 1 .1 1 0 1 .1 1 .6 1-.3 1 .2 1 .1 1-.6 1 .2 1-.3 1 .4 1 .4 1-.3 1 .6 1-1 1-.2 1 .4 1-.2 1-.2 1 .4 1-.1 1 .3 1-.5 1 .2 1-.3 1 .1 1-.2 1 .1 1 .1 1-.1 1-.1 1 .3 1-.2 1 .1 1 .3 1 .2 1-.9 1 .6 1-.1 1 .2 1-.4 1 .7 1-.1 1-.6 1 .4 1 .4 1 .4 1-.3 1 0 1 .2 1 0 1 .2 1 .1 1-.1 1 0 1 .5 1-.8 1 .4 1 0 1-.5 1-.3 1 .4 1-.6 1 .2 1-.4 1 .2 1-.5 1 .9 1-.7 1 .3 1 0 1 .2 1-.6 1-.7 1 .4 1 .1 1-.3 1 .5 1 0 1 .2 1 .4 1-.1 1-.2 1 .2 1-.3 1-.2 1 .1 1 .1 1 .3 1-.1 1 0 1-1 1 .2 1-.3 1 .1 1 .2 1-.3 1 .2 1 .6 1-.4 1 .7 1 .1 1 .5 1-.3 1-.1 1-.5 1 .6 1 0 1-.2 1-.1 1 .2 1-.5 1-.1 1-.2 1 .1 1 .2 1-.1 1-.3 1 .4 1-.4 1-.1 1-.4 1 .5 1 .2 1 .3 1 .2 1 .3 1-.3 1 0 1-.1 1 .4 1 .9 1-.5 1 .5 1 .2 1-.8 1 .7 1-1 1 .9 1-1 1 .6 1 .1 1-.5 1 .2 1-.5 1 .1 1 0 1-.8 1 .8 1 .2 1-.4 1 .2 1 .5 1-.1 1 .1 1-.5 1 .8 1-.2 1 .3 1 0 1-.3 1 .1 1-.5 1-.1 1 .2 1 .4 1 0 1-.1 1 .1 1-.3 1 .6 1-.4 1 .4 1-.3 1 .7 1 0 1 .1 1-.8 1 .2 1-.7 1 .1 1-.1 1 .6 1-.3 1-.6 1 .7 1-.2 1 .3 1-.5 1 .7 1-.2 1-.1 1-.2 1-.9 1 .8 1-.1 1 .2 1 .6 1-.4 1 .3 1-.3 1-.2 1 0 1 .2 1 .4 1-.2 1-.1 1-.2 1-.4 1-.3 1 .4 1 0 1 .1 1 .1 1-.1 1-.7 1 .4 1-.2 1 .3 1 .2 1-.3 1-.1 1 .1 1-.5 1 .3 1 .9 1-.1 1 .1 1 .4 1-.2 1-.1 1-.3 1 .2 1 .3 1-.2 1-.4 1 .2 1-.1 1 .3 1 0 1 .1 1-.2 1-.1 1 .3 1 .2 1 .1 1-.2 1-.2 1 .2 1 .3 1-.1 1 .2 1 .3 1-.1 1 .1 1 .3 1 .3 1-.1 1-.3 1-.4 1 .4 1-.6 1 .1 1-.4 1-.4 1 .2 1 .2 1 .3 1-.1 1-.1 1-.4 1-.5 1 .5 1-.3 1-.3 1 .1 1-.4 1 .2 1-.3 1 .6 1 0 1-.1 1 .1 1 0 1 .4 1-.3 1 .8 1-.4 1-.1 1 .2 1-.2 1-.4 1-.1 1 .1 1 .2 1-.3 1 .4 1 .1 1 0 1 .1 1-.2 1 .4 1 .2 1-.1 1-.3 1-.2 1-.1 1-.4 1 0 1-.5 1 .7 1 .4 1-.7 1 .4 1-.1 1-.1 1 .3 1 .1 1 0 1-.1 1 .3 1 .3 1 .1 1-.5 1 0 1 .2 1 .2 1-.5 1 .2 1-.1 1 .1 1 0 1-.3 1 .1 1-.3 1-.8 1-.3 1 .5 1-.4 1 .2 1 .1 1 .7 0 12.9 -1-.9 -1 .1 -1 .4 -1 .3 -1-.5 -1 .5 -1 .2 -1 .3 -1-.1 -1 0 -1 .1 -1 .2 -1-.2 -1-.1 -1 .3 -1-.6 -1-.2 -1-.1 -1 .8 -1-.5 -1-.5 -1-.2 -1 .3 -1 .4 -1-.1 -1-.2 -1 .7 -1-.1 -1-.4 -1 .4 -1-.6 -1-.5 -1 .8 -1 .3 -1 0 -1 .2 -1 .4 -1-.3 -1 .5 -1-.4 -1-.3 -1-.2 -1 .1 -1 .1 -1-.6 -1-.1 -1 .6 -1-.5 -1 .5 -1 .1 -1 .5 -1 .3 -1 .1 -1-.1 -1 .4 -1-.3 -1 .3 -1-.5 -1-.3 -1 0 -1-.5 -1 .1 -1-.5 -1 .3 -1-.1 -1 .2 -1-.7 -1 .3 -1 0 -1-.2 -1 .5 -1 .2 -1 .1 -1 .1 -1 0 -1-.3 -1-.1 -1 .3 -1 .2 -1-.3 -1 .6 -1-.4 -1 .5 -1 .2 -1-.1 -1-.4 -1-.7 -1-.1 -1 .3 -1-.6 -1 .2 -1 0 -1 .3 -1-.3 -1 .1 -1 .3 -1-.2 -1 .3 -1 .3 -1 .3 -1 .2 -1-.3 -1 .1 -1-.7 -1 .3 -1-.2 -1 .6 -1-.3 -1-.4 -1 0 -1 .3 -1 .7 -1 0 -1-.7 -1-.4 -1 .3 -1-.1 -1-.6 -1 .6 -1-.4 -1-.1 -1 0 -1 .5 -1 .1 -1-.1 -1-.3 -1 .4 -1 .6 -1-.2 -1-.1 -1-.3 -1-.1 -1 .1 -1 0 -1 .1 -1-.2 -1 .6 -1-.3 -1-.3 -1 .2 -1-.1 -1 .3 -1 0 -1 0 -1-.3 -1-.4 -1 .5 -1-1.1 -1 .3 -1 .4 -1-.2 -1 .3 -1-.4 -1 .8 -1 .1 -1 0 -1-.5 -1 .5 -1 .4 -1-.8 -1-.2 -1-.1 -1 .5 -1-.3 -1 .6 -1 0 -1 0 -1-.9 -1 .4 -1-.7 -1 .3 -1-.1 -1 0 -1 0 -1 .2 -1 .1 -1-.1 -1-.3 -1 .2 -1 .4 -1 .1 -1 0 -1 .2 -1-.6 -1 .2 -1-.5 -1 .9 -1-.3 -1 .1 -1-.5 -1-.2 -1 .1 -1 .1 -1-.3 -1 .5 -1 .3 -1-.6 -1 .6 -1-.3 -1 .3 -1 .1 -1-.6 -1 .8 -1-.9 -1 .8 -1-1.3 -1 1.1 -1-.3 -1-.4 -1 .4 -1-.7 -1 .2 -1 .1 -1 .2 -1 .1 -1 .2 -1-.2 -1-.3 -1 .2 -1-.1 -1 .3 -1 .2 -1 .3 -1-.4 -1 0 -1 0 -1-.1 -1 .2 -1-.1 -1 .3 -1 .2 -1-.2 -1-.1 -1 .1 -1 .2 -1-.6 -1 .6 -1 .1 -1 .4 -1 .1 -1-.8 -1-.3 -1-.2 -1-.5 -1 .1 -1 .1 -1-.3 -1-.2 -1 .2 -1 .1 -1 1 -1-.1 -1 .1 -1-.5 -1-.5 -1-.3 -1 .3 -1 .8 -1-.4 -1 .3 -1-.2 -1-.1 -1-.3 -1 .4 -1-.5 -1-.1 -1 0 -1-.4 -1 .9 -1 .2 -1-.1 -1 .3 -1-.6 -1 .4 -1-.7 -1 .6 -1-.1 -1 .1 -1-.1 -1 .7 -1-.6 -1 .1 -1 .3 -1 .1 -1-.5 -1 .5 -1-.3 -1-.1 -1 .4 -1-.3 -1 0 -1 .4 -1-.5 -1-.2 -1-.2 -1-.2 -1-.1 -1-.3 -1 .7 -1-.3 -1-.8 -1-.1 -1 .2 -1 .5 -1-.4 -1 .6 -1-.4 -1-.2 -1 0 -1 0 -1-.1 -1 .1 -1 .2 -1 0 -1 .1 -1 0 -1-.3 -1 .2 -1 .3 -1 .2 -1-.1 -1 0 -1 0 -1 .3 -1 .3 -1-.4 -1 0 -1 .6 -1-.1 -1-.2 -1 0 -1-1.2 -1 .5 -1-.3 -1 .4 -1 .3 -1 .1 -1-.2 -1 0 -1-.2 -1-.1 -1 .4 -1-.1 -1-.4 -1 .3 -1-.3 -1-.5 -1 .6 -1 .3 -1 0 -1-.2 -1-.3 -1-.1 -1-.1 -1 .2 -1-.5 -1 .5 -1-.3 -1-.2 -1 .7 -1 .8 -1 .3 -1-.1 -1-.4 -1 0 -1 .1 -1 .1 -1-.5 -1 .8 -1-.3 -1-.8 -1 0 -1 .3 -1 0 -1-.2 -1 .3 -1-.5 -1 .2 -1 0 -1 .2 -1 .3 -1-.1 -1-.1 -1 .4 -1-.6 -1 .2 -1 .3 -1 .2 -1-.4 -1 0 -1 .2 -1-.6 -1 .1 -1 .5 -1-.1 -1 .2 -1-.5 -1 .6 -1-16.2z" fill="rgba(106,118,252,0.25)"/>
<path d="M0 597.4l1 8.4 1-.3 1 .6 1-.3 1 .3 1-.5 1 .2 1 .3 1-.4 1 .2 1 .2 1-.2 1-.3 1-.1 1 .5 1-.3 1-.1 1 .1 1 0 1-.3 1 0 1-.1 1 0 1 0 1-.3 1 0 1-.1 1-.2 1 .8 1 .3 1-.3 1 0 1 .3 1-.3 1 0 1 .5 1-.3 1-.2 1-.8 1-.4 1 .4 1 .2 1-.2 1 .2 1-.2 1 .4 1-.2 1 .3 1 .2 1 .2 1-.1 1-.6 1 .1 1 .4 1-.4 1 .2 1 .2 1 0 1 0 1 .2 1 .2 1-.2 1 0 1 0 1-.3 1 .3 1-.5 1 .7 1 .1 1-.2 1 .3 1-.5 1-.2 1 .4 1-.2 1-.2 1 .1 1-.1 1 .2 1-.1 1-.2 1 .1 1 .1 1-.1 1 .1 1 0 1-.2 1 0 1 .2 1-.1 1 .1 1 .1 1 .3 1-.8 1 .5 1-.4 1 .2 1 0 1 .5 1 .2 1-.3 1 .2 1 .2 1 .4 1-.1 1 0 1 .3 1-.1 1 0 1 .1 1 .1 1-.1 1 .4 1-.7 1 .3 1 0 1-.3 1-.4 1 .7 1-.6 1 .2 1-.1 1 .2 1-.4 1 .8 1-.7 1 .3 1-.1 1 .1 1-.4 1-.7 1 .2 1 0 1-.2 1 .6 1-.1 1 0 1 .2 1 .1 1-.1 1 .3 1-.3 1-.2 1 .2 1 .1 1 .2 1-.1 1-.2 1-.8 1 0 1-.2 1 .3 1 .1 1-.1 1-.1 1 .3 1-.3 1 .3 1 .6 1 .1 1-.1 1-.2 1-.2 1 .5 1 .1 1-.1 1-.1 1 .1 1-.4 1-.1 1 0 1 0 1 .2 1 0 1-.2 1 .3 1-.3 1-.1 1-.5 1 .2 1 0 1 .1 1 .2 1 .1 1-.1 1 .1 1-.1 1 .1 1 .7 1-.4 1 .6 1 .2 1-.9 1 .9 1-.8 1 .7 1-.8 1 .3 1 .1 1-.5 1 .4 1-.4 1 .3 1 0 1-.6 1 .5 1 .2 1-.4 1 .2 1 .5 1 0 1 .2 1-.5 1 .4 1-.2 1 .3 1 .1 1-.2 1 .2 1-.4 1-.2 1 .4 1 .2 1 0 1-.2 1 .2 1-.1 1 .3 1-.3 1 .6 1-.5 1 .7 1-.2 1-.1 1-.6 1 .1 1-.4 1 .1 1 0 1 .9 1-.5 1-.5 1 .7 1-.2 1 .2 1-.5 1 .4 1-.5 1 .2 1-.4 1-.5 1 .8 1-.4 1 .2 1 .7 1-.3 1 .2 1-.5 1 .1 1 0 1 .1 1 .1 1 0 1-.1 1 0 1-.2 1-.2 1 .2 1 0 1 0 1-.1 1-.2 1-.4 1 .5 1 0 1 0 1-.1 1-.1 1-.2 1 .4 1-.5 1 .3 1 .4 1-.3 1 .5 1 .5 1-.2 1-.4 1-.1 1-.1 1 .5 1 .1 1-.5 1 .2 1 0 1 .5 1-.1 1 0 1-.2 1-.1 1 .1 1-.3 1 .2 1-.2 1-.3 1 .2 1 0 1 0 1-.2 1 .6 1-.2 1 .1 1 .6 1 .2 1-.1 1 0 1-.4 1 .5 1-.6 1 .2 1-.7 1 0 1 .2 1 .2 1 .1 1 0 1-.2 1-.4 1-.4 1 .3 1 0 1-.4 1 .3 1-.2 1 .2 1-.4 1 .4 1-.1 1 .1 1 .1 1 .1 1 .3 1-.3 1 .6 1-.1 1-.1 1 0 1-.1 1-.4 1-.2 1-.2 1 .4 1-.4 1 .3 1 .3 1 0 1 0 1-.1 1 .2 1 .2 1 0 1-.1 1-.2 1-.2 1-.1 1-.1 1-.5 1 .4 1 .6 1-.5 1 .3 1 0 1-.3 1 .4 1 .1 1-.2 1-.1 1 .3 1 .4 1 .2 1-.5 1 0 1 .1 1 .2 1-.4 1 .2 1 0 1 .2 1 0 1-.4 1 0 1-.2 1-.6 1-.2 1 .3 1-.2 1-.1 1 .2 1 1.6 1 0" fill="none" stroke="#6A76FC" stroke-width="3.6" vector-effect="non-scaling-stroke" stroke-linejoin="round"/>
</g>
<path d="M1096.6 588.2 1105.8 579.0 1115.0 588.2 1105.8 597.4 1115.0 606.6 1105.8 615.8 1096.6 606.6 1087.4 615.8 1078.2 606.6 1087.4 597.4 1078.2 588.2 1087.4 579.0Z M1444.0 598.1 1453.2 588.9 1462.4 598.1 1453.2 607.3 1462.4 616.5 1453.2 625.7 1444.0 616.5 1434.8 625.7 1425.6 616.5 1434.8 607.3 1425.6 598.1 1434.8 588.9Z" fill="#6A76FC"/>
<g transform="translate(1096.60 0) scale(0.8685 1)">
<path d="M0 600.9l1-5.2 1 .2 1 .1 1-.2 1 .2 1-.4 1 .6 1-.4 1 0 1-.1 1 .4 1-.2 1-.4 1 1 1-.7 1 .3 1 0 1 .2 1 .4 1-.2 1-.1 1 .2 1 .6 1-.4 1-.4 1 0 1 .1 1 .2 1-.5 1 .1 1 .3 1-.4 1 .3 1 .6 1-.6 1-.2 1 .4 1 0 1-.1 1 .6 1-.3 1-.1 1 0 1 .7 1 0 1 .1 1 0 1 0 1 .1 1 .1 1-.6 1 .3 1 .4 1 .5 1-.8 1 .3 1 0 1 .4 1-.7 1 .3 1-.6 1 .1 1 .2 1 .5 1-.5 1 .5 1-.6 1 .2 1 .1 1-.5 1 1.4 1-.3 1 .5 1-.8 1 .4 1-.5 1 .6 1-.3 1 .3 1 .3 1 .5 1-.9 1 .4 1-.6 1 .5 1 .3 1 .1 1-.8 1 .4 1 .3 1 .2 1 .1 1 .2 1-.5 1 .4 1-.5 1 .3 1 .4 1-.4 1-.1 1 .1 1 0 1 .2 1-.1 1 .3 1-.1 1 .3 1-.1 1-.2 1-.4 1 .9 1-.1 1-.1 1-.3 1-.1 1 .6 1 .2 1-.3 1 0 1-.2 1-.3 1-.1 1 0 1 .3 1 0 1 .1 1 0 1 .3 1 .1 1 .1 1 0 1-.3 1-.3 1 .1 1 0 1-.6 1-.2 1 .2 1-.2 1 .4 1-.1 1 .2 1-.2 1-.3 1 .5 1 .3 1-.1 1 0 1 .1 1-.4 1 .2 1 0 1 .2 1 0 1-.4 1 0 1 .1 1 .3 1 0 1 .3 1-.2 1-.5 1-.2 1 .3 1 .5 1-.3 1 .1 1-.2 1-.2 1 0 1 .2 1 .3 1 .3 1-.1 1 0 1 .1 1 .2 1-.3 1-.5 1 .1 1 .4 1-.1 1 .1 1-.1 1 .4 1-.1 1 .4 1-.4 1 .6 1-.5 1 .5 1-.4 1-.1 1-.1 1 .3 1 .1 1-.7 1 .4 1-.2 1-.3 1 .4 1-.7 1 .4 1 .2 1-.3 1-.2 1 .1 1 .1 1-.3 1-.1 1-.1 1 .4 1 .2 1-.1 1-.9 1 .9 1-.1 1-.4 1-.1 1-.1 1 .8 1-.5 1 .6 1-.1 1 .3 1 .4 1-.4 1 0 1-.3 1-.3 1 .7 1-.7 1 .2 1-.2 1 .7 1 .1 1-.4 1 .6 1 .1 1-.3 1 .3 1-.9 1 .1 1 0 1 .3 1 .1 1 .2 1-.4 1 .1 1-.2 1-.3 1 .3 1-.3 1 .7 1 0 1-.4 1 .3 1 .1 1-.3 1 .6 1-.4 1-.4 1-.3 1 .4 1 .4 1 0 1-.2 1-.5 1 0 1-.4 1 .5 1-.2 1 .4 1 .1 1-.5 1 .3 1-.1 1 .1 1 .5 1-.1 1 .1 1 .1 1 .2 1 0 1-.3 1-.2 1-.4 1 .1 1-.5 1 0 1 .1 1 .1 1-.7 1 .2 1 .5 1-.2 1-.3 1 .2 1 .3 1 .1 1-.1 1 .2 1 .2 1-.6 1 .8 1 .1 1-.8 1 .3 1-.4 1 .3 1-.5 1 .3 1-.1 1-.1 1 0 1 .3 1 .2 1 0 1-.3 1 .1 1 0 1 .8 1 .1 1 0 1-.4 1 .2 1-.4 1 .1 1 .2 1 .2 1-.3 1-.3 1-.2 1 .5 1 .1 1-.3 1 .2 1-.5 1-.3 1-.2 1-.2 1 .2 1 .3 1 .2 1 .2 1-.6 1 .5 1-.4 1-.2 1 .2 1 .3 1-.1 1-.4 1 .6 1-.5 1 .1 1 .3 1 .1 1-.1 1 .3 1 .4 1-.3 1-.2 1 .1 1 0 1 .1 1 0 1-.6 1 .7 1-.3 1-.3 1 .3 1 .2 1-1 1 .6 1-.1 1 .1 1-.1 1-.1 1 .5 1 .4 1 .1 1-.2 1-.1 1-.2 1 .5 1-1 1 1.1 1-.4 1-.2 1-.2 1 .2 1 0 1 .3 1-.1 1 0 1 0 1-.2 1 .1 0 15 -1 0 -1-.1 -1 .3 -1 .4 -1-.4 -1-.5 -1-.1 -1-.4 -1 .1 -1 0 -1 .2 -1-.3 -1 .5 -1-.6 -1-.1 -1 .3 -1 .1 -1-.1 -1-.1 -1-.6 -1 .2 -1 .3 -1-.1 -1 .2 -1-.6 -1 .2 -1 .7 -1-.2 -1 .2 -1 .2 -1-.1 -1 .6 -1-.1 -1 0 -1 .4 -1-.6 -1 .4 -1 .2 -1-.4 -1-.9 -1 .2 -1-.5 -1-.6 -1 .2 -1 .6 -1-.8 -1 .7 -1 0 -1-.5 -1 .1 -1 .4 -1-.2 -1-.1 -1 .8 -1 .1 -1-.2 -1 .2 -1-.3 -1 .2 -1-.2 -1 .8 -1 .2 -1-.2 -1-.2 -1-.2 -1-.6 -1 .3 -1 .7 -1 .1 -1-.6 -1-.3 -1 0 -1 .5 -1-.1 -1 .4 -1 .1 -1-.1 -1-.3 -1-.4 -1 .5 -1-.1 -1-.1 -1-.2 -1-.3 -1-.2 -1 0 -1 .2 -1-.1 -1 .4 -1-.3 -1 0 -1 .1 -1 1.1 -1-.1 -1-.7 -1 .9 -1-.2 -1-.5 -1 .1 -1-.4 -1-.6 -1 .3 -1 .2 -1 .1 -1-.5 -1-.1 -1 .4 -1-.6 -1 .5 -1-.4 -1 .3 -1 .1 -1 .3 -1-.5 -1 .7 -1-.1 -1-.1 -1 .2 -1-.2 -1 .4 -1-.5 -1 .1 -1 0 -1-.6 -1 .4 -1 .3 -1 .3 -1-.2 -1-.7 -1 0 -1-.2 -1 .4 -1 .5 -1 0 -1-.6 -1-.6 -1 .9 -1 .1 -1 .3 -1-.2 -1 .3 -1 0 -1-.6 -1 .2 -1-.5 -1-.3 -1 .2 -1 .1 -1 0 -1-.4 -1 .3 -1 .4 -1 .1 -1 .4 -1-.5 -1 0 -1-.3 -1 1.1 -1-.6 -1 .6 -1 .2 -1-.5 -1 0 -1 .4 -1-.7 -1-.1 -1-.3 -1 .5 -1-1.1 -1 .6 -1 .1 -1-.2 -1 .2 -1-.5 -1-.2 -1-.1 -1-.8 -1 0 -1-.2 -1-.2 -1 .4 -1 .6 -1 .1 -1-.5 -1 .3 -1 0 -1 .6 -1-.4 -1-.2 -1-.2 -1-.2 -1 .5 -1-.3 -1 .7 -1 .1 -1 .1 -1-.4 -1 1.4 -1-.3 -1 .2 -1 0 -1-.2 -1 .3 -1 0 -1-.8 -1 .1 -1-.2 -1 .2 -1-.2 -1 .6 -1 0 -1 .2 -1-.8 -1 .3 -1-.7 -1 .3 -1 .2 -1 .3 -1-.9 -1 .4 -1 .2 -1 .2 -1-.1 -1 .1 -1 .1 -1-.1 -1-.3 -1-.3 -1 .1 -1-.1 -1 .1 -1-.2 -1 .2 -1 .3 -1-.5 -1-.2 -1 .1 -1 .2 -1 .1 -1-.2 -1-.4 -1-.2 -1 .4 -1 .2 -1 0 -1 .1 -1-.5 -1-.1 -1 .5 -1 .6 -1 .1 -1-.1 -1-.1 -1 .4 -1-.5 -1 .2 -1 .1 -1-.3 -1 .5 -1-.6 -1-.2 -1 .3 -1-.1 -1 .3 -1 .2 -1-.1 -1 .3 -1 0 -1-.1 -1 .2 -1-.1 -1 0 -1 .3 -1-.2 -1-.2 -1-.1 -1-.2 -1 .2 -1-.2 -1 .5 -1-.1 -1 .3 -1-.7 -1-.1 -1 .1 -1 .4 -1 .1 -1-.1 -1-.8 -1 .7 -1 .2 -1 .1 -1-.6 -1-.1 -1-.1 -1-.1 -1-.4 -1-.2 -1-.2 -1 .2 -1 .3 -1-.3 -1-.4 -1 .4 -1-.2 -1 .2 -1-.7 -1 0 -1-.1 -1 .3 -1-.9 -1 .4 -1-.2 -1-.4 -1-.1 -1 .3 -1-.1 -1 .8 -1 0 -1-.1 -1-.2 -1 .6 -1-.6 -1 .4 -1-.5 -1 1.2 -1-.4 -1 .2 -1-1.1 -1 .8 -1-1.1 -1 .3 -1 .5 -1-.4 -1 .3 -1-.5 -1 0 -1 0 -1 .2 -1-.4 -1 .9 -1-.2 -1 .3 -1-.7 -1 .7 -1-.3 -1-.6 -1-.7 -1 .7 -1-.1 -1-.6 -1 .5 -1 .4 -1 0 -1-.1 -1-.6 -1 .5 -1-.5 -1 .2 -1-.8 -1 .6 -1-.1 -1-.8 -1 .5 -1 .3 -1-.7 -1-.2 -1 .2 -1 .1 -1-.6 -1 .4 -1-.1 -1-.2 -1-.4 -1 .3 -1 .1 -1-.7 -1 .2 -1 .6 -1-.2 -1-.2 -1 0 -1-.1 -1-.5 -1 .7 -1-.8 -1 .6 -1 .1 -1-.1 -1 .3 -1-.3 -1-.1 -1-.6 -1 .6 -1-.1 -1 .2 -1 .3 -1-.1 -1-9.1z" fill="rgba(254,0,206,0.25)"/>
<path d="M0 600.9l1 0 1 .2 1 0 1-.2 1 .2 1-.3 1 .7 1-.1 1 0 1-.1 1 .1 1-.1 1-.4 1 .8 1-.7 1 .2 1 .1 1 0 1 .4 1-.1 1-.2 1 0 1 .6 1-.3 1-.1 1-.1 1 .1 1 .4 1-.6 1 .2 1 .3 1-.4 1 .3 1 .7 1-.6 1-.2 1 .4 1 .2 1-.3 1 .6 1-.3 1 .1 1-.2 1 .6 1-.1 1 .2 1-.1 1-.3 1 .2 1 .1 1-.6 1 .4 1 .4 1 .5 1-.7 1 .4 1 0 1 .3 1-.6 1 .1 1-.5 1 0 1 .2 1 .5 1-.3 1 .4 1-.5 1 0 1 .4 1-.4 1 1 1-.1 1 .4 1-.7 1 .3 1-.4 1 .5 1-.3 1 .3 1 .2 1 .3 1-.7 1 .3 1-.5 1 .4 1 .4 1 0 1-.7 1 .5 1 .1 1 .3 1 0 1 .3 1-.5 1 .5 1-.4 1 .4 1 .3 1-.3 1-.2 1 .3 1 0 1 .2 1-.2 1 .4 1 .1 1 .1 1-.1 1-.2 1-.4 1 .8 1-.2 1-.1 1-.3 1-.1 1 .4 1 .4 1-.3 1 0 1-.5 1-.2 1-.2 1 .1 1 .1 1 .2 1-.1 1-.1 1 .2 1 .2 1 0 1 .1 1 0 1-.4 1 .2 1-.2 1-.4 1-.1 1 .1 1 .1 1 .2 1-.1 1 .2 1-.1 1-.3 1 .7 1 0 1 0 1-.2 1-.1 1-.4 1 .2 1 .1 1 .1 1-.1 1-.2 1 .1 1-.1 1 .2 1 .2 1 .1 1 0 1-.5 1-.2 1 .2 1 .6 1-.4 1-.1 1 0 1 0 1-.2 1 .2 1 .3 1 .3 1 0 1 .2 1 0 1 .2 1-.2 1-.4 1 0 1 .2 1-.4 1 0 1 0 1 .5 1-.1 1 .5 1-.4 1 .3 1-.4 1 .4 1-.6 1 0 1 .1 1 .2 1 .2 1-.6 1 .3 1-.3 1-.4 1 .5 1-.7 1 .6 1 .2 1-.3 1 0 1 .1 1-.1 1-.1 1-.2 1-.1 1 .5 1 0 1 0 1-.6 1 1 1-.4 1-.3 1-.2 1-.1 1 .6 1-.4 1 .5 1 0 1 .2 1 .4 1-.4 1 .2 1-.3 1-.1 1 .7 1-.6 1 .2 1-.1 1 .6 1 0 1-.5 1 .7 1 .1 1-.2 1 .2 1-.7 1 0 1-.1 1 .2 1-.1 1 .4 1-.5 1 .1 1 0 1-.3 1 .2 1-.1 1 .2 1 .1 1-.3 1 .2 1 .1 1-.1 1 .4 1-.3 1-.3 1-.4 1 .4 1 .3 1 .2 1-.1 1-.5 1-.2 1-.2 1 .5 1-.1 1 .3 1 0 1-.4 1 .2 1-.2 1 .1 1 .5 1-.1 1 .2 1 0 1 .1 1 0 1-.3 1-.1 1-.3 1 0 1-.3 1 .1 1 0 1 .2 1-.6 1 .3 1 .3 1-.3 1-.1 1-.1 1 .2 1 .2 1-.2 1 .1 1 .3 1-.6 1 .6 1 .1 1-.6 1 .3 1-.2 1 .3 1-.3 1 .2 1-.1 1-.2 1 .1 1 .5 1 .3 1 0 1-.3 1 0 1 .1 1 .6 1 .2 1 0 1-.4 1 .3 1-.4 1 0 1 .1 1 .2 1 0 1-.4 1-.4 1 .6 1 .1 1-.4 1 .2 1-.4 1-.4 1 .1 1-.3 1 .2 1 .2 1 .2 1 0 1-.7 1 .3 1 .1 1-.3 1-.1 1 .4 1-.1 1-.4 1 .6 1-.6 1 .1 1 .3 1 .3 1 0 1 .3 1 .4 1-.2 1-.1 1 .2 1-.2 1-.1 1 .2 1-.7 1 .2 1-.3 1-.2 1 .2 1 0 1-.7 1 .7 1-.3 1 .2 1-.1 1-.2 1 .4 1 .5 1-.1 1-.2 1 0 1-.3 1 .5 1-.8 1 .7 1-.1 1-.2 1 .1 1 .5 1 0 1 .4 1 .3 1-.2 1-.1 1-.1 1 .7 1 0" fill="none" stroke="#FE00CE" stroke-width="3.6" vector-effect="non-scaling-stroke" stroke-linejoin="round"/>
</g>
<path d="M1096.6 591.7 1105.8 582.5 1115.0 591.7 1105.8 600.9 1115.0 610.1 1105.8 619.3 1096.6 610.1 1087.4 619.3 1078.2 610.1 1087.4 600.9 1078.2 591.7 1087.4 582.5Z M1444.0 597.2 1453.2 588.0 1462.4 597.2 1453.2 606.4 1462.4 615.6 1453.2 624.8 1444.0 615.6 1434.8 624.8 1425.6 615.6 1434.8 606.4 1425.6 597.2 1434.8 588.0Z" fill="#FE00CE"/>
</g>
<g clip-path="url(#c13)">
<g transform="translate(1602.40 0) scale(0.8690 1)">
<path d="M0 729.5l1 1.2 1 0 1 .1 1-.5 1 .1 1 .3 1-.3 1 .4 1 .3 1-.7 1 0 1-.2 1 .5 1-.6 1-1 1 .5 1 .2 1 .2 1 .3 1 0 1 .3 1 .6 1 .2 1-.2 1 .2 1-.3 1 .3 1-.5 1 .5 1-.4 1 .4 1-1 1-.2 1 .6 1-.2 1-.3 1 .7 1-.2 1-.6 1-.7 1 .1 1 .3 1 0 1-.1 1-.1 1 .7 1-.4 1 0 1 .2 1-.2 1 .2 1 .4 1 .1 1-.4 1-.4 1-.1 1 .5 1-.3 1 0 1-.3 1 .2 1-.1 1-.3 1 .1 1 .2 1 .4 1 .2 1-.4 1 .7 1 .3 1 .9 1-.7 1 .4 1 .4 1-.9 1 .3 1-.4 1-.4 1 .1 1 0 1-.7 1 .3 1-.1 1 .3 1-.6 1 .6 1-.6 1 .1 1 .6 1 .1 1-.6 1 .4 1 0 1-.3 1-.7 1 .6 1-.4 1-.5 1 0 1 .8 1 .3 1-.1 1 .5 1 0 1 .4 1 .2 1 .2 1 .2 1-.9 1-.4 1 .1 1-.4 1 .2 1-.8 1-.2 1 0 1 .6 1 0 1-.4 1 .9 1-.7 1 .6 1 .3 1-1.2 1 .5 1-.1 1-.2 1 .5 1-.5 1 .3 1 .2 1-.1 1 .2 1-.1 1 .5 1 .1 1 .2 1 0 1-.7 1 0 1 .4 1-.1 1-.9 1 .2 1-.4 1-.8 1 .1 1 1.1 1 .2 1-.4 1 0 1 .1 1 .3 1 .2 1-.3 1 .5 1 .3 1-.5 1 0 1-.6 1-.1 1 .4 1 .2 1-.4 1 .5 1-.4 1 .4 1-.1 1-.3 1-.1 1 .1 1 .1 1 .2 1 .4 1-.2 1-.6 1 .6 1-.7 1 .7 1-.6 1-.1 1-.3 1 .4 1 .6 1 0 1-.6 1 .1 1-.1 1-.7 1 .3 1 .2 1 .8 1-.1 1 .2 1-.8 1 .2 1 .3 1-.9 1-.1 1 .3 1-.1 1-.3 1 .6 1-.3 1-.4 1 .4 1-.2 1-.5 1 .1 1-.7 1 .7 1 .5 1-.3 1-.7 1 0 1 .2 1 .2 1 .5 1 .4 1-.1 1-.4 1 0 1 .4 1 .3 1-.6 1-.1 1-.7 1 .9 1-1 1 .7 1-.3 1 .4 1 0 1-.4 1 .9 1-.3 1 .2 1-.1 1 .3 1 .4 1-.6 1 .1 1-.2 1 .5 1-.7 1-.4 1 .6 1-.3 1 .6 1-.9 1 .5 1-.8 1-.3 1 .9 1 .1 1-.1 1-.5 1 .1 1 0 1 .2 1-.1 1 .2 1 0 1 .5 1 .6 1-.5 1-.2 1-.5 1 .1 1-.2 1 .2 1-.4 1 .4 1 .3 1-.7 1-.1 1-.5 1-.1 1 .7 1 .1 1-.2 1-.5 1 .5 1-.5 1-.2 1 0 1 .1 1 .1 1-.6 1 .7 1 .3 1 .2 1 .1 1-.6 1-.1 1-.1 1 .3 1 .2 1 .1 1 1 1 .1 1-.7 1-.1 1-.3 1 .3 1-.1 1 .1 1 0 1 0 1 .2 1-.8 1 .8 1-.1 1-.5 1 .4 1 1 1-.2 1 0 1-.8 1-.1 1 .2 1-.1 1 .7 1 0 1 .1 1-.7 1 .4 1-.7 1-.2 1 .5 1 0 1 .2 1-.8 1 .4 1-.8 1 0 1 .5 1-.2 1-.1 1 .1 1-.1 1-.4 1 .5 1-.2 1-.5 1-.2 1-.3 1 0 1-.3 1 0 1 .3 1-.2 1 .1 1 0 1-.1 1 1 1-.6 1 .5 1-.4 1 .1 1 .3 1 .5 1-.8 1 .6 1-.4 1 0 1 .1 1-.2 1 .1 1 .1 1-.2 1-.2 1-.5 1 .2 1-.1 1-.4 1 .2 1 .6 1-.4 1 .3 1 .5 1-.6 1 .1 1 .6 1-.8 1 .5 1 .1 1-.5 1 0 1 .1 1 0 1-.5 1-.8 1 .4 1-.2 1-.2 1 .1 1 .7 1-.5 0 22.3 -1-.2 -1-1 -1-.2 -1 1.1 -1-.6 -1-.6 -1 1.8 -1-.1 -1 .5 -1-.1 -1-.7 -1 .4 -1 0 -1 .2 -1 1.2 -1-.4 -1-.1 -1 .3 -1-.2 -1-.5 -1 .2 -1-.6 -1 0 -1-.1 -1 .3 -1-.3 -1 .5 -1-.3 -1 .7 -1 .4 -1 0 -1 0 -1-.2 -1 .4 -1 .3 -1-.3 -1 1.1 -1-.6 -1-.8 -1 .3 -1-.2 -1-.9 -1 .8 -1-.7 -1 .1 -1-.3 -1-.6 -1 .6 -1-.6 -1 .2 -1 .2 -1-.4 -1 .5 -1 .4 -1 .1 -1-.6 -1 .5 -1 .8 -1-.1 -1-.1 -1 .2 -1 1.2 -1-.4 -1-.6 -1 .7 -1-.3 -1-.1 -1-.4 -1-.3 -1-.3 -1-.3 -1 .2 -1-.5 -1 .6 -1-.3 -1 .7 -1-.3 -1-.1 -1-.3 -1 .1 -1 1 -1 .4 -1-.3 -1-.9 -1-.4 -1 .2 -1 .5 -1-.9 -1 .7 -1-.6 -1 .5 -1-.2 -1 .3 -1-.2 -1-.1 -1 .7 -1 .3 -1 .5 -1 .1 -1-.5 -1 .4 -1-.7 -1 .5 -1 .5 -1 .1 -1-.4 -1-.5 -1-.5 -1-.3 -1-1.2 -1 .9 -1-.4 -1 .2 -1-.1 -1 .1 -1 .3 -1 .1 -1 .3 -1 .4 -1-.1 -1 .6 -1 .3 -1 0 -1-.2 -1-.1 -1 .6 -1-.6 -1 .4 -1 .3 -1 0 -1-.4 -1 .5 -1 .4 -1 .4 -1-.7 -1 0 -1-.2 -1-.1 -1 .3 -1-.6 -1-.4 -1-1 -1 .6 -1-.1 -1-.1 -1-1.2 -1 .3 -1 .9 -1-1.2 -1 1.5 -1-.2 -1-.1 -1-.2 -1 .6 -1 1.4 -1-.7 -1 .7 -1-.1 -1 0 -1-.6 -1-.5 -1 .7 -1-.1 -1 .2 -1-1 -1-.1 -1-.7 -1-.7 -1 .8 -1-.5 -1 1.4 -1-1 -1 .8 -1 .1 -1 1 -1 0 -1-.4 -1 .1 -1 .1 -1 .6 -1-.8 -1-1.3 -1-.1 -1-.2 -1 .1 -1 .5 -1-.5 -1-.2 -1-.2 -1 .9 -1 .1 -1 .3 -1-.2 -1 .5 -1 .4 -1-.2 -1-.7 -1 .5 -1-.3 -1-1.2 -1 1.4 -1 1.2 -1-.6 -1 .1 -1 .8 -1-.7 -1 .6 -1-1.2 -1-.2 -1-.7 -1 .4 -1 .5 -1 .2 -1-.5 -1-.3 -1 .2 -1-.9 -1 .5 -1-.7 -1 1.5 -1-1.5 -1 1.3 -1-.7 -1 .3 -1 .1 -1 .1 -1-.2 -1-.3 -1 .2 -1-.3 -1 0 -1 .7 -1-.2 -1 .2 -1-.4 -1 .2 -1 .1 -1 .1 -1 .4 -1-.3 -1 .7 -1 1 -1-.6 -1-.4 -1 1 -1-.4 -1-.9 -1 .1 -1-.1 -1-.2 -1 .1 -1-.6 -1-.3 -1 .7 -1 .9 -1 .1 -1-.2 -1-.2 -1-.5 -1 .7 -1-.1 -1-.1 -1 .2 -1-.9 -1-.1 -1 .2 -1-.6 -1 .3 -1 0 -1-.4 -1 .7 -1-.5 -1 .7 -1 .6 -1-.1 -1 .4 -1-.1 -1-.8 -1 1.5 -1-.5 -1-.2 -1 .5 -1-1 -1 0 -1 .2 -1 .5 -1-.1 -1 1.7 -1-1.3 -1 .8 -1 .3 -1-.2 -1 .3 -1-.6 -1-.5 -1-.2 -1 .1 -1-.8 -1 .1 -1-.5 -1 .2 -1 .1 -1-.2 -1 .6 -1-.2 -1 .1 -1 .4 -1-.3 -1-.3 -1-.7 -1-.6 -1 0 -1 0 -1-.6 -1 .5 -1-.2 -1 .1 -1 .1 -1 .3 -1 .2 -1 .3 -1 .5 -1 0 -1-.2 -1 .5 -1-.6 -1-.5 -1 .2 -1-1 -1-.3 -1-.3 -1 .2 -1 .7 -1-1.1 -1-.2 -1 .3 -1 .6 -1-.3 -1 .2 -1 .4 -1-.4 -1 1.2 -1-.8 -1 .9 -1-.4 -1 .5 -1-.2 -1 .1 -1-.7 -1 .7 -1 .3 -1-.4 -1-.4 -1-.7 -1 .3 -1-.5 -1 .7 -1-.3 -1 .4 -1 .8 -1 .7 -1 .8 -1-1.2 -1 .1 -1 .9 -1-1.6 -1 1.3 -1 .2 -1-.5 -1 .5 -1-.5 -1 .2 -1-.3 -1-.1 -1 .3 -1-.4 -1-.5 -1 .1 -1 0 -1-.1 -1-.4 -1 .2 -1-.7 -1-.9 -1 .5 -1 .3 -1-.4 -1 1 -1 .4 -1 0 -1-.6 -1-.1 -1 .8 -1-.3 -1-.4 -1 .3 -1 .6 -1 .3 -1-22.1z" fill="rgba(253,50,22,0.25)"/>
<path d="M0 729.5l1 8.4 1-.1 1-.1 1-.4 1 0 1 .1 1-.2 1 .3 1 .4 1-.5 1-.1 1-.2 1 0 1-.5 1-.6 1 .3 1 .2 1 .1 1 .5 1 0 1 .1 1 .6 1 .1 1 0 1 .2 1-.5 1 .3 1-.2 1 .4 1-.5 1 .4 1-.4 1-.7 1 .9 1-.2 1 0 1 1 1-.4 1-.4 1-.8 1 .2 1 .2 1-.3 1 .1 1-.3 1 .8 1-.4 1 0 1 .2 1-.2 1 0 1 .2 1 .1 1-.1 1-.2 1 .1 1 .2 1-.1 1 .1 1-.2 1-.2 1 .2 1-.5 1-.1 1 .2 1 .4 1 0 1-.4 1 .6 1 .2 1 .7 1-.6 1 .1 1 .5 1-.8 1 .1 1-.3 1-.2 1 .2 1 .2 1-.3 1 .1 1 0 1 .2 1-.6 1 .5 1-.2 1 .3 1-.1 1 .4 1-.1 1 .4 1 0 1-.2 1-.5 1 .4 1-.2 1-.5 1 0 1 .9 1 .2 1-.1 1 .4 1 .4 1 .1 1 .2 1 .2 1-.1 1-.7 1-.4 1 .3 1-.8 1 .2 1-.5 1-.1 1 0 1 .5 1-.3 1-.2 1 .8 1-.9 1 .6 1 .1 1-1.2 1 .4 1-.2 1-.3 1 .3 1-.2 1 0 1 .2 1-.1 1 .3 1-.3 1 .5 1 .3 1 .2 1 0 1-.4 1-.2 1 .4 1 .2 1-.5 1 0 1-.5 1-.7 1 .5 1 .7 1 .2 1-.5 1 .2 1-.3 1 .4 1 .3 1-.7 1 .5 1 .3 1-.6 1 0 1-.5 1 0 1 .3 1 0 1 .2 1 0 1-.1 1 .6 1-.4 1-.3 1 .3 1 .1 1 .1 1 0 1 .6 1-.4 1-.4 1 .3 1-.8 1 .8 1-.6 1 0 1-.4 1 .6 1 .3 1 .2 1-.3 1 .1 1-.2 1-.6 1 .1 1 .3 1 .7 1-.5 1 .4 1-.8 1 .2 1 .4 1-.9 1-.3 1 .7 1 .1 1-.3 1 .5 1-.2 1 0 1 .3 1-.4 1-.3 1 0 1-.7 1 .5 1 .3 1-.2 1-.5 1-.2 1 .1 1 .3 1 .6 1 .4 1-.3 1-.1 1-.1 1 .4 1 .1 1-.6 1-.1 1-.8 1 .6 1-.9 1 .9 1-.2 1 0 1 .1 1-.3 1 .7 1-.2 1 .2 1-.4 1 .3 1 .3 1-.3 1-.2 1-.3 1 .3 1-.8 1 0 1 .4 1-.2 1 .7 1-.6 1 .4 1-.8 1-.2 1 .9 1 .1 1-.1 1-.5 1 .3 1 .1 1 .4 1-.2 1 .1 1 .1 1 .3 1 .3 1-.3 1-.3 1-.5 1 .1 1 .1 1 .1 1-.2 1 .6 1 .1 1 0 1-.2 1-.3 1-.4 1 .3 1 0 1-.1 1-.4 1 .1 1-.3 1-.6 1 .3 1-.1 1-.1 1-.5 1 .5 1 .3 1 .1 1 .6 1-.6 1 .2 1-.2 1 .1 1 .3 1 0 1 .8 1-.2 1-.3 1-.3 1-.3 1 .3 1-.1 1 .1 1 0 1-.1 1 .4 1-.6 1 .5 1 .1 1-.6 1 0 1 .7 1 .1 1-.4 1-.5 1 .1 1 .2 1-.2 1 .5 1-.2 1 .1 1-.6 1 .3 1-.5 1 .1 1 .5 1-.1 1 .1 1-.5 1 .1 1-.8 1 .3 1 .3 1-.1 1-.3 1 0 1 .2 1-.3 1 .3 1-.1 1-.4 1 0 1-.1 1-.1 1-.3 1-.2 1 .1 1-.1 1 .2 1 .1 1 .2 1 .6 1-.6 1 .2 1-.1 1-.2 1 .6 1 .5 1-.9 1 .4 1-.1 1-.2 1 .1 1-.2 1 .1 1 .3 1-.1 1 0 1-.8 1 .4 1-.4 1-.2 1 0 1 .5 1-.1 1 .3 1 .3 1-.4 1-.1 1 .6 1-.7 1 .5 1 0 1-.4 1 .2 1 0 1 0 1-.5 1-.9 1 .5 1 0 1-.2 1 0 1 .6 1-.7 1 0" fill="none" stroke="#FD3216" stroke-width="3.6" vector-effect="non-scaling-stroke" stroke-linejoin="round"/>
</g>
<path d="M1602.4 720.3 1611.6 711.1 1620.8 720.3 1611.6 729.5 1620.8 738.7 1611.6 747.9 1602.4 738.7 1593.2 747.9 1584.0 738.7 1593.2 729.5 1584.0 720.3 1593.2 711.1Z M1950.0 724.0 1959.2 714.8 1968.4 724.0 1959.2 733.2 1968.4 742.4 1959.2 751.6 1950.0 742.4 1940.8 751.6 1931.6 742.4 1940.8 733.2 1931.6 724.0 1940.8 714.8Z" fill="#FD3216"/>
<g transform="translate(1602.40 0) scale(0.8690 1)">
<path d="M0 729.5l1-3.1 1-.7 1 .9 1-.5 1 0 1-.2 1 .3 1 .7 1-.1 1 .4 1 0 1-.8 1 .8 1-.5 1 .6 1 .4 1-.5 1 .4 1-.3 1 .1 1-.5 1 .8 1 .1 1-.3 1-.3 1 .6 1-.7 1-.1 1 .8 1 0 1-.8 1-.2 1 0 1 .6 1-.2 1-.2 1-.2 1 .2 1-.2 1-.4 1-.3 1-.1 1 1 1 .3 1-.3 1 .2 1-.1 1 .3 1 .6 1-.8 1 .9 1-.7 1-.5 1 .5 1-.2 1-.3 1 .4 1-.4 1-.2 1 0 1-.2 1-.1 1-.2 1-.5 1 .5 1-1.1 1-.1 1 .6 1 .5 1-.5 1 0 1 .7 1 .4 1-.4 1 .7 1 .4 1-.6 1 .8 1-.3 1 0 1 .1 1-.5 1 .1 1 .2 1-.5 1-.7 1 .2 1-.4 1 .3 1-.5 1 .1 1 .8 1-.2 1 .2 1 .1 1 .3 1-.1 1 .3 1-.1 1 .2 1 .3 1-.2 1-.2 1 .2 1-.7 1-.1 1-.3 1-.1 1 .2 1-.2 1-.1 1 .4 1-.1 1-.3 1 0 1-.5 1 .3 1-.1 1 .4 1 .1 1-.2 1-.7 1 .4 1 .6 1-.5 1 .7 1 0 1 .2 1-.3 1-.5 1 .5 1-.1 1 .5 1-1 1 1 1 0 1 .1 1 0 1-.2 1-.3 1 .8 1-.2 1 .2 1-.1 1-.2 1-.6 1 .6 1 .2 1-.7 1 .5 1-.5 1 .6 1-.3 1 .8 1-.4 1-.8 1-.2 1 .8 1 .6 1-.1 1 .1 1 .4 1-.1 1 .5 1 0 1-.4 1-.2 1-.6 1-.3 1-.6 1 .4 1-.3 1-.4 1 .6 1-.6 1 .5 1 .1 1-.1 1 .6 1-.5 1-.1 1 .8 1-.6 1 .4 1-.2 1 0 1-.1 1-.2 1 .7 1-.2 1 0 1 .5 1 .2 1-.7 1 .1 1-.3 1-.1 1 .4 1 .1 1-.2 1-.2 1-.1 1 .5 1-.5 1-.1 1 1.1 1-.2 1 0 1 .5 1-.7 1 .4 1 .2 1-1.3 1-.1 1-.2 1 .8 1-.6 1 0 1 0 1-.3 1 .7 1-.2 1-.2 1-.2 1-.5 1 .5 1 .2 1-.3 1-.3 1 .4 1-.1 1-.5 1 .2 1-.2 1-.1 1-.3 1 .1 1-.6 1 .6 1 .2 1-.5 1 .7 1-.5 1 .2 1-.2 1 .4 1-1.3 1 .4 1 .4 1-.1 1 .1 1 .3 1 .1 1 .5 1-.2 1 .6 1-.5 1 .1 1-1.1 1 .7 1 0 1-.9 1 .9 1 .1 1 .1 1-.3 1-.7 1 .2 1 .1 1 .2 1-.1 1-.2 1 .2 1 .1 1 .3 1-.3 1 .3 1-.2 1 .6 1-.6 1-.6 1 .7 1 .1 1-.5 1 .4 1-.6 1 .1 1 1.3 1 .1 1 1 1-.3 1-.2 1 .2 1-.4 1 1 1-.2 1-.1 1-.2 1 .6 1-.3 1-.4 1-.3 1-.5 1-.3 1 .4 1-.3 1 .1 1 .1 1-.7 1 .6 1-.8 1 .2 1-.1 1 .5 1-.4 1-.9 1 .8 1 .2 1 .4 1-.2 1 .1 1-1 1 .7 1-.3 1 .5 1 .3 1 .3 1 0 1-.9 1 .2 1 .7 1 .3 1-.4 1-.5 1 .7 1-.8 1-.4 1-.6 1-.2 1-.2 1 .5 1-.6 1-.1 1 .3 1 .6 1-.2 1-.2 1-.1 1 .6 1 .5 1 .1 1-.2 1 0 1-.3 1-.2 1 .5 1 .1 1-1.2 1 .1 1 .5 1-.7 1 .1 1 .2 1 .3 1-.6 1 1 1 .6 1-.1 1 .1 1 .3 1-.3 1 .2 1 .2 1 .6 1-.4 1-.5 1 .4 1 .3 1-.5 1-.2 1-.4 1 .6 1-.8 1 .5 1 .3 1-.2 1-.2 1-.1 1 .3 1 .1 1-.5 1 0 1-.1 1 .5 1-.1 1-.7 1 .1 1-.3 1 .7 0 17.7 -1-.7 -1 .5 -1-.3 -1-.1 -1 .7 -1-.3 -1 .6 -1 0 -1-.4 -1 .4 -1-.5 -1 .3 -1 .2 -1 0 -1-.4 -1-.1 -1 .7 -1 .2 -1 .6 -1 .2 -1 .7 -1-.3 -1 .1 -1 .7 -1 0 -1-1 -1 .3 -1 0 -1-.3 -1 0 -1-.1 -1-.2 -1-.3 -1-.5 -1-.3 -1-.2 -1-.5 -1 .2 -1 .7 -1-.5 -1 .5 -1 1 -1-.6 -1-.1 -1 .2 -1-.2 -1 .1 -1 0 -1-.3 -1-.6 -1-.3 -1-.1 -1-.1 -1 .7 -1-.5 -1 .1 -1 .3 -1 .1 -1-.9 -1 .9 -1-.4 -1 0 -1 .3 -1 .9 -1-.7 -1 .2 -1 .9 -1 .7 -1-1.1 -1-.5 -1 .3 -1 0 -1 .6 -1-.8 -1 0 -1 0 -1 .1 -1 .9 -1-.2 -1 .6 -1-.4 -1 0 -1-.7 -1-.1 -1 .2 -1-.8 -1 .6 -1 .4 -1 .1 -1-.5 -1 .5 -1 0 -1 .2 -1-.1 -1-.1 -1 .2 -1 .5 -1 0 -1 .1 -1 .4 -1-.7 -1-.2 -1-.3 -1 .3 -1-.1 -1-.2 -1-.1 -1-.4 -1 0 -1-.5 -1 .2 -1-1.5 -1 .1 -1 .8 -1-1 -1 1.2 -1-.1 -1-.5 -1 .2 -1 .8 -1 0 -1 .5 -1-.4 -1-.3 -1-.1 -1-.6 -1 .4 -1 .1 -1 .3 -1-.1 -1-.6 -1 .3 -1 .8 -1 0 -1 .6 -1-.2 -1-.3 -1 .9 -1-.1 -1-1.1 -1 .8 -1-.2 -1 1 -1-.8 -1 .1 -1-.6 -1-.3 -1 .1 -1-.3 -1 .4 -1 .1 -1-.7 -1 1.2 -1-.1 -1-.1 -1-.1 -1 .8 -1-.4 -1 .1 -1-.1 -1-.3 -1 .9 -1-.2 -1 .6 -1 0 -1 .5 -1-.7 -1-.3 -1 0 -1-.2 -1-.3 -1 .2 -1-.1 -1-.3 -1 0 -1 .6 -1 .3 -1-.3 -1-.5 -1 .5 -1 1 -1-1.1 -1 .8 -1 .1 -1-.2 -1-.2 -1 .1 -1-.1 -1-.2 -1 .3 -1-.1 -1-.5 -1-.2 -1-1.2 -1 .4 -1 .2 -1 .2 -1 .4 -1-.1 -1 .2 -1 .2 -1-.1 -1 0 -1-.2 -1 .3 -1 .9 -1 0 -1-.8 -1-.1 -1-.3 -1-.5 -1 0 -1 .3 -1 0 -1 .2 -1 .6 -1-.2 -1-1 -1 .4 -1 .3 -1-.7 -1 .1 -1-.1 -1-.2 -1 .1 -1 0 -1-.1 -1 .5 -1-.2 -1 1 -1-.4 -1 1.1 -1-.4 -1 .2 -1-.4 -1 .4 -1 .3 -1-.8 -1 .3 -1-.4 -1 0 -1-1.2 -1 .5 -1 1.1 -1 .2 -1-.3 -1-.5 -1-.6 -1 .4 -1-.1 -1 0 -1 .1 -1-.1 -1 .4 -1 .7 -1-.1 -1 0 -1 .1 -1-.8 -1 0 -1 .5 -1 .6 -1-.3 -1-.5 -1-.6 -1-.4 -1 .6 -1 0 -1-.1 -1-.4 -1 .5 -1-.1 -1 .3 -1-.6 -1 0 -1-.2 -1-.1 -1 .4 -1 .2 -1 .4 -1-.2 -1 .3 -1-.6 -1 1.1 -1-.3 -1-.1 -1-.1 -1-.7 -1 .6 -1 .1 -1-.7 -1 .4 -1 .5 -1 .2 -1 .9 -1-.3 -1-.3 -1-.1 -1 .3 -1-.6 -1-.2 -1 0 -1 .3 -1-1 -1 .3 -1-.8 -1 .3 -1-.9 -1 0 -1 .1 -1 .1 -1 .1 -1 0 -1 .2 -1 1.1 -1-.3 -1 0 -1 .1 -1-.1 -1 .8 -1 .2 -1-.6 -1 .7 -1-.2 -1-.4 -1 .9 -1-.9 -1-.5 -1-.3 -1 .9 -1-.8 -1-.2 -1-.2 -1 1.1 -1-.3 -1 .3 -1 .7 -1-.3 -1 .2 -1 .2 -1-.5 -1 .5 -1-1.1 -1 .2 -1 .3 -1-.2 -1 .1 -1 .8 -1-.8 -1 0 -1-.2 -1-.6 -1-.1 -1-.3 -1 0 -1 0 -1-.4 -1 .4 -1 0 -1 .5 -1-.1 -1-.4 -1 .2 -1-.2 -1 .7 -1-.5 -1-.2 -1 .7 -1 0 -1-.1 -1-.7 -1 .2 -1 .3 -1-.6 -1-.1 -1-.3 -1 .2 -1-.8 -1 .3 -1-.2 -1 .6 -1-.2 -1-.2 -1 .1 -1 0 -1 .1 -1-.3 -1 .8 -1 .1 -1-.3 -1-.1 -1-.5 -1 .5 -1 0 -1-.5 -1 1 -1-.7 -1 .6 -1-15.2z" fill="rgba(0,254,53,0.25)"/>
<path d="M0 729.5l1 5.8 1-.4 1 .3 1-.9 1 .3 1-.2 1 0 1 .8 1-.1 1 .5 1 0 1-.7 1 .5 1-.4 1 .5 1 .4 1-.3 1 .3 1-.6 1 .4 1-.6 1 .8 1-.3 1-.1 1-.1 1 .5 1-.6 1 0 1 1 1-.2 1-.7 1-.1 1-.1 1 .2 1-.2 1 .3 1-.2 1 .1 1 .1 1-.5 1 .3 1 0 1 .4 1 0 1-.1 1 .2 1 0 1 .3 1 .5 1-.5 1 .7 1-.3 1-.3 1 .4 1-.6 1 0 1 .4 1 0 1 0 1-.1 1 0 1-.1 1-.5 1-.3 1 .2 1-.7 1 .1 1 .1 1 .7 1-.6 1 .1 1 .6 1 .5 1-.4 1 .2 1 .2 1-.6 1 .4 1-.2 1-.4 1-.1 1-.3 1 .1 1 0 1-.3 1-.3 1 .2 1-.2 1 .2 1-.4 1 .1 1 .6 1-.4 1 .5 1-.3 1 .4 1-.2 1 .1 1 .3 1 .3 1 0 1-.4 1 .2 1 0 1-.7 1 .1 1-.3 1-.2 1 .6 1-.3 1 0 1 .3 1-.2 1 .1 1 .4 1-.4 1 .4 1-.2 1 .5 1 0 1-.1 1-.4 1 .1 1 .4 1-.5 1 .5 1 .2 1-.1 1-.2 1 .2 1 .3 1-.1 1-.3 1-.4 1 .5 1 .2 1 .2 1-.3 1-.1 1-.3 1 .6 1-.1 1 .1 1-.2 1 0 1-.4 1 .2 1 0 1 0 1 .1 1-.8 1 .5 1 .1 1 .6 1-.8 1-.6 1 .1 1 .8 1 .3 1-.1 1 0 1 .3 1-.1 1 .4 1-.2 1 0 1 0 1-.7 1 .2 1-.6 1 .3 1-.5 1 0 1 .4 1-.3 1 .2 1 0 1 .2 1 .5 1-.5 1-.2 1 .6 1-.5 1-.1 1-.1 1 0 1-.2 1 0 1 .7 1-.1 1-.2 1 .7 1-.1 1-.5 1-.2 1 .3 1-.2 1 .3 1-.1 1-.3 1-.4 1-.1 1 0 1-.2 1-.3 1 .9 1 0 1 .4 1 .1 1-.3 1 .2 1 .1 1-.6 1 .1 1-.1 1 .3 1-.5 1 .7 1-.5 1-.2 1 .5 1-.5 1-.1 1-.4 1-.1 1 .3 1 .7 1-.5 1 .1 1 .4 1-.3 1 .1 1 .1 1 0 1-.1 1-.6 1 .6 1-.8 1 .6 1 .3 1-.5 1 .2 1-.6 1 .2 1 .1 1 .3 1-1 1 .6 1 0 1-.4 1 .3 1 0 1 .2 1 .2 1-.3 1 .7 1-.8 1 .6 1-.8 1 .5 1 0 1-.6 1 .4 1 .1 1-.3 1 .1 1-.7 1 .2 1 .5 1 .2 1-.2 1-.2 1-.2 1 .3 1 .2 1 0 1 .2 1-.2 1 0 1-.6 1-.3 1 .2 1 .3 1-.8 1 .7 1-.4 1 .2 1 1.1 1-.1 1 .7 1-.2 1-.2 1 .3 1-.1 1 0 1-.1 1 .1 1-.1 1 .5 1-.2 1-.5 1-.1 1-.5 1 0 1 0 1-.1 1 0 1 .5 1-.8 1 .7 1-.5 1-.1 1-.4 1 .7 1 0 1-.6 1 .7 1 .2 1 .1 1-.5 1 .2 1-.6 1 .2 1-.3 1 0 1 1 1-.5 1 .3 1-.4 1 .2 1 .9 1-.4 1-.3 1-.6 1 .7 1-.9 1-.1 1-.6 1-.1 1-.4 1 .8 1-.2 1 .1 1 .1 1 .2 1-.1 1 .1 1-.2 1 .3 1 .4 1 .3 1-.4 1 0 1 .2 1-.4 1 .5 1 .2 1-1.2 1-.3 1 .3 1-.6 1 .2 1 .3 1 .1 1-.1 1 .6 1 .3 1-.1 1 0 1 .5 1-.1 1 0 1 .2 1 .4 1 0 1-.4 1 .1 1 .2 1-.4 1 .1 1-.7 1 .5 1-.7 1 .1 1 .4 1-.2 1 .3 1-.6 1 .7 1 0 1 .1 1-.2 1-.2 1 .1 1-.3 1-.4 1 .1 1-.3 1-1 1 0" fill="none" stroke="#00FE35" stroke-width="3.6" vector-effect="non-scaling-stroke" stroke-linejoin="round"/>
</g>
<path d="M1602.4 720.3 1611.6 711.1 1620.8 720.3 1611.6 729.5 1620.8 738.7 1611.6 747.9 1602.4 738.7 1593.2 747.9 1584.0 738.7 1593.2 729.5 1584.0 720.3 1593.2 711.1Z M1950.0 723.2 1959.2 714.0 1968.4 723.2 1959.2 732.4 1968.4 741.6 1959.2 750.8 1950.0 741.6 1940.8 750.8 1931.6 741.6 1940.8 732.4 1931.6 723.2 1940.8 714.0Z" fill="#00FE35"/>
<g transform="translate(1602.40 0) scale(0.8690 1)">
<path d="M0 729.5l1-5.5 1 .3 1 .3 1-.4 1-.8 1 .6 1 .6 1 0 1 .2 1-.3 1 .2 1 .1 1 .3 1-.4 1 .4 1-.1 1 .6 1-.3 1 0 1 .4 1-.4 1 .8 1-.2 1-.8 1-.4 1-.1 1-.2 1 .5 1 .2 1-1 1-.3 1 .7 1 .3 1 .5 1-.7 1 1 1-.3 1-.1 1-.8 1 .1 1 .1 1 .1 1-.4 1 0 1-.2 1-.6 1 .4 1-.1 1 0 1-.3 1 1 1 .3 1-.6 1-.3 1-.1 1 .2 1-.9 1 .5 1 .4 1 .6 1-.8 1-.2 1 1.1 1-.4 1 .2 1-.4 1-.4 1-.2 1 .4 1-.2 1 .1 1 .2 1-.1 1 .3 1-.7 1 .7 1 .1 1 .2 1-.2 1-.5 1 .1 1 0 1 .7 1 .2 1-.2 1 0 1-1.1 1 .6 1 0 1-.5 1 .4 1-.4 1 .5 1 0 1 .3 1 .6 1 .3 1-.1 1 0 1-.1 1 0 1-.2 1-.2 1-.1 1-.6 1 .7 1 .3 1 .1 1 .3 1-.7 1-1.4 1 1 1 .3 1 .2 1-.4 1 0 1 .7 1 .3 1-.3 1 0 1 .4 1-.4 1-.5 1 .4 1-.1 1 0 1-.3 1-.2 1-.5 1 .3 1 .7 1 .6 1-.7 1-.2 1-.9 1 .4 1 .6 1 .6 1-1.7 1 1 1-.3 1-.2 1-.9 1 1.1 1-1 1-.2 1-.5 1 .7 1 .3 1 .5 1 0 1 0 1-.3 1 .8 1-.3 1 .5 1 .2 1-.8 1-.7 1 .8 1 .1 1-1.1 1 .2 1-.7 1 .3 1-.8 1 .6 1-.2 1 .2 1-.1 1 .3 1 .9 1-.9 1 .5 1 .4 1-.5 1-.9 1-.4 1 .6 1-.4 1 0 1 .7 1-.1 1-.1 1-.1 1-.6 1 .7 1-.2 1-.3 1 .3 1-.2 1-.8 1-.1 1 1.1 1-1.1 1 .4 1 0 1-.1 1 .8 1 .4 1-.5 1 .5 1-.3 1 .3 1-.5 1-.3 1 .1 1-.7 1 0 1 .3 1-.3 1-.1 1 .3 1 .6 1 0 1-.6 1 .3 1-.1 1-.3 1 .5 1-.3 1-.3 1 .8 1-.8 1 0 1-.1 1 .4 1-.2 1 .1 1-.2 1 .3 1-.2 1 .5 1-.2 1-.4 1 .5 1 .5 1-1.1 1-.4 1 .3 1-1.1 1 .5 1 .9 1-.7 1 .5 1-.4 1 .3 1 .3 1-.3 1-.5 1 .3 1 .2 1 0 1-.4 1-.5 1 .4 1-.3 1 .1 1-.7 1 .1 1 .5 1-.6 1 .4 1 .7 1-.7 1 .9 1 .1 1 .3 1 .3 1-.2 1-.4 1-.1 1-.1 1-1.1 1 .7 1 .1 1 .4 1-.1 1 .8 1-.3 1-1 1-.7 1 .1 1 .8 1-.7 1-.1 1-.3 1 0 1 0 1 .6 1 .4 1 .1 1-.2 1-1 1 1 1-.4 1 .3 1 .1 1-.8 1-.3 1-.5 1-.2 1 .4 1-.3 1 0 1 .4 1-.5 1 .4 1-.4 1 1.1 1-.5 1 .2 1 .6 1 .5 1-.4 1 .5 1 .7 1-.3 1-.8 1 .4 1 .3 1-1 1-.4 1 .2 1 .1 1 .8 1-.1 1 .4 1 .4 1-.5 1-.1 1-.3 1-.7 1 .4 1 .2 1 .8 1-.3 1 0 1-.7 1 .4 1-.1 1 .3 1-.1 1 0 1 .5 1-.5 1 .6 1-.4 1-.6 1-.6 1 .5 1 .3 1-.7 1 .2 1 .6 1 .1 1-.2 1 .8 1-.2 1 .7 1-.4 1 0 1-.4 1-.2 1-.2 1-.2 1-.2 1 .6 1 .2 1 .1 1-.1 1 .8 1-.3 1-.2 1-.5 1 .1 1-.1 1 .3 1 .5 1 .7 1 .5 1-.5 1-.3 1 .6 1-.7 1-.5 1-.2 1-.4 1 .5 1-.1 1 .3 1-.2 1-.3 1 .1 1 .5 1 .5 1-.9 1 .4 1 .6 0 18.9 -1-.4 -1-.2 -1 .3 -1 .1 -1-.6 -1 0 -1 0 -1 .7 -1-.1 -1 .2 -1-.7 -1 .7 -1 .1 -1 .3 -1 0 -1-.5 -1 .3 -1 .6 -1-.3 -1-.4 -1 .3 -1-.2 -1 .3 -1-.2 -1 .4 -1-.1 -1 .6 -1-.2 -1-.6 -1-.5 -1-.1 -1-.3 -1 .6 -1 0 -1-.2 -1 .5 -1 0 -1-.4 -1 .5 -1-.6 -1 .1 -1-.9 -1-.5 -1 .5 -1-.5 -1-.3 -1-.1 -1 .3 -1 .5 -1 .1 -1 .6 -1 .5 -1-.6 -1 .8 -1-.8 -1-.5 -1 .6 -1-.2 -1-.3 -1-.5 -1 .1 -1 .4 -1 0 -1-.1 -1-.3 -1-.1 -1 0 -1 .8 -1 .4 -1 0 -1-.1 -1 .2 -1 .5 -1-1.2 -1-.2 -1-.2 -1 .6 -1 .4 -1 .1 -1-.5 -1 .6 -1 .2 -1 0 -1-.8 -1 .3 -1-.3 -1-.8 -1 .2 -1 .2 -1-1.1 -1 .2 -1-.4 -1 .5 -1-.4 -1 0 -1 .2 -1-.1 -1 .3 -1 .4 -1 .4 -1 .1 -1-.1 -1-.2 -1 .6 -1-.6 -1 .9 -1 0 -1-.1 -1-.5 -1-.2 -1 .2 -1 .4 -1 .1 -1 .1 -1 .2 -1-.1 -1-.6 -1 .3 -1 1.1 -1 .2 -1-.7 -1-.1 -1-.2 -1 .7 -1-.8 -1 1.1 -1-.6 -1 0 -1-.1 -1 .2 -1 .1 -1-.6 -1 .3 -1-.7 -1 .1 -1 .1 -1 .1 -1 .6 -1-.5 -1-.5 -1 0 -1 .2 -1 .1 -1-.5 -1 .3 -1 .3 -1-.3 -1-.2 -1 .3 -1 .9 -1 .4 -1 .1 -1-.3 -1-.1 -1-.4 -1 .8 -1-.9 -1-.2 -1 .1 -1 0 -1 .3 -1 .2 -1-.2 -1-.2 -1 .1 -1 0 -1-.7 -1 .1 -1 .1 -1 .2 -1 .2 -1-.1 -1-.6 -1-.4 -1 .2 -1 1.1 -1 0 -1 0 -1 .7 -1-.3 -1-.3 -1 .4 -1-1.2 -1 .5 -1 0 -1-.5 -1 .2 -1 .8 -1 .2 -1-.1 -1 .4 -1 .5 -1 .3 -1 .2 -1-.5 -1 .3 -1 .1 -1-.3 -1-.1 -1 .2 -1-.8 -1 .1 -1 .1 -1-.5 -1 .8 -1-.9 -1 0 -1 1 -1-.3 -1 .1 -1 .1 -1 .5 -1 .1 -1 .4 -1 .3 -1 .1 -1-.3 -1 0 -1 .1 -1-.2 -1-.2 -1 .1 -1 1.2 -1 .1 -1-1 -1 .2 -1 .7 -1-1 -1 .5 -1-.9 -1-.7 -1 0 -1 .2 -1 .6 -1-.5 -1 .7 -1 .5 -1 .4 -1 .3 -1-.6 -1-.1 -1 .7 -1-.4 -1-.1 -1 .1 -1-.2 -1 0 -1 0 -1 0 -1-.2 -1 0 -1-.6 -1 .1 -1 .7 -1 1.1 -1-1.2 -1-.1 -1-.3 -1 .6 -1-.6 -1 1 -1-.5 -1-.8 -1-.2 -1 .5 -1 0 -1 .6 -1-.1 -1-.4 -1-.1 -1 0 -1-.3 -1 .3 -1-.3 -1-.1 -1-.1 -1 .3 -1 .1 -1 .3 -1-.2 -1 .3 -1 .3 -1-.5 -1-.2 -1 0 -1-.1 -1 .3 -1-.3 -1 1 -1 0 -1 .1 -1 0 -1-.3 -1-.7 -1 .5 -1 .1 -1-.3 -1 .1 -1 .2 -1 .1 -1 .4 -1 .5 -1-.1 -1-.4 -1 0 -1-.8 -1-.3 -1 0 -1-.1 -1 .8 -1 .2 -1-.9 -1 .9 -1-.6 -1 .5 -1-.1 -1-.7 -1 .6 -1-.3 -1 .5 -1 .2 -1 .2 -1-.5 -1-.9 -1 .7 -1 .2 -1 .2 -1-.1 -1 .1 -1 .4 -1-.6 -1 .4 -1 .1 -1 .3 -1-.1 -1-.2 -1 .1 -1-.1 -1 .2 -1-.6 -1-.3 -1-.5 -1 .2 -1-.1 -1 .2 -1 0 -1 .9 -1-.5 -1-.7 -1 .2 -1 .2 -1 0 -1 0 -1-.3 -1-.1 -1-1 -1 .1 -1-.3 -1 .1 -1 .3 -1 1.1 -1-.1 -1-.2 -1-.6 -1 0 -1-.2 -1 0 -1-.6 -1 .2 -1 .8 -1-.2 -1-.2 -1 .4 -1 .1 -1 .1 -1 .8 -1 .1 -1-.6 -1 .5 -1-.8 -1-.2 -1 1 -1-.7 -1 .3 -1-.3 -1 .9 -1-.2 -1-.8 -1-.3 -1 .5 -1 .3 -1 .2 -1-.5 -1-.4 -1 1.7 -1-.6 -1-.8 -1 0 -1-14.3z" fill="rgba(106,118,252,0.25)"/>
<path d="M0 729.5l1 4.3 1 .2 1 .2 1 .2 1-.7 1 .2 1 .4 1-.2 1 .1 1-.4 1 .3 1 .3 1 0 1-.3 1 .2 1-.2 1 .2 1-.1 1 0 1 .6 1-.3 1 .6 1-.1 1-.6 1-.1 1 .1 1-.2 1 .1 1 .4 1-.6 1-.3 1 .2 1 0 1 .4 1-.3 1 .7 1-.3 1 .1 1-.7 1 .2 1-.1 1 .3 1-.3 1 .4 1 0 1-.2 1 .1 1 0 1-.1 1-.2 1 .4 1 .4 1-.7 1 .1 1-.3 1 .3 1-.9 1 .6 1 .2 1 .3 1-.3 1-.1 1 .1 1-.2 1 .4 1-.2 1-.4 1-.3 1 .5 1-.3 1 .2 1-.1 1 0 1-.1 1-.5 1 .9 1 .1 1 .2 1-.3 1-.3 1 .2 1-.3 1 .3 1 .4 1 0 1 .1 1-.6 1 .5 1-.1 1-.9 1 .6 1 .1 1 .4 1 .1 1-.2 1 .4 1 0 1-.2 1 .1 1-.2 1-.1 1-.2 1-.1 1 .4 1-.6 1 .6 1 .4 1-.1 1-.1 1-.2 1-.8 1 .3 1 .1 1 0 1-.1 1 .4 1 .4 1 .1 1-.5 1 .1 1-.2 1 0 1-.2 1 .2 1-.2 1 0 1 .1 1 0 1-.1 1 0 1 .1 1 .4 1-.5 1 .4 1-.9 1 .2 1 .3 1 .7 1-1.2 1 .6 1-.3 1 .2 1-.5 1 .8 1-.5 1-.6 1-.3 1 .3 1 .1 1 .5 1-.3 1-.1 1 0 1 .7 1-.4 1 .5 1 .2 1-.6 1 .1 1 .5 1-.1 1-.5 1-.2 1-.8 1 .5 1-.7 1 .4 1-.3 1 .5 1 .3 1-.2 1 .9 1-.9 1 .3 1 .9 1-.5 1-.9 1-.2 1 .1 1 .1 1 0 1 .3 1 .2 1 0 1-.3 1-.3 1-.2 1-.2 1-.1 1 .2 1 .4 1-1.2 1 0 1 .9 1-.8 1 .2 1 0 1-.2 1 .8 1 .3 1-.5 1 .2 1 0 1-.1 1-.1 1 0 1 .1 1-.6 1-.2 1 .1 1-.1 1-.3 1 .2 1 .3 1 .1 1-.4 1 .2 1-.2 1-.1 1 .5 1-.3 1-.4 1 .7 1-.6 1-.3 1 .1 1 .3 1-.3 1 0 1 .3 1 0 1 .2 1 0 1 0 1-.3 1 .2 1 .4 1-.6 1-.2 1 .2 1-.4 1 .5 1 .5 1-.5 1 .4 1-.2 1 .2 1 .5 1-.5 1-.7 1 .2 1-.2 1 .2 1-.4 1-.3 1 .4 1-.2 1-.1 1-.2 1 .2 1 .4 1-.7 1 0 1 .2 1-.2 1 .7 1 .2 1 .3 1 .2 1-.4 1 .1 1 0 1 .1 1-1 1 .6 1-.3 1 .4 1 .3 1 .3 1-.2 1-.7 1-.5 1 .4 1 .5 1-.6 1-.1 1 .1 1-.2 1-.3 1 .8 1 0 1-.1 1 0 1-.7 1 .7 1-.5 1 .1 1 0 1-.3 1-.2 1-.6 1 0 1 .4 1-.6 1 .2 1 .3 1-.7 1 .5 1-.1 1 1 1-.3 1-.4 1 .6 1 .4 1-.4 1 .5 1-.1 1-.3 1-.5 1 .3 1 .3 1-.7 1-.3 1 .2 1 .1 1 1 1-.6 1 .3 1 0 1 .2 1-.5 1-.4 1-.1 1 .2 1 .3 1 .1 1-.2 1 .3 1-.4 1 .4 1 .2 1-.1 1 .1 1 0 1 .6 1-.4 1 .5 1-.5 1-.5 1-.4 1-.1 1 0 1-.2 1 .1 1 .2 1 0 1 .2 1 .5 1-.2 1 .6 1-.4 1 .4 1-.2 1-.5 1 0 1-.2 1 0 1-.1 1 .3 1 .3 1 .1 1 .4 1-.5 1-.3 1-.1 1 .1 1-.1 1 .2 1 .1 1 .4 1 .2 1-.3 1-.1 1 .5 1 0 1-.5 1-.1 1-.2 1 .3 1-.1 1 .4 1-.6 1-.3 1 .1 1 .2 1 .5 1-.6 1 .3 1-1.1 1 0" fill="none" stroke="#6A76FC" stroke-width="3.6" vector-effect="non-scaling-stroke" stroke-linejoin="round"/>
</g>
<path d="M1602.4 720.3 1611.6 711.1 1620.8 720.3 1611.6 729.5 1620.8 738.7 1611.6 747.9 1602.4 738.7 1593.2 747.9 1584.0 738.7 1593.2 729.5 1584.0 720.3 1593.2 711.1Z M1950.0 720.7 1959.2 711.5 1968.4 720.7 1959.2 729.9 1968.4 739.1 1959.2 748.3 1950.0 739.1 1940.8 748.3 1931.6 739.1 1940.8 729.9 1931.6 720.7 1940.8 711.5Z" fill="#6A76FC"/>
<g transform="translate(1602.40 0) scale(0.8690 1)">
<path d="M0 729.5l1-6.4 1-.3 1-.1 1 .7 1-1 1 0 1 .5 1-.4 1 .6 1 .2 1 .3 1-.4 1 .2 1-.1 1 .6 1-.8 1 1.3 1 .3 1-1 1 .5 1 0 1-.5 1 0 1 .3 1 0 1-.1 1-.1 1 .2 1-.9 1 .3 1-.3 1-.1 1 .2 1-.8 1 .1 1 .2 1-.3 1 .5 1 .5 1-.4 1 .4 1 .3 1-.5 1 .4 1-.3 1 0 1-.1 1 .3 1-.2 1-.6 1-.4 1 .1 1 0 1-.1 1 .7 1-.2 1-.2 1-.7 1-.1 1 .1 1 .2 1 .8 1-.6 1 0 1-.3 1-.3 1 .2 1 .6 1 0 1-.3 1 .2 1 .5 1 0 1 .5 1-.9 1 .7 1 .5 1-.6 1-.5 1 .4 1-.7 1 .8 1-.4 1-.4 1-.3 1 .3 1-.2 1 0 1 .3 1-.3 1 .2 1-.7 1 .5 1 .1 1 .2 1 .1 1 .6 1-.2 1 .1 1 .2 1-1.4 1 1 1-.6 1 .1 1-.2 1 .1 1-.7 1-.1 1 .7 1-.1 1 .8 1 1 1-.5 1-.3 1 0 1 0 1 .2 1-.1 1 .4 1 .4 1-.4 1 .1 1-.2 1 .4 1 .6 1-1 1-.2 1 .4 1-.1 1-.2 1-.2 1 0 1-.3 1 .2 1-.7 1 .5 1 .1 1 .4 1-.4 1 .1 1 .2 1 .4 1 .2 1-.2 1 .2 1-.6 1 0 1-.5 1-.2 1-1.2 1 .1 1 .7 1 0 1 .2 1-.1 1-.3 1-.2 1 .1 1 0 1-.6 1 1.4 1-.8 1-.2 1 0 1 .3 1-.5 1 .4 1-.1 1 .6 1-.3 1 .1 1 .9 1 0 1-.3 1-.1 1 .6 1-.6 1 .3 1 .2 1 .2 1-.3 1 .1 1 .8 1-.3 1 .1 1 .1 1 .3 1-.6 1-.2 1 .2 1-.2 1 .5 1-.5 1 .3 1 0 1-.9 1 .3 1-.2 1 .5 1 0 1 .2 1-.5 1-.8 1 .4 1 .4 1-.3 1 0 1 1.1 1-.7 1 .8 1 0 1-.2 1-.2 1-.5 1 .1 1-.1 1-.2 1-.2 1 .4 1 .5 1-.2 1 .3 1-.2 1-.4 1-.2 1 .2 1 .6 1-.4 1-.3 1 .5 1 .3 1 .3 1-.4 1-.2 1-.3 1 .2 1 .4 1-.1 1-.1 1 .2 1-.3 1-.7 1-.8 1 .5 1-.9 1 0 1 .6 1-.5 1 .8 1 0 1 .3 1-.3 1-.5 1-.4 1 .6 1 .3 1-.4 1 0 1 .4 1-.4 1-.7 1 .6 1 0 1-.5 1 1 1-.1 1-.1 1-1.2 1 .8 1-.2 1 .7 1-.4 1 .7 1-.3 1 .1 1-.5 1 .4 1 .4 1 0 1 .1 1-.4 1 .6 1 0 1-.3 1 1 1-.5 1-.1 1 0 1 .2 1-.9 1-.2 1-.3 1 .3 1 .1 1-.1 1 .3 1 .4 1 .6 1 .1 1-.2 1 .4 1-.3 1 .4 1-.3 1-1 1 .8 1-1.2 1 .5 1-.1 1 .3 1 .5 1-.2 1 .4 1-.5 1-.2 1 .3 1-.2 1-.3 1-.1 1-.3 1 .6 1 0 1-.3 1 .4 1-.2 1 .2 1-.4 1 1.1 1 .3 1 .1 1-.5 1 .1 1 .2 1-.3 1 .5 1-.6 1-.6 1-.1 1 .2 1-.3 1 .3 1 .5 1-.6 1 .2 1-.2 1 .5 1-.1 1 .7 1-.9 1-.4 1 .1 1 .4 1-.2 1-.6 1 .3 1 .2 1 0 1 .1 1-.2 1 .3 1 .3 1-.1 1 .2 1 .5 1 .4 1 .6 1-.4 1-.4 1 .1 1-.3 1-.2 1 .4 1 .1 1 .2 1 0 1-.2 1 .2 1-.1 1-1 1-.1 1 .5 1 .3 1-1 1 .3 1 .2 1 0 1-.5 1 0 1-.4 1 .4 1-.3 1 .5 1-.5 1-.1 1 .2 1-.1 1-.2 1 .1 1-.5 0 18.6 -1 .6 -1-.5 -1 .6 -1 0 -1 .4 -1-.5 -1 .3 -1-.5 -1 .6 -1-.2 -1-.2 -1 .4 -1 .6 -1-.3 -1 0 -1-.2 -1 .5 -1 0 -1-.1 -1-.4 -1 1.8 -1 .3 -1-.7 -1 .8 -1-1 -1 .3 -1 .6 -1-1 -1-.3 -1 1.2 -1-.6 -1-.1 -1 .1 -1 0 -1-.8 -1-.8 -1 .6 -1-.1 -1 .3 -1-.6 -1 .4 -1 .4 -1-.2 -1 .1 -1 .1 -1 .1 -1 .1 -1 .1 -1 0 -1 0 -1 .6 -1-.4 -1-.2 -1 .1 -1 .3 -1-.4 -1 .5 -1-.6 -1 .3 -1 .1 -1 0 -1-.6 -1 .4 -1 .4 -1-.5 -1 .3 -1-1 -1 0 -1 .3 -1 .9 -1-.5 -1-.3 -1 .5 -1-.4 -1 .2 -1-.1 -1 .3 -1 .3 -1-.8 -1 .6 -1-.7 -1 0 -1 .5 -1-.3 -1-.4 -1-.2 -1 .5 -1 .2 -1-1.2 -1-.5 -1-.3 -1 .2 -1 .2 -1-.5 -1 1 -1-.6 -1 .8 -1 .5 -1-.2 -1 .4 -1 .3 -1-.3 -1-1.1 -1 .2 -1 0 -1-.8 -1-.3 -1-.1 -1-.4 -1 1.7 -1-.8 -1 .7 -1-.3 -1 .2 -1-.9 -1 .6 -1 .3 -1-.6 -1 .8 -1 .4 -1-.1 -1-.8 -1-.1 -1 .2 -1-.1 -1 .4 -1-.6 -1 .6 -1-.5 -1 .4 -1-.5 -1 1.7 -1-.3 -1 .1 -1-.1 -1-.3 -1-.5 -1-.3 -1 1.1 -1 0 -1-.4 -1 .4 -1-.2 -1-.1 -1-1 -1 .4 -1-.2 -1 0 -1 0 -1 0 -1-.4 -1-.4 -1-.2 -1-.2 -1 .6 -1-.5 -1 1 -1 .7 -1-.2 -1-.5 -1 .3 -1 .7 -1-.4 -1-.1 -1 .5 -1 .2 -1-.2 -1-.3 -1-.9 -1-.1 -1 .9 -1-.4 -1-.6 -1 .2 -1 .6 -1-.2 -1 0 -1 .4 -1 .9 -1-.6 -1-.3 -1-.1 -1 .5 -1 .1 -1 .2 -1 .6 -1-.1 -1 .4 -1-1.1 -1-.3 -1 .1 -1-1 -1-.3 -1 .1 -1 .2 -1-.5 -1 .9 -1 .4 -1-.3 -1 .4 -1-.6 -1 0 -1-.5 -1 .1 -1 .1 -1-.1 -1 .3 -1-.3 -1 0 -1-.2 -1 .3 -1 .3 -1-.1 -1-.3 -1-.2 -1 1 -1-.5 -1 0 -1 0 -1 .1 -1-.2 -1 0 -1 .5 -1-.3 -1 .3 -1 .4 -1-.4 -1-.1 -1 .1 -1 .5 -1-1.7 -1 .5 -1 0 -1-.3 -1 .7 -1-.4 -1 .3 -1 .6 -1-1.2 -1 .7 -1 .5 -1 .1 -1 .2 -1 .5 -1-.2 -1-.2 -1 .3 -1-.8 -1-.1 -1 1.1 -1 .2 -1 1.1 -1-.6 -1 .6 -1-.2 -1 0 -1 .1 -1-.4 -1-.4 -1 .2 -1 .3 -1-.4 -1-.1 -1 0 -1 .6 -1-.6 -1-.3 -1-.2 -1 .3 -1 0 -1-.1 -1-.2 -1 .4 -1 .8 -1-1.1 -1-.2 -1 .3 -1 .1 -1-.1 -1 .4 -1-.1 -1 0 -1 .2 -1-.9 -1 .3 -1-.1 -1 .9 -1-.4 -1-1 -1 .3 -1-.5 -1-.2 -1 .6 -1-.2 -1 .4 -1-.3 -1 .1 -1-1.2 -1 .6 -1 .1 -1-.3 -1-.3 -1 0 -1-.1 -1 0 -1-.7 -1 .4 -1 .8 -1-.9 -1 .4 -1 .1 -1-.5 -1-.2 -1 .2 -1 .6 -1 .6 -1 .2 -1-.4 -1 0 -1-.1 -1 .6 -1 .8 -1 .2 -1-1 -1 .3 -1-.1 -1 .1 -1-.4 -1 .1 -1 .6 -1 .3 -1-1.2 -1 0 -1 .2 -1-.2 -1-.3 -1 .1 -1-.6 -1-.4 -1 .4 -1-.3 -1 .3 -1 .1 -1 .1 -1 .4 -1-.5 -1 .2 -1 .7 -1-.6 -1 .1 -1 .6 -1 .5 -1 .3 -1-.3 -1 .1 -1-.4 -1 .5 -1 .3 -1-1 -1 1 -1-1.3 -1-.6 -1 .5 -1 .4 -1 0 -1-.1 -1-.2 -1 .1 -1 .3 -1 0 -1 .8 -1-.5 -1 .5 -1-.2 -1 .5 -1-.9 -1 .2 -1 .2 -1 .1 -1-.2 -1 .4 -1-.7 -1-.7 -1 .8 -1-.7 -1-.1 -1 0 -1 .5 -1 0 -1 .2 -1-.1 -1 .6 -1-1 -1-.2 -1 .3 -1-.1 -1-.1 -1 .3 -1-13z" fill="rgba(254,0,206,0.25)"/>
<path d="M0 729.5l1 1.7 1-.2 1 .1 1 .2 1-.8 1 .2 1 .4 1-.4 1 .2 1-.1 1 .5 1-.6 1 .3 1 .4 1 .4 1-.5 1 .7 1 .3 1-.7 1 .2 1 .1 1-.1 1-.1 1 .4 1 0 1-.1 1-.3 1 .5 1-.4 1 0 1-.2 1-.1 1 .1 1 0 1 0 1-.4 1-.3 1 .5 1 .6 1-.4 1 .5 1-.2 1-.2 1 0 1 0 1 .2 1-.2 1 0 1-.2 1-.4 1-.3 1-.1 1 0 1 .2 1 .6 1-.2 1-.3 1-.5 1 0 1 .2 1-.1 1 .7 1-.5 1 .2 1-.1 1-.4 1 .4 1 .9 1 0 1-.2 1 0 1 .3 1 0 1 .1 1-.5 1 .7 1 .6 1-.6 1-.4 1 .2 1-.5 1 .5 1-.1 1-.4 1-.2 1-.2 1 .2 1 0 1 .3 1-.4 1 .1 1-.6 1 0 1 .1 1-.1 1 0 1 .4 1 .1 1 .3 1-.2 1-.6 1 1 1-.5 1 .3 1-.5 1 .2 1-.7 1 0 1 .2 1 0 1 1 1 .8 1-.6 1 0 1-.2 1 .3 1-.1 1 0 1 .2 1 0 1-.1 1-.2 1-.1 1 .4 1 .5 1-.8 1-.2 1 .3 1 .3 1-.2 1 0 1 0 1-.1 1 .3 1-.6 1 0 1 0 1 .3 1 0 1 .2 1 .2 1 .3 1-.1 1 0 1-.2 1-.1 1 .2 1-.8 1-.1 1-.9 1 0 1 .6 1-.1 1-.2 1 .3 1-.3 1-.3 1 .1 1-.2 1-.3 1 .7 1-.7 1 0 1 .1 1-.1 1-.1 1-.3 1 0 1 .8 1-.2 1-.1 1 .7 1 .1 1-.1 1-.1 1 .3 1-.6 1 .3 1 0 1 .3 1-.3 1-.2 1 .8 1-.6 1 .1 1 .2 1 .4 1-.2 1-.4 1 .1 1 0 1 .1 1-.3 1 .4 1-.2 1-.5 1 .6 1-.3 1 .5 1-.2 1 0 1-.1 1-.8 1 .5 1-.2 1 0 1-.1 1 1 1-.4 1 .2 1 .5 1-.3 1 0 1-.4 1-.1 1-.2 1 0 1-.1 1 .4 1 .3 1-.5 1 .1 1 .2 1-.4 1-.3 1 0 1 .7 1 0 1-.4 1 .5 1 .2 1 .3 1-.2 1 0 1-.4 1 .3 1 .5 1-.3 1-.2 1 .3 1-.1 1-.6 1-.4 1 .5 1-1 1-.1 1 .6 1-.1 1 .6 1-.1 1 .1 1-.3 1-.2 1-.3 1 .4 1 .1 1 .3 1-.2 1 .1 1 0 1-.7 1 .3 1 .1 1-.3 1 .8 1 0 1 0 1-1.1 1 .7 1-.4 1 .5 1-.5 1 .5 1-.1 1-.2 1-.2 1 .3 1 .4 1 0 1-.3 1-.4 1 .4 1-.2 1-.2 1 .6 1-.2 1 .1 1-.1 1 .6 1-.8 1 0 1-.5 1 .1 1 .5 1 0 1 0 1 .5 1 0 1 .1 1-.3 1 .2 1-.5 1 0 1 .1 1-.5 1 .6 1-.5 1 .4 1-.1 1 .3 1 .5 1-.2 1 0 1-.1 1 .3 1 0 1-.2 1-.4 1 .2 1-.2 1 .3 1 .2 1-.5 1 .3 1-.3 1 .1 1-.1 1 .6 1 .2 1 0 1-.4 1-.1 1 .4 1-.2 1 .4 1-.3 1-.4 1 .1 1-.2 1-.1 1 .1 1 .2 1-.2 1 .6 1-.2 1 0 1 0 1 0 1-.5 1 0 1 .1 1 .1 1 .1 1-.6 1 .2 1 .3 1 .3 1-.2 1-.4 1 .4 1 0 1 .1 1-.2 1-.1 1 .8 1 .4 1-.2 1-.4 1 .4 1-.5 1 0 1 .5 1-.4 1 .1 1 .2 1-.3 1 .6 1-.2 1-1.1 1 .2 1 .4 1 0 1-.7 1 .3 1 .2 1 .1 1-.4 1-.3 1 .1 1 .3 1-.2 1 0 1-.2 1 .2 1-.3 1 .1 1-.3 1 .3 1 2.4 1 0" fill="none" stroke="#FE00CE" stroke-width="3.6" vector-effect="non-scaling-stroke" stroke-linejoin="round"/>
</g>
<path d="M1602.4 720.3 1611.6 711.1 1620.8 720.3 1611.6 729.5 1620.8 738.7 1611.6 747.9 1602.4 738.7 1593.2 747.9 1584.0 738.7 1593.2 729.5 1584.0 720.3 1593.2 711.1Z M1950.0 724.0 1959.2 714.8 1968.4 724.0 1959.2 733.2 1968.4 742.4 1959.2 751.6 1950.0 742.4 1940.8 751.6 1931.6 742.4 1940.8 733.2 1931.6 724.0 1940.8 714.8Z" fill="#FE00CE"/>
</g>
<text x="84.00" y="371.60" font-size="20.6" text-anchor="middle">0</text>
<text x="171.00" y="371.60" font-size="20.6" text-anchor="middle">100</text>
<text x="258.00" y="371.60" font-size="20.6" text-anchor="middle">200</text>
<text x="345.00" y="371.60" font-size="20.6" text-anchor="middle">300</text>
<text x="432.00" y="371.60" font-size="20.6" text-anchor="middle">400</text>
<text x="74.30" y="299.55" font-size="20.6" text-anchor="end">0.3</text>
<text x="74.30" y="226.05" font-size="20.6" text-anchor="end">0.4</text>
<text x="74.30" y="152.55" font-size="20.6" text-anchor="end">0.5</text>
<text x="74.30" y="79.05" font-size="20.6" text-anchor="end">0.6</text>
<text x="18.60" y="191.65" font-size="23.6" text-anchor="middle" transform="rotate(-90 18.60 191.65)">GC</text>
<text x="78.65" y="21.50" font-size="27">a) polbooks</text>
<text x="590.70" y="371.60" font-size="20.6" text-anchor="middle">0</text>
<text x="677.55" y="371.60" font-size="20.6" text-anchor="middle">100</text>
<text x="764.40" y="371.60" font-size="20.6" text-anchor="middle">200</text>
<text x="851.25" y="371.60" font-size="20.6" text-anchor="middle">300</text>
<text x="938.10" y="371.60" font-size="20.6" text-anchor="middle">400</text>
<text x="580.90" y="299.55" font-size="20.6" text-anchor="end">0.3</text>
<text x="580.90" y="226.05" font-size="20.6" text-anchor="end">0.4</text>
<text x="580.90" y="152.55" font-size="20.6" text-anchor="end">0.5</text>
<text x="580.90" y="79.05" font-size="20.6" text-anchor="end">0.6</text>
<text x="525.20" y="191.65" font-size="23.6" text-anchor="middle" transform="rotate(-90 525.20 191.65)">GC</text>
<text x="584.15" y="19.80" font-size="27">b) pso_128</text>
<text x="1096.60" y="371.60" font-size="20.6" text-anchor="middle">0</text>
<text x="1183.45" y="371.60" font-size="20.6" text-anchor="middle">100</text>
<text x="1270.30" y="371.60" font-size="20.6" text-anchor="middle">200</text>
<text x="1357.15" y="371.60" font-size="20.6" text-anchor="middle">300</text>
<text x="1444.00" y="371.60" font-size="20.6" text-anchor="middle">400</text>
<text x="1086.90" y="299.55" font-size="20.6" text-anchor="end">0.3</text>
<text x="1086.90" y="226.05" font-size="20.6" text-anchor="end">0.4</text>
<text x="1086.90" y="152.55" font-size="20.6" text-anchor="end">0.5</text>
<text x="1086.90" y="79.05" font-size="20.6" text-anchor="end">0.6</text>
<text x="1031.20" y="191.65" font-size="23.6" text-anchor="middle" transform="rotate(-90 1031.20 191.65)">GC</text>
<text x="1091.35" y="19.80" font-size="27">c) pso_256</text>
<text x="1602.40" y="371.60" font-size="20.6" text-anchor="middle">0</text>
<text x="1689.30" y="371.60" font-size="20.6" text-anchor="middle">100</text>
<text x="1776.20" y="371.60" font-size="20.6" text-anchor="middle">200</text>
<text x="1863.10" y="371.60" font-size="20.6" text-anchor="middle">300</text>
<text x="1950.00" y="371.60" font-size="20.6" text-anchor="middle">400</text>
<text x="1592.90" y="299.55" font-size="20.6" text-anchor="end">0.3</text>
<text x="1592.90" y="226.05" font-size="20.6" text-anchor="end">0.4</text>
<text x="1592.90" y="152.55" font-size="20.6" text-anchor="end">0.5</text>
<text x="1592.90" y="79.05" font-size="20.6" text-anchor="end">0.6</text>
<text x="1537.20" y="191.65" font-size="23.6" text-anchor="middle" transform="rotate(-90 1537.20 191.65)">GC</text>
<text x="1596.30" y="21.50" font-size="27">d) metabolic</text>
<text x="84.00" y="801.10" font-size="20.6" text-anchor="middle">0</text>
<text x="171.00" y="801.10" font-size="20.6" text-anchor="middle">100</text>
<text x="258.00" y="801.10" font-size="20.6" text-anchor="middle">200</text>
<text x="345.00" y="801.10" font-size="20.6" text-anchor="middle">300</text>
<text x="432.00" y="801.10" font-size="20.6" text-anchor="middle">400</text>
<text x="74.30" y="728.65" font-size="20.6" text-anchor="end">0.3</text>
<text x="74.30" y="655.25" font-size="20.6" text-anchor="end">0.4</text>
<text x="74.30" y="581.85" font-size="20.6" text-anchor="end">0.5</text>
<text x="74.30" y="508.45" font-size="20.6" text-anchor="end">0.6</text>
<text x="18.60" y="621.00" font-size="23.6" text-anchor="middle" transform="rotate(-90 18.60 621.00)">GC</text>
<text x="78.65" y="448.60" font-size="27">e) pso_512</text>
<text x="590.70" y="801.10" font-size="20.6" text-anchor="middle">0</text>
<text x="677.55" y="801.10" font-size="20.6" text-anchor="middle">100</text>
<text x="764.40" y="801.10" font-size="20.6" text-anchor="middle">200</text>
<text x="851.25" y="801.10" font-size="20.6" text-anchor="middle">300</text>
<text x="938.10" y="801.10" font-size="20.6" text-anchor="middle">400</text>
<text x="580.90" y="728.65" font-size="20.6" text-anchor="end">0.3</text>
<text x="580.90" y="655.25" font-size="20.6" text-anchor="end">0.4</text>
<text x="580.90" y="581.85" font-size="20.6" text-anchor="end">0.5</text>
<text x="580.90" y="508.45" font-size="20.6" text-anchor="end">0.6</text>
<text x="525.20" y="621.00" font-size="23.6" text-anchor="middle" transform="rotate(-90 525.20 621.00)">GC</text>
<text x="584.15" y="450.30" font-size="27">f) unicodelang</text>
<text x="1096.60" y="801.10" font-size="20.6" text-anchor="middle">0</text>
<text x="1183.45" y="801.10" font-size="20.6" text-anchor="middle">100</text>
<text x="1270.30" y="801.10" font-size="20.6" text-anchor="middle">200</text>
<text x="1357.15" y="801.10" font-size="20.6" text-anchor="middle">300</text>
<text x="1444.00" y="801.10" font-size="20.6" text-anchor="middle">400</text>
<text x="1086.90" y="728.65" font-size="20.6" text-anchor="end">0.3</text>
<text x="1086.90" y="655.25" font-size="20.6" text-anchor="end">0.4</text>
<text x="1086.90" y="581.85" font-size="20.6" text-anchor="end">0.5</text>
<text x="1086.90" y="508.45" font-size="20.6" text-anchor="end">0.6</text>
<text x="1031.20" y="621.00" font-size="23.6" text-anchor="middle" transform="rotate(-90 1031.20 621.00)">GC</text>
<text x="1091.35" y="448.60" font-size="27">g) a_song_of_ice_and_fire</text>
<text x="1602.40" y="801.10" font-size="20.6" text-anchor="middle">0</text>
<text x="1689.30" y="801.10" font-size="20.6" text-anchor="middle">100</text>
<text x="1776.20" y="801.10" font-size="20.6" text-anchor="middle">200</text>
<text x="1863.10" y="801.10" font-size="20.6" text-anchor="middle">300</text>
<text x="1950.00" y="801.10" font-size="20.6" text-anchor="middle">400</text>
<text x="1592.90" y="728.65" font-size="20.6" text-anchor="end">0.3</text>
<text x="1592.90" y="655.25" font-size="20.6" text-anchor="end">0.4</text>
<text x="1592.90" y="581.85" font-size="20.6" text-anchor="end">0.5</text>
<text x="1592.90" y="508.45" font-size="20.6" text-anchor="end">0.6</text>
<text x="1537.20" y="621.00" font-size="23.6" text-anchor="middle" transform="rotate(-90 1537.20 621.00)">GC</text>
<text x="1596.30" y="448.60" font-size="27">h) pso_1024</text>
<text x="258.15" y="418" font-size="23.6" text-anchor="middle">epoch</text>
<path d="M84.0 888.2H133.9" stroke="#FD3216" stroke-width="8.1"/>
<text x="142.5" y="902.8" font-size="37">RandomSampling</text>
<path d="M484.4 888.2H534.3" stroke="#00FE35" stroke-width="8.1"/>
<text x="542.0" y="902.8" font-size="37">DegreeDependentSampling</text>
<path d="M1069.9 888.2H1119.8" stroke="#6A76FC" stroke-width="8.1"/>
<text x="1126.6" y="902.8" font-size="37">SourceDependentSampling</text>
<path d="M84.0 957.9H133.9" stroke="#FE00CE" stroke-width="8.1"/>
<text x="142.3" y="971.9" font-size="37">TargetDependentSampling</text>
</svg></body></html>
